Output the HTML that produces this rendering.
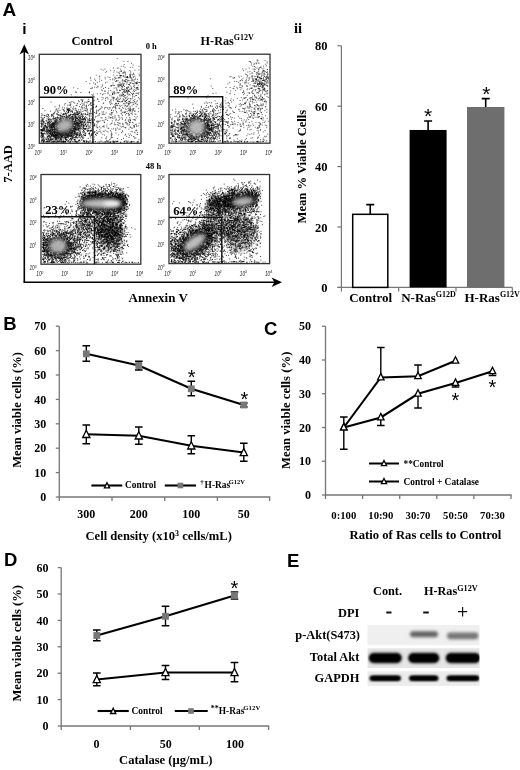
<!DOCTYPE html>
<html><head><meta charset="utf-8"><title>Figure</title>
<style>html,body{margin:0;padding:0;background:#fff}svg{display:block;filter:grayscale(1) blur(0.35px)}.sf{font-family:"Liberation Serif","DejaVu Serif",serif}.ss{font-family:"Liberation Sans","DejaVu Sans",sans-serif}</style>
</head><body>
<svg width="520" height="770" viewBox="0 0 520 770">
<defs><filter id="bl" x="-50%" y="-50%" width="200%" height="200%"><feGaussianBlur stdDeviation="2.2"/></filter>
<filter id="bl2" x="-20%" y="-50%" width="140%" height="200%"><feGaussianBlur stdDeviation="1.1"/></filter>
<filter id="bl3" x="-20%" y="-50%" width="140%" height="200%"><feGaussianBlur stdDeviation="0.8"/></filter>
<filter id="bl4" x="-20%" y="-80%" width="140%" height="260%"><feGaussianBlur stdDeviation="1.6"/></filter>
</defs>
<rect width="520" height="770" fill="#fff"/>
<text x="2.5" y="16.3" font-size="19" text-anchor="start" class="ss" font-weight="bold" >A</text>
<text x="22.3" y="33.7" font-size="15.5" text-anchor="start" class="ss" font-weight="bold" >i</text>
<text x="294" y="32.6" font-size="14.5" text-anchor="start" class="sf" font-weight="bold" >ii</text>
<text x="92.1" y="44.7" font-size="12.5" text-anchor="middle" class="sf" font-weight="bold" >Control</text>
<text x="200.6" y="44.7" font-size="12.2" text-anchor="start" class="sf" font-weight="bold">H-Ras<tspan font-size="8" dy="-4.7">G12V</tspan></text>
<text x="145.7" y="48.5" font-size="8.5" text-anchor="start" class="sf" font-weight="bold" >0 h</text>
<text x="145.8" y="169.2" font-size="8.5" text-anchor="start" class="sf" font-weight="bold" >48 h</text>
<path d="M24.3 282.3V50" stroke="#000" stroke-width="1.6" fill="none"/>
<path d="M24.3 44.2L29 54.6L24.3 51.8L19.6 54.6Z" fill="#000"/>
<path d="M23.5 282.3H276" stroke="#000" stroke-width="1.6" fill="none"/>
<path d="M282 282.3L271.6 287L274.4 282.3L271.6 277.6Z" fill="#000"/>
<text transform="translate(12.3,164) rotate(-90)" font-size="12.5" text-anchor="middle" class="sf" font-weight="bold">7-AAD</text>
<text x="158.2" y="302.4" font-size="13" text-anchor="middle" class="sf" font-weight="bold" >Annexin V</text>
<rect x="39.3" y="54.3" width="101.7" height="89.00000000000001" fill="#fff" stroke="#333" stroke-width="1.3"/>
<clipPath id="cp1"><rect x="39.9" y="54.9" width="100.5" height="87.80000000000001"/></clipPath>
<g clip-path="url(#cp1)">
<ellipse cx="63" cy="128" rx="17" ry="10" fill="#777" opacity="0.6" filter="url(#bl)" transform="rotate(-15 63 128)"/>
<path d="M61.3 131.8h1M59.7 125.4h1M51.8 128.7h1M76.7 126.3h1M75.5 125.2h1M68.0 127.0h1M45.9 139.4h1M70.0 129.0h1M51.7 126.6h1M66.4 125.6h1M67.5 120.2h1M67.5 128.9h1M72.2 134.2h1M54.1 123.5h1M58.8 127.4h1M70.8 126.7h1M55.6 121.3h1M59.9 138.2h1M54.3 131.7h1M64.4 114.1h1M66.6 136.8h1M59.9 121.1h1M68.6 124.8h1M48.2 138.5h1M72.9 131.9h1M80.4 124.7h1M61.3 116.6h1M68.6 120.1h1M54.8 118.9h1M50.7 126.4h1M73.0 106.9h1M46.9 134.0h1M80.9 126.3h1M65.4 120.1h1M52.5 138.4h1M76.0 124.3h1M66.8 129.4h1M82.7 126.1h1M70.2 129.3h1M75.2 127.7h1M68.4 110.2h1M63.3 135.4h1M69.0 123.9h1M68.3 130.8h1M67.1 135.3h1M54.4 126.2h1M75.0 123.5h1M55.1 137.4h1M78.7 118.4h1M46.9 130.9h1M60.6 125.3h1M76.7 114.2h1M74.5 112.8h1M55.5 134.6h1M78.0 129.6h1M67.3 126.9h1M66.1 130.9h1M61.6 129.7h1M69.6 125.0h1M73.1 128.6h1M86.8 122.4h1M57.2 125.7h1M65.0 134.1h1M60.1 131.1h1M78.0 100.9h1M50.7 132.8h1M68.1 127.4h1M59.6 133.5h1M65.0 122.0h1M91.7 121.1h1M56.4 128.2h1M60.3 127.3h1M71.8 114.5h1M64.5 134.5h1M76.3 135.4h1M42.7 130.3h1M60.6 133.0h1M69.2 102.6h1M72.1 112.1h1M67.3 113.2h1M67.8 135.5h1M61.7 129.0h1M72.5 125.3h1M65.6 139.0h1M74.3 121.0h1M91.8 108.5h1M72.9 121.7h1M66.2 131.9h1M67.1 131.1h1M41.9 120.9h1M67.8 117.5h1M47.8 119.4h1M79.3 128.2h1M77.7 114.6h1M60.3 118.3h1M75.5 136.4h1M56.5 142.1h1M73.9 122.1h1M60.5 122.7h1M68.6 128.7h1M77.8 113.9h1M79.5 134.3h1M79.2 120.5h1M56.9 137.4h1M64.6 127.5h1M78.7 119.9h1M43.7 139.8h1M65.2 121.2h1M64.9 133.4h1M67.0 136.9h1M64.8 135.2h1M83.9 134.0h1M57.4 136.1h1M43.0 142.1h1M48.8 131.3h1M60.7 127.5h1M56.8 130.9h1M83.6 121.0h1M71.5 132.8h1M57.8 118.1h1M59.2 137.2h1M42.7 128.3h1M76.4 129.5h1M65.0 133.1h1M62.1 117.4h1M43.6 127.7h1M72.2 119.4h1M50.8 124.3h1M45.2 131.5h1M50.3 134.0h1M51.1 114.4h1M70.7 122.3h1M65.3 122.5h1M73.7 129.9h1M71.4 127.1h1M79.8 127.3h1M63.2 109.5h1M76.4 133.8h1M58.5 124.5h1M81.1 106.7h1M54.0 135.6h1M84.3 119.4h1M71.6 131.9h1M52.4 129.5h1M68.3 132.3h1M62.1 125.6h1M50.5 127.9h1M73.5 124.6h1M51.2 123.6h1M96.3 126.3h1M64.2 104.9h1M71.3 128.5h1M83.3 124.3h1M63.5 131.2h1M43.2 141.8h1M65.1 120.5h1M82.5 136.1h1M45.3 126.9h1M66.8 127.4h1M56.1 121.0h1M89.8 127.4h1M46.1 121.0h1M84.9 128.5h1M85.8 126.7h1M53.6 132.1h1M63.6 131.2h1M54.4 128.6h1M69.1 128.3h1M70.8 126.3h1M61.2 134.2h1M61.6 120.5h1M55.8 129.2h1M62.1 128.6h1M63.4 128.3h1M58.5 117.9h1M70.3 133.6h1M67.5 124.0h1M65.8 118.0h1M41.4 134.2h1M54.1 136.0h1M44.4 110.8h1M55.4 117.9h1M55.5 133.7h1M69.1 126.6h1M81.7 127.1h1M64.2 131.6h1M84.3 128.6h1M72.2 115.1h1M63.0 133.1h1M62.1 136.2h1M72.0 131.8h1M76.7 121.0h1M61.1 134.9h1M74.3 123.6h1M50.1 132.6h1M69.8 134.4h1M72.0 124.4h1M74.1 128.1h1M65.5 126.7h1M61.8 133.1h1M49.4 125.9h1M59.6 115.8h1M53.3 113.2h1M56.5 133.8h1M69.4 124.6h1M57.0 117.0h1M85.2 124.5h1M73.4 116.4h1M56.6 113.8h1M74.2 131.4h1M41.1 133.3h1M66.1 111.3h1M52.5 118.5h1M64.0 128.8h1M71.9 130.1h1M83.0 130.6h1M46.8 127.8h1M48.3 122.5h1M62.1 127.3h1M64.9 113.1h1M48.8 131.2h1M60.0 125.3h1M60.5 121.4h1M71.9 127.2h1M60.4 122.2h1M54.6 106.8h1M51.8 130.8h1M46.2 133.9h1M61.4 115.9h1M59.4 125.5h1M69.7 130.0h1M60.6 120.6h1M61.2 127.0h1M72.1 126.6h1M51.5 119.2h1M57.0 122.7h1M50.0 130.1h1M57.6 129.5h1M68.0 122.0h1M88.9 116.3h1M75.9 124.0h1M70.2 104.9h1M55.0 131.6h1M69.7 135.6h1M74.0 131.5h1M68.5 124.0h1M66.3 117.0h1M74.1 115.0h1M60.5 127.9h1M76.4 123.1h1M54.4 131.8h1M71.4 130.4h1M82.2 121.2h1M65.1 122.8h1M77.5 116.6h1M69.6 120.9h1M56.7 135.0h1M78.3 122.2h1M57.2 135.6h1M63.2 129.5h1M83.1 130.2h1M64.9 133.0h1M55.5 129.0h1M75.8 112.9h1M41.9 119.9h1M75.4 119.3h1M61.6 124.8h1M59.0 119.1h1M59.9 115.9h1M62.9 129.6h1M67.8 123.6h1M53.0 131.4h1M61.1 140.7h1M71.5 123.4h1M55.9 123.3h1M51.4 127.6h1M67.6 129.9h1M74.5 141.0h1M55.0 129.6h1M90.6 102.8h1M57.4 130.1h1M65.7 129.6h1M61.1 130.6h1M65.4 132.7h1M60.5 119.1h1M52.5 135.5h1M57.0 134.2h1M72.3 126.7h1M68.6 124.4h1M46.8 131.8h1M67.0 121.3h1M63.6 133.1h1M54.4 135.0h1M83.0 116.2h1M64.3 125.3h1M81.4 124.0h1M71.7 118.5h1M62.8 127.0h1M69.2 110.4h1M71.2 123.4h1M69.0 128.2h1M45.3 130.7h1M78.8 117.3h1M48.1 120.2h1M49.8 133.9h1M83.4 124.3h1M55.5 123.7h1M70.4 129.3h1M48.6 121.7h1M66.9 127.9h1M47.5 130.1h1M57.9 132.4h1M61.5 126.8h1M61.4 136.3h1M78.1 119.3h1M70.9 118.2h1M65.6 132.5h1M79.5 118.7h1M62.6 128.8h1M45.9 132.4h1M56.1 132.2h1M45.4 115.9h1M64.1 128.9h1M58.8 135.7h1M58.4 123.3h1M64.8 113.3h1M55.2 129.2h1M72.3 122.7h1M65.0 120.9h1M70.4 138.6h1M55.7 129.4h1M67.4 134.2h1M43.9 115.3h1M71.8 130.9h1M65.9 128.2h1M74.5 126.5h1M79.1 111.6h1M50.6 102.0h1M71.4 121.3h1M78.7 140.2h1M62.3 125.1h1M55.3 122.4h1M57.3 134.1h1M63.6 127.4h1M63.2 134.6h1M68.3 124.2h1M70.3 123.5h1M53.2 142.2h1M66.1 118.0h1M76.2 125.8h1M68.9 132.6h1M64.9 125.2h1M47.5 139.9h1M62.7 124.7h1M67.2 126.4h1M69.9 121.8h1M57.5 110.8h1M59.7 133.7h1M77.5 119.5h1M65.4 139.5h1M61.0 133.8h1M82.3 121.4h1M75.4 117.2h1M65.2 125.7h1M67.0 135.2h1M88.8 113.4h1M57.6 132.8h1M52.1 134.5h1M68.9 122.9h1M65.4 113.3h1M68.1 112.5h1M53.7 125.2h1M60.4 135.0h1M63.0 123.7h1M73.0 137.2h1M63.9 129.8h1M77.8 124.7h1M83.6 104.0h1M63.5 130.3h1M75.7 128.7h1M57.4 119.9h1M66.6 134.5h1M48.1 123.0h1M58.1 112.3h1M59.0 124.6h1M66.5 120.0h1M52.0 127.1h1M60.9 122.1h1M64.9 132.7h1M80.6 135.8h1M53.0 126.6h1M54.6 129.3h1M65.8 114.8h1M68.3 125.2h1M42.8 135.7h1M72.3 108.5h1M72.7 125.7h1M69.5 128.7h1M77.4 120.7h1M72.0 120.8h1M69.4 118.2h1M65.9 140.6h1M67.7 124.2h1M48.0 125.0h1M67.4 133.5h1M69.1 129.5h1M65.7 137.5h1M57.2 124.2h1M73.3 124.3h1M58.4 123.6h1M61.5 132.7h1M64.2 116.5h1M68.3 126.9h1M53.4 136.5h1M59.0 125.4h1M75.2 134.3h1M56.1 132.8h1M60.2 137.9h1M57.5 135.5h1M82.4 99.7h1M59.2 132.4h1M60.4 122.2h1M87.9 120.0h1M46.2 139.4h1M46.0 141.9h1M56.7 130.2h1M77.7 123.4h1M43.0 119.0h1M78.3 128.5h1M55.7 136.5h1M70.2 130.2h1M75.1 129.4h1M67.3 105.1h1M66.1 130.2h1M90.0 110.7h1M59.3 128.4h1M72.1 120.5h1M74.3 116.9h1M64.8 122.0h1M63.2 121.2h1M47.3 141.0h1M65.2 121.7h1M67.6 133.9h1M51.5 129.6h1M70.4 129.1h1M54.2 112.1h1M78.0 125.1h1M62.5 124.8h1M65.0 122.8h1M49.5 125.0h1M54.7 124.4h1M51.2 136.0h1M49.5 136.7h1M52.2 133.3h1M79.2 123.7h1M54.7 130.0h1M60.6 113.2h1M56.4 130.4h1M57.8 129.3h1M73.2 130.3h1M74.8 128.3h1M59.7 127.9h1M59.2 125.6h1M56.9 114.5h1M59.1 128.0h1M51.8 130.3h1M68.5 123.9h1M80.6 99.7h1M56.3 113.8h1M68.2 122.8h1M64.0 107.9h1M73.6 126.8h1M61.9 122.4h1M69.2 121.0h1M64.4 122.3h1M67.1 132.0h1M52.9 129.9h1M70.4 125.9h1M82.0 137.8h1M48.0 115.5h1M76.4 135.7h1M75.5 129.9h1M54.2 123.7h1M71.0 116.9h1M96.1 132.9h1M53.4 123.9h1M63.9 120.5h1M77.8 121.8h1M53.6 140.9h1M56.8 130.8h1M62.1 124.6h1M65.1 120.6h1M46.7 125.7h1M62.9 127.5h1M69.7 125.9h1M52.2 124.4h1M69.8 129.3h1M61.2 126.1h1M73.8 123.8h1M72.8 128.8h1M68.5 136.2h1M55.6 126.3h1M51.9 123.8h1M85.0 134.9h1M64.6 131.3h1M78.4 129.0h1M73.8 113.1h1M56.7 132.7h1M79.7 122.7h1M52.3 127.3h1M53.4 122.8h1M78.7 116.9h1M77.4 125.4h1M57.0 132.3h1M83.1 126.0h1M77.7 123.3h1M68.4 123.6h1M71.0 135.4h1M46.4 131.6h1M64.4 121.8h1M61.3 134.1h1M87.4 124.7h1M63.1 114.0h1M85.3 120.8h1M60.0 118.6h1M59.8 118.8h1M64.9 130.3h1M64.0 129.0h1M56.6 140.9h1M51.2 115.4h1M59.0 121.8h1M50.6 127.9h1M63.5 116.9h1M64.8 138.4h1M70.5 123.4h1M64.2 125.6h1M64.2 132.8h1M56.3 109.0h1M60.7 120.3h1M69.0 120.0h1M48.3 122.1h1M41.2 113.7h1M42.3 136.4h1M51.3 115.0h1M47.5 137.0h1M53.2 126.9h1M70.0 136.2h1M87.7 128.0h1M65.1 127.9h1M87.0 131.5h1M60.5 131.6h1M66.4 126.4h1M54.1 118.6h1M53.2 117.1h1M78.3 126.8h1M52.5 141.9h1M68.7 109.3h1M86.0 126.7h1M83.8 110.3h1M70.1 128.4h1M65.7 127.6h1M71.5 111.8h1M45.5 120.7h1M55.2 124.4h1M67.8 127.7h1M61.8 121.7h1M60.2 135.8h1M72.0 125.1h1M63.0 140.0h1M57.7 134.1h1M75.6 120.9h1M69.8 115.5h1M75.1 124.9h1M46.4 137.7h1M55.8 140.0h1M54.8 128.1h1M65.5 123.5h1M64.7 121.9h1M70.7 124.7h1M58.9 105.2h1M76.4 123.1h1M42.8 134.1h1M70.9 133.5h1M62.9 132.7h1M56.2 119.8h1M77.7 130.0h1M82.7 128.1h1M52.5 116.3h1M53.9 124.1h1M55.0 134.3h1M66.1 123.8h1M64.6 125.3h1M67.2 132.0h1M72.4 118.4h1M66.9 135.0h1M43.4 130.3h1M59.9 115.9h1M58.8 134.4h1M79.1 135.4h1M49.8 119.4h1M71.2 132.3h1M62.1 116.4h1M73.8 130.3h1M68.2 121.3h1M68.4 132.0h1M52.2 114.9h1M67.9 129.5h1M65.3 133.7h1M56.1 128.5h1M60.9 132.4h1M80.7 119.4h1M90.2 131.4h1M73.5 128.7h1M82.9 119.3h1M59.2 119.3h1M71.6 135.6h1M70.1 128.3h1M61.1 129.0h1M49.1 140.1h1M55.7 120.0h1M52.4 123.4h1M75.3 132.1h1M49.6 138.9h1M71.8 119.4h1M44.2 126.6h1M56.5 131.9h1M54.1 112.8h1M62.1 114.4h1M70.5 114.6h1M53.0 122.9h1M59.8 138.8h1M74.2 128.6h1M63.0 114.0h1M55.7 124.6h1M53.0 134.4h1M52.8 124.2h1M46.2 115.0h1M73.0 135.1h1M62.7 118.9h1M77.6 125.0h1M77.1 135.0h1M74.9 119.6h1M76.9 129.2h1M44.4 129.4h1M46.4 131.2h1M67.1 116.8h1M70.8 136.9h1M50.3 139.8h1M91.5 135.0h1M61.2 129.8h1M63.6 135.2h1M75.1 124.0h1M49.2 137.5h1M59.1 133.5h1M69.9 138.5h1M75.0 119.5h1M71.2 139.2h1M57.9 132.2h1M79.6 132.4h1M65.8 115.1h1M49.1 133.4h1M55.8 138.8h1M67.9 111.5h1M54.0 131.2h1M57.0 127.6h1M66.5 119.1h1M66.8 120.5h1M58.0 133.0h1M57.1 131.2h1M81.4 121.5h1M63.1 133.1h1M61.4 136.6h1M49.8 136.3h1M55.2 122.7h1M81.3 114.2h1M84.7 125.8h1M77.3 114.4h1M80.2 133.9h1M61.4 126.4h1M91.6 119.6h1M56.7 123.7h1M68.9 127.9h1M69.1 139.5h1M60.4 131.8h1M77.4 114.2h1M79.2 137.3h1M44.9 123.4h1M46.7 116.6h1M63.8 111.2h1M72.2 136.3h1M43.7 130.3h1M42.9 139.8h1M53.9 127.6h1M64.9 131.0h1M59.1 128.3h1M57.0 129.8h1M49.7 131.6h1M85.1 120.8h1M49.2 133.4h1M47.9 117.8h1M56.3 135.2h1M67.2 124.9h1M49.8 122.0h1M79.1 124.1h1M47.1 114.2h1M49.6 130.5h1M65.0 125.1h1M56.6 117.5h1M56.3 136.1h1M42.9 130.9h1M68.4 134.0h1M51.5 135.5h1M65.7 120.0h1M66.3 118.4h1M53.8 129.7h1M48.1 119.4h1M59.9 134.3h1M61.4 138.1h1M46.6 121.1h1M81.7 124.5h1M71.9 117.3h1M72.8 126.1h1M70.5 124.9h1M75.3 117.8h1M48.5 119.1h1M74.6 117.2h1M48.8 123.5h1M54.9 118.9h1M58.2 123.2h1M54.4 121.6h1M62.3 123.3h1M64.9 128.5h1M61.7 109.1h1M55.0 122.8h1M68.1 112.2h1M54.1 127.3h1M61.5 135.8h1M60.2 135.9h1M41.9 118.3h1M78.0 126.0h1M68.9 126.2h1M65.7 116.0h1M72.6 119.6h1M74.5 124.2h1M75.6 122.0h1M59.0 130.3h1M56.8 124.3h1M64.5 127.7h1M80.5 122.0h1M88.8 134.1h1M85.2 129.0h1M64.8 127.6h1M59.6 121.9h1M60.7 122.3h1M83.1 125.3h1M53.4 113.9h1M61.4 124.0h1M47.9 122.2h1M62.3 126.0h1M79.9 122.9h1M64.0 123.6h1M59.6 140.6h1M78.5 136.6h1M59.1 128.5h1M55.2 137.5h1M48.4 136.3h1M78.9 133.9h1M54.8 138.7h1M53.0 123.7h1M50.6 140.5h1M80.5 116.6h1M53.5 127.1h1M94.1 125.8h1M52.5 115.2h1M58.1 138.5h1M83.8 118.3h1M53.9 125.6h1M43.5 140.6h1M53.1 139.0h1M40.4 123.3h1M64.5 120.1h1M72.0 124.3h1M51.0 135.9h1M68.1 109.4h1M85.1 124.3h1M67.3 110.1h1M53.9 126.9h1M71.9 112.0h1M48.1 114.6h1M61.1 130.5h1M42.3 128.5h1M72.6 137.3h1M69.9 122.3h1M47.3 124.0h1M55.7 130.5h1M66.4 139.9h1M63.8 117.8h1M82.9 128.8h1M62.5 121.1h1M71.6 117.6h1M48.3 133.2h1M67.2 130.8h1M73.8 135.4h1M55.7 137.5h1M53.3 135.8h1M65.6 128.2h1M74.1 123.4h1M77.8 129.7h1M63.2 122.2h1M53.1 125.6h1M60.6 127.5h1M98.7 121.3h1M69.8 117.7h1M54.1 127.1h1M62.8 118.4h1M80.1 117.0h1M69.8 105.3h1M63.6 129.1h1M66.6 130.9h1M66.6 127.2h1M66.1 124.4h1M52.2 125.5h1M88.2 133.7h1M65.4 137.1h1M55.4 122.0h1M57.0 130.4h1M96.1 111.2h1M64.2 128.9h1M64.8 134.2h1M80.4 111.2h1M64.2 124.4h1M63.5 114.0h1M69.5 126.6h1M58.2 108.7h1M56.9 122.6h1M44.6 125.0h1M72.3 128.7h1M64.0 131.0h1M56.3 129.7h1M64.8 131.1h1M61.9 126.2h1M59.9 122.5h1M89.8 123.0h1M75.4 110.1h1M73.0 130.9h1M87.7 130.4h1M69.1 115.3h1M53.7 132.1h1M66.4 117.4h1M57.6 125.3h1M64.5 129.4h1M56.8 118.6h1M81.0 134.8h1M64.2 135.2h1M69.7 130.5h1M66.7 119.5h1M72.0 132.7h1M91.3 133.5h1M87.6 125.6h1M57.7 123.6h1M54.0 130.8h1M64.2 132.2h1M89.0 118.7h1M71.9 128.2h1M65.6 124.4h1M59.6 121.1h1M65.0 126.2h1M64.6 119.3h1M63.6 127.2h1M67.4 116.7h1M70.1 133.0h1M69.0 122.1h1M56.8 126.9h1M75.0 136.3h1M59.7 122.6h1M67.8 127.2h1M50.8 124.6h1M63.4 132.5h1M46.9 123.4h1M65.8 115.9h1M65.1 129.3h1M59.3 119.6h1M61.5 124.7h1M64.9 119.4h1M71.6 110.3h1M61.0 127.7h1M72.6 118.9h1M67.9 120.7h1M75.6 137.7h1M59.4 131.8h1M54.7 137.7h1M77.0 123.0h1M50.9 134.1h1M78.7 131.3h1M68.0 110.1h1M58.6 140.3h1M51.6 140.0h1M86.4 126.1h1M75.1 120.5h1M48.7 130.6h1M60.6 127.3h1M70.6 123.4h1M66.2 129.6h1M67.3 141.1h1M68.3 126.1h1M59.1 123.0h1M78.8 123.4h1M49.3 126.5h1M60.4 124.1h1M72.7 114.3h1M69.0 126.4h1M49.6 131.5h1M63.1 131.2h1M58.6 130.9h1M41.3 124.6h1M74.5 132.2h1M61.4 122.5h1M70.5 107.2h1M55.4 135.0h1M68.0 116.8h1M62.6 119.6h1M65.8 133.7h1M66.6 108.5h1M67.6 110.7h1M77.0 126.0h1M87.4 114.3h1M65.5 135.0h1M54.0 123.9h1M58.6 127.8h1M51.7 134.5h1M69.4 125.6h1M81.7 118.5h1M76.7 118.2h1M67.1 109.5h1M64.9 125.0h1M55.9 124.1h1M57.3 122.7h1M55.5 124.9h1M50.6 129.7h1M71.4 122.3h1M60.6 139.1h1M76.4 130.6h1M75.5 120.4h1M64.1 136.0h1M56.4 128.1h1M68.2 128.5h1M62.2 135.5h1M62.7 133.2h1M76.8 128.2h1M68.7 115.5h1M46.5 126.9h1M72.0 136.8h1M49.7 133.7h1M51.5 124.4h1M61.5 133.3h1M68.2 135.3h1M53.8 137.3h1M73.8 124.2h1M67.1 121.0h1M49.5 127.8h1M61.3 141.3h1M66.1 128.7h1M69.7 118.4h1M74.4 126.6h1M47.0 137.0h1M70.4 128.5h1M80.2 118.2h1M70.6 130.9h1M55.5 139.4h1M43.3 122.2h1M66.4 116.8h1M57.8 114.8h1M61.1 118.1h1M63.3 114.1h1M67.5 123.4h1M63.6 126.3h1M61.4 116.4h1M51.2 126.8h1M63.2 110.3h1M52.8 125.0h1M51.7 133.2h1M59.5 121.2h1M53.6 136.7h1M56.8 133.8h1M63.7 110.9h1M50.6 130.9h1M68.8 131.7h1M74.6 132.1h1M58.2 126.7h1M70.9 121.0h1M71.4 111.1h1M70.1 123.4h1M42.8 141.5h1M66.6 126.1h1M49.6 127.3h1M78.4 115.3h1M48.9 130.2h1M56.3 121.4h1M55.8 138.0h1M54.2 120.6h1M73.4 128.5h1M52.8 136.4h1M75.3 121.1h1M49.3 135.5h1M73.5 123.6h1M41.5 130.8h1M69.6 131.4h1M83.6 118.5h1M57.4 128.4h1M74.6 115.5h1M71.5 101.4h1M70.5 119.0h1M69.9 130.6h1M49.2 130.5h1M67.1 130.6h1M50.0 122.7h1M60.3 126.0h1M48.1 139.4h1M60.3 139.9h1M72.8 124.1h1M68.7 115.9h1M57.9 123.8h1M48.5 131.6h1M64.7 138.5h1M51.4 126.7h1M68.8 128.6h1M62.2 123.3h1M68.4 134.1h1M62.5 131.5h1M61.9 123.6h1M56.6 123.2h1M66.5 136.9h1M89.8 141.8h1M46.3 127.1h1M44.0 133.6h1M93.7 137.0h1M60.0 133.5h1M90.3 124.0h1M65.8 124.4h1M60.8 139.4h1M57.6 125.1h1M60.4 136.2h1M53.1 135.2h1M73.9 129.7h1M52.2 129.4h1M43.6 129.2h1M54.9 132.8h1M82.7 142.1h1M52.4 136.1h1M65.0 137.5h1M60.4 133.3h1M52.0 124.3h1M74.8 142.0h1M71.3 134.7h1M64.5 127.2h1M63.4 126.3h1M43.6 141.9h1M47.8 130.8h1M51.4 132.3h1M56.4 124.6h1M78.3 124.3h1M51.4 135.7h1M50.9 127.3h1M66.1 127.9h1M41.4 139.2h1M46.6 128.0h1M54.4 133.3h1M76.9 137.9h1M47.1 138.7h1M58.2 134.0h1M55.4 136.6h1M79.0 140.6h1M56.5 139.5h1M84.7 123.0h1M85.0 119.6h1M69.2 136.0h1M85.2 133.4h1M51.8 124.2h1M56.0 124.9h1M69.0 124.5h1M52.6 127.1h1M57.3 117.6h1M64.7 131.6h1M65.9 135.8h1M54.6 138.9h1M74.2 132.8h1M53.1 126.9h1M71.8 121.7h1M57.3 124.6h1M59.6 131.3h1M74.9 118.3h1M58.9 133.5h1M74.1 121.8h1M72.2 132.9h1M83.0 140.7h1M60.0 127.4h1M54.2 123.0h1M59.5 115.0h1M58.6 134.6h1M76.9 128.0h1M83.6 125.5h1M57.7 115.0h1M47.1 124.3h1M84.8 135.4h1M41.7 135.4h1M68.0 129.1h1M60.4 128.5h1M51.0 116.3h1M58.5 141.7h1M83.8 128.7h1M47.6 129.2h1M74.9 133.9h1M50.3 134.0h1M56.6 135.3h1M53.2 118.8h1M61.0 137.3h1M41.6 130.1h1M74.6 127.9h1M73.7 139.5h1M72.2 142.0h1M44.6 125.5h1M63.3 115.0h1M70.6 135.6h1M52.6 135.4h1M72.8 133.6h1M52.1 132.3h1M51.4 139.5h1M53.3 134.9h1M62.3 131.5h1M88.3 130.3h1M83.3 137.8h1M81.7 129.6h1M75.3 137.2h1M49.9 133.2h1M57.9 130.7h1M81.4 125.1h1M52.6 125.7h1M60.2 135.6h1M88.9 133.5h1M67.6 125.0h1M69.5 142.1h1M82.0 115.0h1M73.5 118.8h1M55.0 135.8h1M66.8 124.4h1M45.4 138.9h1M60.3 133.5h1M71.3 119.0h1M93.9 119.5h1M67.9 137.0h1M53.9 129.3h1M56.1 126.3h1M64.1 132.3h1M49.7 133.1h1M59.8 130.4h1M78.1 116.9h1M64.1 122.3h1M42.3 130.2h1M50.3 138.8h1M44.0 117.3h1M68.4 128.1h1M54.8 139.8h1M45.5 128.0h1M62.4 134.4h1M51.6 139.4h1M96.6 127.7h1M90.5 113.8h1M83.0 128.2h1M62.2 128.2h1M49.6 120.6h1M53.6 141.6h1M78.6 128.2h1M51.4 125.3h1M70.8 132.0h1M52.0 122.7h1M81.5 137.4h1M44.5 139.1h1M41.9 136.2h1M44.3 127.6h1M68.1 134.5h1M76.5 124.2h1M85.8 142.0h1M59.8 134.8h1M47.3 129.8h1M63.3 142.0h1M75.5 137.6h1M54.1 129.2h1M54.4 132.8h1M60.4 126.8h1M87.1 130.2h1M85.7 140.6h1M51.9 134.3h1M81.2 128.3h1M61.4 126.4h1M61.0 128.1h1M61.3 139.2h1M82.7 132.1h1M63.3 138.0h1M55.3 122.4h1M78.1 123.4h1M75.2 123.1h1M89.9 122.5h1M46.6 116.6h1M71.8 136.7h1M56.7 110.4h1M59.1 128.5h1M53.8 128.6h1M54.1 125.2h1M66.5 139.7h1M71.8 121.5h1M62.6 132.1h1M83.5 140.8h1M68.5 140.9h1M53.0 134.2h1M75.0 123.5h1M48.5 116.7h1M62.7 130.6h1M54.7 135.1h1M61.4 128.8h1M52.7 123.3h1M50.1 131.8h1M69.6 124.0h1M76.3 122.6h1M73.5 134.5h1M55.7 129.6h1M67.8 138.0h1M47.9 136.1h1M82.4 131.4h1M58.3 132.5h1M69.2 132.3h1M53.5 125.0h1M57.1 140.9h1M58.3 142.0h1M64.5 130.9h1M80.4 120.5h1M43.8 122.0h1M51.0 136.2h1M69.7 114.4h1M83.8 126.2h1M58.7 120.9h1M49.6 125.1h1M43.5 128.3h1M74.3 133.9h1M43.8 131.9h1M60.5 137.2h1M54.6 134.7h1M94.4 131.8h1M42.3 133.7h1M46.9 128.0h1M63.1 133.7h1M55.4 137.9h1M56.9 120.4h1M74.3 128.0h1M79.8 125.7h1M69.3 133.6h1M77.8 135.0h1M71.0 127.0h1M59.8 132.8h1M66.9 136.8h1M56.6 125.3h1M50.8 134.4h1M53.3 126.5h1M55.6 109.3h1M54.4 129.0h1M72.7 114.8h1M55.0 134.9h1M68.0 140.8h1M77.2 122.4h1M70.4 128.3h1M49.7 124.0h1M53.3 124.0h1M76.5 134.1h1M82.9 134.4h1M49.9 139.6h1M49.3 127.2h1M57.3 131.3h1M79.5 126.0h1M65.8 130.8h1M56.4 134.3h1M65.2 134.9h1M60.8 127.3h1M67.0 122.8h1M47.8 126.5h1M59.3 124.4h1M53.1 117.0h1M62.4 123.8h1M66.6 107.8h1M46.9 133.0h1M61.5 131.8h1M62.4 123.0h1M72.2 130.6h1M60.3 127.3h1M69.0 131.8h1M78.7 134.7h1M49.9 129.2h1M75.1 128.0h1M66.3 135.3h1M57.1 111.9h1M62.2 132.8h1M62.2 124.8h1M79.9 129.9h1M49.8 125.1h1M65.9 122.0h1M81.5 139.7h1M82.4 135.9h1M80.4 135.0h1M82.5 127.0h1M62.1 137.4h1M58.6 140.0h1M61.3 136.7h1M61.4 118.8h1M64.6 141.8h1M69.1 126.1h1M60.3 115.2h1M56.9 138.5h1M73.6 141.9h1M44.7 125.6h1M67.0 126.9h1M96.2 110.2h1M58.9 132.8h1M97.4 132.1h1M76.2 142.3h1M68.5 134.0h1M57.0 127.6h1M52.6 113.8h1M64.4 130.7h1M58.2 128.8h1M47.7 130.8h1M52.7 132.7h1M111.6 134.3h1M74.3 137.7h1M71.8 137.8h1M76.7 142.2h1M51.7 131.0h1M47.9 138.9h1M73.8 127.1h1M80.5 121.8h1M58.5 136.3h1M59.4 134.2h1M79.5 133.7h1M41.8 136.9h1M58.4 131.9h1M50.6 119.6h1M42.3 108.5h1M79.0 121.4h1M48.0 135.4h1M47.3 136.5h1M52.0 133.5h1M61.7 131.0h1M51.0 135.4h1M62.7 135.0h1M76.4 118.6h1M64.5 129.5h1M54.8 123.9h1M47.0 122.5h1M88.2 131.1h1M72.3 122.9h1M59.3 122.7h1M56.0 122.7h1M53.4 124.3h1M45.3 123.3h1M40.8 129.7h1M61.7 135.6h1M78.7 126.4h1M64.9 125.2h1M76.8 115.1h1M63.4 129.1h1M63.6 127.0h1M67.4 136.3h1M72.7 135.8h1M66.8 121.3h1M53.0 132.1h1M53.7 122.3h1M60.5 126.2h1M53.1 123.6h1M47.6 130.2h1M49.3 136.6h1M57.6 132.1h1M66.7 141.5h1M70.0 132.9h1M57.3 124.3h1M54.3 136.7h1M63.8 127.8h1M65.3 139.5h1M66.2 119.6h1M56.5 132.8h1M44.8 133.9h1M56.7 124.1h1M65.9 123.6h1M43.2 138.4h1M69.9 128.5h1M86.4 128.6h1M42.5 140.0h1M56.9 133.9h1M60.6 122.7h1M40.3 129.4h1M83.3 122.7h1M82.5 132.8h1M41.6 133.2h1M69.4 123.6h1M41.6 134.6h1M46.6 118.8h1M56.0 132.4h1M50.8 121.2h1M63.5 116.5h1M68.8 135.1h1M87.7 138.3h1M65.9 133.2h1M60.5 120.0h1M84.2 135.4h1M55.3 121.5h1M84.5 135.4h1M40.4 136.6h1M91.3 130.8h1M66.6 127.6h1M49.6 139.9h1M110.9 132.0h1M58.0 137.6h1M55.0 137.0h1M73.7 122.6h1M42.3 130.4h1M73.7 133.3h1M80.5 119.6h1M68.1 125.9h1M61.7 133.7h1M44.0 129.1h1M40.8 133.2h1M46.0 126.9h1M63.6 125.6h1M78.9 125.7h1M74.0 133.3h1M42.9 129.2h1M46.2 128.0h1M67.4 120.2h1M77.0 134.2h1M56.5 128.9h1M64.3 128.5h1M51.2 128.0h1M79.3 125.9h1M66.3 121.5h1M48.3 119.7h1M56.7 136.6h1M65.0 126.9h1M70.1 128.1h1M66.1 133.3h1M68.9 110.6h1M56.1 126.5h1M84.6 135.6h1M91.2 135.2h1M56.7 137.0h1M47.0 127.3h1M50.9 129.2h1M72.8 127.0h1M65.3 126.9h1M74.5 108.3h1M56.6 132.4h1M42.3 139.3h1M63.6 141.5h1M75.8 136.3h1M57.5 122.1h1M56.4 127.2h1M64.1 127.2h1M110.2 117.9h1M79.3 127.1h1M56.0 138.6h1M60.0 121.0h1M66.8 129.4h1M42.7 124.9h1M67.9 133.5h1M66.9 126.0h1M63.9 130.0h1M57.0 128.7h1M50.7 139.1h1M58.1 134.1h1M52.9 129.6h1M44.4 125.7h1M79.9 133.1h1M80.1 138.0h1M75.1 139.2h1M50.1 137.6h1M54.7 126.7h1M73.6 124.1h1M64.5 134.0h1M66.1 128.1h1M74.1 137.4h1M70.8 140.0h1M43.8 130.7h1M65.6 139.2h1M62.6 135.2h1M100.5 132.9h1M67.6 136.5h1M76.7 132.6h1M46.0 130.2h1M65.5 128.7h1M49.1 128.1h1M58.5 128.0h1M64.9 130.7h1M40.8 122.2h1M66.1 123.9h1M67.0 122.2h1M62.2 130.4h1M76.3 127.8h1M53.9 133.0h1M55.8 126.6h1M54.8 134.9h1M63.8 136.7h1M90.1 130.7h1M66.8 112.7h1M60.2 118.9h1M76.9 118.7h1M82.6 138.4h1M54.1 135.1h1M84.8 128.3h1M59.7 126.4h1M78.9 113.4h1M83.2 123.1h1M75.2 117.7h1M44.7 126.1h1M73.5 117.7h1M69.9 125.8h1M80.3 128.5h1M68.0 129.6h1M89.3 128.1h1M61.3 136.6h1M47.9 132.6h1M49.4 118.7h1M67.0 118.6h1M89.7 125.3h1M54.0 133.0h1M41.4 117.8h1M47.8 140.7h1M75.6 118.1h1M79.7 131.3h1M68.2 131.4h1M66.8 122.8h1M45.1 125.2h1M54.0 136.1h1M49.7 126.2h1M71.5 134.5h1M54.5 122.2h1M43.6 117.9h1M78.7 139.9h1M90.6 135.1h1M65.4 137.2h1M75.6 128.9h1M44.2 137.2h1M79.4 128.2h1M71.0 130.6h1M64.9 126.6h1M59.6 131.0h1M59.9 138.9h1M77.4 137.4h1M73.2 123.2h1M79.8 123.2h1M81.1 136.5h1M43.8 140.5h1M48.8 124.9h1M76.7 125.5h1M90.2 136.7h1M51.2 121.1h1M81.3 122.3h1M60.0 128.7h1M55.8 135.1h1M94.3 125.8h1M73.9 139.9h1M55.3 129.8h1M51.3 125.6h1M61.1 124.0h1M42.9 128.6h1M84.4 129.3h1M68.6 119.0h1M53.5 118.4h1M58.3 136.0h1M64.3 123.4h1M73.1 138.9h1M67.3 127.5h1M59.2 125.8h1M57.9 133.6h1M55.1 139.0h1M102.6 126.5h1M65.6 137.8h1M70.6 129.0h1M52.1 139.2h1M70.3 135.2h1M46.8 136.2h1M73.0 129.5h1M40.8 119.8h1M56.1 135.5h1M60.9 121.4h1M60.2 124.2h1M46.2 129.7h1M51.0 126.2h1M60.7 128.6h1M70.2 121.3h1M58.8 137.3h1M79.4 135.6h1M60.6 118.2h1M71.1 135.7h1M42.6 121.3h1M62.6 122.6h1M86.1 125.9h1M50.7 138.1h1M65.4 123.6h1M42.2 115.0h1M70.3 136.8h1M76.1 134.5h1M49.0 121.3h1M41.7 137.3h1M67.8 115.2h1M74.8 141.3h1M60.5 121.0h1M89.2 120.2h1M58.6 115.2h1M78.0 140.7h1M53.3 119.8h1M59.0 134.1h1M58.3 136.8h1M61.2 134.7h1M65.2 123.4h1M57.9 127.9h1M68.0 124.6h1M83.9 131.3h1M68.8 136.2h1M77.2 134.4h1M90.9 134.9h1M69.3 134.9h1M49.4 125.4h1M49.3 140.6h1M67.6 121.2h1M89.0 133.8h1M79.8 132.8h1M54.6 132.4h1M41.3 121.0h1M45.2 126.6h1M90.7 130.6h1M74.8 129.2h1M66.5 130.7h1M51.0 131.6h1M55.2 122.0h1M54.0 135.6h1M48.6 135.0h1M41.8 130.1h1M64.4 137.3h1M87.8 128.6h1M96.2 124.9h1M55.3 117.6h1M70.7 133.2h1M93.8 132.4h1M55.8 119.2h1M58.6 138.9h1M72.4 141.3h1M74.5 130.6h1M70.1 132.4h1M66.3 122.2h1M66.5 133.4h1M85.7 123.0h1M65.7 133.9h1M41.3 127.1h1M63.3 137.3h1M96.9 133.5h1M49.9 111.1h1M78.1 129.9h1M113.8 141.9h1M52.9 141.1h1M77.8 141.1h1M86.5 141.2h1M129.7 142.3h1M46.5 141.8h1M60.2 141.6h1M131.4 141.9h1M52.1 141.5h1M84.0 141.2h1M113.0 141.2h1M87.2 142.0h1M109.7 142.1h1M100.2 141.2h1M62.6 142.0h1M43.2 141.3h1M43.2 141.2h1M132.8 141.7h1M54.9 141.1h1M116.3 141.3h1M55.9 142.2h1M47.2 141.2h1M94.8 141.7h1M79.7 141.1h1M115.1 141.2h1M85.9 141.4h1M105.4 141.6h1M82.9 141.3h1M75.2 141.3h1M125.6 141.3h1M76.7 141.8h1M116.8 141.4h1M117.5 141.1h1M46.9 141.4h1M92.2 142.1h1M112.2 141.2h1M65.0 141.8h1M74.7 141.8h1M48.9 142.1h1M115.8 141.7h1M64.7 142.0h1M41.4 141.6h1M120.1 142.3h1M76.6 142.3h1M137.5 141.5h1M48.4 141.6h1M40.7 141.7h1M57.2 142.1h1M64.6 141.7h1M60.6 141.7h1M70.2 141.2h1M46.1 141.1h1M76.1 141.4h1M50.8 142.2h1M57.4 141.3h1M70.1 142.0h1M109.4 142.1h1M113.4 141.3h1M134.1 141.9h1M123.9 141.2h1M123.6 141.6h1M107.5 141.7h1M131.3 141.4h1M106.5 141.5h1M53.9 141.3h1M62.0 141.2h1M64.9 141.9h1M92.5 141.3h1M68.3 141.9h1M117.1 141.6h1M59.0 141.6h1M78.4 141.9h1M104.5 142.1h1M127.7 141.2h1M63.2 141.2h1M83.9 141.4h1M48.8 141.4h1M88.1 142.1h1M51.3 142.0h1M46.6 142.1h1M126.6 142.0h1M63.7 142.1h1M127.2 142.1h1M47.7 142.2h1M113.7 142.0h1M85.4 142.2h1M76.0 142.0h1M57.6 141.9h1M126.5 142.3h1M131.1 142.1h1M131.0 142.0h1M61.4 141.9h1M83.9 142.0h1M102.5 142.1h1M124.1 142.1h1M41.6 142.3h1M53.3 142.1h1M54.5 142.0h1M129.5 142.0h1M63.1 142.1h1M136.6 142.2h1M49.9 141.9h1M68.8 142.2h1M51.2 142.1h1M137.2 142.1h1M97.3 142.1h1M109.7 142.2h1M63.4 142.3h1M105.2 142.1h1M136.7 142.1h1M130.8 142.1h1M114.1 142.3h1M52.3 142.1h1M61.2 142.2h1M42.9 142.0h1M83.8 142.1h1M88.3 141.9h1M108.0 142.1h1M69.9 142.2h1M99.2 142.1h1M113.1 142.2h1M46.4 141.9h1M137.9 142.0h1M88.0 142.2h1M44.9 142.0h1M55.8 142.0h1M113.4 142.2h1M89.3 142.1h1M44.5 142.1h1M109.7 142.3h1M112.2 142.1h1M62.8 142.0h1M53.4 142.1h1M98.5 142.0h1M103.8 142.1h1M61.8 142.2h1M60.1 142.2h1M106.7 142.2h1M55.3 142.1h1M120.1 142.2h1M48.4 141.9h1M91.5 142.1h1M86.3 142.1h1M68.1 123.5h1M70.0 111.8h1M76.6 114.4h1M88.8 114.7h1M70.8 123.7h1M71.8 116.3h1M78.0 128.0h1M66.5 109.7h1M74.1 128.3h1M94.1 97.0h1M73.1 118.2h1M66.2 129.9h1M78.7 120.1h1M98.4 101.5h1M89.3 118.1h1M69.3 118.4h1M96.1 112.3h1M74.6 110.0h1M88.8 115.6h1M105.6 113.0h1M86.9 114.4h1M76.2 114.1h1M82.0 117.5h1M89.1 120.7h1M78.6 112.5h1M92.6 122.6h1M71.8 126.2h1M85.6 117.8h1M82.5 114.1h1M84.4 129.5h1M88.5 97.6h1M55.5 137.5h1M69.2 119.1h1M64.2 130.8h1M75.1 114.9h1M97.3 127.7h1M97.4 115.8h1M76.9 124.9h1M82.7 125.7h1M83.5 113.9h1M80.2 109.8h1M92.2 122.4h1M77.0 123.9h1M66.1 135.0h1M82.0 105.7h1M95.3 107.3h1M55.3 120.6h1M85.2 110.5h1M81.8 100.8h1M81.3 124.9h1M74.5 126.8h1M76.1 122.6h1M90.9 130.2h1M69.5 131.1h1M85.7 102.2h1M88.9 132.3h1M75.1 92.1h1M68.2 108.6h1M77.7 111.3h1M68.9 116.3h1M78.8 113.1h1M68.3 122.5h1M78.2 109.8h1M81.4 100.0h1M80.2 112.8h1M90.3 103.5h1M65.7 113.8h1M99.8 108.9h1M66.1 123.0h1M75.5 134.1h1M73.1 102.2h1M84.0 122.5h1M80.1 121.0h1M77.9 120.1h1M76.9 112.1h1M82.1 116.8h1M74.6 113.9h1M69.3 126.3h1M75.3 97.1h1M78.8 130.2h1M83.7 107.4h1M86.7 102.8h1M78.9 135.6h1M72.9 119.5h1M57.7 122.4h1M66.1 124.9h1M65.0 136.9h1M71.9 116.5h1M75.2 127.0h1M91.0 105.3h1M100.6 117.7h1M92.2 111.1h1M66.6 132.1h1M74.9 121.9h1M58.6 128.6h1M76.1 110.4h1M88.2 126.8h1M77.2 112.1h1M91.5 88.5h1M70.9 126.7h1M62.2 107.2h1M84.2 121.6h1M76.8 132.7h1M88.1 122.4h1M63.3 128.0h1M102.3 120.4h1M90.7 109.3h1M77.0 112.8h1M85.5 106.3h1M70.1 103.9h1M71.3 139.4h1M79.5 119.0h1M56.7 132.3h1M91.4 94.7h1M54.3 132.7h1M71.9 120.2h1M59.9 117.6h1M68.9 130.3h1M81.2 123.6h1M70.2 128.9h1M74.1 121.5h1M87.2 112.0h1M67.3 109.6h1M82.1 122.6h1M71.6 121.8h1M55.0 121.1h1M87.6 123.7h1M67.6 109.3h1M67.4 110.4h1M83.9 132.3h1M80.2 115.0h1M86.4 108.7h1M82.1 117.1h1M75.8 105.5h1M88.8 119.0h1M43.8 115.6h1M75.9 133.6h1M81.2 122.3h1M87.3 120.1h1M69.2 118.4h1M84.4 119.4h1M85.1 116.4h1M78.2 128.4h1M87.3 121.8h1M57.7 141.5h1M55.2 135.6h1M72.1 123.2h1M72.0 119.2h1M81.4 119.0h1M59.0 106.9h1M72.8 126.7h1M71.7 126.4h1M70.2 114.3h1M96.8 121.0h1M76.8 118.4h1M81.4 103.0h1M74.5 131.2h1M84.6 108.8h1M72.0 125.5h1M62.0 124.2h1M64.7 103.5h1M87.2 119.0h1M82.0 101.5h1M61.8 121.3h1M74.4 140.2h1M67.0 122.5h1M82.1 119.6h1M87.4 101.2h1M87.3 113.1h1M67.2 126.9h1M71.5 138.0h1M75.3 129.5h1M88.0 105.2h1M69.8 124.9h1M71.7 130.9h1M76.3 111.8h1M74.5 127.4h1M71.3 138.8h1M69.4 122.0h1M76.2 134.9h1M91.9 121.0h1M84.8 114.2h1M97.7 110.9h1M84.9 118.8h1M86.5 114.9h1M69.2 108.6h1M92.4 95.6h1M53.6 127.8h1M102.6 113.0h1M73.3 123.8h1M68.8 105.1h1M76.0 122.2h1M84.2 102.2h1M48.6 122.9h1M81.6 116.3h1M80.1 118.0h1M68.2 111.5h1M84.2 117.5h1M89.3 122.3h1M55.2 111.0h1M70.8 126.8h1M81.1 122.9h1M107.4 92.9h1M73.6 115.2h1M82.8 119.8h1M74.3 133.3h1M91.4 113.2h1M75.8 117.2h1M64.7 133.5h1M66.1 121.3h1M83.7 105.2h1M76.7 127.2h1M93.3 100.9h1M86.0 106.2h1M84.0 118.6h1M71.4 132.5h1M96.1 106.2h1M75.4 108.4h1M96.0 106.3h1M68.8 131.7h1M60.4 123.4h1M63.1 141.5h1M97.0 98.8h1M68.9 118.6h1M74.9 125.5h1M87.9 101.5h1M74.2 103.1h1M92.7 107.1h1M78.0 132.9h1M83.1 127.8h1M96.1 121.7h1M70.3 123.8h1M80.8 114.2h1M89.9 103.0h1M94.1 120.2h1M54.3 124.8h1M66.6 120.5h1M81.1 114.2h1M76.7 114.4h1M79.4 121.8h1M81.9 107.8h1M73.4 113.7h1M69.7 109.7h1M90.5 116.0h1M73.7 114.3h1M70.5 116.7h1M70.1 139.2h1M105.0 87.6h1M69.1 129.7h1M76.9 103.5h1M61.4 134.6h1M64.7 140.9h1M73.5 121.9h1M75.4 114.3h1M75.2 117.0h1M89.9 109.0h1M75.3 114.7h1M68.4 117.4h1M86.4 130.1h1M90.1 112.0h1M99.1 113.4h1M79.3 115.5h1M68.3 127.1h1M67.7 109.7h1M74.0 139.5h1M82.4 119.8h1M77.9 113.6h1M87.5 122.0h1M77.3 123.5h1M86.0 107.9h1M76.3 112.0h1M82.3 111.5h1M85.9 105.2h1M93.3 104.5h1M65.6 117.7h1M80.7 107.9h1M101.7 114.2h1M76.7 105.1h1M74.5 113.4h1M62.0 133.1h1M97.4 99.5h1M91.8 121.0h1M66.9 122.3h1M82.8 119.3h1M67.6 127.2h1M81.2 125.0h1M59.6 125.1h1M71.6 119.3h1M82.3 109.0h1M101.9 94.8h1M90.9 119.0h1M86.6 110.1h1M68.6 121.9h1M85.1 114.3h1M86.4 117.9h1M65.0 117.8h1M90.1 105.0h1M70.7 141.0h1M65.5 117.5h1M82.5 104.0h1M74.1 130.8h1M81.2 140.1h1M91.1 135.1h1M79.5 117.5h1M70.6 120.9h1M72.9 121.2h1M79.9 104.4h1M59.5 110.4h1M92.6 107.3h1M77.6 117.7h1M89.4 113.3h1M85.7 111.1h1M76.5 118.5h1M64.5 137.8h1M57.9 122.1h1M84.9 113.8h1M93.8 123.8h1M102.7 114.5h1M85.0 133.1h1M68.9 123.4h1M86.9 109.8h1M75.2 116.5h1M80.4 92.5h1M95.4 116.4h1M79.8 122.2h1M73.4 131.9h1M104.2 91.2h1M91.6 108.2h1M72.5 117.1h1M70.5 111.0h1M72.1 138.2h1M80.3 121.8h1M83.2 119.0h1M58.6 122.1h1M88.8 120.3h1M64.1 121.9h1M70.4 129.6h1M81.6 115.9h1M73.1 124.7h1M41.3 123.3h1M41.7 124.0h1M42.4 135.6h1M40.5 135.3h1M41.4 123.6h1M42.7 124.3h1M41.5 133.1h1M42.2 134.0h1M42.8 136.9h1M40.4 133.6h1M41.3 135.2h1M40.9 137.5h1M42.9 122.4h1M40.6 132.3h1M41.9 131.3h1M42.3 119.4h1M42.2 140.5h1M42.6 133.8h1M41.0 133.6h1M41.2 115.7h1M40.6 129.6h1M40.7 121.6h1M41.0 126.7h1M41.4 129.6h1M41.5 138.9h1M41.5 133.7h1M40.8 136.1h1M40.9 124.4h1M40.7 132.2h1M42.7 134.8h1M44.0 128.8h1M42.4 136.2h1M40.5 130.4h1M40.6 120.8h1M41.7 123.0h1M43.3 123.3h1M40.6 130.8h1M40.7 130.5h1M40.6 117.2h1M43.1 134.0h1M41.5 125.8h1M41.1 132.7h1M41.2 130.3h1M42.9 137.9h1M42.4 120.4h1M41.2 125.6h1M41.7 130.1h1M42.4 129.8h1M43.1 121.4h1M42.4 121.0h1M43.0 127.5h1M42.8 126.3h1M41.8 140.3h1M40.6 126.6h1M41.1 140.5h1" stroke="#000" stroke-width="1.0" stroke-opacity="0.7" fill="none"/>
<path d="M118.6 85.7h1M125.0 79.4h1M120.9 84.1h1M129.8 67.4h1M130.1 71.8h1M128.1 113.4h1M119.3 85.2h1M125.7 97.8h1M123.7 64.6h1M113.5 88.1h1M130.3 98.8h1M123.2 94.0h1M118.4 101.5h1M127.4 77.9h1M129.6 106.9h1M120.4 71.1h1M118.9 72.1h1M127.5 90.2h1M126.5 88.4h1M138.7 82.5h1M116.7 58.6h1M130.2 77.8h1M125.8 90.9h1M132.2 67.2h1M119.4 86.9h1M126.7 99.8h1M123.5 61.2h1M138.5 66.4h1M119.3 90.7h1M118.5 115.9h1M130.1 92.4h1M124.1 112.6h1M132.9 77.4h1M122.7 89.5h1M129.2 74.5h1M119.6 90.5h1M122.3 80.8h1M136.9 87.5h1M127.0 87.2h1M117.4 100.7h1M121.2 101.7h1M123.9 80.5h1M122.2 79.6h1M133.4 108.5h1M133.5 81.3h1M117.9 77.9h1M126.9 88.9h1M122.1 101.4h1M119.4 77.4h1M132.5 91.8h1M124.5 97.5h1M115.3 105.6h1M129.1 109.6h1M128.5 102.0h1M126.2 88.3h1M132.7 65.0h1M126.1 106.6h1M101.7 90.6h1M136.3 89.9h1M129.8 102.6h1M131.0 63.3h1M119.5 82.4h1M129.3 80.6h1M127.1 106.0h1M101.6 99.8h1M136.4 93.2h1M128.1 86.8h1M131.3 88.9h1M121.5 95.4h1M120.6 85.5h1M124.8 72.2h1M133.4 85.2h1M117.5 85.1h1M115.6 103.2h1M132.6 109.8h1M122.9 94.5h1M119.3 75.8h1M127.2 90.9h1M136.3 82.8h1M137.9 97.6h1M120.1 83.9h1M119.8 106.4h1M123.1 96.6h1M136.2 83.0h1M123.6 90.1h1M121.0 70.9h1M119.3 90.1h1M129.7 107.1h1M111.6 92.0h1M117.7 99.8h1M134.2 87.5h1M123.3 73.4h1M122.1 87.4h1M134.0 101.3h1M125.6 77.3h1M125.0 80.9h1M123.8 81.2h1M120.2 85.4h1M123.4 84.0h1M115.6 87.7h1M133.1 93.7h1M123.1 72.4h1M116.4 72.0h1M122.3 82.3h1M112.1 94.0h1M114.2 77.8h1M121.6 95.9h1M125.6 81.3h1M126.2 84.0h1M127.0 76.6h1M131.2 79.8h1M133.1 73.2h1M112.2 94.3h1M123.8 72.3h1M131.9 79.9h1M134.6 79.5h1M136.0 87.8h1M131.2 87.9h1M124.8 81.7h1M132.0 94.4h1M124.4 112.5h1M137.7 85.2h1M130.1 76.7h1M127.3 77.4h1M116.3 80.7h1M131.2 80.9h1M124.9 73.3h1M130.2 73.1h1M135.4 114.4h1M125.1 105.5h1M131.3 78.1h1M124.9 74.7h1M129.0 94.3h1M136.3 82.7h1M117.4 85.1h1M127.4 61.5h1M124.2 92.4h1M119.6 101.9h1M123.0 75.7h1M122.9 84.9h1M136.9 79.4h1M112.2 85.1h1M132.6 104.2h1M118.0 103.5h1M134.0 91.4h1M121.2 75.6h1M119.5 97.0h1M129.9 98.6h1M127.6 108.6h1M116.4 80.8h1M124.7 81.6h1M129.3 76.2h1M138.3 70.0h1M120.8 66.2h1M115.6 93.0h1M133.6 83.7h1M135.5 93.3h1M122.9 85.6h1M131.3 109.7h1M124.1 90.4h1M132.8 100.4h1M131.8 98.7h1M118.6 83.0h1M110.9 85.5h1M128.8 89.2h1M129.3 70.5h1M121.9 84.0h1M129.5 75.9h1M127.1 77.5h1M116.3 78.3h1M120.9 95.9h1M126.1 79.5h1M114.1 79.9h1M130.0 83.2h1M128.0 91.0h1M127.9 91.1h1M121.2 86.6h1M124.9 98.7h1M117.0 101.3h1M127.2 80.2h1M128.2 87.5h1M125.9 91.0h1M122.9 66.2h1M134.2 85.8h1M110.3 100.6h1M121.9 92.5h1M118.3 85.0h1M113.8 93.9h1M133.0 74.1h1M132.0 97.0h1M135.1 78.2h1M121.9 73.0h1M116.6 89.8h1M128.4 101.3h1M130.4 82.3h1M115.4 104.1h1M129.5 85.7h1M119.1 73.8h1M133.6 74.7h1M133.2 93.4h1M124.6 67.2h1M131.6 102.5h1M120.7 71.4h1M137.6 87.8h1M122.5 100.4h1M125.6 91.4h1M124.4 77.3h1M129.9 76.1h1M112.3 79.8h1M138.9 98.9h1M124.2 91.5h1M119.6 94.7h1M124.0 89.1h1M120.5 84.6h1M136.7 83.6h1M122.1 89.4h1M135.8 83.9h1M117.7 68.0h1M116.2 98.5h1M127.2 91.7h1M137.5 89.4h1M132.3 80.2h1M113.8 93.4h1M127.2 92.8h1M118.6 84.5h1M128.9 101.4h1M126.0 87.6h1M109.2 95.1h1M124.1 101.1h1M127.2 81.8h1M131.8 83.4h1M123.5 104.0h1M136.7 87.4h1M135.1 95.7h1M133.1 86.7h1M128.6 90.9h1M133.0 90.3h1M123.1 85.3h1M132.0 74.8h1M127.9 94.9h1M129.5 82.9h1M127.8 80.6h1M136.7 81.8h1M113.3 72.2h1M130.6 88.6h1M123.8 71.0h1M126.7 76.5h1M122.2 86.2h1M121.2 89.8h1M121.5 80.8h1M126.0 103.0h1M121.5 86.2h1M136.1 95.5h1M113.7 85.5h1M121.5 94.8h1M133.6 80.0h1M121.1 139.5h1M116.3 105.4h1M137.9 111.7h1M127.1 94.2h1M125.8 122.4h1M116.6 105.4h1M105.1 117.5h1M135.3 124.5h1M131.9 122.4h1M112.1 93.5h1M128.9 114.6h1M132.6 108.3h1M112.5 118.6h1M116.0 88.8h1M115.5 99.7h1M110.0 104.4h1M134.3 111.2h1M126.3 102.6h1M121.2 88.3h1M128.3 103.9h1M124.9 95.4h1M118.0 125.3h1M128.4 84.5h1M131.2 93.5h1M125.1 119.7h1M115.1 107.7h1M119.4 118.0h1M131.8 131.7h1M125.5 140.7h1M111.8 137.6h1M119.2 123.2h1M120.6 113.4h1M112.1 117.8h1M121.8 112.3h1M129.7 109.3h1M122.0 115.3h1M136.0 125.8h1M110.7 103.2h1M122.2 124.3h1M132.4 109.3h1M137.1 132.5h1M128.2 90.5h1M102.8 103.5h1M129.7 127.4h1M120.9 127.1h1M128.2 134.0h1M104.9 100.4h1M111.7 97.4h1M113.1 106.6h1M131.5 105.7h1M129.9 120.1h1M115.1 78.6h1M112.1 94.5h1M110.5 117.6h1M122.6 98.9h1M133.8 125.3h1M125.0 101.4h1M112.6 83.0h1M126.1 117.8h1M112.1 112.6h1M103.6 120.9h1M117.4 105.2h1M128.7 110.4h1M132.7 119.6h1M134.5 113.9h1M98.7 131.6h1M103.7 127.1h1M124.7 92.4h1M122.7 124.8h1M111.0 112.8h1M114.0 97.9h1M115.3 130.4h1M129.4 111.8h1M121.1 114.0h1M125.1 114.8h1M103.5 125.3h1M112.8 75.1h1M129.6 95.0h1M120.5 110.8h1M115.6 119.8h1M119.1 108.2h1M111.7 108.2h1M110.8 112.8h1M136.3 126.6h1M126.6 92.7h1M133.1 125.5h1M122.2 107.4h1M133.8 96.7h1M132.7 83.7h1M122.2 131.7h1M115.3 120.7h1M123.1 91.3h1M115.2 128.3h1M134.8 103.6h1M134.2 102.0h1M124.7 111.8h1M108.5 116.7h1M117.8 72.9h1M113.0 100.0h1M113.0 98.2h1M114.6 77.1h1M131.6 113.2h1M124.8 108.3h1M122.7 108.4h1M110.2 90.4h1M122.8 126.7h1M124.5 135.2h1M107.2 108.3h1M115.3 129.7h1M129.9 108.6h1M111.2 110.5h1M110.7 134.3h1M128.4 129.1h1M125.9 77.3h1M130.7 113.4h1M96.2 113.5h1M132.9 136.6h1M110.9 123.4h1M125.6 109.6h1M118.9 119.7h1M128.2 121.5h1M117.6 93.2h1M136.3 130.7h1M115.9 111.6h1M130.7 86.9h1M124.9 101.9h1M124.3 106.0h1M124.0 86.3h1M108.1 90.9h1M131.8 110.7h1M134.5 82.8h1M115.5 133.0h1M113.4 85.3h1M113.9 107.1h1M121.9 130.8h1M136.4 134.3h1M128.3 104.8h1M116.6 90.8h1M135.8 130.0h1M123.0 99.2h1M129.3 119.1h1M123.7 95.3h1M124.6 103.9h1M130.0 120.6h1M126.8 105.9h1M138.5 123.2h1M135.7 124.1h1M129.2 117.7h1M110.4 85.9h1M111.9 120.9h1M131.8 114.7h1M123.0 138.4h1M117.7 86.4h1M105.3 107.4h1M129.6 122.6h1M119.6 123.8h1M121.5 101.6h1M117.9 122.9h1M132.3 95.9h1M111.3 113.8h1M108.5 118.0h1M127.5 103.2h1M121.7 119.0h1M103.2 111.7h1M128.5 125.3h1M134.6 111.0h1M106.4 131.3h1M130.3 102.9h1M133.2 126.9h1M120.5 78.1h1M116.9 101.1h1M113.0 110.8h1M110.3 117.6h1M133.2 104.4h1M127.9 110.2h1M135.8 101.8h1M129.9 100.9h1M124.5 111.8h1M133.7 89.3h1M107.5 132.0h1M126.2 136.4h1M110.9 115.0h1M128.5 137.4h1M121.4 105.6h1M129.7 110.5h1M113.9 123.0h1M101.5 97.4h1M136.7 104.8h1M118.5 117.3h1M134.1 119.6h1M111.6 103.8h1M133.3 110.3h1M115.2 124.6h1M110.4 101.8h1M114.5 117.1h1M116.9 128.0h1M93.1 125.8h1M115.1 108.1h1M128.1 114.9h1M111.1 133.6h1M128.2 104.9h1M124.2 96.1h1M108.8 107.7h1M125.9 113.5h1M113.7 92.1h1M104.0 135.0h1M126.0 100.5h1M134.7 119.8h1M117.6 103.2h1M134.2 116.7h1M115.7 103.4h1M114.5 115.7h1M124.7 120.7h1M126.8 96.9h1M119.8 98.5h1M127.2 93.1h1M115.8 99.7h1M115.4 108.3h1M138.2 108.3h1M106.6 107.7h1M130.0 120.0h1M100.2 131.2h1M88.7 101.3h1M134.0 126.7h1M126.1 90.6h1M100.3 120.8h1M103.8 122.2h1M106.5 125.0h1M118.4 129.2h1M134.5 70.2h1M116.9 97.1h1M128.8 91.6h1M99.0 126.8h1M117.2 124.7h1M113.9 70.7h1M128.9 84.4h1M113.0 68.0h1M101.7 117.9h1M128.5 115.7h1M111.5 123.0h1M123.5 83.5h1M116.4 112.8h1M126.6 82.8h1M104.5 93.7h1M93.1 94.1h1M126.7 111.3h1M97.2 122.9h1M94.2 124.3h1M95.8 75.2h1M101.3 106.6h1M102.3 134.3h1M137.7 89.3h1M127.7 120.2h1M117.7 87.1h1M138.3 139.7h1M88.7 92.8h1M105.0 82.9h1M110.8 135.4h1M89.3 130.7h1M104.4 69.0h1M135.7 88.4h1M99.2 76.8h1M107.5 77.0h1M97.5 86.8h1M118.7 101.5h1M104.2 107.4h1M129.0 122.3h1M106.2 136.8h1M129.9 110.1h1M113.2 92.7h1M95.1 134.4h1M120.2 75.4h1M137.1 134.5h1M89.8 120.5h1M100.6 108.2h1M132.2 94.3h1M114.4 117.9h1M98.2 115.0h1M110.5 141.7h1M97.9 121.3h1M90.2 88.6h1M94.2 79.2h1M116.0 81.1h1M130.1 75.2h1M121.0 132.6h1M94.7 84.3h1M128.5 103.3h1M137.4 93.3h1M109.1 139.8h1M106.2 140.5h1M135.2 83.0h1M116.9 138.6h1M94.2 131.7h1M129.0 124.2h1M119.8 75.5h1M138.8 75.7h1M129.5 122.2h1M104.8 119.3h1M109.8 124.3h1M90.3 138.0h1M108.4 128.2h1M113.0 128.9h1M104.0 108.9h1M89.3 104.7h1M92.2 132.4h1M123.9 99.9h1M138.7 74.2h1M125.3 122.6h1M120.1 69.2h1M137.0 100.9h1M119.5 129.1h1M102.6 70.2h1M136.9 88.3h1M90.2 78.3h1M99.1 79.0h1M135.6 117.9h1M118.9 77.8h1M109.9 139.0h1M88.2 99.4h1M93.5 139.5h1M132.6 122.9h1M90.2 120.2h1M114.1 104.8h1M95.7 106.4h1M130.5 77.9h1M134.4 99.5h1M102.1 85.9h1M112.4 116.6h1M118.2 134.8h1M115.1 106.4h1M88.9 92.6h1M104.6 77.3h1M110.2 70.6h1M136.8 104.3h1M134.6 120.3h1M126.7 124.9h1M104.0 122.7h1M98.9 109.6h1M119.6 126.2h1M96.9 93.8h1M131.7 128.3h1M99.1 76.0h1M126.4 123.9h1M122.3 126.5h1M115.3 110.2h1M136.8 116.6h1M122.8 112.2h1M114.2 124.8h1M118.3 77.7h1M110.6 99.6h1M110.9 110.1h1M107.2 97.3h1M110.6 95.9h1M88.9 122.1h1M108.9 101.7h1M119.4 95.5h1M100.7 69.2h1M134.3 138.4h1M103.2 102.9h1M105.2 72.4h1M135.3 130.7h1M100.8 87.1h1M125.0 127.8h1M112.9 97.1h1M100.4 127.9h1M133.8 132.3h1M94.1 112.5h1M112.3 78.9h1M91.2 122.9h1M91.6 128.7h1M123.3 103.5h1M135.3 137.9h1M120.7 75.5h1M119.2 99.6h1M101.2 137.7h1M126.7 77.1h1M100.1 93.7h1M118.4 92.4h1M111.3 129.0h1M97.6 122.0h1M105.5 138.8h1M138.4 92.6h1M120.1 76.3h1M109.8 114.7h1M121.8 93.7h1M89.8 77.3h1M117.7 80.8h1M104.2 114.4h1M135.7 106.6h1M101.5 111.9h1M102.6 126.7h1M96.3 87.6h1M111.2 136.1h1M96.8 82.4h1M95.0 84.0h1M105.6 97.6h1M128.3 98.3h1M113.2 97.7h1M129.0 135.7h1M110.6 137.1h1M101.3 141.3h1M115.8 119.1h1M108.2 88.4h1M95.2 134.4h1M107.1 120.4h1M112.4 107.5h1M99.0 81.3h1M105.8 119.1h1M116.8 68.2h1M125.7 100.5h1M91.7 87.5h1M99.2 129.7h1M117.2 92.5h1M101.2 89.8h1M102.8 94.0h1M129.9 127.1h1M125.0 134.4h1M122.7 76.5h1M90.4 80.3h1M101.7 107.6h1M131.6 111.9h1M110.8 86.2h1M106.1 71.4h1M132.9 76.8h1M122.6 94.7h1M135.1 90.3h1M93.3 82.9h1M130.7 141.4h1M122.1 119.1h1M103.0 88.4h1M92.6 141.9h1M90.3 113.9h1M106.5 82.0h1M111.1 137.8h1M101.1 80.3h1M121.4 117.3h1M115.1 81.5h1M134.3 76.3h1M97.2 86.1h1M115.2 103.7h1M117.3 122.5h1M135.4 103.1h1M90.2 130.3h1M89.0 91.8h1M95.6 113.2h1M129.4 77.7h1M103.6 131.8h1M124.5 76.1h1M124.4 127.6h1M109.7 79.6h1M122.9 91.9h1M95.1 80.4h1M109.3 77.5h1M108.4 109.4h1M117.3 98.3h1M130.4 74.6h1M105.5 138.0h1M133.8 137.1h1M128.6 108.2h1M129.7 110.9h1M94.2 87.2h1M93.2 133.6h1M105.1 98.6h1M116.5 75.6h1M125.4 127.7h1M130.2 134.1h1M104.8 78.9h1M128.4 120.0h1M107.7 93.7h1M96.1 130.4h1M102.7 131.2h1M94.1 100.2h1M106.4 127.0h1M132.7 102.3h1M119.2 105.4h1M131.2 127.9h1M109.4 102.8h1M89.4 135.8h1M126.9 99.2h1M76.0 92.3h1M138.5 82.5h1M127.5 113.3h1M109.3 114.0h1M99.1 115.1h1M76.4 137.9h1M77.3 88.7h1M117.7 120.4h1M127.3 123.6h1M136.1 83.3h1M70.8 94.9h1M125.3 89.6h1M107.7 128.5h1M81.1 113.2h1M134.0 127.1h1M98.3 110.2h1M89.7 140.5h1M125.6 122.9h1M91.6 126.1h1M104.6 130.3h1M95.8 135.5h1M118.6 108.4h1M110.0 130.7h1M107.6 140.5h1M70.5 136.5h1M120.7 110.8h1M130.3 89.4h1M94.0 125.0h1M128.5 103.5h1M73.2 87.8h1M75.4 115.9h1M92.9 96.4h1M101.8 84.9h1M134.5 132.8h1M109.7 108.0h1M91.9 118.0h1M94.6 141.5h1M137.9 125.8h1M128.6 84.7h1M78.8 101.8h1M79.0 106.6h1M138.1 94.0h1M85.7 81.5h1M89.4 83.6h1M107.5 98.9h1M117.8 115.3h1M112.4 98.9h1M122.2 123.4h1M120.7 109.7h1M102.9 98.0h1M72.8 109.4h1M113.8 91.7h1M131.1 135.4h1M130.6 131.4h1M104.7 91.1h1M89.2 126.5h1M70.4 102.3h1M94.8 117.7h1" stroke="#000" stroke-width="1.0" stroke-opacity="0.62" fill="none"/>
<ellipse cx="64.5" cy="125.5" rx="9" ry="6.5" fill="#c4c4c4" opacity="0.9" filter="url(#bl)" transform="rotate(-20 64.5 125.5)"/>
</g>
<path d="M39.3 97.3H92.9V143.3" fill="none" stroke="#111" stroke-width="1.4"/>
<text transform="translate(38.1,155.3) scale(0.72,1)" font-size="6.6" text-anchor="middle" class="ss" font-style="italic" fill="#222">10<tspan font-size="4.4" dy="-2.6">0</tspan></text>
<text transform="translate(34.8,149.2) scale(0.72,1)" font-size="6.6" text-anchor="end" class="ss" font-style="italic" fill="#222">10<tspan font-size="4.4" dy="-2.6">0</tspan></text>
<text transform="translate(63.5,155.3) scale(0.72,1)" font-size="6.6" text-anchor="middle" class="ss" font-style="italic" fill="#222">10<tspan font-size="4.4" dy="-2.6">1</tspan></text>
<text transform="translate(34.8,127.0) scale(0.72,1)" font-size="6.6" text-anchor="end" class="ss" font-style="italic" fill="#222">10<tspan font-size="4.4" dy="-2.6">1</tspan></text>
<text transform="translate(89.0,155.3) scale(0.72,1)" font-size="6.6" text-anchor="middle" class="ss" font-style="italic" fill="#222">10<tspan font-size="4.4" dy="-2.6">2</tspan></text>
<text transform="translate(34.8,104.7) scale(0.72,1)" font-size="6.6" text-anchor="end" class="ss" font-style="italic" fill="#222">10<tspan font-size="4.4" dy="-2.6">2</tspan></text>
<text transform="translate(114.4,155.3) scale(0.72,1)" font-size="6.6" text-anchor="middle" class="ss" font-style="italic" fill="#222">10<tspan font-size="4.4" dy="-2.6">3</tspan></text>
<text transform="translate(34.8,82.5) scale(0.72,1)" font-size="6.6" text-anchor="end" class="ss" font-style="italic" fill="#222">10<tspan font-size="4.4" dy="-2.6">3</tspan></text>
<text transform="translate(139.8,155.3) scale(0.72,1)" font-size="6.6" text-anchor="middle" class="ss" font-style="italic" fill="#222">10<tspan font-size="4.4" dy="-2.6">4</tspan></text>
<text transform="translate(34.8,60.2) scale(0.72,1)" font-size="6.6" text-anchor="end" class="ss" font-style="italic" fill="#222">10<tspan font-size="4.4" dy="-2.6">4</tspan></text>
<text x="43.5" y="94.39999999999999" font-size="12.5" text-anchor="start" class="sf" font-weight="bold" >90%</text>
<rect x="169" y="54.2" width="101" height="88.99999999999999" fill="#fff" stroke="#333" stroke-width="1.3"/>
<clipPath id="cp2"><rect x="169.6" y="54.800000000000004" width="99.8" height="87.79999999999998"/></clipPath>
<g clip-path="url(#cp2)">
<ellipse cx="196" cy="129" rx="16" ry="10" fill="#888" opacity="0.55" filter="url(#bl)" transform="rotate(0 196 129)"/>
<path d="M213.6 139.1h1M191.1 134.9h1M177.0 120.0h1M209.9 132.6h1M192.3 104.2h1M201.2 127.0h1M195.9 130.4h1M204.9 126.3h1M185.5 125.5h1M171.3 119.2h1M219.2 122.8h1M208.4 129.5h1M204.6 126.3h1M185.4 136.8h1M197.6 141.8h1M192.9 125.4h1M200.1 126.9h1M192.3 121.1h1M199.0 131.2h1M217.5 128.3h1M175.4 132.4h1M222.9 124.8h1M186.6 127.1h1M193.8 115.9h1M202.8 121.2h1M174.3 122.5h1M210.7 130.1h1M190.0 126.3h1M207.4 124.2h1M200.9 136.5h1M185.3 123.6h1M201.3 128.6h1M194.5 124.1h1M212.0 115.1h1M196.6 129.3h1M196.4 117.0h1M194.5 129.7h1M188.0 131.1h1M197.2 131.7h1M194.0 124.7h1M198.2 137.5h1M206.6 127.8h1M190.5 137.3h1M202.4 135.8h1M192.7 121.3h1M198.2 123.3h1M209.5 135.6h1M170.3 134.0h1M211.7 137.1h1M190.4 121.3h1M207.4 136.9h1M196.7 118.9h1M178.0 130.7h1M186.3 122.8h1M201.2 137.2h1M171.7 122.9h1M211.3 128.1h1M192.0 133.8h1M182.6 118.3h1M196.3 141.5h1M208.0 128.5h1M207.9 125.1h1M182.1 114.6h1M199.2 136.0h1M200.4 128.2h1M191.3 137.6h1M195.5 116.5h1M212.2 123.1h1M200.6 128.5h1M208.4 130.6h1M210.5 130.3h1M190.6 124.3h1M203.7 121.6h1M206.9 126.5h1M185.1 121.2h1M205.1 128.7h1M192.7 128.5h1M191.0 139.6h1M198.1 124.7h1M198.2 120.2h1M183.6 127.2h1M219.4 119.2h1M194.3 115.4h1M198.0 130.3h1M204.7 117.4h1M188.9 123.1h1M193.6 128.2h1M190.0 135.1h1M226.2 138.2h1M214.1 119.6h1M208.5 128.7h1M210.8 137.3h1M203.7 114.5h1M197.6 124.3h1M201.3 128.8h1M208.4 115.1h1M187.3 127.9h1M199.8 125.1h1M195.7 129.0h1M208.4 127.6h1M198.9 113.3h1M200.2 109.3h1M200.8 127.7h1M196.0 122.4h1M191.0 135.4h1M200.2 128.3h1M190.2 130.3h1M210.0 128.3h1M191.7 118.7h1M197.2 120.8h1M179.0 135.8h1M188.6 111.5h1M194.7 117.4h1M183.0 134.5h1M200.8 130.3h1M193.7 132.5h1M214.2 132.6h1M194.1 116.8h1M201.3 141.6h1M203.6 118.0h1M198.2 139.4h1M188.5 132.6h1M210.3 142.2h1M177.2 113.9h1M200.4 134.4h1M191.8 128.3h1M191.2 138.5h1M180.9 122.8h1M177.9 120.9h1M195.7 128.7h1M217.1 126.7h1M200.1 131.5h1M199.0 140.8h1M197.6 129.8h1M194.7 128.5h1M195.3 136.8h1M196.2 129.1h1M195.4 134.8h1M190.4 136.4h1M189.2 134.3h1M218.7 130.4h1M195.0 118.6h1M204.7 128.6h1M206.8 123.0h1M200.8 125.8h1M180.6 128.4h1M203.8 133.5h1M182.8 119.9h1M184.5 120.0h1M192.7 130.7h1M218.8 130.1h1M213.2 114.7h1M214.3 135.2h1M201.2 135.4h1M205.5 113.9h1M175.3 142.0h1M195.0 139.6h1M191.9 123.0h1M191.9 131.1h1M198.2 123.3h1M202.4 133.7h1M185.1 119.2h1M172.8 125.9h1M196.1 122.7h1M188.9 127.4h1M196.3 133.3h1M205.9 132.2h1M209.3 120.4h1M203.2 131.6h1M183.6 122.8h1M201.3 129.1h1M181.1 123.9h1M214.1 135.6h1M197.0 139.8h1M185.2 127.1h1M207.4 125.7h1M182.7 133.4h1M215.0 107.2h1M197.8 118.0h1M192.5 116.6h1M226.8 122.8h1M196.5 122.6h1M184.3 124.7h1M199.4 141.7h1M183.4 129.1h1M190.8 115.3h1M240.2 126.5h1M198.9 122.2h1M189.2 119.8h1M208.2 125.1h1M194.3 130.0h1M181.5 130.5h1M194.0 132.2h1M191.4 128.8h1M202.1 136.6h1M187.8 136.7h1M184.3 126.9h1M197.5 129.7h1M193.8 136.3h1M187.6 141.2h1M174.6 129.1h1M202.4 128.6h1M199.1 136.3h1M186.4 133.5h1M208.6 126.5h1M185.9 119.6h1M201.1 121.7h1M225.4 133.3h1M180.5 126.1h1M214.1 134.2h1M183.9 137.2h1M189.5 133.5h1M202.7 124.8h1M194.2 138.2h1M201.9 128.0h1M207.1 132.5h1M199.9 115.4h1M197.6 124.4h1M204.7 123.4h1M201.3 119.7h1M206.6 122.4h1M195.7 133.4h1M192.2 128.6h1M174.6 120.9h1M204.0 136.4h1M190.4 129.3h1M193.6 118.5h1M177.6 117.8h1M211.5 125.2h1M219.1 133.9h1M200.5 133.9h1M205.4 136.2h1M184.4 123.8h1M189.5 129.4h1M193.0 118.2h1M221.2 121.3h1M200.5 128.2h1M186.0 134.5h1M201.4 125.9h1M206.1 122.5h1M206.5 134.2h1M175.1 126.9h1M199.8 134.8h1M197.8 128.4h1M191.9 126.1h1M196.0 119.6h1M203.6 125.8h1M202.2 124.2h1M200.9 129.6h1M206.6 132.4h1M207.1 127.1h1M195.3 126.3h1M181.1 127.4h1M208.9 135.0h1M185.9 131.0h1M204.9 117.1h1M200.1 131.3h1M204.9 130.6h1M175.4 111.6h1M219.5 125.2h1M211.1 139.1h1M197.0 118.9h1M212.2 128.2h1M202.2 132.5h1M207.3 137.0h1M179.2 116.7h1M197.7 128.6h1M205.2 127.4h1M212.3 138.2h1M208.3 121.9h1M195.0 127.9h1M183.0 121.2h1M197.9 118.3h1M202.4 132.5h1M193.2 125.7h1M203.1 132.5h1M200.3 118.3h1M188.3 125.4h1M174.4 121.8h1M187.3 135.2h1M191.1 124.4h1M186.8 124.8h1M177.3 130.7h1M210.2 129.8h1M189.6 139.1h1M201.8 119.9h1M189.2 123.4h1M195.5 138.6h1M187.6 127.3h1M197.3 118.5h1M190.3 133.6h1M209.4 112.8h1M204.4 126.1h1M211.3 133.7h1M219.4 131.1h1M191.3 121.5h1M179.0 133.1h1M202.1 135.3h1M200.2 116.0h1M191.2 126.5h1M197.9 134.9h1M212.8 130.9h1M171.5 120.0h1M170.7 122.1h1M181.8 130.5h1M193.4 137.8h1M208.8 124.7h1M207.2 128.6h1M201.4 139.7h1M182.4 127.9h1M214.2 122.1h1M198.6 129.6h1M191.1 117.6h1M187.9 120.3h1M208.8 130.6h1M204.3 118.6h1M201.9 129.7h1M208.4 122.5h1M205.6 139.9h1M217.4 120.8h1M182.7 116.3h1M207.4 133.5h1M200.1 121.3h1M210.9 141.9h1M195.6 127.5h1M210.1 132.7h1M211.9 125.1h1M200.0 125.7h1M189.3 126.0h1M192.6 132.7h1M192.4 129.1h1M186.4 118.3h1M212.9 120.3h1M217.5 136.3h1M191.1 128.7h1M193.9 123.5h1M210.9 127.4h1M207.4 122.8h1M187.8 139.6h1M192.7 119.4h1M194.0 137.3h1M194.1 122.5h1M203.6 136.7h1M193.6 125.9h1M194.3 131.9h1M171.9 130.0h1M196.6 125.9h1M191.2 117.2h1M178.4 129.9h1M188.4 127.8h1M193.9 124.3h1M182.9 124.3h1M192.5 118.9h1M184.7 135.7h1M207.1 129.6h1M234.4 135.4h1M210.6 121.7h1M186.5 119.1h1M195.5 121.8h1M203.6 119.3h1M197.0 112.2h1M195.6 137.2h1M192.9 131.1h1M209.0 119.4h1M181.0 129.2h1M199.3 126.3h1M184.5 138.6h1M182.3 126.3h1M195.5 134.5h1M190.7 121.7h1M219.9 121.5h1M205.5 127.2h1M190.4 128.1h1M193.0 131.1h1M196.9 120.4h1M217.9 133.8h1M198.8 126.0h1M212.5 124.8h1M186.3 134.2h1M184.6 121.9h1M213.2 115.2h1M195.3 129.5h1M199.1 116.4h1M193.4 125.7h1M218.8 136.8h1M187.1 135.8h1M203.8 127.6h1M193.2 126.2h1M177.8 123.3h1M207.1 140.5h1M218.0 125.4h1M203.3 108.5h1M192.9 118.0h1M205.8 114.7h1M183.7 119.3h1M200.7 135.5h1M198.0 121.6h1M200.2 128.4h1M205.9 131.4h1M222.0 138.2h1M188.5 135.0h1M205.1 120.2h1M187.2 121.8h1M193.5 138.7h1M189.4 129.1h1M204.7 136.5h1M199.8 119.9h1M222.1 135.7h1M212.2 141.9h1M212.7 131.9h1M201.7 133.7h1M178.3 135.3h1M184.5 132.0h1M184.1 134.4h1M198.3 132.7h1M185.4 126.1h1M195.4 126.1h1M190.9 121.3h1M205.1 125.3h1M186.4 131.5h1M186.5 127.1h1M190.0 120.8h1M193.4 121.7h1M181.3 131.4h1M192.6 116.4h1M191.4 130.1h1M201.1 131.6h1M199.1 133.4h1M190.2 121.9h1M203.3 125.1h1M196.2 133.9h1M207.2 138.6h1M188.0 125.4h1M202.7 116.7h1M181.2 133.5h1M188.8 120.9h1M205.6 132.9h1M206.9 125.8h1M192.7 125.7h1M199.6 111.7h1M187.9 134.4h1M186.9 128.0h1M197.6 132.8h1M190.5 119.1h1M225.6 122.6h1M216.3 114.0h1M197.4 126.9h1M207.6 120.1h1M186.6 122.3h1M190.0 130.7h1M186.8 126.5h1M213.5 140.4h1M174.1 120.6h1M191.7 139.2h1M200.4 140.4h1M186.0 125.9h1M208.1 133.2h1M174.1 126.2h1M198.2 133.7h1M197.9 140.5h1M200.9 129.2h1M192.4 118.9h1M206.3 134.8h1M207.1 125.4h1M184.3 125.4h1M192.4 128.4h1M207.7 121.0h1M190.4 134.2h1M202.3 121.5h1M183.9 122.0h1M197.0 130.6h1M195.3 123.5h1M194.0 127.9h1M203.1 129.2h1M186.6 118.9h1M213.6 127.8h1M194.1 128.3h1M209.4 125.9h1M198.2 126.6h1M203.0 120.2h1M198.5 137.0h1M210.1 133.6h1M199.6 141.5h1M204.5 140.0h1M182.0 119.5h1M205.6 126.3h1M191.1 120.7h1M213.6 118.7h1M197.4 117.0h1M224.8 124.4h1M184.3 141.9h1M186.1 113.8h1M200.2 119.6h1M179.1 137.8h1M187.6 119.8h1M198.1 127.0h1M209.4 129.3h1M214.9 137.9h1M217.1 137.7h1M197.0 133.0h1M196.4 115.7h1M182.3 134.6h1M181.1 128.0h1M184.0 130.6h1M193.9 124.7h1M186.2 110.2h1M197.0 117.9h1M192.7 131.6h1M208.5 134.3h1M213.6 116.8h1M204.1 141.4h1M200.8 119.4h1M200.9 124.3h1M188.6 137.3h1M194.1 119.3h1M186.3 134.1h1M198.3 138.1h1M192.9 120.7h1M188.7 120.1h1M226.6 130.1h1M192.4 138.9h1M203.9 127.0h1M203.5 130.8h1M209.4 142.1h1M192.5 128.2h1M194.1 138.6h1M200.7 135.0h1M206.7 123.3h1M197.7 139.9h1M207.0 135.2h1M192.9 125.6h1M186.1 126.3h1M195.4 116.7h1M209.8 122.2h1M199.1 133.5h1M189.7 113.7h1M207.5 131.9h1M193.2 137.8h1M206.7 120.7h1M195.3 114.0h1M193.1 140.1h1M186.4 135.3h1M178.5 126.1h1M201.5 134.7h1M216.3 108.5h1M225.1 133.4h1M197.0 130.7h1M196.5 123.5h1M196.0 127.5h1M204.0 134.1h1M207.7 133.4h1M184.8 140.0h1M200.1 124.2h1M218.1 119.5h1M182.5 124.4h1M201.1 135.1h1M197.5 134.0h1M188.0 123.6h1M197.7 117.5h1M198.4 125.3h1M204.2 120.2h1M190.0 123.9h1M191.9 120.3h1M193.2 117.4h1M202.5 134.0h1M196.0 127.0h1M185.8 120.6h1M193.6 121.1h1M182.5 129.9h1M196.0 125.2h1M186.7 128.1h1M188.1 125.0h1M198.4 134.4h1M205.0 123.5h1M210.3 119.0h1M194.2 139.2h1M223.8 129.6h1M192.0 125.5h1M182.1 127.3h1M191.3 122.3h1M210.1 122.1h1M215.9 135.4h1M203.7 123.7h1M190.3 112.1h1M199.4 126.3h1M200.7 123.0h1M201.9 116.2h1M170.7 132.4h1M208.7 102.7h1M211.1 125.7h1M194.3 115.9h1M184.6 134.4h1M187.6 128.2h1M206.5 117.7h1M190.6 119.1h1M180.1 122.9h1M209.0 128.9h1M204.0 127.4h1M191.3 129.2h1M217.0 131.6h1M203.2 112.2h1M186.9 135.2h1M210.3 125.3h1M193.6 124.8h1M205.4 128.7h1M213.6 138.3h1M192.6 123.5h1M193.4 121.3h1M191.3 127.9h1M206.5 115.5h1M179.9 122.2h1M192.6 132.3h1M187.0 140.9h1M190.0 126.7h1M196.8 138.1h1M199.6 128.7h1M189.9 129.9h1M200.8 125.6h1M195.9 113.4h1M190.0 138.2h1M212.6 127.9h1M191.4 136.8h1M189.0 139.8h1M209.6 119.7h1M193.6 118.5h1M199.4 125.2h1M178.8 119.9h1M199.0 116.0h1M208.6 132.2h1M194.1 140.1h1M185.4 134.2h1M180.5 125.8h1M203.5 124.1h1M194.8 133.9h1M213.8 139.2h1M201.4 126.4h1M217.8 110.7h1M206.2 128.2h1M204.3 131.1h1M193.9 128.5h1M195.7 138.1h1M193.1 124.0h1M203.7 133.8h1M201.2 130.8h1M213.2 137.7h1M198.6 126.8h1M203.8 113.1h1M190.1 122.7h1M198.1 125.3h1M224.6 134.6h1M196.1 125.9h1M210.3 135.4h1M206.8 138.5h1M191.9 123.1h1M187.8 129.4h1M207.7 119.8h1M189.9 117.5h1M219.2 135.1h1M198.6 118.4h1M184.2 123.2h1M196.5 118.0h1M193.5 138.6h1M196.3 129.3h1M171.9 126.3h1M194.4 122.8h1M180.1 127.9h1M184.3 124.0h1M177.7 127.7h1M206.6 121.5h1M199.9 116.0h1M202.8 133.0h1M191.6 135.8h1M186.0 128.9h1M215.5 128.3h1M183.2 138.0h1M202.3 126.2h1M175.1 112.9h1M178.6 140.8h1M199.5 121.5h1M209.4 140.6h1M186.4 132.5h1M177.1 131.6h1M217.0 116.8h1M196.8 123.2h1M195.0 129.2h1M199.3 135.9h1M202.0 137.2h1M207.8 137.6h1M188.3 131.9h1M188.1 122.6h1M226.1 132.6h1M194.9 111.5h1M190.4 136.8h1M190.8 125.2h1M218.2 127.3h1M188.7 129.1h1M190.3 139.2h1M203.4 129.4h1M188.3 128.0h1M221.7 127.3h1M204.8 116.2h1M199.4 136.0h1M214.9 132.8h1M203.6 132.8h1M197.4 122.8h1M203.9 129.0h1M204.6 136.8h1M196.6 126.1h1M199.1 119.1h1M198.6 122.2h1M201.5 131.1h1M190.6 119.4h1M195.0 124.0h1M191.9 136.1h1M209.7 118.7h1M209.4 142.0h1M212.5 132.4h1M189.0 116.6h1M195.6 132.5h1M177.3 119.3h1M226.4 131.0h1M206.9 124.9h1M216.0 124.1h1M189.6 130.1h1M177.2 127.3h1M185.3 137.8h1M196.6 137.7h1M193.3 111.3h1M208.4 137.7h1M193.0 114.3h1M186.2 133.6h1M216.6 127.0h1M185.0 123.2h1M210.8 137.6h1M179.2 117.1h1M174.0 124.1h1M196.7 133.7h1M186.4 116.1h1M187.5 124.0h1M170.3 114.7h1M218.9 138.3h1M217.7 131.0h1M187.5 129.2h1M172.0 136.5h1M198.6 127.3h1M208.4 126.9h1M196.4 134.9h1M197.4 139.2h1M183.4 109.6h1M171.7 135.8h1M211.7 130.0h1M203.0 130.7h1M197.0 125.9h1M187.6 140.5h1M189.8 129.6h1M213.6 138.7h1M187.8 132.2h1M177.7 131.2h1M199.3 130.0h1M196.8 133.2h1M195.4 125.7h1M178.5 127.9h1M220.4 128.0h1M183.6 125.8h1M174.8 134.3h1M178.2 138.0h1M209.0 135.0h1M211.1 129.3h1M204.6 116.4h1M174.3 139.6h1M201.3 141.9h1M205.1 130.6h1M201.2 137.5h1M193.7 128.2h1M199.3 127.2h1M233.5 123.3h1M211.3 126.4h1M196.8 128.1h1M198.7 117.2h1M195.6 125.0h1M211.9 135.5h1M173.7 121.5h1M203.5 140.5h1M206.7 128.7h1M212.4 109.3h1M185.5 121.4h1M177.4 135.0h1M198.7 132.5h1M192.1 135.5h1M207.0 125.0h1M209.5 121.8h1M223.0 118.5h1M189.5 120.5h1M194.9 141.6h1M217.3 133.4h1M184.6 138.0h1M210.0 129.7h1M234.9 124.1h1M172.4 128.1h1M215.0 124.1h1M186.7 119.3h1M206.8 137.3h1M203.9 132.2h1M210.5 128.9h1M206.0 137.2h1M215.6 134.5h1M195.6 136.2h1M220.8 131.2h1M176.9 124.9h1M191.8 130.6h1M181.7 138.8h1M205.2 115.1h1M174.0 130.5h1M198.7 126.3h1M194.4 131.4h1M175.3 130.5h1M231.8 124.3h1M177.5 135.9h1M216.5 139.2h1M183.8 129.3h1M197.6 128.1h1M200.8 139.6h1M203.3 129.9h1M206.4 130.8h1M214.4 138.1h1M228.8 114.1h1M195.9 127.3h1M182.1 130.7h1M203.1 134.7h1M191.9 118.3h1M203.5 135.4h1M229.5 138.3h1M194.5 119.8h1M239.6 124.0h1M197.5 136.6h1M202.6 141.8h1M177.0 123.9h1M197.1 119.1h1M199.2 129.1h1M184.7 130.4h1M193.7 120.4h1M207.4 118.6h1M215.6 127.0h1M199.1 122.3h1M229.5 137.9h1M216.9 124.6h1M216.1 126.1h1M193.4 117.9h1M195.2 133.6h1M193.2 120.1h1M209.4 138.1h1M192.8 137.0h1M210.8 121.2h1M193.6 113.4h1M176.8 133.8h1M179.4 133.5h1M200.3 111.6h1M194.5 131.1h1M182.3 115.7h1M191.1 122.2h1M196.1 112.7h1M181.5 132.9h1M179.0 137.7h1M180.0 128.7h1M216.3 134.7h1M188.7 116.4h1M202.9 130.5h1M215.5 131.3h1M181.9 129.1h1M192.6 129.9h1M236.4 135.2h1M198.9 127.8h1M182.7 121.1h1M178.3 111.8h1M217.5 141.2h1M205.4 107.4h1M194.6 121.0h1M213.8 134.0h1M181.3 140.3h1M192.5 121.2h1M178.7 112.3h1M179.8 138.0h1M192.3 137.3h1M174.7 138.2h1M190.6 131.1h1M177.3 137.7h1M177.9 124.8h1M206.6 131.2h1M181.2 141.1h1M203.0 139.2h1M191.2 141.5h1M186.2 119.9h1M194.0 117.4h1M215.5 136.6h1M208.6 126.8h1M201.2 124.7h1M193.0 129.2h1M202.4 121.3h1M174.9 133.0h1M185.5 134.7h1M185.5 118.2h1M206.7 132.4h1M206.6 126.9h1M188.0 141.4h1M202.9 129.5h1M195.6 135.4h1M180.9 132.5h1M177.8 113.3h1M197.5 130.9h1M205.2 135.0h1M206.1 137.1h1M176.1 141.0h1M239.8 124.9h1M172.6 136.2h1M209.7 139.1h1M220.3 117.5h1M200.5 134.2h1M215.4 122.0h1M194.5 126.7h1M191.3 128.7h1M191.5 114.0h1M193.4 130.6h1M187.5 98.0h1M182.2 124.1h1M209.9 128.3h1M177.5 134.3h1M213.0 128.9h1M204.5 122.8h1M222.0 127.3h1M185.1 113.8h1M230.8 119.2h1M177.5 128.2h1M214.8 130.5h1M193.7 130.2h1M208.6 129.7h1M196.8 129.3h1M175.1 142.1h1M182.2 118.1h1M186.6 130.3h1M208.1 116.7h1M172.4 131.6h1M200.6 120.1h1M174.7 131.6h1M191.6 115.4h1M175.9 139.5h1M221.4 124.3h1M182.4 135.7h1M172.8 135.0h1M214.9 132.4h1M199.6 128.6h1M211.2 122.6h1M221.2 129.8h1M188.5 115.2h1M186.5 132.1h1M215.3 115.4h1M191.9 123.8h1M173.6 130.0h1M181.1 137.9h1M202.9 126.9h1M196.2 121.3h1M176.1 123.3h1M193.1 122.4h1M186.9 122.2h1M198.0 119.7h1M193.7 130.9h1M210.4 123.3h1M174.5 116.5h1M207.0 124.4h1M210.9 129.3h1M189.3 113.2h1M182.5 137.1h1M183.6 136.1h1M241.5 140.1h1M199.5 118.8h1M185.0 124.1h1M197.2 111.8h1M179.3 137.2h1M196.5 136.7h1M208.6 119.7h1M171.0 134.2h1M194.6 130.7h1M180.1 139.2h1M202.5 140.3h1M188.0 136.3h1M193.0 121.5h1M192.6 115.0h1M190.9 131.6h1M205.9 120.5h1M171.3 123.4h1M238.6 131.3h1M181.1 123.9h1M224.2 119.5h1M192.1 129.3h1M181.5 123.5h1M189.2 136.4h1M201.9 131.0h1M191.7 141.0h1M203.7 128.0h1M190.0 138.4h1M183.9 123.5h1M189.3 125.5h1M215.5 133.2h1M192.5 125.2h1M218.1 134.0h1M229.5 138.2h1M190.3 125.0h1M189.1 131.6h1M207.5 134.4h1M220.8 116.3h1M194.5 117.2h1M176.4 124.6h1M182.9 121.2h1M188.5 138.7h1M175.2 109.1h1M183.9 137.9h1M184.5 133.6h1M201.4 139.5h1M189.3 141.6h1M195.2 125.6h1M183.1 130.5h1M178.5 119.2h1M196.2 136.4h1M189.0 137.6h1M221.0 118.6h1M198.4 121.3h1M183.0 131.6h1M208.3 134.9h1M187.8 139.9h1M218.7 134.4h1M189.0 115.4h1M193.0 136.8h1M189.6 128.4h1M219.0 124.4h1M177.9 130.3h1M213.1 135.3h1M195.2 125.5h1M215.0 138.0h1M204.4 124.3h1M172.0 127.3h1M185.3 114.0h1M193.6 140.7h1M172.3 126.8h1M224.9 131.7h1M184.5 131.7h1M207.3 120.9h1M192.3 115.3h1M208.4 132.8h1M206.5 141.0h1M194.8 132.1h1M200.9 134.2h1M175.9 127.5h1M191.4 130.3h1M181.2 128.8h1M198.9 131.7h1M204.0 137.4h1M203.5 138.7h1M204.7 124.4h1M233.6 140.2h1M215.3 136.6h1M194.8 119.7h1M201.4 126.8h1M187.2 110.7h1M220.4 119.5h1M175.2 134.2h1M203.7 122.8h1M193.9 132.3h1M196.7 134.7h1M207.2 126.7h1M187.4 121.1h1M206.8 135.3h1M193.3 132.8h1M199.4 127.9h1M199.4 118.2h1M209.0 126.3h1M184.1 116.4h1M191.9 128.4h1M183.1 115.9h1M196.6 133.8h1M213.4 134.6h1M219.9 140.8h1M192.2 120.5h1M201.4 138.7h1M205.7 125.0h1M218.9 131.9h1M184.6 118.0h1M204.2 114.5h1M171.8 118.1h1M190.2 126.5h1M205.9 141.2h1M190.5 140.2h1M190.3 118.5h1M227.3 123.8h1M193.9 118.7h1M205.5 131.7h1M189.0 126.4h1M184.2 123.5h1M209.2 117.4h1M174.1 133.7h1M232.6 128.1h1M188.6 127.7h1M198.2 128.4h1M212.5 138.9h1M190.0 125.0h1M244.8 112.5h1M200.1 120.3h1M212.1 111.0h1M191.6 126.5h1M175.5 140.1h1M187.2 134.1h1M185.0 131.3h1M186.3 130.7h1M192.3 123.8h1M201.4 128.3h1M177.4 120.5h1M201.5 142.0h1M171.6 126.2h1M201.7 139.4h1M206.1 119.3h1M194.6 138.1h1M198.1 128.0h1M173.8 131.5h1M192.9 130.3h1M219.6 140.7h1M180.4 132.1h1M188.7 130.9h1M221.9 138.3h1M194.7 124.0h1M191.2 133.3h1M185.5 139.9h1M194.3 119.3h1M228.9 103.8h1M189.4 128.9h1M210.9 140.1h1M199.4 131.0h1M211.4 129.8h1M172.5 125.9h1M205.3 135.5h1M175.1 140.8h1M199.3 116.4h1M202.0 139.1h1M203.1 127.2h1M180.3 140.1h1M197.8 129.9h1M187.2 120.7h1M212.9 136.9h1M190.1 120.9h1M187.3 119.0h1M192.9 108.1h1M198.7 123.4h1M206.1 125.5h1M215.6 126.8h1M228.8 126.8h1M197.3 121.5h1M172.2 133.1h1M200.0 121.2h1M203.6 126.3h1M184.6 129.3h1M200.7 136.6h1M215.1 133.4h1M181.6 123.8h1M200.3 119.2h1M191.1 126.5h1M192.3 131.6h1M209.1 139.1h1M175.8 139.4h1M216.1 117.8h1M237.1 124.9h1M195.1 122.8h1M184.2 139.7h1M198.4 126.6h1M213.6 121.5h1M179.5 124.9h1M181.2 136.2h1M190.1 120.5h1M186.2 112.1h1M196.8 130.9h1M204.4 127.9h1M200.8 121.6h1M194.4 131.4h1M173.3 135.3h1M196.4 130.5h1M194.0 123.1h1M179.5 135.3h1M190.4 122.9h1M181.7 138.4h1M195.5 139.5h1M193.7 119.3h1M208.8 132.9h1M182.8 127.2h1M177.4 137.5h1M186.9 134.3h1M198.4 127.7h1M200.3 127.8h1M173.9 126.2h1M173.9 136.8h1M205.1 124.7h1M204.6 132.2h1M210.6 121.6h1M194.4 121.1h1M202.3 137.0h1M180.6 111.7h1M212.8 138.2h1M181.5 142.2h1M190.8 135.5h1M185.2 110.7h1M188.6 131.7h1M198.7 123.5h1M190.1 119.8h1M190.0 130.8h1M201.4 119.6h1M195.2 129.9h1M176.9 136.5h1M226.5 136.1h1M207.2 139.6h1M191.8 138.7h1M180.3 131.6h1M206.0 141.7h1M189.1 127.4h1M201.9 129.3h1M196.3 137.2h1M181.0 137.9h1M200.4 127.6h1M172.8 124.3h1M193.2 138.4h1M197.3 119.9h1M208.5 133.6h1M201.4 121.2h1M175.2 138.1h1M217.8 133.3h1M190.7 126.0h1M192.4 141.0h1M181.8 139.4h1M181.9 135.2h1M217.2 123.7h1M209.3 129.9h1M178.1 131.8h1M204.9 123.6h1M189.5 124.9h1M181.0 128.1h1M207.9 125.6h1M215.0 126.6h1M182.3 139.6h1M217.7 124.2h1M203.9 119.6h1M187.1 126.7h1M205.9 118.8h1M185.4 123.8h1M195.7 119.0h1M197.6 116.6h1M208.0 118.3h1M215.0 122.5h1M175.6 134.2h1M228.2 135.3h1M205.1 119.4h1M211.0 131.2h1M179.9 139.8h1M208.0 124.4h1M196.1 131.0h1M203.8 121.3h1M190.1 130.8h1M194.5 130.2h1M198.2 128.3h1M185.6 139.2h1M183.2 127.2h1M179.2 119.8h1M201.5 129.6h1M191.7 134.0h1M191.1 136.0h1M224.3 133.1h1M205.8 115.2h1M216.3 131.9h1M208.3 119.8h1M179.8 124.2h1M203.3 120.0h1M182.1 138.4h1M183.2 131.0h1M179.0 114.9h1M192.6 128.9h1M170.0 138.6h1M207.7 137.8h1M185.4 119.8h1M192.5 131.5h1M191.1 124.8h1M177.3 123.5h1M192.6 125.7h1M221.8 127.6h1M201.6 125.9h1M190.9 121.4h1M185.9 116.7h1M176.3 133.8h1M191.9 125.0h1M206.1 125.1h1M201.2 126.7h1M210.2 138.4h1M195.1 139.7h1M191.9 116.3h1M197.5 132.1h1M187.9 128.2h1M189.5 118.9h1M222.6 123.1h1M176.1 116.0h1M179.9 129.6h1M218.6 135.3h1M181.9 119.0h1M175.3 129.3h1M208.4 125.7h1M196.6 110.9h1M212.1 129.1h1M205.1 138.7h1M177.2 130.6h1M196.9 123.3h1M205.5 128.8h1M191.4 139.1h1M181.4 131.3h1M212.0 110.8h1M202.9 127.6h1M212.1 131.6h1M192.7 118.7h1M242.8 123.5h1M188.6 123.6h1M188.9 131.9h1M171.7 139.3h1M189.6 135.3h1M189.0 126.6h1M182.8 132.7h1M200.7 121.3h1M188.6 139.4h1M208.4 129.1h1M170.2 126.8h1M181.8 140.9h1M208.4 141.3h1M205.7 141.7h1M222.0 142.1h1M240.2 141.1h1M255.8 141.9h1M203.7 142.0h1M246.7 142.0h1M244.6 142.1h1M244.0 142.1h1M227.7 141.9h1M262.9 141.5h1M247.2 141.6h1M241.1 141.6h1M221.9 141.5h1M243.9 141.4h1M176.1 141.5h1M233.1 141.9h1M234.4 141.5h1M236.3 141.3h1M231.1 141.8h1M237.7 141.5h1M188.3 141.5h1M218.5 141.3h1M195.1 142.1h1M190.5 141.0h1M256.3 141.8h1M206.4 142.2h1M183.2 141.9h1M192.3 141.1h1M224.1 141.8h1M240.9 141.5h1M230.4 141.9h1M245.9 142.0h1M214.8 141.5h1M206.2 141.6h1M212.7 141.3h1M257.2 141.3h1M192.2 141.3h1M211.6 142.0h1M178.5 141.6h1M257.0 141.6h1M262.0 141.3h1M200.4 141.5h1M171.1 142.2h1M224.6 141.5h1M257.1 141.9h1M198.8 141.2h1M196.4 141.5h1M191.3 142.0h1M227.6 141.7h1M230.1 142.2h1M173.4 141.3h1M210.8 141.3h1M212.9 141.4h1M206.6 141.8h1M247.1 142.0h1M226.2 141.9h1M174.7 141.9h1M189.3 141.8h1M223.3 142.2h1M209.0 142.2h1M258.1 142.1h1M194.8 142.1h1M239.0 142.2h1M235.2 141.8h1M256.7 141.9h1M253.1 142.1h1M265.6 141.9h1M260.4 141.9h1M260.3 142.1h1M190.6 142.2h1M214.3 142.0h1M199.5 141.8h1M213.5 142.2h1M237.5 142.1h1M179.8 142.0h1M195.6 142.0h1M226.7 142.1h1M206.2 141.8h1M186.0 142.0h1M257.6 141.9h1M253.7 142.1h1M237.2 142.2h1M241.3 142.2h1M192.5 141.9h1M224.9 142.0h1M197.5 142.1h1M204.5 142.0h1M190.5 141.9h1M197.7 141.8h1M237.6 141.9h1M224.4 142.1h1M244.4 142.2h1M191.6 141.8h1M201.2 141.9h1M190.8 141.8h1M259.3 141.9h1M228.3 142.2h1M176.3 141.9h1M251.6 141.8h1M200.0 122.0h1M217.4 125.0h1M201.9 128.8h1M213.5 129.3h1M204.1 120.6h1M195.1 114.0h1M214.5 124.3h1M220.8 116.3h1M200.5 115.2h1M194.7 120.4h1M212.5 119.0h1M186.6 131.2h1M201.6 113.3h1M211.0 124.4h1M193.2 114.8h1M207.0 123.8h1M213.1 133.6h1M206.0 111.4h1M213.5 110.9h1M215.9 117.3h1M216.3 105.8h1M217.6 119.7h1M203.3 130.3h1M232.1 111.1h1M200.9 122.8h1M222.4 115.3h1M220.2 107.2h1M214.6 100.8h1M206.0 118.6h1M209.5 132.3h1M204.7 126.0h1M230.2 116.9h1M201.8 116.4h1M191.4 133.5h1M222.2 124.2h1M220.5 135.8h1M206.3 97.8h1M203.9 131.0h1M208.7 128.7h1M230.2 100.6h1M229.7 107.9h1M195.3 128.5h1M215.1 110.7h1M220.3 104.9h1M211.0 128.3h1M204.5 116.8h1M211.6 125.3h1M231.4 121.7h1M226.8 110.0h1M192.8 128.4h1M200.7 114.3h1M203.7 122.2h1M213.4 127.0h1M205.1 133.9h1M212.6 125.6h1M215.5 103.7h1M221.2 106.0h1M217.5 126.5h1M211.0 102.8h1M215.4 128.2h1M207.4 120.0h1M216.7 132.6h1M199.7 115.4h1M196.1 121.7h1M208.2 124.0h1M200.7 106.9h1M196.8 133.7h1M210.1 105.5h1M207.5 95.9h1M233.9 112.5h1M195.2 132.8h1M206.7 116.6h1M204.5 120.2h1M204.1 113.4h1M205.9 127.4h1M208.3 106.7h1M211.0 135.0h1M223.0 129.3h1M191.5 118.9h1M179.7 116.1h1M200.8 113.7h1M195.5 120.2h1M210.8 127.6h1M206.8 103.2h1M221.9 109.6h1M199.2 125.0h1M199.1 111.1h1M221.5 107.2h1M205.5 127.4h1M227.2 115.0h1M202.2 128.2h1M221.3 117.2h1M213.2 112.8h1M201.1 107.1h1M197.1 114.8h1M215.5 131.8h1M181.6 121.4h1M199.6 124.2h1M216.9 107.7h1M206.7 133.8h1M214.9 122.2h1M213.8 109.7h1M208.3 113.6h1M202.6 124.9h1M207.7 107.6h1M204.2 128.9h1M213.5 124.4h1M202.5 115.3h1M219.2 120.6h1M185.3 141.9h1M204.5 129.3h1M223.0 109.5h1M200.7 127.2h1M212.3 124.0h1M196.5 129.4h1M220.7 120.8h1M220.3 126.2h1M206.3 134.1h1M206.7 111.0h1M207.3 123.7h1M218.0 128.9h1M208.6 114.9h1M228.7 105.8h1M205.0 131.7h1M201.6 116.0h1M203.8 135.0h1M199.2 126.4h1M203.7 120.9h1M201.7 125.5h1M219.4 125.2h1M200.5 112.7h1M194.7 127.9h1M209.8 120.8h1M192.7 122.3h1M204.7 129.3h1M207.7 127.1h1M205.7 102.1h1M212.2 131.3h1M204.6 123.8h1M202.5 111.0h1M229.6 107.4h1M213.3 113.1h1M227.6 121.7h1M224.6 121.3h1M221.8 127.3h1M213.5 119.0h1M213.0 108.7h1M187.9 139.9h1M207.5 113.7h1M202.3 113.9h1M201.7 126.0h1M213.8 126.0h1M210.9 125.5h1M212.6 110.9h1M189.7 123.6h1M204.3 117.2h1M227.5 103.0h1M210.3 111.5h1M210.3 106.4h1M219.0 116.5h1M200.0 112.7h1M222.7 106.7h1M212.6 93.4h1M205.2 140.7h1M226.4 110.8h1M221.3 119.6h1M206.1 123.0h1M192.1 115.6h1M213.4 125.2h1M205.3 109.6h1M217.6 116.3h1M215.1 113.8h1M211.0 129.8h1M217.1 103.3h1M202.5 133.6h1M212.8 118.6h1M203.9 133.3h1M211.8 120.8h1M210.5 113.9h1M213.5 119.0h1M217.7 119.3h1M193.6 121.3h1M211.5 130.7h1M207.6 132.5h1M223.3 121.3h1M230.9 108.1h1M217.4 128.0h1M217.3 125.8h1M213.9 131.9h1M204.2 103.2h1M218.7 112.9h1M199.2 122.4h1M211.3 130.6h1M212.0 117.8h1M205.0 113.1h1M200.8 119.8h1M201.8 112.1h1M209.5 130.1h1M213.4 117.7h1M211.4 116.4h1M201.4 133.3h1M233.0 112.2h1M226.3 135.8h1M199.6 130.7h1M204.6 119.7h1M192.7 128.3h1M206.1 105.4h1M204.8 117.4h1M202.1 130.4h1M226.8 114.7h1M222.3 120.6h1M210.9 125.0h1M220.1 109.8h1M201.7 110.1h1M187.5 123.5h1M219.3 118.2h1M217.2 129.1h1M197.9 140.3h1M213.2 125.8h1M219.0 106.4h1M202.4 127.9h1M206.0 115.8h1M204.7 115.1h1M208.7 116.4h1M221.1 102.9h1M215.0 117.6h1M220.2 104.1h1M212.0 136.2h1M201.1 120.6h1M201.1 114.5h1M227.4 125.5h1M204.4 115.0h1M198.8 132.5h1M206.3 127.2h1M183.9 129.5h1M216.9 120.1h1M182.6 137.6h1M210.2 119.3h1M203.9 118.5h1M212.6 123.3h1M178.4 136.8h1M217.1 113.5h1M216.9 106.3h1M231.7 117.5h1M229.8 124.9h1M197.0 125.6h1M218.1 125.8h1M204.2 109.5h1M220.2 112.3h1M212.0 115.3h1M202.1 109.9h1M212.9 111.7h1M193.6 132.7h1M212.8 127.8h1M211.8 106.3h1M207.3 121.0h1M205.4 111.4h1M214.0 127.4h1M172.5 141.7h1M171.9 110.1h1M170.7 125.8h1M172.1 130.0h1M171.4 133.9h1M170.7 141.0h1M173.2 136.6h1M170.3 132.1h1M172.2 135.8h1M170.2 137.7h1M171.9 134.7h1M170.5 129.9h1M170.5 127.7h1M170.7 127.6h1M171.1 130.9h1M170.3 129.0h1M170.9 134.0h1M171.5 127.3h1M170.0 117.1h1M170.8 127.0h1M170.8 125.8h1M170.2 130.6h1M170.9 122.9h1M172.2 132.9h1M172.3 124.8h1M172.9 126.3h1M171.2 125.9h1M171.2 122.9h1M171.8 140.3h1M172.1 136.0h1M170.8 138.0h1" stroke="#000" stroke-width="1.0" stroke-opacity="0.7" fill="none"/>
<path d="M254.6 69.5h1M258.9 77.9h1M250.9 65.0h1M260.7 67.2h1M262.7 80.5h1M257.8 62.9h1M256.8 84.0h1M246.7 86.2h1M261.1 75.2h1M262.6 85.9h1M260.8 73.2h1M267.3 74.0h1M263.9 88.7h1M259.4 81.7h1M265.2 106.6h1M266.3 72.7h1M252.3 75.6h1M258.7 68.1h1M266.0 79.0h1M246.5 86.2h1M259.2 88.7h1M242.2 68.9h1M261.7 97.4h1M251.1 63.1h1M257.4 92.6h1M256.1 63.7h1M254.2 71.5h1M264.4 90.2h1M267.6 82.0h1M262.0 97.3h1M266.6 94.0h1M263.4 87.7h1M265.1 79.2h1M255.4 76.5h1M261.1 76.6h1M258.3 73.8h1M267.9 77.9h1M260.1 78.1h1M257.1 84.1h1M259.2 82.8h1M259.3 77.5h1M261.2 82.8h1M267.2 93.2h1M258.4 106.2h1M258.4 95.9h1M260.0 67.1h1M257.5 77.0h1M255.9 78.9h1M266.3 83.6h1M267.9 78.6h1M259.1 90.8h1M262.3 72.4h1M266.0 65.8h1M265.9 101.7h1M259.7 78.2h1M267.8 97.3h1M251.7 72.7h1M266.5 81.1h1M261.3 78.6h1M262.1 83.2h1M257.2 77.6h1M262.9 70.4h1M264.6 60.5h1M266.1 79.0h1M251.6 92.0h1M251.7 98.4h1M255.2 90.8h1M260.5 94.4h1M259.3 89.2h1M258.5 63.3h1M264.1 84.3h1M264.2 94.9h1M255.2 67.3h1M263.1 73.9h1M260.2 80.0h1M254.5 89.8h1M260.1 96.0h1M263.0 89.5h1M258.7 74.2h1M256.8 72.2h1M264.6 81.3h1M252.4 66.3h1M254.2 63.8h1M254.0 66.5h1M266.7 69.7h1M256.3 79.0h1M261.3 83.8h1M267.1 85.8h1M258.3 91.2h1M264.0 73.7h1M264.8 91.2h1M261.9 83.1h1M262.0 86.0h1M262.8 80.1h1M266.6 63.1h1M263.0 77.3h1M255.8 85.9h1M258.0 69.5h1M258.8 84.5h1M262.9 78.6h1M262.6 90.8h1M260.0 90.4h1M254.7 79.9h1M267.2 86.3h1M262.6 75.4h1M246.8 76.1h1M254.3 76.4h1M267.8 79.9h1M252.3 81.0h1M267.0 69.5h1M251.9 76.6h1M266.8 74.7h1M264.4 84.1h1M261.1 84.0h1M263.6 70.5h1M255.3 79.1h1M267.5 74.0h1M250.1 88.3h1M252.7 81.1h1M264.9 71.6h1M263.7 89.8h1M258.9 86.5h1M262.0 71.7h1M256.2 74.6h1M262.9 66.1h1M257.2 76.5h1M245.9 79.8h1M263.3 68.2h1M257.7 76.0h1M267.1 80.8h1M251.0 88.2h1M255.7 62.9h1M266.8 76.9h1M261.0 84.6h1M259.2 83.7h1M258.3 80.2h1M266.1 76.5h1M261.7 74.0h1M260.4 84.8h1M254.6 78.4h1M249.6 73.8h1M261.6 84.7h1M253.0 79.1h1M253.8 82.8h1M263.1 84.0h1M259.4 67.4h1M256.6 68.1h1M255.7 79.5h1M255.0 81.8h1M244.9 97.7h1M249.0 89.0h1M260.2 86.5h1M258.3 88.5h1M255.9 72.8h1M264.0 76.0h1M266.3 72.4h1M263.1 71.3h1M260.2 99.1h1M252.6 69.1h1M248.5 78.0h1M256.1 97.8h1M253.4 83.7h1M266.1 78.0h1M263.5 84.8h1M258.3 88.9h1M254.4 86.7h1M258.3 79.8h1M243.8 82.3h1M250.0 62.2h1M267.0 71.9h1M263.8 80.4h1M247.3 72.0h1M258.9 84.2h1M261.6 68.8h1M256.9 80.9h1M251.1 76.1h1M256.8 61.2h1M257.4 88.4h1M252.9 93.6h1M258.1 81.3h1M256.5 80.8h1M263.6 80.3h1M254.6 86.7h1M265.3 80.0h1M259.1 81.9h1M257.5 73.6h1M266.9 91.0h1M266.5 77.1h1M262.3 85.5h1M256.6 60.0h1M262.7 86.4h1M264.4 84.8h1M262.3 89.2h1M261.9 93.2h1M261.4 87.1h1M256.7 82.7h1M264.3 81.2h1M258.2 88.6h1M254.7 83.5h1M265.4 81.7h1M264.4 84.8h1M259.2 83.7h1M257.0 76.0h1M248.7 79.1h1M247.9 80.3h1M262.6 70.4h1M261.6 82.6h1M258.3 71.9h1M260.2 83.6h1M245.7 83.0h1M264.4 74.4h1M263.5 98.6h1M261.9 92.1h1M243.1 90.3h1M259.5 73.8h1M262.6 80.6h1M262.7 103.8h1M260.3 85.6h1M257.4 109.3h1M267.9 76.9h1M246.2 81.9h1M266.7 61.9h1M257.2 85.0h1M242.4 78.3h1M248.7 68.1h1M264.2 90.1h1M264.9 64.3h1M249.6 84.8h1M257.9 71.0h1M246.5 77.9h1M252.9 90.0h1M246.2 74.5h1M261.5 90.1h1M260.4 96.2h1M260.8 79.0h1M264.4 83.1h1M249.4 71.6h1M259.2 83.0h1M251.5 73.6h1M255.2 83.0h1M257.7 85.4h1M264.0 71.9h1M258.7 68.9h1M261.8 87.2h1M253.4 64.2h1M265.0 77.4h1M260.8 84.1h1M263.9 88.3h1M257.5 60.4h1M257.2 77.3h1M257.8 83.5h1M259.1 91.6h1M256.1 79.9h1M258.2 98.9h1M253.6 71.1h1M258.0 86.8h1M261.1 78.4h1M249.6 61.5h1M259.3 77.9h1M264.3 88.7h1M254.0 69.0h1M258.1 93.2h1M251.3 88.3h1M266.8 78.2h1M258.4 74.5h1M266.4 85.5h1M267.3 77.5h1M254.4 99.2h1M252.1 93.4h1M262.0 80.5h1M267.7 83.1h1M261.9 97.8h1M246.2 85.8h1M253.3 80.7h1M259.7 82.4h1M242.1 86.2h1M262.9 118.0h1M257.6 100.0h1M260.6 112.3h1M267.8 121.3h1M248.7 61.5h1M256.5 98.3h1M255.9 102.1h1M260.1 129.7h1M259.6 123.1h1M257.3 113.7h1M243.8 110.0h1M255.5 106.8h1M252.9 112.9h1M249.9 104.9h1M247.1 88.8h1M250.2 101.4h1M245.5 69.1h1M251.6 116.9h1M245.1 82.2h1M258.0 117.2h1M248.9 107.9h1M227.7 105.9h1M264.4 110.7h1M256.6 117.2h1M236.5 87.5h1M243.7 111.9h1M249.4 77.9h1M262.9 105.0h1M263.8 140.0h1M240.3 87.7h1M264.6 130.5h1M258.5 113.8h1M261.2 118.5h1M243.6 119.9h1M263.8 101.5h1M246.8 100.2h1M249.8 116.4h1M261.9 108.4h1M252.3 79.8h1M251.2 92.1h1M250.1 113.5h1M247.2 99.5h1M244.8 103.9h1M252.4 124.0h1M237.6 122.5h1M260.7 99.7h1M248.9 111.1h1M259.7 105.5h1M253.6 108.3h1M245.3 112.3h1M260.1 108.8h1M244.8 108.0h1M254.0 113.0h1M251.3 121.2h1M264.7 121.1h1M257.1 127.4h1M254.6 105.4h1M242.2 108.3h1M265.8 92.9h1M261.9 87.9h1M257.7 136.9h1M255.4 89.5h1M257.5 105.7h1M262.1 99.8h1M239.5 100.5h1M260.2 124.3h1M257.4 108.4h1M261.1 104.9h1M250.9 111.6h1M264.7 100.1h1M259.4 97.9h1M248.4 110.8h1M243.1 94.6h1M244.3 98.6h1M260.4 109.2h1M243.0 70.7h1M258.9 98.2h1M264.3 101.8h1M243.3 98.0h1M241.3 85.8h1M261.3 99.7h1M261.1 99.3h1M252.9 99.4h1M250.1 97.7h1M237.5 134.6h1M266.2 125.6h1M254.0 105.6h1M250.7 110.0h1M259.1 108.0h1M247.6 92.9h1M243.8 98.1h1M254.6 117.2h1M253.9 111.8h1M258.2 125.9h1M243.2 125.2h1M258.8 116.5h1M241.4 104.5h1M252.6 118.0h1M261.0 118.8h1M243.3 127.7h1M255.5 122.6h1M254.8 97.1h1M261.7 100.9h1M252.9 125.4h1M258.9 135.2h1M265.7 91.3h1M241.1 126.1h1M260.3 104.0h1M252.3 99.4h1M242.5 122.1h1M254.1 113.6h1M251.5 107.5h1M238.0 116.4h1M248.7 102.1h1M257.7 127.9h1M235.6 106.0h1M259.8 123.8h1M246.7 113.0h1M258.5 122.5h1M249.3 105.2h1M250.3 125.7h1M264.6 101.2h1M253.6 111.5h1M246.8 106.3h1M262.6 120.1h1M248.8 98.1h1M253.8 85.5h1M257.6 110.0h1M242.9 104.5h1M248.9 104.0h1M247.0 129.1h1M246.2 119.9h1M256.7 130.3h1M254.3 108.2h1M255.5 79.2h1M252.0 90.9h1M253.6 132.8h1M248.1 114.9h1M264.1 122.6h1M251.2 81.4h1M258.5 116.9h1M251.9 101.6h1M250.2 98.9h1M240.8 97.6h1M247.7 127.2h1M239.2 87.2h1M257.2 84.5h1M236.8 98.6h1M244.0 93.3h1M253.4 115.1h1M249.0 104.0h1M261.2 105.9h1M261.4 99.2h1M259.2 127.6h1M251.9 103.0h1M253.4 115.2h1M244.0 108.8h1M249.6 129.9h1M239.3 118.1h1M252.0 96.8h1M256.1 104.6h1M255.2 111.8h1M265.6 102.1h1M257.4 92.8h1M266.8 90.6h1M247.7 108.2h1M256.9 113.4h1M244.4 103.0h1M259.2 126.2h1M261.7 114.5h1M252.5 100.0h1M250.2 106.8h1M259.6 100.6h1M262.2 105.1h1M253.6 102.5h1M259.8 110.0h1M261.6 117.1h1M247.5 133.9h1M266.3 109.3h1M252.3 112.1h1M266.5 96.6h1M252.9 81.1h1M246.4 135.7h1M250.1 117.3h1M245.7 97.4h1M225.5 87.5h1M233.4 78.5h1M227.4 125.6h1M262.4 86.9h1M263.2 99.0h1M263.5 88.9h1M238.5 109.4h1M235.1 90.4h1M257.7 128.0h1M240.8 105.3h1M251.4 114.1h1M266.3 112.3h1M245.1 74.1h1M239.6 106.3h1M225.5 103.2h1M230.2 91.0h1M264.8 137.0h1M230.1 113.7h1M246.9 75.8h1M238.4 109.9h1M244.1 112.5h1M228.0 115.5h1M252.5 85.5h1M250.5 138.3h1M265.1 115.8h1M248.4 125.2h1M245.4 122.2h1M241.8 111.4h1M258.0 113.5h1M252.1 99.3h1M240.8 118.5h1M245.1 103.3h1M242.0 92.6h1M253.2 134.3h1M233.8 118.1h1M248.9 117.2h1M254.8 100.4h1M225.5 97.8h1M248.5 116.7h1M266.7 118.7h1M254.4 96.9h1M260.7 81.2h1M264.8 106.8h1M245.4 121.1h1M230.4 76.5h1M251.8 88.1h1M248.8 92.8h1M241.4 88.0h1M236.3 81.6h1M241.2 79.7h1M229.3 133.7h1M249.8 141.9h1M244.8 102.9h1M225.4 112.9h1M235.7 134.6h1M235.1 134.7h1M240.0 129.3h1M257.1 138.3h1M250.9 97.6h1M236.8 88.7h1M229.6 93.2h1M239.3 130.4h1M225.3 107.6h1M247.8 83.2h1M256.2 86.7h1M258.4 84.0h1M264.5 94.2h1M229.2 82.7h1M234.2 81.4h1M239.1 140.9h1M241.9 100.0h1M258.9 77.2h1M228.9 133.8h1M239.7 84.4h1M233.3 124.8h1M257.0 104.8h1M234.2 94.4h1M240.3 89.8h1M260.7 78.5h1M242.4 124.2h1M226.5 140.4h1M252.7 118.3h1M233.7 86.4h1M262.9 141.2h1M225.7 130.0h1M234.0 77.5h1M251.9 78.8h1M262.8 131.9h1M237.9 82.3h1M248.1 125.2h1M226.7 122.0h1M230.6 98.8h1M232.4 77.8h1M249.1 93.3h1M266.0 136.2h1M257.7 108.3h1M254.1 95.6h1M246.1 110.9h1M244.0 103.6h1M258.1 133.0h1M238.7 77.3h1M235.0 107.5h1M259.4 124.1h1M266.2 127.3h1M238.4 75.9h1M246.7 95.4h1M264.1 136.3h1M249.2 126.9h1M257.7 108.9h1M244.9 139.7h1M260.9 112.6h1M259.6 111.1h1M239.5 81.0h1M251.2 133.7h1M232.9 135.8h1M249.9 106.4h1M240.1 80.5h1M237.0 138.9h1M262.8 139.5h1M247.4 107.4h1M227.8 102.3h1M227.9 118.6h1M227.1 141.0h1M234.1 121.3h1M253.5 86.6h1M245.8 102.0h1M233.0 100.1h1M227.9 122.2h1M243.0 108.5h1M231.5 124.5h1M256.1 79.4h1M242.0 80.7h1M256.5 73.1h1M264.2 76.6h1M262.6 85.6h1M248.8 122.5h1M267.2 134.1h1M231.9 122.8h1M244.4 83.9h1M245.8 138.6h1M225.9 121.6h1M249.4 134.6h1M246.4 89.7h1M263.3 79.7h1M256.0 92.9h1M227.4 83.9h1M263.3 83.2h1M266.3 82.5h1M266.8 75.7h1M254.7 109.9h1M251.8 137.7h1M250.6 129.4h1M257.4 105.5h1M234.8 134.4h1M264.8 125.2h1M257.5 83.9h1M262.4 122.7h1M229.4 76.9h1M229.6 87.5h1M254.7 127.2h1M250.2 100.1h1M266.0 85.3h1M219.8 105.0h1M221.9 125.0h1M259.2 125.6h1M226.0 114.5h1M225.5 112.3h1M239.5 85.4h1M259.9 130.2h1M255.5 81.2h1M220.2 126.0h1M257.5 117.0h1M265.6 104.0h1M219.7 107.3h1M224.6 100.9h1M255.8 97.0h1M251.3 115.3h1M206.4 109.7h1M261.4 119.0h1M260.3 118.5h1M232.6 88.4h1M254.2 95.0h1M248.2 119.6h1M206.1 116.8h1M226.4 92.2h1M247.0 118.0h1M218.9 123.3h1M209.9 78.8h1M262.7 138.1h1M253.2 113.7h1M239.4 111.4h1M266.3 140.7h1M233.3 88.7h1M240.0 103.8h1M257.6 137.7h1M245.3 80.6h1M239.7 83.7h1M239.9 130.7h1M248.8 106.8h1M215.3 138.3h1M261.6 108.2h1M208.4 121.0h1M231.1 102.0h1M229.6 93.7h1M214.1 119.2h1M238.7 104.3h1M253.8 109.2h1M215.5 93.2h1M241.3 120.3h1M246.2 125.7h1M228.2 127.1h1M242.9 92.3h1M213.1 117.6h1M260.1 139.7h1M258.1 131.0h1M243.3 91.7h1M224.3 133.6h1M222.8 107.9h1M240.7 76.2h1M212.2 88.6h1M256.7 128.4h1M210.7 86.0h1M257.0 114.9h1M261.7 125.1h1M211.3 127.3h1M251.5 77.8h1" stroke="#000" stroke-width="1.0" stroke-opacity="0.62" fill="none"/>
<ellipse cx="196.5" cy="127.5" rx="8.5" ry="8" fill="#c8c8c8" opacity="0.9" filter="url(#bl)" transform="rotate(0 196.5 127.5)"/>
</g>
<path d="M169 96.8H222.7V143.2" fill="none" stroke="#111" stroke-width="1.4"/>
<text transform="translate(167.8,155.2) scale(0.72,1)" font-size="6.6" text-anchor="middle" class="ss" font-style="italic" fill="#222">10<tspan font-size="4.4" dy="-2.6">0</tspan></text>
<text transform="translate(164.5,149.1) scale(0.72,1)" font-size="6.6" text-anchor="end" class="ss" font-style="italic" fill="#222">10<tspan font-size="4.4" dy="-2.6">0</tspan></text>
<text transform="translate(193.1,155.2) scale(0.72,1)" font-size="6.6" text-anchor="middle" class="ss" font-style="italic" fill="#222">10<tspan font-size="4.4" dy="-2.6">1</tspan></text>
<text transform="translate(164.5,126.8) scale(0.72,1)" font-size="6.6" text-anchor="end" class="ss" font-style="italic" fill="#222">10<tspan font-size="4.4" dy="-2.6">1</tspan></text>
<text transform="translate(218.3,155.2) scale(0.72,1)" font-size="6.6" text-anchor="middle" class="ss" font-style="italic" fill="#222">10<tspan font-size="4.4" dy="-2.6">2</tspan></text>
<text transform="translate(164.5,104.6) scale(0.72,1)" font-size="6.6" text-anchor="end" class="ss" font-style="italic" fill="#222">10<tspan font-size="4.4" dy="-2.6">2</tspan></text>
<text transform="translate(243.6,155.2) scale(0.72,1)" font-size="6.6" text-anchor="middle" class="ss" font-style="italic" fill="#222">10<tspan font-size="4.4" dy="-2.6">3</tspan></text>
<text transform="translate(164.5,82.4) scale(0.72,1)" font-size="6.6" text-anchor="end" class="ss" font-style="italic" fill="#222">10<tspan font-size="4.4" dy="-2.6">3</tspan></text>
<text transform="translate(268.8,155.2) scale(0.72,1)" font-size="6.6" text-anchor="middle" class="ss" font-style="italic" fill="#222">10<tspan font-size="4.4" dy="-2.6">4</tspan></text>
<text transform="translate(164.5,60.1) scale(0.72,1)" font-size="6.6" text-anchor="end" class="ss" font-style="italic" fill="#222">10<tspan font-size="4.4" dy="-2.6">4</tspan></text>
<text x="173.2" y="93.89999999999999" font-size="12.5" text-anchor="start" class="sf" font-weight="bold" >89%</text>
<rect x="41" y="174.5" width="99.80000000000001" height="89.69999999999999" fill="#fff" stroke="#333" stroke-width="1.3"/>
<clipPath id="cp3"><rect x="41.6" y="175.1" width="98.60000000000001" height="88.49999999999999"/></clipPath>
<g clip-path="url(#cp3)">
<ellipse cx="103" cy="202.5" rx="24" ry="8.5" fill="#555" opacity="0.6" filter="url(#bl)" transform="rotate(0 103 202.5)"/>
<ellipse cx="58" cy="246.5" rx="15" ry="11" fill="#777" opacity="0.55" filter="url(#bl)" transform="rotate(0 58 246.5)"/>
<ellipse cx="110" cy="233" rx="13" ry="18" fill="#777" opacity="0.5" filter="url(#bl)" transform="rotate(0 110 233)"/>
<ellipse cx="84" cy="228" rx="12" ry="9" fill="#888" opacity="0.35" filter="url(#bl)" transform="rotate(-40 84 228)"/>
<path d="M66.2 243.5h1M45.5 248.3h1M45.2 242.2h1M76.9 252.7h1M53.3 245.4h1M51.2 245.9h1M42.8 251.6h1M58.1 241.0h1M53.3 242.1h1M51.9 241.9h1M71.7 251.6h1M62.4 249.0h1M46.1 226.1h1M73.9 251.9h1M60.3 248.3h1M60.1 246.2h1M55.3 227.6h1M64.0 246.4h1M68.3 248.5h1M55.0 251.0h1M60.0 242.3h1M54.1 242.5h1M54.9 242.3h1M56.8 255.3h1M53.0 244.7h1M50.2 234.8h1M49.1 241.8h1M59.6 243.2h1M45.4 242.9h1M73.9 238.7h1M58.7 254.3h1M49.5 241.3h1M88.4 256.2h1M52.5 247.3h1M59.1 247.2h1M62.9 243.5h1M59.6 234.7h1M54.6 258.4h1M60.5 240.6h1M59.5 254.7h1M51.0 242.4h1M57.1 241.2h1M59.1 246.7h1M45.8 240.8h1M45.0 248.4h1M60.7 251.4h1M48.8 241.6h1M69.3 249.7h1M64.6 247.9h1M61.9 253.8h1M71.3 262.7h1M55.2 252.9h1M67.1 249.5h1M60.8 235.6h1M69.4 238.7h1M51.2 238.9h1M63.9 238.0h1M62.8 250.7h1M59.1 243.2h1M64.2 256.8h1M53.2 237.3h1M51.7 238.7h1M55.5 244.7h1M49.5 242.5h1M47.4 247.9h1M66.9 231.1h1M60.3 258.5h1M55.0 253.6h1M61.3 238.4h1M68.4 241.0h1M61.7 242.7h1M55.7 247.3h1M71.8 232.1h1M46.3 246.8h1M68.2 244.4h1M56.0 250.3h1M74.5 238.5h1M66.0 235.2h1M69.8 253.7h1M66.3 239.0h1M44.5 251.4h1M60.7 251.7h1M43.9 221.6h1M69.7 254.2h1M55.1 245.9h1M62.7 252.2h1M56.0 241.8h1M47.8 254.4h1M59.0 217.9h1M61.6 241.3h1M44.6 241.8h1M44.6 242.3h1M52.3 250.2h1M47.4 231.0h1M51.7 234.7h1M65.8 244.3h1M57.7 245.7h1M61.1 254.1h1M69.5 245.0h1M44.4 242.9h1M64.8 238.4h1M71.2 238.1h1M46.2 252.8h1M56.9 248.6h1M54.8 246.2h1M51.9 261.6h1M64.9 245.0h1M62.9 252.9h1M52.5 247.4h1M60.1 241.3h1M49.9 244.3h1M54.8 242.6h1M64.8 246.6h1M75.9 253.1h1M54.3 240.4h1M63.2 242.9h1M54.9 244.1h1M64.4 247.6h1M79.2 239.9h1M57.0 248.5h1M53.4 241.8h1M76.3 234.0h1M61.6 231.6h1M61.5 230.2h1M45.8 255.3h1M74.1 247.0h1M60.5 236.9h1M54.3 235.1h1M57.0 245.3h1M59.3 252.5h1M51.2 227.9h1M45.8 235.7h1M54.1 242.4h1M57.5 257.2h1M58.3 237.1h1M54.8 238.8h1M55.5 250.7h1M46.1 251.8h1M76.7 258.5h1M75.0 246.7h1M43.9 262.4h1M57.5 247.9h1M54.3 238.3h1M64.5 234.5h1M43.6 250.5h1M54.1 239.1h1M63.2 257.6h1M55.0 244.9h1M63.9 253.7h1M68.8 251.6h1M51.0 250.4h1M58.1 232.1h1M70.9 250.7h1M72.3 245.5h1M65.6 245.4h1M59.7 253.4h1M58.6 251.0h1M57.6 256.0h1M64.8 232.5h1M75.4 249.6h1M52.7 240.9h1M78.8 246.7h1M63.3 250.9h1M51.8 260.3h1M80.0 239.6h1M69.9 232.7h1M54.5 246.5h1M58.5 250.7h1M62.2 249.0h1M56.6 248.5h1M52.2 262.0h1M58.6 256.1h1M59.1 244.8h1M56.1 235.5h1M79.7 249.4h1M59.4 242.2h1M71.4 243.3h1M53.2 241.6h1M74.1 248.5h1M56.5 240.8h1M71.4 248.4h1M54.6 253.3h1M67.2 237.9h1M70.0 254.9h1M55.5 235.2h1M69.4 243.2h1M55.9 243.7h1M55.2 252.8h1M46.6 250.3h1M70.1 254.6h1M65.5 248.2h1M56.0 245.0h1M48.9 259.6h1M56.8 237.8h1M66.7 258.3h1M60.9 243.4h1M46.5 251.3h1M55.5 240.6h1M64.3 235.5h1M65.7 226.3h1M51.6 234.4h1M55.5 252.5h1M44.6 257.1h1M51.0 242.1h1M68.4 240.1h1M73.1 244.4h1M57.1 238.2h1M70.0 245.5h1M53.1 238.3h1M51.5 245.2h1M50.7 252.5h1M57.7 241.0h1M62.9 257.6h1M69.3 247.1h1M66.6 233.6h1M50.4 254.2h1M57.2 246.5h1M64.6 249.0h1M62.8 242.0h1M55.0 256.6h1M53.0 234.4h1M54.5 253.2h1M76.6 247.2h1M51.8 250.9h1M61.3 255.6h1M63.5 252.1h1M63.4 249.4h1M48.8 244.7h1M74.6 256.8h1M68.1 249.2h1M57.0 248.8h1M54.8 254.8h1M55.0 239.9h1M50.4 239.1h1M62.3 260.5h1M65.0 243.3h1M64.0 239.4h1M55.6 246.3h1M58.4 252.3h1M63.7 261.2h1M66.8 243.7h1M60.9 239.2h1M52.0 243.3h1M68.6 240.5h1M42.3 237.9h1M46.0 244.5h1M55.2 236.6h1M50.2 242.7h1M62.3 250.9h1M71.8 244.0h1M64.7 246.6h1M47.1 240.9h1M80.6 244.7h1M75.1 252.7h1M75.3 244.5h1M67.8 243.6h1M47.0 236.6h1M62.8 233.1h1M62.1 239.0h1M62.0 235.0h1M67.0 244.2h1M42.8 234.5h1M59.0 232.9h1M61.7 249.9h1M51.7 257.2h1M73.1 248.5h1M63.0 249.8h1M55.7 256.6h1M52.9 225.8h1M58.6 249.6h1M66.8 237.2h1M72.5 239.4h1M64.8 251.9h1M60.2 255.1h1M53.4 262.5h1M63.4 242.6h1M84.9 246.0h1M74.1 241.4h1M48.4 255.1h1M59.0 238.3h1M53.5 246.6h1M68.4 258.6h1M52.1 258.3h1M43.1 251.8h1M57.0 249.5h1M54.0 240.3h1M61.3 255.1h1M54.3 237.4h1M44.8 250.2h1M64.1 251.2h1M52.2 242.5h1M76.3 242.9h1M59.7 254.0h1M75.4 249.0h1M61.9 261.6h1M54.3 231.6h1M50.8 243.5h1M71.7 248.6h1M70.7 246.8h1M58.9 241.4h1M45.9 250.1h1M62.1 250.6h1M53.0 242.6h1M62.3 250.9h1M78.7 239.0h1M68.5 253.1h1M55.8 247.1h1M57.9 258.3h1M84.3 248.6h1M55.8 253.7h1M63.5 244.5h1M66.1 253.0h1M54.4 252.9h1M55.3 247.3h1M43.7 257.9h1M54.6 247.2h1M58.0 252.1h1M52.6 252.0h1M50.0 234.1h1M63.7 247.3h1M67.4 230.4h1M59.6 240.8h1M56.5 242.9h1M54.6 240.6h1M68.8 232.2h1M78.9 239.9h1M49.3 236.6h1M48.1 256.1h1M65.4 253.3h1M62.0 247.9h1M52.5 238.2h1M54.7 256.2h1M51.3 246.3h1M75.7 245.4h1M64.9 241.5h1M77.5 236.1h1M64.1 244.1h1M60.4 248.9h1M71.8 253.1h1M69.1 249.0h1M47.6 256.8h1M74.1 249.9h1M66.5 244.1h1M43.8 254.0h1M51.1 261.5h1M65.4 245.9h1M52.2 246.9h1M48.2 243.0h1M74.7 243.6h1M77.1 245.2h1M62.7 238.6h1M55.4 242.4h1M44.3 261.6h1M64.4 245.3h1M47.3 246.3h1M47.7 238.2h1M52.9 222.6h1M44.1 244.9h1M59.0 239.9h1M76.5 250.3h1M52.0 232.7h1M60.2 240.6h1M68.8 237.6h1M70.6 242.3h1M60.4 243.8h1M64.7 255.3h1M52.9 238.7h1M77.7 253.7h1M77.8 253.8h1M59.8 259.2h1M51.6 242.6h1M54.3 251.6h1M49.7 244.6h1M49.8 244.1h1M69.8 255.0h1M51.2 249.7h1M53.5 228.1h1M46.3 256.1h1M57.1 248.2h1M71.1 246.3h1M51.9 241.1h1M48.8 250.5h1M53.6 250.2h1M43.0 242.5h1M79.4 249.0h1M57.3 255.6h1M61.2 258.5h1M46.5 252.2h1M47.5 251.5h1M83.4 258.4h1M49.6 249.4h1M63.0 240.2h1M60.8 237.4h1M68.2 253.4h1M56.7 251.6h1M82.6 244.7h1M53.7 239.7h1M67.5 254.2h1M64.4 259.3h1M51.9 242.6h1M62.6 224.0h1M56.1 246.5h1M48.5 247.9h1M69.1 240.9h1M64.1 244.8h1M56.7 247.0h1M73.7 250.3h1M65.3 247.2h1M58.1 246.8h1M53.1 233.5h1M73.5 260.9h1M74.3 231.1h1M63.9 236.4h1M56.4 241.8h1M51.9 239.8h1M53.3 252.3h1M74.7 253.6h1M58.1 244.8h1M55.7 245.9h1M51.9 244.6h1M66.9 244.2h1M49.9 245.0h1M59.1 245.4h1M55.6 251.7h1M57.8 237.8h1M64.0 240.2h1M66.1 252.7h1M63.2 248.5h1M44.4 244.4h1M59.5 251.2h1M46.7 244.8h1M42.5 247.5h1M59.0 247.0h1M75.2 252.0h1M56.2 241.3h1M53.6 252.4h1M67.6 241.9h1M57.0 242.5h1M65.2 247.6h1M50.8 238.8h1M71.6 234.6h1M79.1 241.6h1M67.0 250.6h1M66.8 255.3h1M53.4 245.9h1M68.3 250.6h1M50.4 239.9h1M43.3 248.1h1M52.7 233.4h1M52.4 248.7h1M60.1 244.2h1M59.9 251.3h1M45.9 239.4h1M68.2 252.0h1M43.7 240.1h1M73.1 252.1h1M56.7 254.3h1M72.3 257.5h1M43.8 235.5h1M52.9 245.6h1M54.5 248.0h1M73.5 255.0h1M68.4 246.0h1M75.2 249.7h1M60.7 245.9h1M57.9 253.3h1M81.6 244.5h1M46.2 254.3h1M60.7 238.3h1M68.2 246.1h1M48.4 225.5h1M47.9 249.1h1M47.5 253.9h1M81.0 248.6h1M60.5 245.4h1M67.1 246.3h1M68.9 257.6h1M67.0 238.2h1M65.1 243.9h1M61.4 253.9h1M51.3 247.7h1M73.4 239.3h1M56.2 251.9h1M55.8 254.3h1M47.7 233.9h1M62.1 244.9h1M61.4 253.8h1M69.1 243.2h1M54.2 230.3h1M48.1 248.0h1M60.4 234.0h1M66.3 245.7h1M69.6 243.2h1M68.2 237.1h1M65.5 249.3h1M65.1 259.6h1M66.3 250.2h1M54.4 238.2h1M47.7 244.9h1M64.2 240.8h1M61.3 251.8h1M57.9 261.5h1M55.0 240.1h1M65.2 244.5h1M61.4 245.0h1M67.2 245.9h1M60.5 245.4h1M49.0 228.1h1M63.8 236.0h1M62.3 251.2h1M77.7 240.0h1M59.7 253.7h1M51.2 241.3h1M62.8 262.7h1M69.4 253.7h1M48.2 251.3h1M70.0 235.8h1M58.3 244.5h1M64.9 232.0h1M65.5 246.0h1M55.4 229.0h1M64.9 249.5h1M66.0 232.3h1M60.3 256.9h1M42.1 251.3h1M50.6 250.4h1M59.2 232.9h1M47.3 256.3h1M57.0 256.0h1M61.7 253.2h1M54.1 247.8h1M54.3 253.3h1M52.2 254.9h1M74.5 236.2h1M56.4 250.4h1M76.6 255.3h1M59.1 232.1h1M66.9 241.3h1M60.2 249.3h1M43.5 254.6h1M67.7 250.7h1M64.4 248.9h1M43.6 241.9h1M66.6 243.4h1M58.4 249.0h1M59.1 248.1h1M63.2 246.0h1M46.7 243.9h1M68.1 240.6h1M63.0 248.5h1M49.0 223.4h1M58.0 239.8h1M51.6 253.5h1M50.2 248.8h1M59.4 247.6h1M78.8 230.2h1M68.2 244.9h1M55.3 240.7h1M58.6 246.4h1M48.6 259.2h1M50.5 244.9h1M45.0 247.2h1M61.9 254.7h1M68.3 242.0h1M74.8 245.2h1M74.3 259.8h1M54.0 237.4h1M63.8 257.5h1M62.3 254.8h1M64.3 253.1h1M71.9 243.7h1M43.5 245.1h1M50.0 236.5h1M56.4 251.7h1M66.4 238.9h1M54.1 256.9h1M69.8 248.9h1M63.7 224.2h1M63.9 249.1h1M43.7 247.5h1M62.9 245.1h1M66.3 253.1h1M58.7 244.0h1M45.9 255.1h1M52.2 248.6h1M74.0 252.2h1M45.0 245.3h1M50.8 232.8h1M49.8 250.7h1M61.6 244.4h1M59.9 236.7h1M50.2 244.7h1M66.4 243.5h1M56.4 248.7h1M73.3 235.9h1M63.6 247.5h1M57.4 248.0h1M55.7 236.1h1M66.9 245.1h1M54.6 252.1h1M48.6 240.3h1M66.7 253.0h1M79.0 242.4h1M43.1 234.1h1M45.7 246.9h1M55.7 240.6h1M47.7 240.4h1M54.3 255.5h1M64.6 257.0h1M66.6 252.1h1M70.3 249.6h1M74.0 255.1h1M76.9 247.7h1M55.2 250.2h1M54.2 240.4h1M62.6 237.1h1M56.5 257.3h1M59.4 252.6h1M64.7 249.1h1M59.2 250.9h1M48.1 250.7h1M47.0 240.0h1M52.0 235.3h1M63.3 251.3h1M81.0 247.4h1M65.8 240.0h1M65.4 236.9h1M78.5 238.3h1M53.8 252.0h1M48.2 247.6h1M68.2 247.3h1M67.8 242.0h1M64.2 228.6h1M73.7 240.7h1M49.1 246.1h1M75.7 240.4h1M57.8 243.1h1M48.4 235.6h1M64.2 251.7h1M50.3 247.8h1M62.7 249.0h1M56.3 246.4h1M60.9 237.5h1M56.6 252.4h1M52.3 256.5h1M55.6 237.2h1M55.0 235.2h1M64.4 233.3h1M58.2 244.1h1M54.9 249.4h1M61.0 241.5h1M66.5 242.4h1M67.3 256.7h1M61.9 253.4h1M44.2 250.5h1M42.6 244.6h1M65.3 224.6h1M50.0 239.8h1M48.3 246.2h1M64.6 236.8h1M51.6 231.2h1M50.7 229.3h1M42.5 249.8h1M67.1 239.5h1M61.7 239.8h1M69.1 260.0h1M51.4 242.2h1M74.2 258.6h1M57.9 251.1h1M55.1 244.8h1M61.1 233.5h1M47.2 263.1h1M65.6 249.9h1M58.6 233.1h1M53.2 233.5h1M78.3 248.9h1M65.6 247.6h1M54.0 255.5h1M67.2 251.1h1M64.1 251.9h1M55.1 249.5h1M58.9 244.0h1M64.7 263.1h1M53.5 255.6h1M47.5 244.5h1M68.6 245.4h1M61.6 236.3h1M46.1 259.3h1M59.6 245.3h1M43.7 237.7h1M47.3 245.6h1M56.8 241.1h1M51.1 246.9h1M70.1 234.8h1M43.3 255.0h1M43.2 242.7h1M59.2 260.6h1M57.2 254.6h1M59.5 239.5h1M60.0 229.5h1M66.5 257.9h1M55.9 252.6h1M47.1 257.8h1M51.3 239.6h1M50.1 231.8h1M65.0 262.0h1M43.2 244.4h1M62.7 241.5h1M68.4 246.8h1M46.9 243.6h1M70.6 254.9h1M57.1 249.5h1M52.6 247.1h1M51.8 247.3h1M52.6 247.6h1M65.2 245.9h1M44.6 250.0h1M55.5 242.0h1M63.8 239.3h1M67.7 250.5h1M50.9 240.4h1M56.8 238.7h1M67.8 227.9h1M59.5 243.2h1M46.7 251.1h1M53.0 249.7h1M53.5 243.7h1M63.4 253.7h1M68.3 245.8h1M73.3 243.3h1M43.9 231.0h1M43.1 239.1h1M58.3 245.7h1M60.5 245.1h1M55.4 243.5h1M58.4 237.0h1M71.2 258.4h1M48.0 253.2h1M50.3 254.1h1M59.2 253.6h1M64.3 250.2h1M55.2 258.8h1M61.7 249.9h1M72.8 243.9h1M76.0 254.7h1M58.8 234.4h1M70.6 243.5h1M59.0 247.0h1M67.9 251.1h1M61.6 247.4h1M66.2 250.6h1M74.8 240.2h1M71.5 249.1h1M61.1 251.5h1M54.6 251.8h1M55.9 251.8h1M50.2 255.4h1M42.3 240.7h1M57.5 248.0h1M49.8 242.8h1M60.7 254.4h1M71.4 242.2h1M57.4 243.5h1M42.3 242.4h1M69.7 235.2h1M87.6 253.9h1M75.9 247.5h1M74.5 241.4h1M71.1 252.1h1M66.1 252.0h1M64.1 251.2h1M70.4 249.4h1M64.6 249.5h1M59.5 239.0h1M45.3 234.1h1M65.2 243.4h1M66.0 242.3h1M62.0 244.4h1M61.0 262.8h1M74.6 256.3h1M61.0 260.4h1M66.6 253.2h1M46.0 241.1h1M59.8 244.3h1M52.7 229.9h1M50.4 245.2h1M61.3 237.4h1M56.7 260.6h1M59.7 230.2h1M56.2 246.1h1M71.2 247.6h1M72.3 248.7h1M70.2 256.9h1M73.9 247.6h1M45.5 247.6h1M63.0 240.4h1M66.6 244.7h1M66.3 247.6h1M48.5 254.5h1M78.8 253.5h1M61.0 232.1h1M61.4 245.8h1M49.9 230.6h1M62.7 253.9h1M57.8 257.5h1M57.8 238.2h1M57.5 249.6h1M50.5 239.7h1M60.8 253.1h1M55.7 250.0h1M52.9 243.3h1M60.1 253.9h1M74.5 245.0h1M62.7 261.9h1M66.7 243.1h1M62.3 234.5h1M50.8 235.2h1M68.7 242.4h1M59.0 246.6h1M56.0 236.6h1M78.0 230.0h1M57.8 251.7h1M56.0 245.2h1M61.3 248.0h1M54.7 254.8h1M63.3 258.2h1M59.1 230.0h1M62.8 232.8h1M52.4 256.1h1M61.6 240.3h1M57.0 247.0h1M53.8 243.5h1M51.6 247.8h1M74.4 257.8h1M56.9 234.7h1M42.9 247.2h1M60.5 240.9h1M49.9 244.3h1M60.8 251.5h1M63.9 226.8h1M52.1 248.2h1M62.0 252.5h1M42.9 258.7h1M46.0 244.4h1M53.4 242.2h1M50.2 252.7h1M66.2 248.9h1M45.2 241.0h1M57.6 249.3h1M52.5 243.9h1M85.0 246.6h1M55.1 226.2h1M50.5 259.3h1M66.8 236.4h1M66.2 247.4h1M50.1 252.5h1M52.0 243.6h1M58.4 247.8h1M53.7 248.5h1M58.2 247.6h1M62.2 240.9h1M44.2 245.5h1M70.8 248.7h1M60.5 240.1h1M46.5 236.0h1M48.8 243.0h1M42.5 245.1h1M42.2 251.3h1M57.9 231.8h1M52.6 247.9h1M62.1 252.3h1M54.6 244.9h1M55.8 250.5h1M51.1 244.7h1M59.7 243.2h1M47.2 257.0h1M63.3 238.7h1M78.2 239.9h1M49.3 243.1h1M63.6 258.2h1M72.1 250.5h1M58.9 251.4h1M50.2 240.4h1M63.6 247.7h1M60.6 237.8h1M60.7 234.4h1M67.6 246.1h1M51.6 242.3h1M51.1 257.1h1M58.4 248.1h1M48.5 235.5h1M60.6 242.5h1M63.3 254.6h1M57.0 250.4h1M60.0 248.0h1M52.9 248.0h1M62.6 246.7h1M53.6 234.3h1M47.4 258.7h1M68.5 248.5h1M61.2 244.9h1M65.1 253.8h1M55.7 248.6h1M67.9 233.3h1M48.7 241.4h1M46.4 242.5h1M49.6 242.9h1M63.1 236.6h1M59.2 257.2h1M60.1 236.2h1M52.1 255.5h1M55.5 241.0h1M66.1 240.3h1M46.9 251.0h1M58.4 240.8h1M62.9 255.0h1M69.2 246.9h1M62.8 250.1h1M43.2 259.5h1M51.5 241.5h1M49.9 238.3h1M69.3 246.1h1M52.4 231.3h1M59.9 245.7h1M47.8 245.3h1M45.9 250.1h1M59.2 228.9h1M46.9 240.8h1M66.2 250.9h1M64.6 259.6h1M55.3 242.0h1M63.9 239.3h1M49.4 253.8h1M71.3 231.6h1M63.0 246.0h1M67.4 243.3h1M57.0 257.5h1M52.2 249.5h1M64.6 245.2h1M67.1 250.3h1M66.6 232.3h1M47.8 248.5h1M70.0 257.7h1M58.4 240.0h1M47.2 230.3h1M53.2 250.8h1M57.5 234.1h1M57.2 246.5h1M50.7 257.9h1M62.6 255.0h1M59.2 238.2h1M69.1 255.0h1M52.3 235.3h1M66.5 241.5h1M46.5 245.4h1M63.8 240.0h1M58.6 254.1h1M65.8 233.5h1M65.4 260.5h1M67.5 245.4h1M61.9 233.3h1M52.3 241.9h1M79.1 246.1h1M48.4 259.8h1M70.6 232.7h1M56.2 232.4h1M68.7 227.7h1M76.9 237.5h1M63.6 249.0h1M66.9 238.1h1M67.0 243.8h1M63.5 248.0h1M72.2 235.7h1M44.2 251.4h1M82.0 250.5h1M56.5 251.5h1M46.1 246.8h1M65.5 259.9h1M53.2 253.6h1M71.7 237.6h1M55.5 231.0h1M49.4 249.6h1M65.5 257.7h1M52.0 227.4h1M48.0 250.9h1M58.0 251.8h1M55.2 251.4h1M48.4 238.2h1M56.6 231.9h1M70.6 244.1h1M48.4 239.1h1M48.5 247.1h1M54.5 253.1h1M46.6 245.5h1M43.1 242.3h1M71.8 245.1h1M67.1 245.6h1M47.2 238.9h1M46.9 248.9h1M75.0 253.0h1M48.4 247.0h1M51.0 255.6h1M44.6 252.3h1M45.9 242.3h1M59.9 247.2h1M57.6 245.6h1M49.6 245.2h1M57.5 238.5h1M63.9 247.5h1M50.6 256.7h1M52.4 230.6h1M70.9 243.0h1M72.9 249.6h1M49.3 255.2h1M62.8 253.6h1M58.6 258.8h1M67.5 243.3h1M43.1 245.7h1M58.9 238.0h1M56.3 258.3h1M53.4 255.3h1M48.8 238.1h1M67.6 244.7h1M60.4 254.5h1M74.5 236.0h1M64.0 247.9h1M53.8 242.7h1M64.5 229.6h1M62.5 239.9h1M61.9 241.3h1M64.5 245.8h1M47.0 253.0h1M68.0 233.4h1M51.8 260.2h1M80.0 252.4h1M72.9 245.1h1M60.9 258.7h1M48.0 233.3h1M54.3 252.5h1M54.1 243.4h1M58.3 246.3h1M77.2 236.1h1M61.1 234.0h1M56.6 252.1h1M62.0 250.8h1M46.4 234.8h1M70.9 244.9h1M67.8 222.4h1M94.3 249.4h1M61.9 259.5h1M57.4 232.8h1M54.8 244.1h1M61.3 246.4h1M65.2 236.9h1M49.3 243.3h1M63.1 232.4h1M58.6 257.1h1M57.9 250.4h1M62.4 252.3h1M83.3 261.1h1M45.0 239.4h1M54.7 257.8h1M70.3 242.7h1M78.4 254.2h1M65.7 253.2h1M83.6 258.0h1M77.9 237.5h1M49.7 248.0h1M56.8 247.4h1M93.4 246.2h1M54.3 246.9h1M52.2 235.1h1M73.2 248.3h1M62.3 248.4h1M45.9 233.4h1M53.0 252.9h1M55.4 254.8h1M45.8 245.4h1M59.3 247.1h1M59.6 261.2h1M51.1 249.3h1M47.8 253.0h1M60.3 241.3h1M42.6 237.1h1M53.0 249.4h1M50.0 247.0h1M59.1 250.0h1M85.1 251.5h1M66.5 243.4h1M49.3 255.2h1M48.5 242.0h1M55.7 253.0h1M44.6 236.7h1M73.0 248.2h1M68.4 237.5h1M61.4 257.1h1M49.5 240.8h1M54.0 240.7h1M58.9 241.0h1M57.5 236.1h1M52.3 244.9h1M50.5 247.3h1M45.1 254.8h1M43.4 239.4h1M85.6 245.7h1M51.5 239.9h1M78.2 252.8h1M60.8 262.6h1M73.0 252.0h1M49.6 255.3h1M71.1 256.2h1M51.8 244.4h1M50.8 254.3h1M51.2 246.7h1M71.8 247.0h1M60.5 246.9h1M57.1 227.6h1M43.5 251.4h1M47.8 242.4h1M46.1 239.2h1M56.2 240.3h1M51.1 257.0h1M71.7 251.4h1M73.7 257.3h1M50.4 255.3h1M59.3 255.1h1M49.5 244.6h1M56.7 247.6h1M81.6 247.5h1M60.6 257.8h1M78.8 239.2h1M61.4 235.8h1M64.1 261.0h1M49.4 245.4h1M74.2 252.1h1M68.6 243.8h1M52.4 244.6h1M79.6 234.2h1M49.5 262.4h1M56.0 237.9h1M60.4 246.0h1M55.2 252.6h1M68.4 234.2h1M59.9 261.8h1M44.8 244.9h1M51.0 252.2h1M59.7 260.5h1M49.7 251.8h1M60.8 249.0h1M56.7 242.9h1M53.4 259.1h1M63.4 259.9h1M46.5 249.1h1M47.7 235.8h1M69.9 245.4h1M60.4 234.9h1M53.3 246.9h1M51.4 257.4h1M63.6 249.2h1M60.3 243.9h1M46.7 245.4h1M42.2 246.4h1M55.3 258.4h1M49.4 249.2h1M56.6 242.3h1M56.0 231.6h1M73.0 242.6h1M56.5 231.2h1M65.1 236.1h1M76.5 238.3h1M46.4 254.1h1M75.4 229.6h1M63.3 233.9h1M50.6 254.5h1M51.3 262.0h1M46.6 249.6h1M73.6 261.8h1M60.3 253.4h1M52.1 247.4h1M48.7 251.6h1M69.1 238.6h1M85.7 250.1h1M58.8 247.6h1M78.6 228.4h1M82.7 236.8h1M78.5 246.7h1M65.4 242.9h1M50.4 249.9h1M52.4 237.9h1M52.9 254.0h1M45.8 251.3h1M72.7 240.3h1M57.7 240.0h1M63.8 255.0h1M73.4 260.4h1M75.6 241.2h1M58.6 252.9h1M59.6 235.7h1M57.7 223.6h1M83.1 246.3h1M89.4 238.2h1M64.4 255.4h1M63.9 254.2h1M62.5 223.5h1M79.8 233.6h1M62.5 256.7h1M42.8 233.1h1M60.7 243.8h1M55.5 246.1h1M55.2 250.9h1M49.2 247.7h1M48.7 239.8h1M61.9 240.2h1M64.5 247.7h1M72.4 253.5h1M66.3 249.0h1M57.5 258.1h1M66.6 235.4h1M58.2 257.4h1M59.1 236.0h1M68.0 253.6h1M73.4 249.6h1M58.5 256.0h1M62.6 250.1h1M67.7 255.4h1M55.3 240.6h1M69.8 256.8h1M62.3 242.1h1M58.4 239.0h1M93.1 241.7h1M44.5 242.9h1M53.6 248.1h1M57.4 243.5h1M58.5 247.3h1M46.5 245.0h1M48.6 235.8h1M56.4 230.4h1M64.4 247.6h1M59.2 258.8h1M70.6 243.8h1M61.8 259.2h1M54.6 251.5h1M62.8 238.2h1M60.9 244.3h1M53.1 252.0h1M66.2 239.5h1M53.2 246.1h1M43.2 251.4h1M53.9 241.3h1M70.3 247.2h1M54.2 250.7h1M89.2 253.1h1M77.5 246.3h1M63.6 252.6h1M55.3 250.3h1M50.3 254.5h1M55.0 251.4h1M58.9 232.7h1M62.9 239.6h1M59.7 244.0h1M52.9 233.6h1M64.7 240.9h1M43.0 244.7h1M68.1 261.1h1M87.8 248.8h1M65.7 249.8h1M56.5 237.9h1M51.7 258.5h1M76.6 242.3h1M57.2 252.2h1M54.3 231.0h1M61.3 238.8h1M52.7 242.1h1M78.4 229.6h1M47.2 255.3h1M79.3 241.1h1M65.0 246.0h1M81.9 240.2h1M65.8 243.1h1M55.4 243.6h1M54.8 248.4h1M48.0 250.6h1M43.1 230.4h1M68.7 244.7h1M49.1 256.6h1M62.9 234.5h1M49.6 241.6h1M63.3 253.1h1M59.2 227.1h1M49.3 247.7h1M46.6 246.0h1M44.3 237.3h1M74.2 229.6h1M71.6 237.2h1M53.1 229.0h1M66.2 238.5h1M92.6 239.2h1M60.4 254.2h1M42.8 240.2h1M61.1 257.5h1M55.1 243.7h1M61.3 258.6h1M58.7 240.4h1M56.2 241.2h1M53.8 247.3h1M67.3 254.5h1M70.1 243.5h1M66.9 243.2h1M56.7 242.5h1M59.3 245.3h1M56.7 242.5h1M69.5 246.3h1M62.5 243.5h1M75.6 247.0h1M63.0 233.2h1M47.2 251.0h1M55.1 233.1h1M72.4 252.0h1M52.3 259.4h1M47.1 236.8h1M69.8 248.1h1M53.6 257.7h1M54.9 254.1h1M60.0 258.9h1M64.7 243.5h1M78.5 244.6h1M81.8 236.0h1M57.6 226.9h1M64.3 260.6h1M51.2 252.4h1M53.6 261.5h1M61.7 251.3h1M72.6 233.6h1M66.8 249.2h1M75.5 248.2h1M65.6 247.5h1M42.7 243.2h1M54.3 235.4h1M56.2 243.5h1M83.1 245.7h1M58.7 248.9h1M66.9 232.8h1M44.9 239.6h1M73.7 250.8h1M45.3 255.0h1M52.4 251.1h1M43.1 247.1h1M87.7 228.8h1M49.9 250.6h1M53.8 252.2h1M73.6 237.3h1M47.6 260.4h1M84.9 222.8h1M64.7 257.3h1M47.2 239.8h1M47.1 252.9h1M66.6 256.9h1M70.9 248.5h1M80.0 244.6h1M50.3 248.0h1M60.6 249.7h1M53.6 257.5h1M87.9 244.4h1M42.1 258.0h1M59.2 254.7h1M55.4 257.6h1M51.2 260.3h1M69.7 250.1h1M60.7 238.2h1M54.6 246.5h1M76.8 241.6h1M58.9 243.7h1M46.2 252.1h1M70.9 234.6h1M59.2 252.9h1M42.1 244.2h1M61.4 247.2h1M76.8 239.7h1M53.5 253.0h1M56.0 245.7h1M55.3 251.8h1M67.7 238.1h1M44.0 237.4h1M63.3 230.5h1M92.2 242.8h1M57.0 252.7h1M54.3 245.6h1M86.6 229.5h1M60.7 241.1h1M52.1 247.4h1M59.9 253.3h1M48.5 255.0h1M50.4 255.3h1M76.4 253.9h1M59.9 236.0h1M42.7 251.9h1M52.3 246.7h1M50.7 248.1h1M80.2 239.8h1M64.5 252.5h1M47.4 237.8h1M44.3 253.4h1M59.4 257.6h1M62.3 249.1h1M57.3 250.2h1M57.7 254.3h1M44.7 258.1h1M80.4 247.2h1M65.2 237.0h1M58.5 234.6h1M71.3 248.5h1M72.5 258.6h1M46.5 255.6h1M55.6 253.1h1M47.9 254.0h1M65.7 261.6h1M54.9 248.6h1M64.2 246.5h1M86.8 227.3h1M67.0 248.2h1M63.1 233.9h1M65.6 253.1h1M80.6 255.7h1M48.2 241.2h1M55.7 259.7h1M80.9 248.7h1M65.7 246.5h1M46.6 233.0h1M45.1 261.9h1M64.4 244.3h1M43.2 248.1h1M81.2 254.2h1M60.0 253.4h1M74.1 260.4h1M53.2 239.9h1M42.9 248.6h1M52.8 248.1h1M47.1 261.3h1M44.7 240.7h1M53.6 254.5h1M55.4 248.0h1M66.7 258.7h1M52.9 259.6h1M58.1 239.5h1M64.6 257.2h1M60.5 247.8h1M53.5 254.3h1M60.0 259.6h1M56.9 239.5h1M96.4 251.1h1M46.5 242.4h1M58.5 235.6h1M69.6 248.9h1M51.2 250.0h1M62.2 259.1h1M86.1 242.2h1M62.6 240.7h1M58.9 258.8h1M66.5 245.3h1M83.1 256.3h1M74.9 248.8h1M76.5 246.7h1M69.7 248.5h1M57.0 233.7h1M71.3 253.4h1M48.1 248.7h1M65.8 254.0h1M73.7 249.4h1M60.1 250.7h1M51.2 262.2h1M47.3 243.1h1M53.7 233.3h1M72.2 237.1h1M79.1 256.9h1M86.5 242.5h1M52.7 243.9h1M68.7 239.8h1M52.4 226.5h1M57.8 250.0h1M86.1 240.3h1M71.2 253.4h1M70.0 237.8h1M71.2 249.7h1M46.9 244.3h1M79.5 232.5h1M62.0 262.2h1M67.8 247.7h1M48.8 230.9h1M64.8 242.4h1M51.5 251.1h1M55.4 258.6h1M42.6 233.2h1M70.1 244.8h1M64.6 231.9h1M58.8 235.3h1M44.8 261.1h1M79.3 254.6h1M45.0 243.3h1M49.8 258.3h1M64.7 253.5h1M50.6 243.2h1M73.1 242.3h1M53.0 253.3h1M54.5 257.4h1M65.5 254.2h1M91.4 242.9h1M88.2 235.9h1M45.5 224.4h1M47.2 240.5h1M67.6 260.1h1M91.5 243.0h1M73.0 246.3h1M51.9 229.6h1M70.1 239.2h1M66.8 241.7h1M64.3 239.0h1M62.7 235.0h1M45.5 249.4h1M69.2 236.2h1M43.6 232.6h1M83.3 250.8h1M62.0 243.9h1M85.7 253.6h1M55.7 259.7h1M65.9 245.3h1M51.7 248.1h1M77.7 234.5h1M72.9 262.0h1M65.7 233.7h1M69.3 249.7h1M42.1 232.7h1M54.8 254.2h1M70.1 239.2h1M51.6 255.2h1M47.6 257.8h1M66.0 256.7h1M48.2 255.6h1M54.0 250.1h1M66.5 242.7h1M56.5 225.1h1M46.8 254.0h1M67.1 253.2h1M63.0 241.9h1M50.2 247.3h1M48.5 259.3h1M61.6 242.5h1M63.9 234.7h1M59.4 244.9h1M48.7 247.4h1M60.5 233.9h1M68.9 242.3h1M44.9 258.1h1M48.7 260.1h1M70.3 251.3h1M44.9 258.1h1M62.6 237.5h1M65.3 246.4h1M55.4 238.5h1M60.2 256.3h1M44.8 255.8h1M61.0 238.7h1M59.4 235.3h1M84.5 251.8h1M73.0 239.0h1M76.7 246.4h1M74.0 251.9h1M61.9 258.2h1M48.5 244.0h1M73.1 252.4h1M49.3 237.5h1M78.7 216.7h1M70.4 246.5h1M61.4 223.6h1M43.6 255.4h1M50.1 247.4h1M55.9 261.9h1M61.8 246.5h1M47.9 257.7h1M47.1 252.0h1M63.1 255.2h1M68.4 250.7h1M85.5 255.6h1M46.3 239.2h1M47.1 260.9h1M63.2 242.3h1M42.8 247.0h1M67.9 247.3h1M67.4 249.6h1M76.5 243.3h1M108.9 202.6h1M96.4 200.6h1M118.7 198.9h1M117.5 205.4h1M122.9 204.6h1M90.2 200.6h1M123.8 208.7h1M118.4 208.1h1M108.4 209.2h1M87.0 204.2h1M91.8 197.3h1M116.3 203.3h1M98.2 214.5h1M84.1 206.0h1M102.4 204.0h1M109.9 196.9h1M94.3 202.0h1M83.0 207.6h1M110.3 208.6h1M86.4 205.4h1M116.7 208.7h1M102.9 194.7h1M96.8 199.8h1M86.0 200.0h1M88.8 203.8h1M109.8 208.6h1M92.2 191.4h1M106.7 199.0h1M100.3 202.3h1M114.5 195.7h1M100.0 200.7h1M104.7 199.4h1M81.8 202.2h1M92.8 209.0h1M125.2 201.6h1M94.9 215.0h1M106.9 201.1h1M117.2 201.4h1M99.0 202.8h1M94.4 212.6h1M108.6 203.5h1M119.9 210.2h1M103.8 212.5h1M99.4 206.3h1M78.0 206.2h1M111.4 206.2h1M116.7 197.3h1M92.1 212.9h1M100.3 194.0h1M115.0 201.7h1M110.1 213.8h1M105.1 193.5h1M120.0 189.8h1M116.6 211.9h1M96.8 194.3h1M107.4 204.1h1M91.5 209.0h1M118.6 207.4h1M105.7 199.6h1M124.0 202.6h1M110.7 209.5h1M102.5 202.9h1M112.7 207.7h1M107.6 200.1h1M95.0 202.2h1M103.3 203.0h1M90.1 214.0h1M102.8 205.9h1M99.2 202.1h1M119.9 197.1h1M120.5 203.2h1M92.2 205.5h1M100.1 195.0h1M106.6 202.1h1M121.5 208.5h1M123.3 195.1h1M100.3 204.5h1M89.7 206.4h1M100.5 209.0h1M96.9 199.8h1M91.5 216.6h1M120.9 215.2h1M82.5 195.7h1M90.1 199.6h1M104.0 195.7h1M121.1 199.7h1M93.1 202.4h1M84.7 204.9h1M101.9 215.7h1M113.6 207.9h1M89.8 206.2h1M84.4 205.3h1M91.2 206.1h1M121.4 210.7h1M96.9 196.7h1M107.2 198.7h1M118.7 201.7h1M88.6 189.1h1M103.7 193.5h1M95.5 191.6h1M110.2 203.9h1M95.6 209.2h1M95.1 205.0h1M87.1 210.7h1M97.8 194.5h1M100.3 210.4h1M120.0 198.2h1M96.6 206.3h1M90.4 208.4h1M94.1 200.9h1M103.6 203.9h1M95.6 192.7h1M85.3 212.1h1M109.6 203.5h1M87.4 207.7h1M112.0 195.3h1M101.9 200.5h1M87.2 204.0h1M101.3 198.7h1M96.6 210.7h1M117.7 205.5h1M110.3 191.7h1M88.4 195.5h1M120.8 212.8h1M119.3 199.7h1M93.1 211.1h1M87.2 205.0h1M104.2 200.5h1M94.3 205.4h1M110.1 192.6h1M89.3 201.9h1M87.7 195.7h1M97.2 196.0h1M94.1 207.9h1M86.2 198.4h1M110.5 197.2h1M118.1 212.0h1M82.8 206.8h1M112.2 201.5h1M102.0 211.4h1M84.2 199.2h1M91.3 193.4h1M117.1 197.4h1M100.8 195.2h1M90.2 197.8h1M117.1 194.3h1M82.3 199.9h1M83.9 202.7h1M112.0 205.7h1M117.9 211.1h1M109.2 200.2h1M92.2 196.7h1M94.0 202.0h1M112.8 186.5h1M93.1 188.8h1M112.1 205.6h1M101.8 198.9h1M87.5 206.5h1M112.9 199.9h1M124.2 203.8h1M99.4 201.1h1M99.6 198.1h1M118.6 205.7h1M120.0 199.3h1M91.6 197.6h1M120.0 203.2h1M112.4 193.1h1M80.4 207.1h1M122.6 205.6h1M94.8 197.3h1M92.3 202.8h1M82.9 206.1h1M92.4 205.8h1M96.7 198.0h1M123.9 204.4h1M111.3 197.8h1M93.4 196.3h1M117.0 200.1h1M110.6 209.7h1M116.2 192.8h1M95.6 209.3h1M95.2 201.3h1M89.8 200.2h1M94.9 206.9h1M87.9 213.7h1M101.7 203.1h1M104.1 196.4h1M89.4 210.5h1M103.7 200.2h1M110.4 205.1h1M111.4 205.8h1M99.9 203.1h1M121.5 205.4h1M88.3 205.1h1M81.6 199.4h1M117.4 212.8h1M114.9 203.4h1M93.3 194.8h1M84.7 205.6h1M102.9 208.2h1M116.7 206.7h1M99.4 208.0h1M92.3 196.1h1M100.8 200.9h1M119.5 199.1h1M119.3 205.6h1M116.2 208.3h1M121.1 197.0h1M116.4 206.0h1M106.0 202.8h1M103.3 196.2h1M89.7 202.8h1M106.5 202.9h1M100.2 208.4h1M85.0 201.4h1M95.1 194.5h1M122.5 203.3h1M113.2 198.8h1M95.6 194.9h1M106.1 194.9h1M112.6 198.6h1M77.1 203.5h1M101.4 195.1h1M123.0 204.3h1M93.7 190.2h1M89.6 206.4h1M106.9 197.5h1M113.9 204.1h1M96.7 202.4h1M85.7 201.0h1M98.9 201.3h1M87.6 197.6h1M108.8 205.0h1M91.5 194.6h1M109.4 194.2h1M111.1 205.6h1M101.3 198.4h1M116.6 193.3h1M89.7 209.9h1M94.5 203.1h1M113.0 193.5h1M103.4 212.5h1M92.1 202.9h1M105.0 195.3h1M101.1 204.4h1M84.0 193.7h1M116.0 193.4h1M96.9 199.1h1M101.4 209.7h1M105.3 199.3h1M116.6 201.7h1M121.8 208.3h1M113.7 196.9h1M92.1 200.7h1M98.8 202.9h1M117.9 212.8h1M109.5 204.4h1M98.1 204.7h1M112.7 202.2h1M101.6 191.7h1M100.4 203.6h1M98.8 198.7h1M95.3 204.4h1M111.4 206.8h1M91.7 195.5h1M92.3 205.6h1M85.1 193.0h1M92.0 213.5h1M91.4 189.2h1M95.2 196.9h1M124.1 204.9h1M109.7 207.5h1M118.9 205.6h1M108.2 208.6h1M88.8 195.4h1M85.4 188.3h1M95.1 197.0h1M123.5 199.4h1M98.3 205.2h1M122.6 198.1h1M120.0 204.1h1M105.5 202.0h1M115.6 197.0h1M102.6 208.0h1M125.3 198.1h1M110.1 209.7h1M125.9 209.5h1M89.8 202.4h1M98.9 197.6h1M121.8 198.7h1M115.7 211.2h1M84.8 196.7h1M113.6 205.0h1M99.8 207.0h1M129.0 205.4h1M97.9 191.6h1M101.6 191.3h1M101.7 195.6h1M97.0 201.9h1M121.9 198.3h1M123.2 204.4h1M122.9 188.6h1M110.6 189.0h1M119.9 204.7h1M102.2 209.9h1M101.2 201.6h1M99.3 198.5h1M111.8 203.5h1M117.1 200.8h1M116.7 205.1h1M104.8 195.8h1M97.3 192.1h1M98.9 208.9h1M87.8 210.8h1M101.0 202.3h1M124.8 194.9h1M99.0 204.2h1M127.0 199.2h1M111.2 200.1h1M100.7 199.8h1M101.9 195.2h1M98.8 206.2h1M82.7 202.3h1M121.7 194.5h1M91.8 199.7h1M100.9 200.5h1M90.1 198.5h1M127.3 207.3h1M118.2 201.8h1M98.7 196.2h1M85.0 198.9h1M118.7 207.9h1M99.9 205.8h1M121.7 196.9h1M86.3 196.3h1M102.2 204.3h1M105.2 209.3h1M89.9 198.0h1M114.4 201.8h1M107.5 198.4h1M111.1 206.5h1M103.2 200.8h1M90.7 206.3h1M123.3 205.6h1M123.7 203.1h1M95.0 198.9h1M118.8 201.5h1M116.3 210.1h1M118.9 207.2h1M118.1 206.6h1M113.4 204.2h1M116.8 203.9h1M100.9 200.9h1M101.1 205.2h1M85.2 209.3h1M114.2 200.8h1M118.7 207.2h1M124.6 197.2h1M89.8 201.6h1M83.9 194.6h1M87.2 197.0h1M91.8 199.4h1M119.5 207.6h1M92.2 193.6h1M110.6 197.3h1M97.2 196.8h1M97.0 208.7h1M83.4 200.5h1M110.3 203.8h1M110.9 204.1h1M86.6 199.8h1M90.8 205.0h1M103.2 204.1h1M102.3 200.6h1M82.1 201.7h1M99.5 209.7h1M105.1 204.7h1M116.9 210.0h1M95.9 207.4h1M106.6 206.2h1M101.1 188.7h1M114.1 196.1h1M109.1 186.3h1M95.1 202.1h1M108.9 216.7h1M87.3 192.9h1M120.3 208.4h1M86.7 202.0h1M113.8 201.6h1M118.1 202.5h1M118.3 198.6h1M109.0 202.0h1M82.5 188.7h1M107.3 199.7h1M95.1 212.3h1M116.3 199.4h1M105.8 206.1h1M81.1 196.3h1M95.6 192.7h1M112.1 207.8h1M107.7 201.2h1M87.9 211.9h1M86.5 200.9h1M109.3 204.1h1M108.2 194.5h1M103.3 188.7h1M108.6 195.1h1M85.0 200.0h1M104.7 204.5h1M106.4 186.6h1M119.7 194.4h1M99.9 205.5h1M109.3 200.9h1M88.8 188.9h1M95.4 200.5h1M111.6 195.3h1M115.9 203.8h1M115.5 199.5h1M118.8 203.5h1M88.0 210.7h1M108.9 198.9h1M98.6 185.9h1M85.3 212.3h1M111.2 198.8h1M98.6 202.2h1M107.3 208.1h1M119.2 209.7h1M112.7 204.0h1M103.3 210.4h1M100.0 198.4h1M86.7 204.3h1M103.3 211.6h1M117.1 197.6h1M84.3 195.9h1M125.5 207.7h1M117.1 207.6h1M99.3 203.5h1M98.9 201.5h1M115.1 202.8h1M95.1 208.6h1M98.5 205.3h1M84.6 202.4h1M92.5 194.3h1M107.5 204.3h1M126.2 194.1h1M96.0 198.3h1M105.7 200.3h1M84.5 206.9h1M102.9 207.4h1M100.7 199.8h1M93.4 198.3h1M112.2 199.8h1M94.4 194.7h1M119.7 194.0h1M107.3 209.8h1M96.5 205.7h1M124.3 201.0h1M107.9 206.7h1M94.3 198.5h1M102.3 194.5h1M119.8 195.2h1M96.2 206.0h1M118.8 202.9h1M114.8 208.8h1M98.2 199.1h1M115.8 197.9h1M106.7 187.9h1M110.2 194.2h1M123.5 208.4h1M106.9 200.2h1M108.9 198.4h1M87.7 214.3h1M101.4 204.5h1M107.5 208.0h1M101.3 197.8h1M88.4 202.8h1M101.7 209.3h1M87.8 201.1h1M89.9 207.8h1M101.0 195.9h1M91.0 199.4h1M95.1 211.3h1M84.2 198.0h1M124.4 207.2h1M90.0 208.9h1M119.5 217.7h1M87.8 206.4h1M92.4 201.5h1M118.4 188.3h1M110.6 205.7h1M90.6 198.6h1M112.5 192.1h1M123.6 207.2h1M99.6 197.5h1M91.0 210.2h1M85.7 199.7h1M101.0 199.3h1M104.1 204.8h1M109.8 198.4h1M118.8 210.1h1M120.3 210.7h1M92.7 204.0h1M119.1 207.9h1M114.8 206.3h1M107.3 195.6h1M120.2 220.8h1M83.7 195.3h1M119.4 204.2h1M112.7 204.5h1M116.1 199.6h1M105.6 200.9h1M102.6 199.8h1M117.4 207.4h1M88.9 208.9h1M96.1 203.0h1M97.7 216.9h1M123.9 210.1h1M116.7 189.6h1M97.1 196.6h1M106.7 204.3h1M122.0 203.3h1M113.7 207.1h1M119.1 201.9h1M103.6 205.6h1M88.1 204.6h1M92.7 192.2h1M110.6 195.9h1M90.9 204.3h1M85.1 209.5h1M82.3 199.3h1M97.0 204.9h1M117.5 192.6h1M96.7 211.1h1M83.3 203.3h1M92.1 203.6h1M101.4 202.0h1M110.6 201.0h1M93.9 204.7h1M91.3 202.0h1M94.9 192.5h1M117.5 199.8h1M109.0 199.5h1M113.6 201.6h1M114.1 209.8h1M102.3 207.1h1M121.4 204.7h1M107.5 203.4h1M84.7 201.0h1M102.9 203.2h1M124.2 203.3h1M97.2 203.1h1M113.6 201.4h1M90.4 207.7h1M125.8 204.8h1M104.8 207.2h1M109.7 192.3h1M110.7 204.8h1M80.4 192.7h1M109.5 198.3h1M82.8 202.9h1M94.7 194.1h1M122.1 194.6h1M123.7 210.1h1M107.4 201.1h1M106.2 196.7h1M121.2 199.8h1M101.1 194.1h1M100.2 203.7h1M95.7 207.4h1M107.7 205.0h1M105.9 198.9h1M98.6 218.5h1M92.5 201.0h1M106.4 207.9h1M82.6 207.6h1M108.0 200.1h1M95.7 208.7h1M123.7 197.9h1M117.8 202.0h1M87.3 197.4h1M105.6 209.1h1M100.8 197.0h1M114.1 209.1h1M103.2 207.8h1M84.2 206.4h1M107.1 197.4h1M87.0 215.5h1M89.2 208.8h1M104.8 193.5h1M103.9 204.0h1M125.7 206.4h1M113.5 199.6h1M119.8 197.7h1M90.4 200.0h1M81.5 193.2h1M113.8 201.6h1M81.0 193.9h1M96.8 196.2h1M99.7 193.6h1M111.7 209.0h1M114.8 193.5h1M107.2 221.8h1M122.6 210.8h1M111.6 202.8h1M99.3 211.0h1M105.5 202.0h1M121.4 195.9h1M89.2 204.9h1M85.9 198.7h1M120.2 200.5h1M117.4 198.2h1M95.3 190.7h1M100.9 188.7h1M118.6 194.4h1M84.0 190.6h1M97.9 197.5h1M115.5 208.7h1M108.9 203.7h1M93.4 205.6h1M123.6 200.9h1M112.4 203.5h1M89.3 196.2h1M100.7 198.1h1M81.0 203.9h1M83.1 199.7h1M104.9 204.1h1M78.7 209.1h1M86.1 203.9h1M97.8 207.9h1M126.2 210.7h1M111.7 204.3h1M106.0 201.9h1M115.4 194.1h1M126.0 204.7h1M116.1 205.3h1M115.2 196.8h1M117.9 199.8h1M94.3 192.9h1M106.9 201.1h1M106.2 203.8h1M80.5 206.0h1M86.4 213.9h1M112.6 204.2h1M124.6 196.2h1M109.9 197.6h1M107.6 202.1h1M92.9 208.2h1M98.8 211.6h1M106.4 190.5h1M88.9 202.7h1M112.9 200.5h1M100.5 206.8h1M107.5 211.3h1M122.9 197.8h1M81.6 205.4h1M109.3 212.2h1M98.2 193.4h1M109.1 204.3h1M120.6 209.2h1M85.0 206.5h1M84.0 188.3h1M105.0 200.3h1M86.5 212.9h1M92.8 211.9h1M103.5 209.4h1M89.0 209.9h1M100.9 191.9h1M112.6 210.6h1M93.6 204.8h1M96.9 201.9h1M103.1 214.4h1M104.4 192.5h1M106.9 199.8h1M125.7 199.2h1M85.9 207.1h1M89.3 204.7h1M108.2 198.1h1M119.3 196.2h1M118.2 210.2h1M116.4 202.4h1M88.5 200.8h1M107.4 214.9h1M116.3 202.2h1M79.5 217.5h1M115.9 208.9h1M79.4 202.7h1M76.6 201.9h1M81.9 205.4h1M114.2 200.3h1M101.5 187.3h1M110.0 206.3h1M100.4 192.7h1M93.9 204.4h1M114.3 202.2h1M103.0 186.2h1M92.5 204.3h1M89.1 212.0h1M110.5 192.2h1M93.5 200.6h1M93.8 197.7h1M82.8 198.9h1M124.8 197.4h1M120.0 197.9h1M96.7 197.2h1M93.4 206.7h1M98.8 199.0h1M108.3 199.8h1M107.6 199.6h1M120.6 202.1h1M119.0 208.1h1M125.1 203.0h1M101.4 211.0h1M94.7 202.8h1M112.3 200.5h1M111.3 208.9h1M90.7 207.1h1M121.5 203.7h1M112.0 194.5h1M113.1 196.3h1M98.5 207.2h1M117.8 197.6h1M92.7 201.7h1M95.1 207.1h1M83.4 200.5h1M86.7 205.6h1M89.8 200.9h1M88.2 204.2h1M111.7 196.9h1M101.1 201.5h1M119.8 209.9h1M115.8 205.0h1M115.9 189.6h1M97.4 208.0h1M104.8 192.0h1M108.4 212.3h1M115.2 199.7h1M100.3 197.2h1M92.5 204.2h1M81.7 207.5h1M85.2 204.6h1M83.3 210.0h1M106.1 200.1h1M99.5 199.2h1M92.9 202.5h1M109.4 198.9h1M83.1 198.7h1M83.0 209.3h1M84.7 201.6h1M79.6 186.9h1M83.7 204.5h1M96.8 203.0h1M122.6 197.1h1M104.0 203.4h1M96.0 199.3h1M105.0 198.5h1M85.2 197.6h1M87.8 209.4h1M115.5 207.8h1M125.8 204.3h1M121.5 194.9h1M104.7 206.3h1M102.1 209.1h1M81.9 203.8h1M101.5 208.1h1M91.5 196.0h1M123.6 198.6h1M117.3 203.9h1M88.5 203.5h1M88.4 207.9h1M117.6 187.7h1M123.1 198.3h1M81.8 198.9h1M129.2 204.3h1M92.1 193.3h1M102.8 190.6h1M90.1 186.0h1M113.8 197.6h1M84.2 200.1h1M93.5 200.0h1M92.3 196.2h1M121.3 213.5h1M102.2 196.5h1M95.5 204.3h1M110.1 207.8h1M91.8 207.4h1M103.0 200.9h1M93.9 200.1h1M115.1 199.8h1M108.2 206.6h1M95.6 212.0h1M113.9 209.8h1M95.4 207.5h1M92.7 192.4h1M110.7 204.6h1M111.8 198.4h1M114.3 196.2h1M93.1 186.8h1M90.0 208.5h1M94.4 200.5h1M84.5 203.6h1M97.1 194.3h1M83.0 192.1h1M124.9 209.0h1M87.0 198.0h1M110.8 198.6h1M98.9 205.1h1M109.8 199.7h1M96.0 205.5h1M87.3 213.8h1M116.7 198.6h1M96.9 200.1h1M88.7 200.4h1M121.8 204.6h1M98.6 192.9h1M105.0 200.8h1M98.8 199.7h1M84.5 199.0h1M98.8 199.0h1M102.9 200.2h1M90.7 201.5h1M112.9 204.8h1M121.3 196.8h1M89.9 192.2h1M96.7 203.3h1M103.5 211.7h1M102.4 209.4h1M86.0 186.2h1M93.2 209.1h1M94.5 206.6h1M88.6 195.6h1M94.0 197.9h1M115.6 197.5h1M90.6 209.0h1M114.4 205.3h1M84.5 188.9h1M104.6 198.7h1M95.7 202.2h1M89.5 202.8h1M109.3 206.8h1M122.5 219.4h1M88.6 198.9h1M127.3 201.6h1M103.7 198.5h1M118.8 212.4h1M112.5 192.5h1M97.8 189.4h1M108.1 198.0h1M98.1 194.2h1M105.3 202.8h1M105.6 185.1h1M90.0 201.4h1M119.1 207.5h1M105.4 200.3h1M88.3 200.9h1M111.2 199.4h1M105.0 191.8h1M95.9 205.4h1M108.9 207.5h1M99.6 209.2h1M117.0 199.5h1M95.6 194.6h1M89.3 202.6h1M93.9 202.2h1M112.9 202.5h1M108.5 212.8h1M115.3 207.1h1M109.2 203.5h1M126.0 203.5h1M95.3 196.1h1M83.9 202.9h1M110.1 198.4h1M119.4 199.0h1M108.1 202.8h1M96.4 198.8h1M107.9 216.8h1M110.3 205.2h1M91.6 206.9h1M116.3 187.6h1M108.5 207.1h1M115.5 216.1h1M83.6 199.2h1M106.9 209.3h1M94.9 195.9h1M105.0 208.6h1M94.8 196.8h1M89.3 208.8h1M93.9 204.6h1M84.5 199.5h1M84.9 203.4h1M115.2 194.6h1M126.2 198.3h1M88.7 201.3h1M123.0 193.3h1M88.7 192.1h1M119.4 204.4h1M115.5 206.1h1M114.5 209.5h1M117.8 201.5h1M94.7 202.9h1M79.9 193.6h1M101.2 206.6h1M86.5 200.4h1M96.3 204.4h1M120.1 199.2h1M87.2 199.8h1M108.0 202.6h1M117.3 205.1h1M83.7 194.4h1M114.0 205.4h1M98.1 202.3h1M100.2 202.1h1M99.3 202.7h1M99.3 208.3h1M107.7 202.5h1M116.7 210.5h1M119.6 205.6h1M108.4 203.7h1M103.0 198.2h1M116.1 205.4h1M97.7 206.9h1M95.1 193.4h1M80.2 204.3h1M111.7 192.9h1M122.6 198.6h1M81.5 190.0h1M119.1 203.3h1M103.9 206.1h1M93.1 188.9h1M112.3 195.5h1M118.2 204.7h1M96.1 212.3h1M91.3 208.5h1M110.3 204.1h1M84.2 202.0h1M112.2 199.3h1M116.0 198.5h1M114.8 214.0h1M83.9 197.2h1M87.9 206.4h1M80.4 199.1h1M116.0 197.4h1M92.8 204.0h1M98.2 197.3h1M90.3 192.0h1M101.0 200.7h1M103.8 201.0h1M113.6 203.0h1M111.2 201.2h1M86.7 201.6h1M121.0 197.0h1M85.1 202.0h1M85.6 202.5h1M101.7 200.4h1M119.3 196.6h1M85.9 200.4h1M91.3 195.5h1M94.7 209.3h1M119.7 200.3h1M101.0 200.9h1M103.2 196.4h1M115.8 197.1h1M126.4 204.0h1M83.0 203.1h1M87.5 199.6h1M107.7 198.9h1M90.4 192.2h1M125.2 197.9h1M91.9 195.4h1M97.4 203.8h1M99.2 207.5h1M97.3 196.1h1M86.7 198.1h1M83.1 203.0h1M100.9 187.4h1M104.6 198.1h1M116.2 201.7h1M99.3 194.9h1M122.7 199.9h1M81.9 194.7h1M96.2 211.7h1M115.9 206.3h1M94.8 212.0h1M80.5 211.1h1M78.9 208.6h1M121.7 192.0h1M107.6 202.8h1M103.5 202.1h1M105.6 198.4h1M105.8 208.1h1M121.0 201.8h1M89.3 203.4h1M119.9 194.1h1M88.0 195.7h1M113.2 202.0h1M93.2 206.0h1M113.5 201.3h1M101.6 201.2h1M103.2 198.7h1M110.3 199.5h1M94.8 210.4h1M116.5 209.9h1M82.6 209.5h1M119.1 189.4h1M121.8 216.0h1M87.3 200.1h1M84.9 210.4h1M112.3 206.7h1M118.8 195.8h1M124.6 203.3h1M117.5 197.2h1M115.2 196.9h1M111.7 195.0h1M104.9 204.3h1M86.8 184.4h1M117.9 197.0h1M89.2 198.2h1M106.4 197.7h1M118.1 198.8h1M90.9 195.7h1M89.9 211.1h1M107.6 202.5h1M104.9 207.0h1M94.2 204.6h1M119.1 205.3h1M86.1 202.3h1M102.4 207.3h1M87.8 217.1h1M79.3 201.5h1M115.4 206.0h1M105.1 188.7h1M105.1 203.2h1M107.4 198.7h1M111.2 201.6h1M88.3 202.3h1M85.6 199.2h1M108.6 202.0h1M94.7 206.0h1M115.0 196.8h1M92.6 200.0h1M89.1 196.3h1M115.7 205.9h1M89.3 200.4h1M83.3 201.4h1M100.2 194.4h1M100.9 199.1h1M108.1 206.5h1M86.9 198.2h1M87.9 205.7h1M108.3 207.1h1M120.7 199.1h1M107.7 203.6h1M84.4 187.4h1M91.4 191.8h1M93.8 198.9h1M84.3 211.7h1M98.8 203.1h1M122.0 199.6h1M109.3 185.4h1M91.1 203.0h1M125.2 196.8h1M100.6 216.3h1M115.1 200.9h1M99.0 203.7h1M115.0 202.7h1M107.3 195.6h1M99.6 201.9h1M114.4 196.1h1M89.7 205.3h1M110.1 197.8h1M107.1 194.7h1M124.7 202.6h1M95.1 201.2h1M101.1 203.9h1M86.8 206.0h1M93.6 202.7h1M112.3 202.0h1M107.5 200.0h1M82.7 197.4h1M105.9 194.8h1M96.7 200.1h1M100.2 201.8h1M103.6 199.6h1M105.7 206.5h1M102.8 208.9h1M97.4 199.7h1M92.1 201.9h1M120.2 205.8h1M83.9 201.5h1M90.1 188.7h1M88.0 201.0h1M105.1 205.3h1M96.8 198.5h1M123.6 202.4h1M123.3 207.1h1M91.3 207.1h1M118.2 201.6h1M95.3 201.5h1M102.9 206.7h1M84.1 213.5h1M101.1 189.9h1M109.9 208.2h1M87.3 207.5h1M85.4 196.4h1M94.9 197.3h1M93.3 206.3h1M93.0 207.0h1M119.9 190.8h1M102.5 201.4h1M117.3 200.8h1M115.9 209.2h1M82.1 194.9h1M94.6 211.2h1M122.5 202.1h1M103.2 206.9h1M108.3 193.1h1M103.1 190.1h1M90.9 216.9h1M85.8 222.4h1M117.1 207.8h1M123.7 212.4h1M87.4 208.4h1M103.9 208.8h1M122.6 199.5h1M86.5 205.5h1M96.0 209.3h1M119.2 203.5h1M108.7 201.2h1M87.4 202.7h1M88.4 193.6h1M89.0 193.6h1M105.8 207.9h1M122.5 200.7h1M96.7 198.4h1M105.3 210.8h1M99.6 186.8h1M118.3 211.2h1M90.3 203.7h1M115.9 213.1h1M108.9 193.7h1M89.2 191.1h1M100.8 196.8h1M85.0 201.9h1M101.8 196.6h1M112.4 204.1h1M107.5 207.3h1M117.5 204.7h1M101.3 208.1h1M83.7 193.2h1M92.7 203.5h1M87.1 202.8h1M82.0 203.3h1M84.4 194.6h1M92.4 208.0h1M98.7 199.5h1M104.2 193.0h1M116.5 194.1h1M87.1 196.7h1M106.6 204.0h1M89.0 198.3h1M101.0 197.9h1M93.4 206.1h1M107.6 200.3h1M112.2 188.9h1M101.7 213.5h1M97.3 190.9h1M112.0 209.0h1M105.4 209.8h1M120.4 197.9h1M100.6 213.7h1M82.4 203.4h1M126.3 215.0h1M111.2 203.6h1M90.5 195.9h1M122.0 203.8h1M119.5 206.2h1M109.1 198.9h1M94.5 204.0h1M110.3 202.8h1M101.0 200.7h1M115.8 199.3h1M106.5 207.6h1M98.2 194.8h1M83.6 203.5h1M121.8 205.0h1M112.3 202.6h1M88.9 204.4h1M118.0 216.4h1M111.0 208.2h1M109.3 213.1h1M86.7 195.5h1M118.5 203.7h1M105.6 206.5h1M95.6 194.6h1M87.2 199.2h1M81.7 207.9h1M102.6 205.4h1M118.9 206.6h1M113.7 209.1h1M92.9 200.1h1M128.3 196.7h1M107.1 204.2h1M118.0 197.5h1M96.7 206.7h1M114.5 206.2h1M84.4 197.8h1M103.4 194.3h1M85.7 196.8h1M123.9 210.2h1M98.2 201.9h1M100.3 193.8h1M93.6 210.4h1M106.5 207.4h1M118.9 204.5h1M110.3 204.0h1M121.9 202.7h1M96.8 203.7h1M103.1 201.2h1M108.9 199.5h1M85.7 185.4h1M119.3 202.9h1M97.3 195.8h1M106.8 196.2h1M91.1 195.2h1M102.2 208.3h1M109.5 193.8h1M107.7 193.6h1M119.2 209.9h1M100.5 211.9h1M88.7 200.6h1M111.1 192.5h1M104.7 198.0h1M100.0 200.3h1M123.8 198.7h1M81.1 210.8h1M103.4 194.5h1M119.2 190.6h1M102.7 190.7h1M93.7 201.0h1M105.6 207.8h1M115.2 203.8h1M111.8 205.8h1M92.8 206.4h1M90.8 214.9h1M84.6 205.9h1M101.0 196.6h1M120.5 202.3h1M86.1 200.5h1M113.4 197.6h1M124.7 200.9h1M86.1 203.0h1M118.2 207.1h1M100.2 196.5h1M89.6 202.7h1M94.5 207.4h1M95.4 201.5h1M79.1 206.5h1M96.5 201.2h1M86.8 206.1h1M90.2 216.6h1M99.4 193.5h1M101.4 192.2h1M105.8 198.0h1M82.9 195.9h1M119.4 195.1h1M107.5 206.3h1M86.9 199.2h1M90.6 189.4h1M89.7 201.4h1M97.6 190.2h1M119.4 195.1h1M111.5 202.3h1M86.2 199.3h1M113.2 206.0h1M92.0 203.9h1M108.7 199.3h1M100.9 202.2h1M87.9 201.0h1M108.9 200.1h1M115.7 192.4h1M89.6 205.4h1M122.2 200.9h1M111.3 204.5h1M98.0 196.8h1M92.8 196.5h1M99.5 204.5h1M116.7 202.7h1M93.1 198.3h1M98.8 190.6h1M84.3 201.8h1M84.1 205.2h1M101.1 202.1h1M102.4 187.2h1M120.6 203.5h1M104.5 201.6h1M105.9 199.1h1M98.9 209.3h1M120.4 199.1h1M107.8 200.1h1M102.4 207.8h1M97.2 204.3h1M91.0 200.8h1M116.0 200.5h1M110.0 206.5h1M95.7 206.4h1M110.4 201.1h1M103.1 192.0h1M102.9 205.5h1M89.2 206.5h1M109.0 204.8h1M89.3 192.3h1M108.9 201.0h1M116.8 195.3h1M102.4 200.9h1M125.9 204.3h1M98.0 204.4h1M120.1 194.7h1M109.0 206.9h1M94.4 199.8h1M89.9 209.4h1M93.0 206.8h1M87.8 201.7h1M97.8 197.7h1M77.4 200.2h1M97.1 213.2h1M118.3 195.7h1M93.7 207.7h1M87.6 199.2h1M98.5 195.1h1M90.6 195.3h1M113.3 202.5h1M85.7 203.4h1M109.9 200.6h1M117.4 205.3h1M87.2 189.7h1M110.0 215.8h1M93.2 206.3h1M95.9 197.4h1M84.2 210.9h1M123.6 205.8h1M121.3 202.1h1M115.9 191.9h1M111.8 213.7h1M104.4 206.0h1M83.2 201.2h1M119.5 204.0h1M107.2 199.0h1M92.8 206.2h1M115.4 198.5h1M104.7 204.8h1M103.2 200.9h1M96.2 197.7h1M118.9 198.2h1M91.2 197.2h1M86.0 203.3h1M103.1 198.8h1M90.3 196.5h1M107.3 197.6h1M94.1 207.7h1M85.8 201.0h1M118.5 192.1h1M120.4 208.5h1M109.7 202.0h1M109.3 206.6h1M87.5 202.7h1M86.3 202.8h1M103.1 198.7h1M122.3 196.5h1M85.9 201.6h1M85.5 198.5h1M117.7 196.1h1M115.1 202.1h1M110.4 204.3h1M86.7 193.7h1M90.7 199.7h1M88.4 211.1h1M111.6 201.7h1M114.2 192.2h1M108.1 199.3h1M101.3 197.5h1M94.2 192.2h1M111.8 204.0h1M101.6 201.5h1M94.6 202.6h1M94.0 205.7h1M88.3 198.4h1M85.5 205.0h1M86.6 206.3h1M104.5 191.2h1M98.1 202.4h1M99.1 204.7h1M113.2 202.6h1M103.5 186.8h1M115.1 207.8h1M117.5 203.1h1M113.2 186.5h1M116.8 205.6h1M124.2 195.2h1M86.8 207.5h1M121.9 194.2h1M102.3 204.1h1M103.7 197.8h1M105.5 201.4h1M103.4 202.4h1M90.9 203.0h1M96.0 209.8h1M95.3 194.0h1M108.6 190.0h1M87.6 203.6h1M108.4 203.7h1M117.9 205.6h1M94.2 195.0h1M103.3 199.3h1M86.3 195.5h1M114.1 195.1h1M87.3 210.9h1M85.8 198.4h1M121.2 196.4h1M83.7 199.6h1M82.1 202.4h1M95.5 188.5h1M84.5 207.9h1M125.0 195.4h1M88.7 193.0h1M81.1 205.7h1M91.3 207.1h1M80.6 208.2h1M88.1 200.4h1M98.8 208.0h1M122.6 209.7h1M121.5 200.0h1M118.5 206.8h1M94.9 193.8h1M87.1 209.5h1M114.0 196.4h1M97.0 195.3h1M106.6 209.6h1M90.6 210.5h1M101.6 207.8h1M91.1 198.0h1M109.2 203.4h1M109.8 200.9h1M90.2 205.0h1M109.4 200.8h1M95.6 206.8h1M119.8 211.2h1M95.5 200.1h1M127.9 196.0h1M110.7 199.2h1M104.4 199.1h1M86.7 203.2h1M83.6 200.3h1M120.6 202.0h1M101.4 206.2h1M96.9 202.1h1M101.1 199.9h1M114.6 204.1h1M96.2 201.6h1M107.8 189.5h1M98.4 200.3h1M105.0 199.4h1M87.1 202.2h1M95.4 200.3h1M118.7 197.1h1M91.9 209.5h1M81.6 196.9h1M107.2 200.9h1M97.0 195.7h1M99.0 201.7h1M101.7 207.0h1M111.1 184.9h1M81.0 208.9h1M118.4 211.5h1M112.3 202.6h1M111.0 192.1h1M84.8 200.3h1M104.8 207.7h1M116.7 208.9h1M110.5 200.3h1M108.7 201.6h1M100.5 200.4h1M113.7 204.9h1M112.4 193.0h1M113.4 183.5h1M118.7 203.0h1M108.1 206.7h1M120.4 208.2h1M121.1 194.8h1M91.3 196.2h1M120.6 206.4h1M103.1 196.8h1M108.9 202.8h1M95.6 196.6h1M96.5 202.5h1M114.0 216.6h1M117.3 197.8h1M119.3 209.2h1M103.6 198.6h1M108.0 195.6h1M96.5 206.5h1M96.7 208.8h1M106.1 207.7h1M112.7 202.0h1M83.2 192.2h1M112.7 204.0h1M98.1 198.3h1M106.7 212.4h1M80.9 199.0h1M110.0 200.7h1M119.9 204.3h1M107.4 209.3h1M124.4 201.4h1M107.6 199.4h1M88.9 196.6h1M101.4 194.7h1M118.9 199.6h1M102.6 204.9h1M104.5 200.1h1M101.9 198.6h1M107.7 194.6h1M88.5 204.2h1M105.0 208.1h1M107.7 195.3h1M83.9 204.7h1M95.0 191.7h1M82.8 200.4h1M83.6 200.6h1M108.0 200.2h1M113.8 211.4h1M111.7 203.2h1M102.7 206.4h1M110.4 204.9h1M89.7 207.1h1M93.1 203.2h1M114.2 183.9h1M99.6 205.6h1M107.1 200.8h1M103.0 199.6h1M108.9 201.6h1M120.4 208.2h1M94.3 208.3h1M108.5 200.9h1M111.4 202.7h1M101.4 198.2h1M120.1 204.9h1M85.7 214.2h1M83.4 200.5h1M86.2 199.3h1M118.8 205.3h1M116.5 197.4h1M110.9 200.8h1M124.7 209.3h1M90.5 203.0h1M86.9 208.2h1M92.9 192.2h1M114.5 196.5h1M108.9 211.1h1M93.2 197.6h1M109.8 203.5h1M100.5 199.9h1M98.9 208.6h1M89.6 191.1h1M121.9 207.0h1M89.6 192.9h1M91.0 197.7h1M119.7 206.7h1M101.9 197.3h1M87.7 192.5h1M84.0 204.6h1M96.0 199.6h1M117.5 203.1h1M116.6 198.4h1M103.5 203.9h1M89.8 208.4h1M109.8 206.4h1M122.5 194.1h1M114.0 203.1h1M87.7 200.8h1M85.3 194.6h1M110.0 204.2h1M107.3 209.2h1M108.5 210.3h1M119.5 201.8h1M102.2 196.5h1M114.6 207.3h1M123.1 203.6h1M106.7 208.4h1M123.1 200.1h1M108.0 206.1h1M102.6 205.1h1M105.8 202.7h1M105.4 210.2h1M109.9 203.1h1M90.5 204.9h1M93.5 195.9h1M114.9 200.4h1M87.3 202.9h1M81.5 203.3h1M121.2 200.8h1M107.7 199.5h1M84.0 212.0h1M89.3 209.7h1M100.2 201.4h1M84.8 206.7h1M101.3 193.5h1M111.1 197.4h1M107.8 214.9h1M95.1 195.7h1M112.8 203.3h1M91.8 201.1h1M93.4 198.8h1M88.9 202.6h1M112.5 194.1h1M91.1 201.3h1M114.2 206.7h1M121.3 202.9h1M111.2 210.6h1M124.9 200.1h1M87.7 199.6h1M91.8 201.6h1M107.3 212.2h1M122.6 189.2h1M90.8 207.2h1M83.6 201.6h1M119.0 205.7h1M89.7 195.0h1M91.9 198.7h1M121.4 207.2h1M95.6 214.5h1M115.4 212.8h1M90.6 206.2h1M124.7 195.8h1M96.7 196.4h1M90.5 199.0h1M124.3 202.8h1M94.8 196.5h1M80.6 206.0h1M120.3 199.6h1M102.8 201.6h1M100.4 215.7h1M85.7 206.0h1M109.4 193.8h1M107.9 192.5h1M99.2 210.2h1M113.2 209.3h1M99.3 204.8h1M112.7 204.3h1M96.0 212.8h1M96.6 206.0h1M101.7 213.1h1M99.9 206.6h1M114.4 202.1h1M97.5 195.5h1M113.0 203.2h1M92.1 200.7h1M87.0 205.2h1M120.7 198.5h1M120.8 195.7h1M100.0 201.6h1M104.0 202.2h1M93.3 204.2h1M122.7 205.9h1M111.9 198.4h1M121.8 204.6h1M113.9 208.1h1M110.4 205.0h1M121.6 201.7h1M85.9 203.6h1M110.1 195.8h1M110.1 201.9h1M102.7 200.7h1M90.6 195.0h1M120.1 207.0h1M112.9 194.1h1M122.3 195.7h1M99.4 199.6h1M114.0 202.1h1M104.2 198.7h1M105.3 192.9h1M109.6 202.1h1M90.8 201.8h1M109.3 198.2h1M111.4 216.6h1M112.4 200.1h1M81.4 190.7h1M119.1 200.6h1M101.8 201.7h1M121.2 204.4h1M111.0 191.6h1M120.3 201.1h1M109.9 208.0h1M83.4 205.0h1M97.2 199.9h1M98.0 206.3h1M106.2 196.0h1M114.9 189.3h1M119.8 199.5h1M89.2 195.8h1M93.7 201.9h1M82.0 210.5h1M91.2 197.2h1M122.9 202.1h1M94.8 196.8h1M103.3 188.8h1M118.5 196.7h1M99.4 203.6h1M102.6 202.5h1M102.3 202.7h1M93.5 195.0h1M117.7 207.6h1M124.5 201.6h1M96.8 215.0h1M104.5 214.0h1M118.4 209.7h1M100.6 189.6h1M120.1 203.8h1M86.6 199.1h1M105.1 197.9h1M99.0 203.7h1M103.8 203.4h1M121.7 202.5h1M123.8 201.1h1M96.3 199.5h1M87.5 205.8h1M102.3 194.3h1M101.3 197.4h1M90.7 196.5h1M85.0 200.0h1M113.0 205.5h1M110.4 190.0h1M97.7 211.9h1M121.0 199.6h1M105.8 208.5h1M120.1 218.1h1M108.1 199.7h1M102.3 196.5h1M121.2 188.8h1M94.8 205.1h1M86.5 196.3h1M89.6 206.5h1M91.8 196.5h1M108.3 200.4h1M104.3 201.5h1M104.8 202.3h1M100.7 204.7h1M105.7 211.8h1M99.3 209.4h1M83.4 204.9h1M89.2 204.5h1M114.7 193.0h1M104.8 199.1h1M94.2 201.9h1M120.2 202.9h1M119.3 199.9h1M121.6 197.6h1M99.6 202.8h1M107.6 196.8h1M117.4 193.4h1M115.4 213.3h1M106.5 213.4h1M114.0 208.8h1M89.5 192.2h1M111.0 205.2h1M103.1 203.4h1M118.7 197.2h1M112.9 211.7h1M84.3 197.8h1M105.4 198.2h1M109.1 206.2h1M114.2 206.4h1M103.1 204.6h1M93.7 205.8h1M85.2 189.8h1M88.1 192.7h1M115.2 196.7h1M98.1 193.3h1M97.6 204.4h1M90.0 207.9h1M107.0 199.6h1M116.9 203.8h1M84.4 209.8h1M117.0 193.6h1M120.1 209.2h1M88.6 198.1h1M121.8 192.1h1M120.2 214.9h1M108.5 194.2h1M110.7 205.5h1M109.6 208.8h1M100.3 200.2h1M88.1 201.7h1M88.3 199.5h1M116.1 204.3h1M109.6 194.8h1M84.4 197.4h1M123.5 195.9h1M108.7 196.9h1M110.1 201.4h1M113.9 200.9h1M114.7 197.9h1M122.5 191.9h1M104.1 206.0h1M117.1 198.5h1M118.3 205.8h1M114.3 198.5h1M120.3 192.7h1M125.1 195.1h1M91.5 209.6h1M126.8 200.1h1M91.4 202.6h1M88.2 200.6h1M89.9 200.3h1M115.7 201.2h1M101.5 220.2h1M80.6 203.8h1M102.7 198.2h1M84.6 200.8h1M98.5 203.5h1M97.7 211.2h1M109.2 209.6h1M82.0 192.7h1M118.8 199.1h1M107.9 204.4h1M111.8 196.1h1M92.4 197.5h1M90.5 205.5h1M90.0 204.6h1M105.7 200.4h1M103.4 198.5h1M116.7 200.0h1M95.8 215.6h1M107.0 194.9h1M122.2 201.5h1M122.8 210.6h1M109.4 199.2h1M124.3 193.8h1M89.0 206.8h1M98.3 209.8h1M115.6 199.1h1M95.0 207.8h1M87.6 193.0h1M100.5 197.5h1M109.0 204.1h1M112.0 201.7h1M94.8 195.4h1M98.7 197.6h1M93.6 199.6h1M122.9 198.5h1M82.8 201.0h1M116.6 205.9h1M98.4 190.9h1M118.1 222.5h1M94.6 199.6h1M86.6 200.8h1M93.7 203.7h1M84.0 193.6h1M110.3 212.4h1M118.7 197.9h1M117.2 202.0h1M93.5 207.4h1M118.0 208.9h1M88.5 207.4h1M97.3 213.0h1M83.6 202.7h1M81.6 206.0h1M112.7 204.5h1M105.8 199.5h1M89.2 199.6h1M92.8 192.5h1M102.6 203.3h1M101.9 203.3h1M112.6 206.6h1M92.4 199.5h1M111.0 205.4h1M104.9 202.5h1M95.0 191.9h1M116.0 190.3h1M93.3 198.7h1M126.5 200.1h1M106.8 210.3h1M109.7 202.9h1M122.3 203.2h1M112.2 207.0h1M113.6 203.7h1M104.2 206.5h1M120.3 212.0h1M96.6 199.4h1M90.6 199.1h1M94.9 190.7h1M86.4 198.7h1M109.4 202.8h1M87.2 196.0h1M96.5 197.4h1M117.0 207.8h1M82.6 198.3h1M107.7 197.7h1M101.2 207.5h1M109.3 208.5h1M113.7 207.0h1M112.9 199.8h1M110.4 202.9h1M90.0 218.4h1M123.9 207.7h1M117.1 189.7h1M84.7 207.9h1M98.7 207.8h1M100.3 197.0h1M94.7 200.5h1M109.5 196.7h1M94.7 200.6h1M96.0 208.9h1M99.4 205.9h1M108.8 201.1h1M122.2 203.7h1M88.7 200.6h1M88.5 204.3h1M81.6 197.7h1M108.3 200.8h1M122.2 201.7h1M113.1 203.9h1M102.5 194.4h1M114.1 213.6h1M98.6 197.8h1M99.1 208.3h1M109.4 197.3h1M102.2 193.4h1M82.3 213.0h1M113.8 201.1h1M83.9 201.4h1M107.5 197.6h1M93.6 195.8h1M91.2 200.5h1M87.7 206.9h1M108.9 202.2h1M96.1 200.7h1M96.9 203.6h1M80.6 198.1h1M104.2 213.5h1M112.6 204.8h1M99.7 198.8h1M86.8 208.2h1M117.5 210.6h1M97.6 197.0h1M89.3 204.6h1M103.4 206.3h1M110.7 201.9h1M99.9 197.7h1M85.2 203.1h1M101.8 200.6h1M85.6 207.5h1M100.1 200.4h1M111.1 193.5h1M114.8 207.6h1M118.6 201.8h1M121.6 193.3h1M88.4 200.2h1M99.5 208.0h1M83.9 193.3h1M120.0 195.1h1M116.6 199.6h1M110.9 207.1h1M92.4 198.0h1M86.7 189.5h1M97.5 209.8h1M93.3 219.5h1M99.3 195.4h1M80.0 200.5h1M90.8 208.2h1M94.6 211.2h1M97.3 204.3h1M91.9 202.2h1M113.8 202.1h1M80.3 212.1h1M112.6 215.3h1M101.7 194.8h1M118.2 198.6h1M87.2 206.6h1M122.0 204.2h1M91.1 210.1h1M82.6 213.4h1M87.7 197.7h1M112.8 201.6h1M121.9 204.9h1M100.5 198.8h1M114.1 206.6h1M85.8 216.6h1M100.6 200.2h1M108.1 200.5h1M113.5 199.1h1M99.0 208.8h1M116.5 196.0h1M88.3 203.4h1M102.1 208.8h1M91.9 201.5h1M105.3 203.6h1M86.4 192.4h1M104.7 193.1h1M104.1 212.4h1M92.4 201.9h1M91.1 215.0h1M88.5 198.2h1M102.5 196.5h1M120.9 204.3h1M108.8 193.9h1M117.7 204.6h1M98.7 201.8h1M121.0 209.2h1M119.7 188.3h1M114.5 185.9h1M112.4 200.7h1M123.4 199.1h1M83.4 203.5h1M89.6 194.1h1M109.2 201.2h1M118.2 198.3h1M122.9 201.5h1M78.3 193.7h1M87.9 205.3h1M108.5 200.2h1M103.0 204.2h1M123.3 196.4h1M117.6 194.8h1M127.2 206.6h1M98.7 209.0h1M117.1 194.2h1M108.1 210.8h1M107.9 204.8h1M85.2 203.4h1M109.2 208.6h1M119.1 197.5h1M109.6 206.6h1M88.8 195.8h1M90.0 206.1h1M108.6 184.5h1M106.3 210.9h1M118.9 207.3h1M106.3 200.9h1M116.9 201.0h1M90.7 209.9h1M90.2 193.4h1M122.5 195.1h1M109.5 213.0h1M97.2 215.0h1M110.8 206.3h1M95.2 202.2h1M119.7 200.1h1M103.2 198.9h1M90.7 202.2h1M121.4 207.9h1M87.4 214.3h1M96.2 202.4h1M121.5 206.5h1M100.6 201.8h1M110.5 201.5h1M94.4 201.6h1M87.1 201.0h1M85.2 203.5h1M98.1 202.9h1M95.8 191.3h1M106.3 198.2h1M91.2 192.5h1M100.5 200.0h1M117.3 208.5h1M88.9 193.1h1M83.6 199.3h1M95.1 196.9h1M103.3 206.2h1M111.4 202.6h1M112.7 199.5h1M94.5 212.0h1M92.6 190.9h1M97.0 198.5h1M111.7 198.0h1M86.1 206.0h1M118.2 199.3h1M83.4 210.3h1M87.4 204.4h1M88.3 199.6h1M113.6 195.5h1M97.1 200.1h1M114.9 204.2h1M89.0 208.1h1M92.8 204.3h1M83.8 199.6h1M110.9 204.5h1M110.0 207.2h1M119.0 209.0h1M102.0 199.3h1M91.2 205.9h1M85.4 198.7h1M82.6 204.1h1M108.4 196.7h1M80.4 213.1h1M99.8 195.5h1M84.0 205.1h1M102.1 195.4h1M82.5 201.4h1M118.1 197.1h1M96.3 207.9h1M105.4 201.6h1M119.4 196.4h1M116.1 193.4h1M83.4 207.2h1M121.8 210.0h1M101.8 209.0h1M106.9 207.0h1M105.4 198.2h1M75.4 197.3h1M107.0 210.8h1M84.2 203.9h1M92.7 198.3h1M109.6 203.5h1M108.2 205.6h1M88.0 196.1h1M99.0 218.3h1M120.0 200.2h1M114.5 199.6h1M124.5 199.8h1M127.5 187.5h1M120.6 212.1h1M90.7 206.1h1M92.4 212.2h1M113.3 203.1h1M89.3 197.6h1M120.0 195.6h1M94.2 200.1h1M114.4 199.7h1M101.8 203.1h1M100.8 204.9h1M104.8 203.2h1M91.9 203.2h1M113.6 210.3h1M99.2 204.5h1M110.9 208.9h1M88.2 200.0h1M116.8 216.0h1M89.7 190.2h1M112.4 209.7h1M113.4 194.4h1M83.6 207.1h1M92.2 199.0h1M93.7 205.3h1M119.5 202.4h1M113.7 206.7h1M87.9 200.2h1M99.9 201.8h1M100.9 203.2h1M116.9 202.6h1M124.7 203.9h1M105.6 195.4h1M101.4 198.9h1M100.9 201.8h1M110.2 192.0h1M122.9 202.8h1M120.2 205.2h1M94.2 195.5h1M98.8 206.4h1M91.6 202.1h1M101.1 196.3h1M105.0 198.4h1M117.4 207.4h1M111.0 208.8h1M115.6 196.7h1M90.3 206.0h1M108.7 209.7h1M117.4 195.4h1M94.9 187.5h1M112.1 205.7h1M104.0 202.5h1M112.3 204.4h1M114.8 203.2h1M88.9 199.2h1M100.7 203.2h1M116.4 196.1h1M118.9 207.2h1M111.5 202.1h1M107.1 202.8h1M89.4 206.2h1M99.0 193.8h1M96.8 206.6h1M98.4 198.1h1M110.8 199.8h1M107.4 195.3h1M109.0 210.8h1M90.4 215.6h1M109.8 198.1h1M105.6 206.0h1M109.4 203.1h1M108.4 206.3h1M111.2 195.9h1M87.5 194.5h1M122.9 205.5h1M84.6 208.3h1M98.4 210.1h1M118.7 198.9h1M113.0 196.6h1M89.0 198.7h1M84.4 197.7h1M104.1 189.0h1M126.1 197.6h1M87.9 192.6h1M101.8 203.8h1M96.4 204.3h1M110.3 193.9h1M109.6 198.5h1M82.7 200.4h1M116.6 206.9h1M91.0 206.8h1M107.0 205.6h1M85.6 212.5h1M116.8 208.2h1M97.2 200.3h1M77.7 196.6h1M115.9 200.0h1M92.1 202.6h1M107.4 195.4h1M116.3 217.2h1M120.6 196.6h1M119.7 202.3h1M108.7 197.7h1M115.0 196.2h1M105.0 190.3h1M101.5 207.5h1M97.8 201.8h1M108.8 205.3h1M93.9 206.5h1M92.7 200.2h1M96.0 205.0h1M102.9 206.0h1M94.1 196.2h1M109.3 191.5h1M115.5 195.4h1M97.1 201.2h1M88.3 205.6h1M122.8 198.4h1M121.5 209.6h1M91.2 198.1h1M87.7 201.8h1M85.4 207.8h1M83.5 201.2h1M113.7 207.4h1M118.9 203.3h1M88.4 192.3h1M91.2 198.7h1M89.7 207.4h1M120.7 208.3h1M105.5 198.7h1M99.7 213.3h1M110.9 202.0h1M105.1 206.3h1M111.9 203.1h1M91.0 202.0h1M97.4 205.5h1M110.3 190.5h1M94.3 200.5h1M109.8 208.8h1M84.3 197.5h1M106.4 199.1h1M92.8 198.0h1M113.9 204.2h1M84.3 202.6h1M105.8 206.0h1M90.6 207.1h1M120.0 200.0h1M106.1 200.4h1M123.2 193.3h1M106.5 204.4h1M92.8 207.1h1M108.7 208.2h1M104.0 200.2h1M121.2 207.7h1M94.5 203.9h1M90.8 198.5h1M92.1 199.1h1M106.0 212.3h1M91.5 196.8h1M104.7 200.2h1M113.0 200.4h1M80.7 201.4h1M112.4 196.7h1M103.1 200.9h1M112.8 203.3h1M95.8 203.0h1M109.6 198.0h1M109.3 198.3h1M103.4 214.1h1M95.7 196.8h1M99.4 203.0h1M99.7 207.7h1M109.1 200.8h1M118.7 197.9h1M117.5 203.2h1M103.0 199.6h1M108.4 214.0h1M89.4 203.7h1M86.1 200.1h1M94.8 208.0h1M85.4 195.6h1M95.6 201.6h1M85.9 200.4h1M106.5 190.8h1M119.4 194.4h1M120.3 200.6h1M94.4 193.4h1M111.8 205.6h1M100.3 192.9h1M117.5 199.4h1M113.2 214.8h1M117.7 197.2h1M117.7 209.5h1M92.2 206.0h1M113.3 194.0h1M93.8 192.7h1M94.5 192.3h1M113.1 216.8h1M97.9 203.3h1M94.4 201.0h1M123.3 214.5h1M101.5 202.3h1M105.4 203.8h1M111.4 208.0h1M86.2 200.0h1M122.4 202.3h1M125.7 203.8h1M115.6 193.1h1M94.2 191.4h1M95.6 207.5h1M117.8 210.0h1M100.3 205.9h1M97.0 209.7h1M87.9 212.4h1M105.9 205.1h1M101.8 205.3h1M103.9 199.5h1M87.2 210.5h1M101.5 207.8h1M118.1 188.2h1M119.7 207.7h1M119.3 197.8h1M114.7 211.6h1M105.6 193.9h1M112.0 211.1h1M104.5 205.8h1M106.2 205.2h1M124.7 196.6h1M111.1 183.0h1M106.9 203.5h1M116.9 204.8h1M94.9 194.9h1M109.6 203.4h1M123.7 208.5h1M96.4 206.0h1M111.3 204.3h1M111.2 206.2h1M92.8 203.4h1M88.1 197.2h1M89.0 197.2h1M111.0 193.7h1M88.8 198.0h1M121.9 201.8h1M98.2 198.1h1M99.7 200.7h1M91.4 215.4h1M81.7 197.3h1M94.0 200.8h1M88.9 194.7h1M83.0 202.1h1M104.9 210.4h1M95.8 198.1h1M88.7 213.1h1M88.6 206.7h1M97.3 193.2h1M105.3 204.6h1M105.6 198.8h1M107.5 193.9h1M119.9 205.3h1M119.6 189.4h1M109.2 207.5h1M96.8 199.1h1M81.4 196.5h1M94.6 196.7h1M108.7 184.7h1M116.4 201.2h1M112.5 218.1h1M87.3 209.7h1M82.8 187.8h1M90.6 208.2h1M93.1 202.4h1M109.6 197.0h1M110.2 214.5h1M99.1 205.4h1M92.4 184.1h1M85.8 198.7h1M115.8 204.0h1M118.4 195.4h1M97.9 196.0h1M126.3 199.7h1M119.9 208.6h1M97.5 207.4h1M117.6 206.2h1M83.6 201.4h1M118.6 199.7h1M101.0 200.1h1M101.2 204.4h1M117.8 212.5h1M89.1 203.2h1M83.3 198.9h1M111.0 204.9h1M117.9 201.1h1M119.6 204.6h1M105.5 205.9h1M93.9 195.9h1M100.8 203.2h1M82.5 215.0h1M103.9 205.9h1M110.9 202.9h1M102.2 202.6h1M122.1 202.7h1M93.6 201.5h1M86.1 212.1h1M102.3 210.1h1M101.5 203.2h1M110.7 205.0h1M111.4 206.9h1M86.0 212.4h1M109.2 197.7h1M108.2 201.2h1M94.6 201.7h1M113.9 201.1h1M102.4 197.8h1M99.4 197.8h1M108.2 193.9h1M117.3 202.4h1M91.3 201.8h1M108.0 197.2h1M87.4 208.9h1M95.0 218.9h1M98.3 207.4h1M92.0 213.5h1M82.6 196.1h1M109.4 202.2h1M103.3 211.4h1M106.8 205.0h1M111.0 199.7h1M108.0 201.6h1M84.9 198.2h1M96.3 208.7h1M102.7 207.3h1M104.4 214.3h1M115.7 191.3h1M111.8 196.8h1M118.0 197.2h1M88.0 206.4h1M103.5 204.6h1M115.0 196.0h1M108.4 186.4h1M80.6 196.9h1M93.1 205.0h1M118.7 227.4h1M98.5 194.9h1M93.2 199.1h1M105.9 204.2h1M117.7 198.5h1M120.7 193.6h1M96.4 204.1h1M112.9 215.8h1M94.7 205.0h1M100.8 187.7h1M98.8 200.6h1M84.4 195.2h1M89.4 200.1h1M108.9 206.6h1M103.8 201.3h1M99.1 195.4h1M105.6 206.7h1M115.9 197.2h1M92.6 194.8h1M124.9 203.7h1M105.6 204.9h1M100.7 203.6h1M106.9 199.6h1M93.9 192.9h1M108.6 196.1h1M96.9 194.7h1M89.1 199.8h1M112.8 188.9h1M100.1 220.4h1M82.0 202.9h1M91.4 226.5h1M90.9 200.3h1M111.8 204.2h1M109.7 204.6h1M92.5 199.4h1M104.7 208.6h1M93.7 203.9h1M95.9 201.9h1M121.3 190.5h1M109.9 207.6h1M117.4 215.7h1M85.1 202.8h1M81.6 206.8h1M117.7 200.6h1M123.3 213.2h1M102.4 209.1h1M116.1 219.1h1M119.8 211.9h1M117.3 202.6h1M110.9 214.1h1M87.4 201.4h1M115.8 200.4h1M93.2 202.0h1M89.8 202.8h1M89.0 198.6h1M114.1 198.2h1M116.2 199.2h1M105.6 190.7h1M102.6 199.8h1M89.1 202.1h1M100.4 207.7h1M92.2 204.2h1M101.6 199.1h1M102.0 204.7h1M117.8 195.7h1M109.9 194.4h1M90.4 203.1h1M99.9 199.8h1M86.8 198.4h1M114.8 191.6h1M95.3 207.1h1M93.2 210.0h1M87.7 191.3h1M103.6 205.1h1M117.1 207.3h1M98.5 194.2h1M98.3 209.4h1M127.5 195.5h1M106.3 198.4h1M82.9 197.5h1M112.1 203.5h1M117.2 197.2h1M88.8 199.9h1M91.1 203.0h1M110.3 214.4h1M100.9 205.3h1M103.7 203.7h1M105.6 207.9h1M118.0 205.0h1M105.0 203.1h1M112.8 204.0h1M119.6 209.5h1M108.1 212.6h1M95.3 193.4h1M100.1 217.4h1M109.3 201.7h1M97.9 188.9h1M112.8 209.0h1M93.7 199.2h1M114.2 205.1h1M107.5 212.8h1M125.1 197.4h1M105.9 198.8h1M107.3 218.6h1M111.1 201.0h1M110.4 209.8h1M116.1 205.6h1M104.5 200.0h1M91.2 195.9h1M99.1 209.5h1M104.1 214.3h1M102.7 193.4h1M123.7 208.1h1M113.7 205.2h1M92.2 188.6h1M111.9 203.7h1M122.7 200.7h1M91.7 198.8h1M100.1 204.6h1M103.4 199.0h1M95.8 213.7h1M88.7 213.3h1M106.7 197.3h1M99.7 206.2h1M94.7 199.3h1M104.9 206.3h1M113.4 196.8h1M101.3 208.2h1M92.2 192.7h1M90.1 195.2h1M84.5 191.7h1M86.8 219.4h1M96.6 195.4h1M112.5 204.0h1M99.0 194.6h1M97.4 203.4h1M99.8 206.0h1M98.1 212.9h1M110.0 203.0h1M107.6 213.1h1M115.9 207.2h1M87.6 196.4h1M111.3 192.8h1M104.1 206.0h1M110.6 211.7h1M105.9 198.9h1M116.3 185.0h1M117.4 209.1h1M86.3 199.7h1M97.5 199.4h1M122.9 199.5h1M104.9 194.9h1M92.1 199.9h1M115.8 209.2h1M89.9 207.9h1M119.0 204.5h1M117.9 194.4h1M104.9 203.2h1M94.3 192.2h1M110.1 219.5h1M94.7 195.7h1M80.1 205.4h1M106.6 203.9h1M126.6 195.0h1M115.0 194.7h1M93.3 204.6h1M116.3 208.7h1M102.1 192.9h1M119.1 193.6h1M114.4 187.4h1M107.3 207.3h1M119.3 194.6h1M114.4 211.6h1M91.4 206.6h1M88.7 205.1h1M102.2 203.3h1M119.1 206.2h1M94.4 199.7h1M95.6 197.6h1M100.4 201.3h1M106.1 193.8h1M90.7 209.0h1M106.7 200.8h1M118.8 199.3h1M96.9 213.1h1M90.5 219.0h1M105.7 184.3h1M100.3 200.2h1M106.9 190.4h1M112.1 196.0h1M102.0 197.0h1M86.2 203.1h1M92.9 204.5h1M86.6 209.8h1M123.7 202.3h1M112.3 206.2h1M103.1 210.6h1M107.2 188.3h1M104.5 196.5h1M81.9 204.0h1M108.6 212.6h1M123.3 206.8h1M102.7 196.6h1M110.3 198.0h1M104.1 201.3h1M100.2 203.4h1M123.5 213.2h1M126.7 203.0h1M112.3 199.6h1M97.2 206.2h1M96.8 200.9h1M100.6 199.8h1M97.2 200.9h1M117.9 220.8h1M114.9 215.9h1M121.3 194.9h1M93.3 212.1h1M99.5 214.4h1M95.5 213.6h1M87.5 208.9h1M112.6 211.3h1M97.0 216.4h1M86.4 204.7h1M109.9 219.8h1M112.7 194.8h1M106.0 202.6h1M122.8 209.1h1M106.5 200.1h1M99.7 194.3h1M112.0 190.4h1M104.6 189.5h1M102.7 215.3h1M97.6 199.1h1M119.3 207.5h1M106.2 191.0h1M105.5 194.2h1M90.9 200.8h1M118.1 202.1h1M122.7 201.9h1M97.7 184.9h1M103.5 207.0h1M88.1 198.1h1M93.0 195.3h1M114.0 234.2h1M111.9 223.6h1M117.5 243.1h1M115.8 249.3h1M122.1 215.3h1M121.0 217.2h1M96.3 219.9h1M124.3 245.5h1M103.4 210.5h1M106.5 233.3h1M112.9 246.1h1M121.0 206.4h1M117.5 237.8h1M124.3 230.5h1M114.3 228.0h1M101.1 230.5h1M96.5 225.3h1M108.6 245.2h1M115.6 246.6h1M107.8 241.1h1M114.5 249.6h1M111.0 236.2h1M101.1 238.0h1M100.1 228.7h1M106.8 231.1h1M105.2 240.9h1M97.6 249.9h1M101.2 241.2h1M99.2 234.1h1M100.6 245.8h1M99.1 247.7h1M92.6 242.4h1M99.6 248.1h1M104.1 231.9h1M106.7 241.5h1M119.1 237.6h1M101.5 222.6h1M105.6 237.0h1M115.4 231.2h1M120.4 231.1h1M104.5 234.9h1M100.9 227.4h1M111.7 226.3h1M110.3 242.6h1M96.4 236.7h1M109.2 216.5h1M94.0 232.5h1M117.1 257.3h1M108.3 211.5h1M101.3 222.2h1M116.9 230.3h1M122.1 233.3h1M112.2 242.6h1M107.9 231.0h1M103.9 219.1h1M123.4 222.7h1M116.1 242.2h1M105.1 227.6h1M105.8 221.3h1M98.5 242.6h1M124.7 216.1h1M102.4 226.4h1M92.2 235.7h1M105.6 229.1h1M120.5 239.5h1M111.6 220.1h1M110.2 251.6h1M108.2 231.1h1M111.7 233.5h1M113.5 238.2h1M104.7 242.8h1M106.7 229.4h1M105.4 233.9h1M115.8 235.9h1M112.9 225.2h1M118.8 260.1h1M99.0 221.7h1M100.2 227.3h1M101.4 250.6h1M120.1 230.2h1M108.2 228.9h1M108.8 234.9h1M105.8 229.3h1M102.7 239.9h1M122.2 232.2h1M106.9 201.3h1M117.6 233.9h1M118.1 241.7h1M100.9 236.7h1M112.3 232.8h1M106.2 224.1h1M99.2 202.6h1M108.6 238.0h1M115.8 235.8h1M97.0 232.4h1M112.8 250.0h1M114.9 218.4h1M114.2 234.0h1M116.9 230.8h1M106.5 217.1h1M95.6 218.6h1M105.8 251.2h1M110.3 248.6h1M96.7 247.5h1M103.7 247.8h1M113.8 232.1h1M113.3 222.5h1M103.9 225.0h1M102.9 225.1h1M120.1 227.8h1M113.4 224.3h1M117.5 231.8h1M105.9 241.5h1M116.6 231.2h1M114.1 219.4h1M111.0 237.1h1M115.9 222.2h1M112.4 225.5h1M110.5 208.2h1M114.8 217.7h1M114.5 201.2h1M110.7 227.6h1M112.9 219.7h1M106.3 239.2h1M117.4 245.0h1M103.9 248.1h1M111.1 238.0h1M113.2 218.4h1M103.6 227.2h1M107.3 239.7h1M123.6 240.1h1M110.0 220.8h1M120.3 247.4h1M115.2 217.9h1M105.4 226.1h1M120.6 224.6h1M98.1 236.2h1M115.3 233.8h1M105.0 207.7h1M97.0 241.2h1M104.6 229.4h1M116.5 231.9h1M93.2 239.7h1M97.4 241.5h1M123.4 214.6h1M121.9 261.5h1M119.8 226.3h1M99.4 226.0h1M102.5 243.4h1M119.6 236.0h1M105.2 225.9h1M116.2 224.4h1M109.7 240.0h1M118.4 248.6h1M103.8 218.6h1M117.8 246.4h1M100.9 231.5h1M108.1 242.8h1M105.5 234.3h1M104.3 229.9h1M114.8 223.0h1M105.9 228.5h1M99.5 245.6h1M115.7 245.8h1M116.8 235.9h1M98.3 233.3h1M124.5 236.5h1M100.5 241.5h1M105.1 229.5h1M101.1 218.1h1M112.6 223.6h1M102.8 234.9h1M123.3 244.9h1M112.2 257.8h1M107.7 220.3h1M111.4 230.0h1M115.3 233.9h1M119.9 232.7h1M102.1 236.7h1M103.5 235.9h1M109.9 235.4h1M107.7 238.1h1M118.3 229.5h1M116.8 213.9h1M111.7 238.0h1M102.7 237.4h1M98.0 223.8h1M117.3 234.2h1M113.9 235.1h1M120.0 237.2h1M124.7 226.5h1M98.7 249.4h1M112.7 220.8h1M120.0 225.9h1M107.3 233.0h1M113.9 235.7h1M115.1 233.3h1M120.4 254.4h1M103.7 234.3h1M109.4 226.8h1M107.9 235.4h1M100.0 212.9h1M96.0 233.6h1M117.4 257.8h1M121.0 262.6h1M110.5 214.5h1M107.8 233.5h1M117.3 228.8h1M112.8 225.2h1M117.5 223.1h1M110.7 210.0h1M117.1 247.5h1M120.6 225.5h1M101.7 232.2h1M105.2 236.5h1M97.7 260.1h1M101.5 236.8h1M119.6 234.9h1M106.0 226.7h1M112.2 242.0h1M117.7 244.1h1M112.6 246.3h1M119.1 240.5h1M120.1 217.7h1M118.5 244.1h1M112.1 238.8h1M110.4 242.7h1M113.0 231.7h1M109.3 256.0h1M109.0 230.5h1M120.6 220.1h1M96.5 215.3h1M94.4 231.7h1M117.4 233.7h1M108.3 242.0h1M110.4 216.5h1M118.4 240.4h1M94.5 213.2h1M101.1 246.1h1M103.6 226.2h1M122.7 261.0h1M104.4 235.9h1M110.7 247.4h1M113.9 241.2h1M115.0 242.6h1M97.2 229.6h1M109.8 228.2h1M104.9 220.2h1M108.3 242.4h1M97.9 232.0h1M107.0 244.2h1M106.9 246.0h1M109.3 236.2h1M107.4 237.7h1M120.5 231.1h1M118.6 229.2h1M117.1 219.6h1M110.9 241.6h1M115.9 225.5h1M97.4 234.0h1M104.2 235.0h1M102.8 217.7h1M121.1 239.3h1M112.2 226.6h1M95.2 228.5h1M108.3 247.5h1M110.8 228.0h1M110.2 227.1h1M115.7 232.3h1M103.5 218.0h1M111.9 223.6h1M118.2 217.1h1M105.5 233.9h1M110.3 227.2h1M111.8 220.8h1M111.4 249.6h1M115.1 215.8h1M104.8 221.5h1M127.3 244.4h1M112.2 237.0h1M115.7 235.5h1M112.4 230.2h1M100.4 232.2h1M120.7 238.5h1M105.4 215.6h1M103.4 247.8h1M101.3 214.8h1M107.1 243.5h1M109.1 234.4h1M103.8 204.1h1M99.1 237.1h1M107.1 232.8h1M125.6 232.6h1M111.8 233.8h1M119.0 235.6h1M120.8 228.8h1M115.2 249.9h1M103.7 223.9h1M110.3 232.2h1M108.3 231.9h1M107.5 236.1h1M100.9 228.9h1M105.9 242.7h1M102.5 253.5h1M120.6 220.8h1M109.3 234.7h1M119.9 227.2h1M109.6 216.3h1M114.5 226.2h1M114.2 218.7h1M116.6 224.6h1M113.6 215.9h1M107.4 237.7h1M115.9 206.0h1M115.1 233.8h1M112.6 226.3h1M108.3 214.5h1M120.8 229.8h1M110.9 219.7h1M118.5 253.9h1M114.2 234.4h1M103.2 220.1h1M115.8 230.0h1M106.5 238.7h1M104.3 236.5h1M106.3 219.1h1M98.8 247.3h1M109.3 219.5h1M101.6 222.5h1M120.2 253.0h1M108.5 243.4h1M102.9 259.1h1M106.9 221.5h1M104.6 230.5h1M110.7 232.1h1M114.2 227.8h1M121.3 224.8h1M111.2 244.5h1M116.9 241.9h1M107.0 261.3h1M119.0 237.7h1M97.1 217.2h1M110.1 242.4h1M102.8 232.0h1M119.3 221.0h1M123.2 223.3h1M96.6 229.0h1M112.3 223.8h1M103.5 241.8h1M103.4 230.1h1M118.6 219.7h1M104.8 230.1h1M113.9 232.5h1M118.4 243.8h1M102.7 253.6h1M108.1 236.6h1M111.1 230.8h1M101.6 246.4h1M122.3 213.6h1M96.1 234.2h1M117.2 243.9h1M118.0 233.7h1M116.8 213.0h1M111.0 218.2h1M118.1 240.2h1M101.3 251.5h1M123.8 245.1h1M120.2 228.8h1M109.6 212.8h1M97.5 238.5h1M123.9 229.1h1M100.1 229.4h1M119.7 213.3h1M102.4 229.5h1M112.5 232.3h1M103.0 253.0h1M109.3 215.6h1M103.3 224.1h1M109.8 230.6h1M108.8 227.5h1M108.5 228.5h1M99.9 229.4h1M125.8 226.6h1M116.6 218.1h1M97.6 213.6h1M108.9 238.5h1M121.1 225.7h1M101.7 220.9h1M106.1 229.0h1M114.4 231.7h1M115.9 241.3h1M96.1 227.7h1M115.1 237.0h1M116.8 219.0h1M113.3 226.4h1M99.0 236.1h1M106.9 237.2h1M102.8 241.3h1M114.4 232.3h1M111.3 233.0h1M106.9 218.9h1M114.9 217.5h1M115.9 228.5h1M115.6 225.3h1M111.7 212.2h1M100.2 233.2h1M112.8 244.3h1M118.9 256.7h1M127.0 245.5h1M106.8 242.4h1M120.0 227.6h1M111.5 225.9h1M118.9 234.5h1M111.2 232.7h1M121.5 234.0h1M113.0 235.2h1M117.5 239.2h1M104.3 238.9h1M99.9 231.1h1M111.7 227.1h1M108.5 224.1h1M108.6 245.9h1M103.0 249.7h1M111.3 227.9h1M110.7 231.2h1M106.1 237.8h1M102.0 226.7h1M114.7 234.0h1M103.4 236.3h1M113.0 226.2h1M112.5 240.3h1M101.8 224.1h1M113.6 246.7h1M101.4 223.8h1M114.1 214.5h1M107.1 217.4h1M117.5 244.8h1M108.1 220.7h1M115.2 224.4h1M107.9 233.7h1M109.2 230.4h1M110.6 239.4h1M116.6 217.8h1M119.4 244.0h1M107.5 240.6h1M103.2 220.7h1M110.2 224.8h1M118.0 215.8h1M114.7 232.4h1M117.0 250.1h1M106.9 219.5h1M102.7 248.6h1M117.6 234.3h1M114.9 247.8h1M112.7 210.6h1M99.8 250.8h1M98.8 228.4h1M108.7 240.5h1M100.6 209.0h1M99.0 219.9h1M111.7 241.6h1M120.8 227.4h1M100.8 242.2h1M104.7 221.5h1M104.0 237.6h1M103.8 257.9h1M116.7 244.2h1M110.5 237.6h1M116.4 227.3h1M121.6 247.7h1M120.9 221.5h1M109.2 230.7h1M116.2 223.3h1M107.4 214.8h1M102.7 218.6h1M98.7 227.3h1M112.4 216.1h1M122.5 253.8h1M121.8 233.6h1M117.7 260.5h1M103.1 201.8h1M108.9 232.5h1M105.5 250.9h1M106.9 230.6h1M124.2 231.4h1M111.0 227.2h1M104.4 221.1h1M112.3 230.4h1M110.0 226.2h1M106.4 231.4h1M116.6 246.5h1M114.2 251.4h1M100.9 250.3h1M112.3 208.5h1M115.3 225.2h1M119.9 221.8h1M117.2 255.1h1M118.6 252.0h1M110.3 238.6h1M110.1 231.0h1M98.5 220.0h1M108.4 249.4h1M116.7 237.8h1M104.2 236.0h1M117.5 236.0h1M121.7 213.6h1M107.1 237.2h1M101.5 229.5h1M107.2 220.3h1M109.6 252.7h1M95.1 231.2h1M116.8 245.1h1M111.5 219.2h1M119.3 231.0h1M121.3 235.1h1M104.5 219.2h1M96.7 220.2h1M112.4 227.2h1M100.8 237.3h1M107.2 221.2h1M113.0 239.2h1M113.4 222.7h1M103.0 230.0h1M111.2 240.9h1M120.7 254.5h1M124.6 202.6h1M119.2 238.1h1M99.5 246.1h1M113.8 215.7h1M109.0 229.8h1M105.9 239.6h1M113.6 219.0h1M107.5 246.4h1M118.5 231.4h1M106.1 254.8h1M103.2 229.3h1M103.6 224.1h1M112.2 259.7h1M108.5 235.3h1M111.9 219.0h1M97.9 237.1h1M102.3 235.7h1M99.7 225.3h1M115.9 243.3h1M106.0 216.9h1M116.5 256.9h1M106.4 214.3h1M115.1 238.0h1M98.2 242.5h1M102.4 221.4h1M102.3 232.3h1M101.3 235.7h1M117.5 234.5h1M101.3 255.1h1M103.2 200.3h1M117.4 240.1h1M120.7 238.3h1M114.5 218.5h1M108.0 250.2h1M116.7 221.0h1M115.0 237.3h1M114.1 235.1h1M117.6 256.2h1M118.0 254.7h1M121.1 223.7h1M107.0 216.0h1M115.3 238.6h1M101.0 225.0h1M118.3 234.2h1M105.9 234.3h1M123.4 223.3h1M101.0 254.1h1M110.3 229.3h1M99.6 235.0h1M104.5 234.0h1M109.4 221.1h1M119.4 219.0h1M107.0 241.2h1M121.8 235.7h1M108.9 249.1h1M119.6 219.2h1M107.8 242.4h1M114.1 240.2h1M106.5 235.7h1M115.9 247.4h1M110.3 237.9h1M118.6 228.2h1M108.8 239.0h1M104.0 232.0h1M106.0 245.5h1M110.5 228.4h1M107.1 244.6h1M108.6 242.7h1M107.7 215.6h1M115.8 235.7h1M114.7 235.6h1M122.3 228.9h1M100.9 254.7h1M106.3 214.4h1M106.6 236.9h1M104.5 247.0h1M112.2 232.1h1M125.1 236.1h1M108.2 232.0h1M102.0 229.2h1M115.8 240.3h1M107.8 230.7h1M110.8 212.3h1M124.0 240.8h1M121.6 219.3h1M100.6 232.9h1M94.9 225.1h1M124.2 243.3h1M109.8 223.2h1M109.2 222.3h1M97.4 250.2h1M103.4 232.4h1M115.3 243.9h1M107.4 244.7h1M101.8 257.5h1M107.5 226.0h1M123.3 217.7h1M104.7 213.2h1M120.7 228.7h1M117.6 217.8h1M99.4 237.3h1M98.0 233.9h1M121.7 243.6h1M112.8 241.6h1M105.7 229.6h1M106.4 238.3h1M102.2 224.2h1M101.2 242.5h1M120.5 226.5h1M120.6 234.7h1M113.5 230.0h1M120.9 224.6h1M118.5 244.6h1M108.2 235.0h1M109.9 247.5h1M96.9 255.2h1M114.8 249.5h1M97.9 229.2h1M110.6 241.8h1M103.6 223.8h1M119.2 239.6h1M108.0 250.9h1M113.7 231.8h1M101.2 213.8h1M123.2 234.1h1M111.7 236.7h1M121.6 258.0h1M112.0 221.1h1M117.0 235.4h1M111.5 223.6h1M102.4 227.7h1M119.5 248.7h1M104.8 217.2h1M104.2 224.7h1M126.5 227.8h1M116.9 220.2h1M99.1 238.8h1M100.9 235.8h1M97.3 246.8h1M115.3 218.9h1M102.4 211.8h1M103.7 247.8h1M113.6 234.0h1M100.0 209.5h1M109.6 205.9h1M103.4 225.1h1M119.4 234.5h1M111.3 237.7h1M114.8 227.8h1M104.2 213.8h1M103.2 224.5h1M104.3 248.3h1M101.7 231.0h1M108.4 210.4h1M109.1 221.9h1M108.1 242.4h1M114.2 243.9h1M98.2 239.5h1M105.6 233.0h1M110.3 219.4h1M105.6 229.0h1M103.8 236.7h1M119.3 230.1h1M102.9 244.2h1M111.8 224.6h1M115.6 217.5h1M118.2 216.7h1M114.0 235.1h1M101.7 234.5h1M104.1 239.2h1M109.6 222.5h1M117.7 227.5h1M109.5 241.7h1M110.3 248.3h1M109.0 231.8h1M112.5 213.2h1M116.7 246.4h1M117.6 240.8h1M102.5 240.9h1M117.4 213.0h1M109.6 235.9h1M116.4 243.7h1M103.9 252.9h1M97.6 239.0h1M110.8 233.0h1M125.1 226.2h1M120.0 232.0h1M102.7 236.8h1M110.7 218.3h1M115.0 225.2h1M117.1 203.5h1M97.3 228.5h1M119.6 214.3h1M100.1 238.9h1M125.2 215.1h1M110.9 222.2h1M112.9 223.9h1M107.6 249.2h1M109.3 239.5h1M122.0 229.5h1M101.9 241.7h1M113.4 213.4h1M110.0 211.6h1M109.5 221.7h1M103.5 237.6h1M121.8 219.6h1M117.8 233.0h1M112.6 241.1h1M101.2 252.0h1M120.2 237.4h1M109.4 234.7h1M109.0 226.2h1M99.1 222.3h1M100.7 238.5h1M103.5 255.4h1M98.3 238.6h1M119.6 227.4h1M105.1 238.4h1M102.5 257.6h1M106.4 218.2h1M117.2 229.0h1M105.9 233.3h1M113.7 249.0h1M117.6 229.3h1M120.9 247.6h1M117.6 233.7h1M126.0 241.8h1M105.5 234.1h1M105.4 228.1h1M114.0 243.2h1M105.3 221.2h1M96.1 245.7h1M98.2 247.8h1M107.6 233.2h1M110.7 228.7h1M98.4 232.8h1M110.8 237.4h1M114.1 248.7h1M106.9 234.4h1M116.0 217.8h1M98.0 222.0h1M110.6 222.4h1M98.4 230.5h1M109.0 220.6h1M112.6 238.5h1M110.8 261.1h1M117.3 229.0h1M110.1 225.8h1M112.1 229.8h1M116.2 232.4h1M110.3 227.1h1M113.0 251.6h1M117.8 222.0h1M120.8 242.9h1M104.2 247.9h1M103.3 230.2h1M111.0 239.6h1M107.3 243.6h1M101.0 232.4h1M115.5 254.1h1M101.3 235.5h1M100.4 231.8h1M103.6 242.3h1M114.4 221.1h1M101.3 234.4h1M104.2 226.1h1M104.9 233.1h1M109.2 246.1h1M107.5 220.2h1M96.7 244.3h1M100.9 225.7h1M112.7 234.6h1M101.0 245.3h1M101.6 240.4h1M115.3 254.8h1M116.6 240.2h1M113.1 231.0h1M115.5 232.7h1M105.8 232.1h1M104.1 227.0h1M117.5 233.9h1M96.7 222.0h1M103.5 239.6h1M120.6 232.9h1M103.4 248.8h1M111.5 233.0h1M111.4 231.5h1M97.8 224.7h1M120.7 232.5h1M113.3 236.0h1M119.6 240.9h1M106.8 213.2h1M100.8 243.8h1M102.9 221.6h1M104.2 242.4h1M120.6 219.8h1M96.5 229.8h1M117.3 232.3h1M100.5 221.1h1M104.2 248.8h1M112.3 239.4h1M101.8 228.0h1M108.3 213.5h1M117.5 233.8h1M106.8 229.4h1M119.9 228.3h1M106.7 236.7h1M109.0 221.2h1M104.7 213.5h1M101.0 223.6h1M117.4 212.6h1M103.3 243.3h1M107.2 233.4h1M118.5 262.0h1M105.7 226.9h1M101.8 229.7h1M107.6 214.2h1M113.2 253.5h1M97.7 247.4h1M113.8 244.2h1M116.0 227.9h1M115.6 211.3h1M107.1 233.3h1M113.2 239.5h1M110.7 238.1h1M122.8 236.1h1M118.0 221.6h1M112.4 239.2h1M119.5 225.7h1M118.4 215.1h1M114.9 243.6h1M106.5 246.2h1M108.1 223.6h1M103.9 236.5h1M124.7 221.3h1M121.5 236.4h1M112.4 236.1h1M117.7 238.9h1M98.1 230.6h1M121.0 229.1h1M103.6 226.7h1M111.4 236.0h1M116.8 224.3h1M96.0 235.8h1M117.7 231.1h1M102.1 258.7h1M94.0 210.1h1M112.5 220.6h1M107.0 235.8h1M107.2 240.3h1M116.7 233.0h1M96.9 226.6h1M116.0 255.3h1M113.7 210.2h1M112.2 237.9h1M112.4 217.6h1M111.2 240.2h1M97.7 249.1h1M95.7 238.7h1M107.0 254.6h1M122.2 258.9h1M110.5 256.3h1M107.6 247.5h1M121.4 249.2h1M112.2 233.8h1M105.6 214.4h1M96.4 217.8h1M98.2 232.1h1M113.3 250.9h1M113.5 231.3h1M106.1 246.2h1M103.6 228.2h1M100.9 228.6h1M115.8 227.4h1M115.2 247.8h1M109.1 243.1h1M115.9 223.9h1M111.1 244.6h1M110.8 239.7h1M100.4 229.4h1M116.2 224.4h1M117.0 250.6h1M107.0 228.9h1M96.6 245.0h1M116.7 240.4h1M97.9 233.1h1M115.9 216.1h1M98.6 236.6h1M102.6 221.9h1M118.4 250.8h1M119.9 228.4h1M120.3 239.2h1M119.8 244.1h1M109.8 247.5h1M101.6 235.3h1M100.6 230.7h1M110.2 220.9h1M122.3 228.0h1M97.3 223.5h1M101.3 236.5h1M116.8 245.4h1M118.1 237.0h1M106.9 230.0h1M111.9 230.2h1M120.8 228.8h1M117.2 225.0h1M108.0 236.3h1M110.6 236.7h1M110.2 226.6h1M115.5 232.9h1M108.2 218.3h1M107.8 246.4h1M109.7 240.5h1M105.7 234.9h1M103.4 240.2h1M100.3 221.8h1M102.4 227.6h1M96.8 213.3h1M112.8 245.6h1M106.8 211.5h1M94.7 250.2h1M117.0 256.6h1M102.4 228.3h1M101.7 232.2h1M108.1 232.7h1M114.1 246.0h1M115.5 241.3h1M109.4 227.9h1M105.5 241.9h1M119.7 224.5h1M105.2 257.5h1M95.1 206.2h1M106.5 222.3h1M105.0 239.6h1M114.4 234.9h1M119.4 226.7h1M112.4 234.8h1M121.7 252.6h1M117.6 255.1h1M116.4 226.7h1M117.3 226.1h1M106.0 233.5h1M99.6 243.7h1M118.5 248.7h1M111.0 227.8h1M109.8 215.6h1M117.1 227.1h1M111.7 246.3h1M101.5 224.2h1M110.7 214.0h1M113.5 240.1h1M113.6 213.0h1M107.5 229.7h1M121.7 222.7h1M101.5 245.6h1M122.4 242.9h1M108.3 229.9h1M103.1 209.8h1M109.6 224.4h1M95.9 239.1h1M121.8 219.2h1M119.8 225.9h1M116.6 227.2h1M110.3 251.5h1M122.5 248.9h1M95.5 232.5h1M111.8 236.5h1M106.7 225.5h1M119.3 260.4h1M94.5 251.2h1M103.6 231.7h1M112.3 229.2h1M122.7 223.1h1M108.5 220.9h1M109.7 234.8h1M111.9 231.4h1M98.3 212.8h1M116.8 212.1h1M126.4 204.1h1M95.0 221.4h1M111.1 235.8h1M119.9 220.7h1M116.0 239.1h1M116.0 233.2h1M107.0 250.8h1M124.0 236.9h1M118.3 246.4h1M116.8 230.8h1M108.7 229.7h1M102.0 243.9h1M104.8 214.1h1M119.5 239.2h1M122.2 230.0h1M97.3 228.6h1M110.0 228.6h1M114.4 220.7h1M101.9 234.9h1M109.2 232.6h1M108.0 227.2h1M114.1 242.2h1M97.2 223.8h1M106.3 240.6h1M112.5 239.7h1M108.3 226.4h1M118.9 221.3h1M100.8 259.5h1M102.2 223.6h1M105.6 232.2h1M111.2 239.8h1M100.0 251.2h1M113.0 243.9h1M119.4 243.2h1M119.9 235.1h1M99.3 253.1h1M97.5 258.7h1M97.9 230.2h1M117.4 238.2h1M111.9 238.9h1M113.5 250.3h1M121.8 251.4h1M116.3 241.4h1M114.8 233.8h1M102.0 229.2h1M114.2 238.5h1M112.5 233.0h1M106.8 219.6h1M115.2 251.4h1M114.2 243.0h1M100.4 249.5h1M112.4 227.4h1M116.1 224.8h1M103.4 239.9h1M110.7 233.7h1M97.1 230.3h1M114.9 244.3h1M119.8 220.7h1M111.7 241.9h1M116.6 254.2h1M100.4 236.9h1M101.5 230.7h1M101.5 228.4h1M118.6 228.4h1M123.9 220.6h1M112.6 216.5h1M103.7 220.5h1M116.4 229.8h1M99.7 233.6h1M107.9 229.3h1M115.8 227.5h1M110.6 233.0h1M110.3 236.8h1M116.1 219.9h1M110.3 255.5h1M102.8 226.2h1M118.6 243.7h1M115.6 224.1h1M114.5 227.2h1M112.7 222.5h1M113.5 250.4h1M112.0 228.0h1M107.2 252.5h1M99.1 229.5h1M110.2 229.6h1M106.2 255.1h1M114.6 250.1h1M104.0 239.4h1M108.4 240.2h1M114.0 228.6h1M99.7 229.6h1M104.4 234.8h1M118.4 258.1h1M102.4 248.8h1M107.7 218.2h1M103.0 224.7h1M108.4 217.1h1M121.5 218.0h1M100.7 246.1h1M115.6 230.5h1M110.6 224.6h1M106.0 214.2h1M94.6 238.1h1M101.3 204.9h1M107.0 191.3h1M101.6 236.7h1M104.1 217.4h1M126.8 234.5h1M115.1 223.7h1M108.1 248.5h1M112.3 229.4h1M109.3 236.8h1M113.2 226.5h1M102.4 218.1h1M112.9 229.1h1M114.2 213.2h1M86.0 207.2h1M103.6 220.2h1M96.5 232.0h1M107.5 213.3h1M116.5 225.8h1M105.5 222.3h1M105.8 233.5h1M89.2 234.8h1M115.0 228.8h1M131.1 227.7h1M112.8 233.1h1M115.6 206.6h1M94.7 211.8h1M120.2 230.7h1M86.1 238.5h1M120.8 236.0h1M95.1 227.4h1M115.5 240.3h1M101.2 245.5h1M117.1 222.4h1M102.8 221.6h1M109.2 208.1h1M113.0 235.8h1M114.6 229.9h1M134.6 229.2h1M106.0 239.2h1M109.5 227.1h1M126.3 252.8h1M100.2 242.7h1M104.2 246.7h1M102.5 258.7h1M102.1 218.7h1M107.5 231.4h1M108.2 244.7h1M118.6 216.3h1M114.0 220.7h1M98.9 213.2h1M107.0 234.6h1M107.5 227.3h1M101.2 197.1h1M116.4 252.3h1M98.2 212.1h1M116.6 234.0h1M117.4 239.3h1M97.2 221.2h1M106.7 240.3h1M103.3 199.3h1M120.5 217.0h1M103.9 216.6h1M99.4 235.3h1M109.8 226.5h1M112.5 214.7h1M98.8 243.3h1M106.1 216.0h1M97.1 217.8h1M88.2 235.9h1M104.8 242.9h1M112.3 222.6h1M98.9 222.7h1M82.3 237.6h1M105.6 217.5h1M125.5 216.5h1M122.2 236.6h1M105.6 225.3h1M123.5 191.8h1M116.6 215.6h1M118.2 228.7h1M96.1 221.8h1M95.9 193.2h1M94.0 218.7h1M89.8 211.9h1M114.7 247.8h1M118.9 250.2h1M104.9 235.9h1M95.2 223.2h1M80.4 212.7h1M107.6 236.4h1M96.7 243.7h1M115.5 231.6h1M104.5 227.6h1M109.6 243.9h1M99.7 221.0h1M96.0 231.9h1M110.0 214.8h1M121.4 241.4h1M115.2 234.2h1M121.9 247.5h1M112.7 216.7h1M102.0 214.8h1M112.1 229.3h1M106.6 216.6h1M105.9 239.3h1M98.2 224.8h1M112.7 216.8h1M104.6 230.5h1M113.0 241.7h1M104.9 236.7h1M113.6 228.2h1M90.7 203.7h1M101.9 215.0h1M114.3 217.9h1M110.0 222.3h1M86.3 221.3h1M100.5 235.6h1M104.8 229.0h1M98.8 225.2h1M109.7 217.0h1M126.8 234.4h1M121.7 246.2h1M97.8 218.8h1M112.8 237.7h1M107.0 223.7h1M108.2 207.2h1M113.2 212.5h1M120.6 211.6h1M98.9 247.0h1M105.0 237.6h1M109.9 238.9h1M119.3 227.4h1M109.3 229.6h1M104.2 209.2h1M102.3 223.5h1M109.2 223.0h1M115.5 232.5h1M108.2 238.2h1M126.8 209.4h1M109.1 233.8h1M103.9 234.3h1M119.3 236.4h1M115.5 232.8h1M121.2 240.6h1M105.6 230.7h1M106.8 216.1h1M106.3 237.4h1M106.3 239.7h1M112.4 233.4h1M99.8 217.4h1M117.8 235.9h1M101.4 209.4h1M98.2 232.6h1M99.1 249.5h1M94.2 230.4h1M104.4 212.0h1M112.9 235.8h1M106.3 212.8h1M113.9 236.1h1M103.8 193.9h1M108.6 216.9h1M108.6 244.2h1M106.5 236.5h1M123.7 196.9h1M117.6 208.0h1M101.8 222.8h1M103.2 232.8h1M102.5 221.4h1M114.8 217.1h1M86.0 225.4h1M102.1 206.7h1M127.7 232.6h1M106.0 225.7h1M83.4 237.8h1M98.9 235.6h1M86.4 240.5h1M109.4 209.4h1M108.8 233.5h1M104.5 253.1h1M101.6 245.6h1M117.9 212.4h1M91.7 226.9h1M120.0 217.0h1M103.4 201.6h1M116.2 227.9h1M108.9 210.5h1M100.9 224.7h1M113.5 204.5h1M114.8 229.1h1M99.6 232.2h1M111.2 202.5h1M109.9 218.3h1M110.5 235.8h1M108.8 219.4h1M111.5 222.1h1M110.4 236.3h1M115.2 222.5h1M109.3 232.6h1M106.9 222.5h1M122.1 248.1h1M102.2 214.2h1M105.4 197.7h1M123.5 234.4h1M126.1 236.4h1M88.3 211.1h1M116.7 224.4h1M113.1 230.6h1M99.9 205.1h1M113.2 224.9h1M117.5 230.6h1M92.7 216.9h1M103.8 228.2h1M95.0 194.7h1M113.7 206.9h1M111.8 239.1h1M116.3 236.2h1M117.9 205.6h1M102.5 232.3h1M121.5 219.4h1M95.0 220.8h1M122.4 231.0h1M93.7 216.5h1M113.1 238.3h1M114.2 246.2h1M109.8 232.1h1M110.9 238.9h1M108.0 237.5h1M114.7 218.3h1M112.8 225.9h1M109.2 224.1h1M110.1 228.6h1M96.1 213.0h1M108.5 214.6h1M93.4 252.6h1M106.4 207.5h1M115.9 228.2h1M112.0 225.9h1M105.1 230.6h1M94.9 229.9h1M116.6 236.2h1M114.3 226.5h1M118.8 235.9h1M89.8 217.5h1M95.3 218.4h1M124.8 216.1h1M115.9 211.0h1M93.3 211.2h1M105.9 216.5h1M86.8 215.1h1M108.1 219.4h1M96.4 204.0h1M101.2 235.2h1M117.9 254.9h1M106.8 216.4h1M98.1 235.0h1M102.8 219.6h1M95.6 224.0h1M113.5 213.2h1M111.6 220.5h1M112.6 212.3h1M101.6 213.3h1M107.6 217.6h1M96.0 222.6h1M116.1 234.8h1M108.1 221.5h1M119.5 211.7h1M129.9 237.1h1M111.4 230.1h1M123.9 205.9h1M100.1 226.3h1M105.6 234.7h1M111.1 213.5h1M97.0 246.3h1M100.2 209.0h1M100.3 218.7h1M113.1 223.0h1M93.9 246.2h1M121.9 225.6h1M92.6 230.7h1M111.7 222.9h1M117.0 247.5h1M106.2 223.1h1M110.0 227.8h1M106.4 245.7h1M117.7 241.5h1M96.1 232.6h1M104.8 202.6h1M121.4 205.4h1M97.1 195.6h1M97.3 229.9h1M121.4 238.0h1M110.9 237.2h1M104.7 224.3h1M106.7 213.4h1M120.2 205.1h1M109.8 226.7h1M93.5 207.8h1M111.6 214.1h1M109.3 219.2h1M108.0 218.5h1M106.0 236.4h1M93.6 212.0h1M111.8 230.5h1M114.6 228.2h1M86.6 238.8h1M101.3 223.6h1M96.0 234.6h1M109.4 209.7h1M113.0 238.7h1M113.9 199.2h1M114.7 232.9h1M129.5 234.6h1M124.5 228.1h1M91.6 199.9h1M118.9 232.8h1M109.8 243.4h1M107.3 227.1h1M111.0 225.9h1M103.5 224.8h1M112.3 242.1h1M108.3 230.4h1M113.2 213.2h1M99.1 226.5h1M105.0 212.1h1M102.9 202.7h1M118.2 231.6h1M119.1 194.7h1M107.7 228.5h1M101.4 236.6h1M107.8 230.7h1M107.7 221.3h1M103.8 225.6h1M120.2 223.5h1M101.2 216.5h1M115.8 244.0h1M113.7 230.8h1M114.8 211.2h1M104.1 231.7h1M111.4 250.8h1M103.6 236.7h1M122.6 212.9h1M106.8 233.9h1M111.8 229.7h1M122.0 241.5h1M99.3 215.7h1M100.0 222.2h1M114.9 227.7h1M116.6 233.1h1M102.7 199.1h1M103.4 209.0h1M96.0 220.4h1M125.6 218.3h1M115.1 233.7h1M108.5 213.4h1M125.2 225.0h1M126.3 228.9h1M107.2 225.2h1M103.8 216.1h1M113.6 214.6h1M114.5 210.7h1M91.9 221.3h1M118.2 215.2h1M125.8 241.1h1M107.0 241.2h1M105.6 224.4h1M112.1 224.3h1M119.3 210.2h1M98.6 204.1h1M105.3 221.9h1M98.0 233.0h1M95.2 212.0h1M122.0 216.8h1M110.1 187.9h1M108.4 225.8h1M106.6 233.7h1M105.9 225.4h1M101.4 222.7h1M107.8 237.6h1M101.9 211.0h1M104.6 217.1h1M105.6 241.7h1M104.0 249.0h1M119.0 225.3h1M107.1 226.5h1M100.4 232.4h1M112.6 221.0h1M103.7 231.8h1M96.1 217.5h1M99.2 202.4h1M99.0 232.5h1M119.5 212.9h1M84.5 235.6h1M82.7 218.8h1M87.1 240.5h1M58.0 229.1h1M88.3 228.7h1M70.5 225.0h1M98.6 217.8h1M76.5 239.1h1M91.7 238.0h1M88.5 210.4h1M78.5 231.9h1M85.1 234.5h1M95.9 243.1h1M65.4 222.4h1M76.8 226.0h1M76.1 225.0h1M80.2 237.2h1M82.9 223.7h1M75.4 242.7h1M98.5 212.9h1M94.3 235.8h1M91.4 233.7h1M76.2 222.8h1M90.3 202.1h1M102.2 230.5h1M88.0 224.9h1M88.8 208.8h1M87.4 229.7h1M75.9 210.8h1M85.2 220.1h1M114.1 231.8h1M73.6 240.7h1M65.2 208.7h1M109.3 241.0h1M93.8 244.2h1M104.6 217.7h1M100.5 239.4h1M66.9 239.2h1M79.9 238.2h1M89.3 228.2h1M106.5 239.8h1M101.8 214.4h1M93.1 239.3h1M97.5 231.4h1M68.1 258.1h1M78.6 195.2h1M89.7 228.6h1M77.2 250.5h1M82.8 214.4h1M77.1 232.7h1M83.3 221.3h1M98.5 234.3h1M87.1 224.3h1M113.3 219.3h1M82.4 229.1h1M79.3 229.7h1M76.2 221.9h1M90.2 217.0h1M73.8 228.6h1M75.0 233.5h1M77.8 220.3h1M97.2 220.0h1M95.3 220.0h1M81.4 208.1h1M90.0 236.8h1M83.3 233.5h1M58.8 223.5h1M85.5 255.0h1M86.0 213.9h1M89.2 221.7h1M86.7 219.2h1M93.0 235.3h1M95.2 220.8h1M93.2 221.9h1M82.4 215.1h1M94.4 239.7h1M90.7 228.7h1M110.2 222.4h1M112.1 219.6h1M95.7 202.7h1M92.0 222.3h1M72.4 242.2h1M90.1 225.2h1M91.2 222.4h1M100.8 208.5h1M75.4 211.3h1M88.5 232.2h1M95.8 227.7h1M89.6 226.7h1M93.0 243.7h1M74.9 232.7h1M80.1 245.4h1M82.9 228.1h1M84.2 250.6h1M88.2 240.4h1M86.8 225.6h1M79.9 221.3h1M96.5 227.5h1M99.2 192.6h1M78.0 220.2h1M72.5 218.8h1M82.1 240.8h1M78.9 228.2h1M96.9 220.7h1M88.9 222.2h1M84.4 221.1h1M99.0 213.5h1M77.9 228.2h1M84.8 218.6h1M105.3 216.0h1M94.0 221.8h1M72.9 230.8h1M93.3 222.6h1M71.7 218.9h1M82.0 237.5h1M77.4 259.2h1M55.5 240.5h1M98.9 211.8h1M69.9 213.3h1M84.7 232.6h1M79.8 233.8h1M76.5 226.6h1M91.6 241.7h1M108.3 226.4h1M67.1 225.7h1M74.7 232.1h1M105.3 231.5h1M78.1 245.8h1M78.4 226.2h1M83.5 204.5h1M110.1 235.4h1M92.4 208.8h1M93.4 227.7h1M87.6 247.6h1M93.3 235.9h1M81.5 222.9h1M86.7 235.0h1M100.5 232.2h1M58.3 225.1h1M92.8 217.6h1M103.4 220.4h1M86.1 229.7h1M76.2 221.3h1M85.3 220.0h1M84.0 225.0h1M72.1 235.9h1M82.9 215.3h1M89.2 215.2h1M91.3 187.6h1M109.9 229.9h1M82.3 215.9h1M99.2 243.1h1M87.5 231.6h1M84.3 222.4h1M99.8 234.9h1M94.8 200.2h1M81.1 226.1h1M93.5 212.2h1M75.7 227.5h1M91.2 230.3h1M83.3 213.0h1M93.9 260.6h1M79.8 218.1h1M92.0 206.7h1M91.2 238.3h1M104.3 235.5h1M93.2 230.8h1M78.0 231.3h1M105.1 216.6h1M79.2 217.8h1M110.2 234.6h1M101.6 235.8h1M85.9 215.0h1M89.8 215.1h1M98.5 234.5h1M89.1 225.8h1M69.8 231.6h1M76.2 213.3h1M100.2 225.6h1M83.6 218.1h1M69.2 227.6h1M85.3 221.5h1M71.1 238.7h1M68.1 222.7h1M82.9 227.6h1M80.1 208.4h1M90.5 231.0h1M86.3 214.7h1M77.1 231.9h1M89.0 230.9h1M65.1 236.0h1M87.7 228.5h1M80.6 203.4h1M79.3 223.2h1M75.4 221.6h1M88.6 232.9h1M89.2 225.8h1M95.3 247.5h1M74.8 242.4h1M94.7 229.9h1M84.5 234.4h1M75.1 232.2h1M97.9 215.9h1M106.2 218.8h1M79.4 234.5h1M78.4 234.7h1M89.6 205.7h1M80.4 201.7h1M81.1 238.8h1M94.4 243.7h1M67.8 222.0h1M77.1 210.0h1M75.1 226.1h1M71.7 234.6h1M81.7 224.2h1M83.5 214.8h1M71.8 211.7h1M75.7 240.2h1M80.1 239.5h1M104.9 215.7h1M78.8 225.6h1M89.9 203.7h1M86.6 245.9h1M97.3 224.0h1M78.6 222.9h1M76.2 224.6h1M80.9 232.7h1M84.9 255.7h1M66.2 232.3h1M85.9 224.8h1M80.5 224.0h1M87.2 213.4h1M87.8 217.3h1M104.6 225.0h1M111.4 236.4h1M82.1 222.9h1M77.6 214.4h1M85.9 220.7h1M84.4 193.7h1M86.5 217.6h1M103.8 243.6h1M71.3 238.7h1M76.7 236.8h1M69.2 242.8h1M86.8 214.8h1M101.4 225.3h1M94.9 240.4h1M87.6 227.5h1M88.3 221.9h1M72.4 245.0h1M78.3 215.2h1M109.6 197.9h1M99.3 236.5h1M106.6 208.4h1M93.2 223.6h1M79.7 234.3h1M83.7 242.5h1M97.4 204.2h1M84.1 218.7h1M99.0 208.3h1M87.3 231.4h1M95.8 211.5h1M76.2 216.3h1M96.6 244.1h1M87.0 205.9h1M83.3 209.1h1M104.7 210.1h1M91.7 237.7h1M81.1 227.3h1M98.5 230.1h1M102.1 230.1h1M57.2 231.1h1M68.9 233.6h1M79.6 215.5h1M79.2 203.9h1M78.6 221.7h1M83.6 233.0h1M105.4 242.7h1M87.9 215.6h1M86.8 226.7h1M79.6 216.0h1M88.5 244.2h1M66.6 228.7h1M96.4 212.4h1M79.0 241.3h1M89.4 206.9h1M70.4 225.7h1M88.0 199.3h1M74.2 238.1h1M79.8 235.3h1M82.8 212.8h1M93.8 211.2h1M106.9 219.8h1M101.3 205.1h1M99.1 216.0h1M85.4 204.0h1M110.4 219.0h1M77.1 239.3h1M88.5 208.4h1M87.9 202.8h1M77.1 230.4h1M66.3 212.5h1M90.6 229.9h1M88.9 227.2h1M84.7 220.5h1M94.2 233.8h1M102.9 219.8h1M106.2 237.4h1M76.3 226.4h1M92.7 217.8h1M89.6 217.0h1M101.7 226.1h1M89.3 214.2h1M99.5 222.2h1M88.6 216.9h1M94.4 207.9h1M98.3 225.6h1M100.7 231.3h1M99.9 218.1h1M111.7 207.3h1M87.1 209.1h1M89.9 232.1h1M76.1 225.0h1M88.5 216.7h1M84.1 237.3h1M77.5 216.3h1M103.4 217.9h1M83.0 234.1h1M96.2 216.5h1M55.9 213.0h1M87.8 223.1h1M88.4 225.4h1M77.1 227.3h1M89.9 204.3h1M73.1 223.3h1M106.4 234.2h1M84.6 235.1h1M65.7 223.9h1M96.3 205.2h1M94.8 201.6h1M83.4 225.1h1M86.9 212.2h1M69.8 226.1h1M90.2 194.9h1M70.6 234.4h1M73.5 233.6h1M88.8 224.7h1M83.1 210.2h1M91.4 219.7h1M80.3 217.5h1M75.1 225.7h1M110.5 216.4h1M71.9 218.5h1M84.5 232.4h1M101.6 234.7h1M96.3 236.7h1M82.6 227.9h1M93.3 208.6h1M109.0 200.9h1M98.7 204.3h1M80.7 221.6h1M94.6 230.4h1M104.9 221.1h1M81.7 214.9h1M96.9 255.2h1M80.5 243.7h1M78.1 228.4h1M89.0 209.0h1M76.2 227.7h1M70.3 235.9h1M95.9 222.3h1M98.6 219.5h1M80.4 227.2h1M75.5 224.0h1M92.5 242.0h1M92.1 222.6h1M67.7 242.1h1M77.1 232.0h1M89.9 258.9h1M81.7 225.7h1M59.1 221.3h1M97.3 226.1h1M89.7 224.5h1M70.0 239.5h1M77.3 240.6h1M82.1 220.2h1M77.1 203.6h1M96.3 241.0h1M80.3 232.5h1M80.5 213.8h1M102.5 229.8h1M80.4 215.2h1M80.8 234.6h1M107.2 220.1h1M101.6 230.0h1M110.1 236.5h1M95.4 229.0h1M97.3 221.0h1M74.4 247.5h1M110.3 214.0h1M89.0 245.9h1M78.4 247.5h1M79.4 252.2h1M100.3 222.7h1M91.3 211.3h1M86.5 248.6h1M87.7 234.8h1M92.5 248.7h1M97.2 243.7h1M90.5 210.4h1M76.3 227.9h1M64.1 232.0h1M85.9 237.2h1M89.9 223.5h1M94.5 217.0h1M87.5 225.0h1M78.6 244.3h1M109.8 227.9h1M97.5 247.3h1M95.7 232.7h1M86.4 228.9h1M97.6 230.9h1M86.5 232.7h1M100.7 229.1h1M83.0 208.1h1M98.4 204.3h1M89.2 212.5h1M80.2 224.0h1M63.8 237.0h1M96.4 243.0h1M81.6 222.9h1M97.7 226.7h1M90.7 230.7h1M66.0 232.2h1M99.0 199.3h1M60.5 224.9h1M92.4 247.3h1M116.6 223.4h1M126.2 216.4h1M82.4 202.0h1M97.3 210.4h1M80.3 213.3h1M75.8 211.0h1M115.3 223.7h1M76.0 213.0h1M84.9 220.1h1M89.0 235.4h1M95.3 220.0h1M105.2 221.7h1M93.8 224.2h1M72.2 206.2h1M76.1 242.3h1M96.3 227.6h1M75.9 215.5h1M94.9 211.8h1M80.8 219.1h1M81.1 219.9h1M80.1 235.4h1M83.7 230.2h1M87.1 223.8h1M77.6 221.1h1M97.6 230.1h1M94.8 241.0h1M96.9 233.8h1M74.1 236.8h1M71.3 215.2h1M76.9 243.9h1M87.7 185.9h1M94.1 240.5h1M88.3 216.2h1M63.0 246.7h1M111.5 224.6h1M74.2 241.0h1M82.3 211.9h1M66.5 231.3h1M87.8 208.6h1M83.4 225.3h1M110.1 235.8h1M97.1 231.3h1M94.3 184.7h1M105.7 213.7h1M111.9 221.9h1M92.8 216.4h1M82.7 227.9h1M88.9 234.7h1M100.4 231.5h1M89.4 223.2h1M102.1 221.6h1M81.6 247.8h1M77.9 219.6h1M75.8 222.1h1M78.6 218.7h1M72.0 230.6h1M95.3 219.0h1M90.6 228.6h1M87.7 219.6h1M98.5 225.7h1M60.6 238.6h1M96.8 238.1h1M75.3 204.3h1M91.2 225.9h1M88.1 225.7h1M101.5 225.6h1M62.2 229.9h1M77.5 209.9h1M100.8 203.6h1M95.2 233.6h1M73.1 223.3h1M84.4 213.2h1M97.0 222.9h1M93.2 219.8h1M73.0 222.3h1M56.7 225.8h1M87.3 236.7h1M84.5 204.2h1M86.3 220.4h1M84.5 218.3h1M95.2 241.0h1M73.9 222.8h1M102.3 220.8h1M103.3 241.7h1M91.3 216.3h1M92.7 215.9h1M89.9 237.2h1M77.4 240.4h1M77.7 223.8h1M79.6 215.9h1M86.2 212.5h1M82.4 225.9h1M99.6 239.9h1M72.6 234.6h1M113.7 243.4h1M94.4 234.0h1M87.5 213.8h1M99.0 232.4h1M90.6 219.2h1M78.8 215.0h1M69.2 227.4h1M97.8 206.4h1M92.9 210.8h1M93.2 207.1h1M75.5 239.0h1M89.4 213.9h1M80.8 220.0h1M83.9 241.4h1M104.2 217.5h1M94.1 218.9h1M80.2 218.8h1M94.2 223.3h1M98.5 222.1h1M66.0 221.5h1M85.2 228.1h1M71.6 238.1h1M73.2 239.9h1M70.2 234.0h1M84.8 221.2h1M86.4 222.4h1M64.7 232.7h1M84.0 226.1h1M79.8 245.2h1M85.1 208.9h1M81.8 217.2h1M70.3 224.2h1M101.2 211.5h1M93.5 212.6h1M81.3 236.6h1M115.1 234.1h1M82.3 230.9h1M69.5 232.2h1M103.5 222.1h1M70.9 218.2h1M100.8 245.8h1M74.1 238.5h1M71.3 230.2h1M82.6 215.3h1M83.2 224.6h1M83.0 229.4h1M69.7 243.7h1M102.9 209.7h1M75.1 244.6h1M77.4 227.4h1M92.0 238.0h1M76.4 225.0h1M86.1 216.7h1M90.8 233.6h1M91.1 229.8h1M98.7 237.6h1M89.7 226.8h1M87.5 235.8h1M59.3 231.0h1M99.5 210.6h1M102.8 234.0h1M84.7 239.6h1M72.5 231.2h1M97.7 214.4h1M73.0 229.6h1M99.9 227.6h1M79.0 196.7h1M66.3 233.6h1M88.5 208.9h1M44.3 207.6h1M76.2 248.3h1M100.1 212.6h1M83.2 224.6h1M98.2 224.6h1M87.8 213.2h1M109.3 234.8h1M100.0 226.9h1M81.8 224.9h1M107.5 207.8h1M80.0 221.8h1M104.7 232.0h1M63.3 215.6h1M83.1 233.2h1M77.2 229.7h1M104.6 224.6h1M77.1 238.1h1M87.0 230.6h1M90.9 229.5h1M79.5 237.5h1M65.7 235.3h1M72.2 230.4h1M98.3 233.0h1M90.1 241.7h1M81.1 228.1h1M70.4 233.2h1M112.2 209.4h1M97.9 225.9h1M65.5 234.7h1M80.1 212.2h1M94.8 215.4h1M73.3 227.0h1M100.8 219.1h1M84.2 201.4h1M98.4 214.8h1M100.3 234.0h1M72.1 233.0h1M97.4 224.0h1M82.8 207.8h1M90.3 223.2h1M83.8 208.0h1M82.2 228.3h1M104.0 212.6h1M64.5 228.1h1M64.7 204.4h1M91.8 238.9h1M77.6 205.3h1M88.3 240.6h1M69.3 232.8h1M68.0 227.9h1M54.8 208.3h1M98.6 221.0h1M84.8 231.8h1M81.7 225.1h1M93.4 229.9h1M91.4 220.7h1M102.2 212.0h1M82.8 249.6h1M73.4 221.8h1M88.2 225.8h1M75.3 215.3h1M87.2 232.0h1M105.9 216.1h1M109.0 228.0h1M101.8 224.8h1M99.2 223.8h1M64.4 221.7h1M82.6 236.8h1M97.4 212.7h1M92.1 241.5h1M98.6 218.8h1M71.5 211.1h1M101.2 218.7h1M85.5 227.2h1M86.8 232.5h1M84.2 224.3h1M83.9 208.0h1M82.3 220.4h1M112.2 234.6h1M99.6 231.9h1M97.5 216.7h1M97.9 239.8h1M95.0 228.9h1M68.3 242.3h1M92.9 210.0h1M83.9 232.6h1M84.3 211.9h1M91.7 230.6h1M78.3 244.1h1M74.6 249.6h1M102.4 231.5h1M64.2 244.9h1M83.9 229.6h1M86.0 244.2h1M83.7 226.6h1M71.1 231.5h1M64.4 239.3h1M78.6 232.7h1M65.8 238.9h1M89.2 218.0h1M77.9 219.0h1M82.0 231.3h1M86.6 237.0h1M70.6 233.3h1M99.0 230.6h1M70.9 244.5h1M81.1 229.4h1M85.3 224.2h1M89.0 220.1h1M98.4 223.6h1M71.4 245.7h1M71.3 209.8h1M64.5 230.7h1M96.2 222.7h1M75.4 214.3h1M87.7 224.9h1M93.3 228.1h1M85.0 220.2h1M66.1 201.7h1M97.8 224.5h1M81.7 216.6h1M84.3 220.7h1M93.5 233.8h1M91.1 221.1h1M87.7 225.5h1M81.8 223.6h1M88.1 216.9h1M89.1 228.9h1M85.3 228.6h1M102.9 218.0h1M84.0 220.9h1M78.5 233.5h1M96.4 234.6h1M84.9 244.1h1M85.3 228.7h1M100.6 225.0h1M85.3 216.1h1M84.3 224.4h1M91.2 209.1h1M99.5 216.6h1M80.9 232.1h1M82.5 213.0h1M96.9 214.4h1M93.2 213.6h1M85.3 236.9h1M92.7 220.7h1M78.3 247.0h1M83.3 206.3h1M69.4 236.6h1M92.0 223.1h1M73.9 239.8h1M94.1 226.7h1M79.3 221.7h1M84.3 240.0h1M88.8 224.7h1M94.8 228.7h1M97.1 230.7h1M80.5 246.6h1M90.2 214.2h1M87.4 214.6h1M86.4 219.3h1M64.0 255.6h1M79.1 243.3h1M96.5 242.1h1M48.8 244.4h1M73.9 242.5h1M69.9 223.1h1M72.9 227.1h1M94.9 227.7h1M86.9 192.1h1M55.8 230.7h1M85.4 220.6h1M98.8 221.5h1M75.9 225.8h1M97.4 202.9h1M68.6 227.1h1M92.0 225.1h1M83.0 207.6h1M81.6 216.1h1M76.1 211.9h1M74.6 230.6h1M70.2 206.9h1M84.6 216.9h1M91.5 230.7h1M108.8 223.1h1M104.2 225.3h1M67.9 232.8h1M85.1 226.4h1M102.8 220.2h1M96.3 222.8h1M79.6 249.9h1M88.8 222.6h1M60.8 223.4h1M98.6 227.6h1M60.1 223.4h1M83.5 217.7h1M102.3 219.6h1M68.4 203.1h1M100.7 209.7h1M86.1 263.1h1M75.3 262.5h1M57.0 262.4h1M131.4 262.3h1M105.4 262.5h1M77.6 262.7h1M68.3 263.2h1M82.7 262.9h1M96.4 262.1h1M137.8 262.9h1M42.8 262.5h1M47.4 263.1h1M132.0 262.4h1M137.8 262.4h1M125.2 262.1h1M53.0 262.4h1M67.8 263.1h1M126.5 262.6h1M106.1 262.4h1M51.7 262.8h1M66.8 262.6h1M112.7 262.3h1M44.3 263.2h1M117.8 262.5h1M80.4 262.0h1M52.3 262.2h1M53.1 262.3h1M117.0 262.5h1M109.5 262.4h1M107.2 263.0h1M71.1 262.1h1M95.7 262.1h1M80.8 262.3h1M102.0 262.8h1M97.4 262.0h1M122.5 262.9h1M129.0 262.4h1M50.8 262.7h1M87.2 263.1h1M52.3 263.1h1M131.7 262.2h1M111.5 262.4h1M66.5 263.1h1M98.3 262.4h1M107.3 262.3h1M128.6 262.2h1M44.7 262.0h1M86.1 262.9h1M61.3 262.3h1M112.8 263.1h1M60.5 262.2h1M69.2 262.6h1M83.2 262.3h1M54.6 262.9h1M53.5 262.5h1M74.7 263.1h1M118.2 262.5h1M62.1 262.6h1M79.3 263.0h1M105.7 262.1h1M72.7 262.0h1M95.4 262.8h1M111.9 262.1h1M60.8 262.2h1M95.8 263.1h1M124.3 262.9h1M112.4 262.4h1M47.4 262.1h1M79.6 262.9h1M84.2 262.2h1M76.9 263.1h1M132.5 263.1h1M53.4 262.3h1M118.9 262.7h1M63.7 262.8h1M133.8 262.9h1M51.1 262.8h1M125.8 262.5h1M62.9 262.8h1M87.1 262.9h1M135.4 262.8h1M118.1 234.7h1M99.2 249.7h1M115.5 235.6h1M42.8 225.9h1M96.1 214.4h1M103.7 259.7h1M119.0 211.3h1M112.8 242.4h1M100.0 231.6h1M84.1 214.1h1M108.5 242.2h1M65.6 251.8h1M46.1 239.6h1M108.1 212.5h1M100.4 216.5h1M95.0 255.4h1M67.9 243.0h1M100.1 254.8h1M124.6 211.8h1M95.9 207.4h1M72.9 247.7h1M122.9 245.7h1M126.3 206.6h1M53.2 206.5h1M89.5 260.1h1M49.0 210.9h1M79.9 258.9h1M111.7 236.7h1M66.3 214.6h1M79.2 242.9h1M55.5 260.6h1M123.2 248.6h1M116.6 255.0h1M52.6 223.8h1M85.9 229.9h1M95.9 220.3h1M42.9 243.9h1M63.0 212.2h1M64.0 234.2h1M92.1 237.8h1M97.5 233.0h1M89.6 210.9h1M118.4 208.5h1M98.0 224.8h1M43.1 245.4h1M107.5 242.3h1M86.0 238.6h1M54.6 217.1h1M63.3 208.4h1M100.9 214.9h1M94.6 212.1h1M57.1 244.9h1M70.6 206.9h1M113.4 258.9h1M125.0 205.4h1M107.3 212.4h1M82.4 218.3h1M85.4 228.8h1M114.2 215.1h1M93.5 211.6h1M119.5 226.1h1M75.4 223.7h1M118.9 246.3h1M118.8 250.4h1M50.3 248.8h1M56.8 227.7h1M56.9 239.6h1M57.0 221.3h1M125.3 234.9h1M87.0 259.5h1M73.0 233.9h1M120.4 251.0h1M114.2 236.7h1M51.8 222.7h1M77.8 207.4h1M56.8 239.4h1M114.1 230.3h1M90.3 244.7h1M96.6 252.1h1M46.3 254.1h1M85.6 233.6h1M113.3 222.7h1M86.1 235.7h1M57.5 233.5h1M93.5 241.0h1M44.0 217.6h1M84.6 240.8h1M70.4 220.4h1M45.3 230.3h1M116.9 205.2h1M119.4 207.2h1M90.9 232.2h1M60.2 215.6h1M57.0 242.7h1M98.1 253.5h1M68.6 216.1h1M85.7 261.0h1M115.0 258.6h1M97.5 259.8h1M89.1 256.8h1M77.6 208.0h1M53.1 250.5h1M80.3 231.4h1M100.9 229.1h1M111.1 247.5h1M80.3 232.6h1M88.6 237.3h1M77.3 208.3h1M94.4 262.9h1M116.1 230.6h1M66.8 241.4h1M60.2 217.1h1M98.1 233.1h1M124.7 211.2h1M97.7 254.7h1M89.2 232.1h1M82.2 215.5h1M92.5 257.4h1M50.1 239.0h1M52.2 235.7h1M42.2 236.1h1M58.2 243.8h1M115.9 260.2h1M58.3 217.6h1M82.0 240.4h1M47.6 231.5h1M112.6 262.4h1M86.0 216.4h1M64.7 262.4h1M93.8 214.2h1M127.9 246.5h1M50.3 228.0h1M46.7 227.0h1M126.5 241.0h1M88.0 256.9h1M51.5 233.5h1M81.3 221.5h1M120.3 231.9h1M124.9 227.6h1M53.9 252.3h1M56.9 252.2h1M80.1 225.7h1M95.8 259.5h1M116.2 251.2h1M88.5 228.5h1M47.7 217.6h1M52.4 232.5h1M112.0 207.2h1M47.5 226.6h1M110.4 218.6h1M110.9 260.5h1M86.3 236.5h1M66.7 221.7h1M116.8 258.7h1M126.1 209.1h1M50.3 256.3h1M126.9 245.0h1M67.7 245.5h1M43.0 221.9h1M89.0 257.0h1M46.6 238.5h1M96.2 226.4h1M109.3 235.6h1M69.4 261.1h1M87.1 218.3h1M97.9 220.3h1M89.8 207.4h1M45.6 222.5h1M127.8 208.6h1M119.8 225.0h1M44.6 238.4h1M118.6 222.4h1M76.0 215.9h1M48.5 217.4h1M85.2 256.3h1M123.7 233.2h1M57.4 208.7h1M108.0 260.0h1M70.3 206.3h1M89.4 260.2h1M113.5 251.6h1M80.0 246.0h1M103.2 222.5h1M50.4 262.5h1M90.2 209.1h1M55.1 215.4h1M104.7 229.3h1M111.6 236.9h1M113.1 210.2h1M69.8 230.0h1M71.7 222.5h1M52.0 236.0h1M83.6 242.8h1M43.4 208.0h1M43.1 215.3h1M60.3 254.1h1M111.4 227.2h1M50.9 255.5h1M77.1 260.3h1M85.2 221.4h1M78.8 207.2h1M57.8 243.5h1M81.3 215.3h1M123.0 217.3h1M77.1 253.5h1M71.5 232.7h1M73.0 259.0h1M92.3 234.6h1M125.4 213.9h1M67.4 233.7h1M52.8 261.0h1M114.5 212.0h1M117.9 208.4h1M67.8 244.1h1M81.3 262.2h1M43.1 251.2h1M44.2 259.0h1M43.0 260.9h1M43.9 245.2h1M43.8 251.5h1M43.2 237.7h1M43.2 248.5h1M42.8 235.7h1M43.8 261.3h1M42.1 247.6h1M43.4 243.6h1M43.9 238.5h1M44.4 237.7h1M44.0 249.9h1M43.4 239.6h1M43.8 235.5h1M42.8 244.4h1M43.2 246.0h1M42.4 259.6h1M43.5 249.2h1M42.1 238.5h1M43.0 256.7h1M43.9 249.4h1M43.1 259.8h1M42.3 259.3h1M44.1 255.2h1M43.1 248.0h1M42.1 250.9h1M44.5 250.4h1M43.6 237.1h1M43.9 240.6h1M44.0 229.8h1M44.2 251.6h1M44.1 261.5h1M44.2 253.9h1M42.3 254.4h1M43.5 250.2h1M43.7 248.9h1M43.1 234.8h1M42.7 239.6h1M43.0 240.0h1" stroke="#000" stroke-width="1.0" stroke-opacity="0.7" fill="none"/>
<ellipse cx="58" cy="246" rx="9" ry="7.5" fill="#c0c0c0" opacity="0.9" filter="url(#bl)" transform="rotate(0 58 246)"/>
<ellipse cx="101" cy="203.5" rx="20" ry="4.8" fill="#c8c8c8" opacity="0.95" filter="url(#bl)" transform="rotate(0 101 203.5)"/>
<ellipse cx="112" cy="203.7" rx="9" ry="2.4" fill="#fff" opacity="1" filter="url(#bl)" transform="rotate(0 112 203.7)"/>
</g>
<path d="M41 216.7H94.5V264.2" fill="none" stroke="#111" stroke-width="1.4"/>
<text transform="translate(39.8,276.2) scale(0.72,1)" font-size="6.6" text-anchor="middle" class="ss" font-style="italic" fill="#222">10<tspan font-size="4.4" dy="-2.6">0</tspan></text>
<text transform="translate(36.5,270.1) scale(0.72,1)" font-size="6.6" text-anchor="end" class="ss" font-style="italic" fill="#222">10<tspan font-size="4.4" dy="-2.6">0</tspan></text>
<text transform="translate(64.8,276.2) scale(0.72,1)" font-size="6.6" text-anchor="middle" class="ss" font-style="italic" fill="#222">10<tspan font-size="4.4" dy="-2.6">1</tspan></text>
<text transform="translate(36.5,247.7) scale(0.72,1)" font-size="6.6" text-anchor="end" class="ss" font-style="italic" fill="#222">10<tspan font-size="4.4" dy="-2.6">1</tspan></text>
<text transform="translate(89.7,276.2) scale(0.72,1)" font-size="6.6" text-anchor="middle" class="ss" font-style="italic" fill="#222">10<tspan font-size="4.4" dy="-2.6">2</tspan></text>
<text transform="translate(36.5,225.2) scale(0.72,1)" font-size="6.6" text-anchor="end" class="ss" font-style="italic" fill="#222">10<tspan font-size="4.4" dy="-2.6">2</tspan></text>
<text transform="translate(114.7,276.2) scale(0.72,1)" font-size="6.6" text-anchor="middle" class="ss" font-style="italic" fill="#222">10<tspan font-size="4.4" dy="-2.6">3</tspan></text>
<text transform="translate(36.5,202.8) scale(0.72,1)" font-size="6.6" text-anchor="end" class="ss" font-style="italic" fill="#222">10<tspan font-size="4.4" dy="-2.6">3</tspan></text>
<text transform="translate(139.6,276.2) scale(0.72,1)" font-size="6.6" text-anchor="middle" class="ss" font-style="italic" fill="#222">10<tspan font-size="4.4" dy="-2.6">4</tspan></text>
<text transform="translate(36.5,180.4) scale(0.72,1)" font-size="6.6" text-anchor="end" class="ss" font-style="italic" fill="#222">10<tspan font-size="4.4" dy="-2.6">4</tspan></text>
<text x="45.2" y="213.79999999999998" font-size="12.5" text-anchor="start" class="sf" font-weight="bold" >23%</text>
<rect x="169" y="174.5" width="100.60000000000002" height="89.10000000000002" fill="#fff" stroke="#333" stroke-width="1.3"/>
<clipPath id="cp4"><rect x="169.6" y="175.1" width="99.40000000000002" height="87.90000000000002"/></clipPath>
<g clip-path="url(#cp4)">
<ellipse cx="195" cy="242" rx="23" ry="12" fill="#777" opacity="0.6" filter="url(#bl)" transform="rotate(-35 195 242)"/>
<ellipse cx="233" cy="201.5" rx="27" ry="9" fill="#666" opacity="0.6" filter="url(#bl)" transform="rotate(-8 233 201.5)"/>
<ellipse cx="240" cy="233" rx="15" ry="19" fill="#888" opacity="0.5" filter="url(#bl)" transform="rotate(0 240 233)"/>
<ellipse cx="216" cy="222" rx="12" ry="10" fill="#888" opacity="0.4" filter="url(#bl)" transform="rotate(-40 216 222)"/>
<path d="M182.0 255.9h1M215.0 223.3h1M188.1 254.1h1M203.6 238.9h1M207.4 233.8h1M214.0 232.8h1M195.8 245.0h1M219.4 238.7h1M207.4 255.6h1M186.0 233.2h1M173.9 241.4h1M197.9 235.2h1M191.5 235.3h1M194.4 234.2h1M197.2 248.7h1M198.4 245.7h1M203.7 234.3h1M179.8 232.9h1M189.6 243.6h1M195.8 226.4h1M172.8 254.7h1M195.6 247.2h1M195.4 242.0h1M181.9 237.0h1M194.1 237.5h1M204.5 234.1h1M198.2 249.0h1M189.1 229.5h1M174.4 258.2h1M192.3 237.6h1M178.6 255.6h1M205.8 230.3h1M201.4 236.0h1M192.5 253.3h1M187.9 241.9h1M224.3 225.4h1M197.1 244.5h1M203.5 241.9h1M206.7 241.0h1M207.3 230.6h1M173.9 239.8h1M208.5 215.1h1M198.3 236.7h1M210.0 221.5h1M189.9 260.3h1M195.5 250.6h1M205.0 229.4h1M206.1 221.2h1M208.5 220.9h1M209.5 248.9h1M181.4 241.5h1M176.1 252.9h1M198.6 254.7h1M223.6 232.2h1M204.1 235.8h1M204.5 227.4h1M178.7 253.2h1M186.0 248.5h1M205.8 251.3h1M185.3 261.8h1M191.6 229.4h1M188.1 235.6h1M173.9 246.4h1M178.7 257.6h1M234.6 223.2h1M186.1 238.8h1M186.5 245.4h1M181.4 232.1h1M217.6 221.5h1M199.7 247.8h1M188.2 238.0h1M183.4 228.1h1M207.5 221.2h1M184.4 238.5h1M182.2 245.1h1M195.9 230.5h1M185.6 249.7h1M207.3 239.5h1M193.9 245.6h1M179.5 262.4h1M178.1 230.2h1M198.3 242.1h1M203.7 242.2h1M202.6 242.0h1M195.9 251.5h1M225.5 232.8h1M195.8 244.1h1M184.9 245.5h1M201.3 249.4h1M196.5 250.0h1M175.1 248.8h1M176.0 247.4h1M195.3 240.1h1M181.1 247.8h1M196.2 246.7h1M195.8 250.5h1M201.7 245.7h1M211.7 227.2h1M212.1 227.9h1M187.5 248.0h1M226.4 226.1h1M218.3 225.8h1M196.2 232.4h1M199.3 247.8h1M189.2 248.8h1M175.1 247.8h1M200.5 252.7h1M205.1 241.0h1M184.1 233.8h1M191.2 251.9h1M206.0 223.8h1M170.9 260.1h1M193.2 237.4h1M228.5 223.6h1M201.4 234.8h1M203.8 242.7h1M192.2 238.4h1M190.1 238.5h1M194.6 235.6h1M216.4 240.8h1M210.6 230.8h1M186.1 253.0h1M205.9 236.4h1M184.2 244.6h1M212.6 228.1h1M209.9 236.4h1M191.2 249.1h1M194.4 250.8h1M193.5 240.0h1M187.5 240.6h1M175.2 248.5h1M204.7 238.4h1M192.1 239.5h1M200.4 226.8h1M182.8 236.2h1M203.7 248.5h1M173.5 246.2h1M207.8 227.2h1M207.6 230.8h1M191.5 239.2h1M191.2 236.5h1M197.0 233.9h1M196.7 246.1h1M188.4 232.6h1M199.0 243.1h1M193.0 247.3h1M209.8 228.0h1M196.2 238.8h1M193.0 230.7h1M197.1 246.2h1M214.7 240.6h1M176.6 231.8h1M197.0 236.1h1M203.7 224.4h1M190.1 233.5h1M201.1 251.1h1M211.9 234.3h1M207.6 235.8h1M199.6 251.7h1M209.8 233.1h1M210.4 234.2h1M203.5 220.4h1M182.0 246.2h1M196.0 236.6h1M196.6 234.8h1M212.3 250.6h1M186.0 244.4h1M186.0 254.7h1M182.6 259.3h1M189.2 238.5h1M216.6 223.0h1M214.3 245.3h1M177.1 249.6h1M211.4 234.2h1M203.3 240.5h1M189.3 226.7h1M216.1 233.3h1M210.0 238.6h1M193.6 236.1h1M199.2 236.7h1M199.1 226.2h1M216.5 238.0h1M174.9 238.8h1M194.4 237.0h1M189.8 238.4h1M178.8 258.4h1M177.4 256.8h1M192.3 234.5h1M195.1 243.6h1M203.6 238.1h1M199.5 221.3h1M176.1 236.0h1M185.3 248.2h1M199.8 234.4h1M180.5 258.3h1M198.8 248.8h1M214.4 232.7h1M202.9 245.2h1M214.8 224.7h1M192.2 254.6h1M198.8 230.1h1M205.0 227.8h1M209.2 232.2h1M182.2 250.4h1M192.6 242.0h1M199.7 242.1h1M205.4 238.5h1M195.0 253.7h1M207.0 236.6h1M199.6 238.9h1M182.4 238.8h1M208.0 243.7h1M198.6 233.0h1M199.3 241.2h1M185.6 250.7h1M216.3 220.8h1M181.6 247.5h1M194.3 238.2h1M199.2 234.2h1M199.9 240.6h1M172.8 246.2h1M175.7 243.3h1M204.0 229.7h1M217.4 236.8h1M185.4 238.2h1M193.8 253.0h1M213.7 223.2h1M209.8 241.0h1M202.0 242.2h1M204.3 239.2h1M182.0 261.7h1M210.6 226.3h1M182.4 251.7h1M198.4 244.3h1M196.6 241.1h1M188.1 256.7h1M197.9 249.3h1M193.3 229.9h1M205.1 240.0h1M193.8 243.0h1M189.2 245.2h1M198.8 234.6h1M194.1 250.7h1M181.4 247.9h1M223.2 230.6h1M187.1 241.4h1M181.5 258.5h1M211.7 249.3h1M198.9 245.6h1M200.7 231.3h1M222.2 232.8h1M208.6 225.8h1M192.6 239.6h1M200.9 243.0h1M190.2 231.8h1M209.0 235.7h1M196.6 247.6h1M186.1 246.5h1M211.3 240.0h1M198.7 234.8h1M201.7 237.6h1M196.4 252.5h1M176.6 254.4h1M205.9 210.3h1M217.5 233.8h1M187.6 227.1h1M201.3 234.1h1M198.2 245.9h1M193.0 237.0h1M233.9 230.5h1M196.2 250.6h1M214.2 231.5h1M210.6 240.2h1M203.2 245.7h1M197.0 252.8h1M179.1 250.1h1M217.6 242.0h1M214.6 259.5h1M211.0 234.3h1M206.7 237.5h1M194.2 244.2h1M211.4 230.8h1M211.2 235.5h1M197.3 242.5h1M216.5 232.9h1M191.0 237.7h1M195.2 236.9h1M222.5 222.8h1M188.2 240.5h1M195.4 233.9h1M201.1 220.7h1M182.9 240.1h1M192.7 255.6h1M205.5 217.6h1M214.4 240.3h1M199.5 244.8h1M191.0 238.3h1M191.1 241.1h1M211.0 244.6h1M182.2 251.3h1M214.4 244.3h1M198.3 226.8h1M199.8 234.8h1M192.6 240.3h1M202.5 240.7h1M180.2 247.7h1M205.5 224.1h1M204.0 235.5h1M191.8 249.1h1M195.6 230.6h1M190.4 244.2h1M196.1 251.4h1M194.9 240.9h1M200.5 253.5h1M201.7 231.9h1M203.9 246.7h1M189.0 246.7h1M182.5 251.0h1M191.6 235.9h1M216.8 225.2h1M205.2 250.3h1M189.6 231.2h1M202.0 232.4h1M192.3 248.2h1M211.8 241.3h1M220.0 231.6h1M191.5 257.2h1M211.1 229.3h1M206.1 219.9h1M202.6 227.8h1M173.2 253.4h1M186.0 244.3h1M203.4 226.4h1M181.3 239.0h1M187.5 236.0h1M195.7 245.6h1M188.9 254.7h1M197.5 239.7h1M179.9 232.5h1M205.8 242.8h1M179.5 245.3h1M209.4 229.2h1M205.3 225.5h1M174.3 254.5h1M184.0 246.5h1M179.6 242.2h1M191.9 249.4h1M197.1 248.3h1M179.9 248.5h1M175.1 251.4h1M219.2 225.4h1M197.2 233.2h1M192.2 229.2h1M215.2 204.8h1M204.0 231.1h1M196.2 238.1h1M208.1 229.2h1M198.7 234.3h1M217.5 223.5h1M200.1 243.0h1M211.1 224.7h1M183.7 236.3h1M195.8 244.2h1M218.8 213.5h1M191.7 234.1h1M195.4 239.2h1M205.4 234.5h1M195.3 246.1h1M201.1 232.6h1M206.8 227.4h1M179.6 244.0h1M188.9 251.5h1M202.4 230.0h1M204.0 241.1h1M205.3 232.1h1M190.0 248.3h1M206.3 231.8h1M219.5 223.2h1M208.8 224.2h1M195.0 252.2h1M184.9 245.6h1M201.2 225.9h1M199.0 238.5h1M201.4 220.1h1M187.8 238.6h1M173.1 253.7h1M205.6 246.7h1M191.4 245.6h1M218.7 214.5h1M174.1 250.1h1M197.3 236.2h1M178.4 245.6h1M183.2 246.8h1M213.4 232.5h1M222.0 225.4h1M224.4 242.7h1M198.3 234.1h1M207.6 233.5h1M205.1 256.6h1M201.8 228.0h1M206.6 247.3h1M173.0 248.1h1M195.4 232.3h1M209.5 243.3h1M200.4 242.3h1M193.0 241.9h1M232.5 205.7h1M197.6 235.2h1M197.5 248.1h1M202.8 249.6h1M190.0 246.4h1M211.1 221.8h1M180.9 244.7h1M202.5 249.1h1M196.1 248.6h1M190.0 245.7h1M200.0 231.4h1M204.1 232.2h1M192.5 247.1h1M194.9 231.3h1M173.6 246.8h1M198.2 245.2h1M201.2 235.3h1M177.5 221.7h1M184.2 254.5h1M202.2 229.3h1M183.3 260.2h1M198.4 234.0h1M175.5 251.5h1M182.5 247.5h1M184.6 239.0h1M208.9 230.6h1M179.8 245.2h1M214.6 227.8h1M205.4 235.9h1M207.4 228.3h1M193.0 234.8h1M203.0 239.0h1M200.1 233.0h1M185.1 239.9h1M202.7 224.7h1M178.4 258.0h1M209.0 240.2h1M187.8 246.5h1M208.0 214.6h1M205.2 236.7h1M190.5 229.1h1M202.0 242.5h1M224.0 228.6h1M187.0 245.6h1M171.8 255.5h1M195.3 243.3h1M209.1 245.1h1M198.1 242.1h1M182.3 254.7h1M189.1 237.2h1M187.1 235.3h1M201.4 239.2h1M197.1 254.2h1M180.2 251.1h1M179.0 257.7h1M174.1 260.4h1M182.6 259.7h1M200.6 250.8h1M185.9 257.1h1M208.6 229.2h1M184.0 241.2h1M202.8 234.8h1M189.5 230.4h1M196.5 229.5h1M192.4 238.3h1M188.0 239.2h1M185.8 245.3h1M201.8 249.8h1M203.5 238.0h1M180.2 250.4h1M181.3 247.0h1M212.8 228.5h1M206.9 233.2h1M175.6 234.1h1M190.7 259.0h1M225.9 224.6h1M191.3 242.4h1M196.6 232.5h1M228.1 235.3h1M183.3 257.6h1M192.6 254.3h1M203.1 241.3h1M194.7 230.7h1M187.0 229.9h1M180.9 240.2h1M203.7 242.2h1M206.5 226.7h1M182.6 237.8h1M184.9 250.0h1M197.6 234.2h1M217.5 239.0h1M188.6 229.6h1M194.2 259.1h1M190.7 232.1h1M220.2 219.7h1M186.6 240.7h1M194.2 236.9h1M199.7 236.3h1M206.0 243.3h1M210.5 220.3h1M207.4 228.4h1M212.0 225.6h1M237.3 218.1h1M214.8 237.8h1M190.6 245.3h1M190.0 246.5h1M215.8 221.2h1M184.5 246.5h1M214.4 242.1h1M215.9 229.9h1M209.4 235.8h1M198.7 239.9h1M172.9 257.2h1M216.5 238.3h1M174.1 227.1h1M208.4 243.7h1M207.0 243.3h1M203.9 239.5h1M186.2 244.6h1M202.2 241.0h1M199.6 256.5h1M194.4 228.8h1M219.3 247.4h1M186.1 249.5h1M200.0 238.1h1M204.9 248.2h1M199.1 250.3h1M202.8 244.4h1M206.2 225.3h1M202.3 214.6h1M204.9 246.2h1M206.3 234.4h1M211.8 253.4h1M190.1 232.5h1M206.4 238.6h1M196.7 251.3h1M195.3 238.5h1M192.2 238.8h1M195.9 232.5h1M182.0 248.4h1M214.2 207.3h1M181.0 249.0h1M187.6 251.6h1M196.0 244.4h1M197.4 239.3h1M194.7 260.1h1M191.9 233.1h1M216.3 239.3h1M199.7 232.8h1M190.0 248.2h1M221.4 244.4h1M193.3 242.8h1M201.3 246.8h1M191.3 251.0h1M188.2 256.6h1M217.1 212.4h1M183.8 253.5h1M200.3 231.4h1M180.6 251.2h1M182.9 242.0h1M191.8 230.8h1M193.0 227.2h1M193.3 245.2h1M184.6 229.6h1M183.2 239.7h1M183.0 238.4h1M197.3 235.5h1M189.1 252.5h1M204.8 233.7h1M178.2 233.7h1M190.7 238.8h1M170.4 257.6h1M186.8 234.5h1M179.7 239.7h1M218.8 215.5h1M222.6 233.9h1M221.3 232.2h1M180.0 248.2h1M183.9 244.5h1M211.4 238.8h1M206.4 236.6h1M227.5 222.6h1M201.1 240.3h1M201.4 236.7h1M197.2 229.7h1M192.7 234.7h1M201.1 233.3h1M199.5 245.8h1M206.3 249.2h1M195.3 245.6h1M199.9 232.0h1M199.2 237.8h1M202.1 226.8h1M186.7 250.1h1M190.5 230.6h1M202.9 237.1h1M196.1 237.6h1M191.3 250.4h1M192.3 250.5h1M189.8 248.4h1M183.9 257.4h1M187.6 248.8h1M199.7 239.5h1M182.9 235.2h1M177.2 240.5h1M172.5 262.4h1M191.4 248.2h1M195.3 236.1h1M188.3 250.8h1M200.1 241.8h1M206.2 230.1h1M197.7 238.3h1M200.2 239.1h1M214.2 241.8h1M183.1 245.9h1M186.4 247.3h1M182.1 254.0h1M200.1 245.4h1M214.2 231.1h1M180.4 257.2h1M185.0 252.2h1M180.0 241.4h1M200.1 233.0h1M190.1 244.8h1M199.0 232.3h1M197.4 237.2h1M220.2 239.9h1M187.5 238.9h1M220.0 231.0h1M184.3 245.6h1M208.9 250.6h1M206.1 244.9h1M204.3 232.9h1M195.6 237.3h1M188.1 237.9h1M198.6 248.6h1M220.9 230.0h1M185.5 247.4h1M190.8 240.2h1M192.3 225.5h1M189.8 240.5h1M220.6 232.3h1M191.5 237.1h1M178.6 251.7h1M209.7 243.4h1M179.9 251.2h1M204.3 239.9h1M179.5 257.2h1M195.7 241.7h1M196.5 249.9h1M211.4 237.8h1M183.9 253.3h1M194.1 248.4h1M207.2 230.0h1M180.1 253.2h1M195.0 231.0h1M193.7 238.3h1M204.4 227.7h1M184.0 240.0h1M202.4 242.9h1M201.2 245.6h1M184.8 238.6h1M185.8 248.7h1M223.5 226.8h1M201.3 239.7h1M203.4 232.4h1M215.1 229.5h1M204.6 225.1h1M191.9 239.9h1M195.1 226.3h1M194.9 248.9h1M208.0 231.5h1M207.7 240.3h1M209.6 233.6h1M186.6 252.9h1M184.7 243.7h1M183.3 245.9h1M188.8 240.0h1M196.4 242.3h1M203.2 232.9h1M210.7 239.2h1M182.2 249.1h1M182.9 242.2h1M182.6 262.0h1M199.7 234.1h1M184.9 227.0h1M196.7 242.8h1M205.9 232.0h1M176.4 246.4h1M187.6 242.5h1M179.9 244.4h1M177.9 247.3h1M200.9 236.3h1M193.8 246.0h1M217.9 234.7h1M191.8 248.5h1M208.9 236.6h1M225.7 216.9h1M193.2 246.9h1M185.3 241.7h1M189.7 250.4h1M193.4 241.0h1M198.5 229.4h1M218.8 222.5h1M177.9 248.6h1M194.6 243.5h1M181.8 230.9h1M175.5 262.4h1M225.2 240.2h1M199.3 231.0h1M211.3 224.8h1M222.3 213.1h1M190.3 248.9h1M192.7 247.2h1M197.8 237.1h1M176.3 231.8h1M200.7 239.8h1M184.1 247.5h1M210.5 221.5h1M181.3 236.7h1M192.2 228.7h1M183.1 240.5h1M199.8 246.0h1M182.0 234.5h1M207.2 230.4h1M185.8 239.1h1M203.3 242.5h1M180.3 258.0h1M186.1 247.0h1M183.7 239.9h1M203.7 236.6h1M178.6 246.5h1M186.8 249.4h1M186.0 254.4h1M196.2 240.6h1M200.5 240.7h1M196.5 248.2h1M204.9 229.5h1M196.7 252.2h1M210.9 241.3h1M182.3 256.4h1M190.8 233.0h1M199.7 228.5h1M214.9 218.6h1M178.5 241.4h1M191.2 231.1h1M230.2 220.9h1M191.5 227.0h1M210.7 240.1h1M205.9 229.4h1M178.2 240.8h1M182.5 220.1h1M209.2 233.4h1M215.6 238.9h1M195.8 252.4h1M203.5 251.6h1M204.3 224.0h1M204.9 238.8h1M192.3 231.4h1M216.2 233.3h1M214.8 229.0h1M181.6 241.7h1M203.1 240.7h1M192.0 244.1h1M192.1 250.2h1M208.5 235.5h1M189.4 247.6h1M198.6 234.2h1M209.1 228.6h1M192.2 237.5h1M224.1 239.8h1M202.0 237.6h1M171.1 243.6h1M185.7 246.3h1M187.1 236.1h1M197.4 241.9h1M204.8 227.4h1M177.0 252.7h1M193.0 241.2h1M191.7 247.6h1M197.7 236.1h1M191.0 252.2h1M208.1 245.2h1M206.1 238.4h1M195.0 231.7h1M198.0 241.5h1M206.5 235.5h1M206.4 238.4h1M199.1 237.4h1M195.8 248.5h1M206.5 221.7h1M215.6 238.3h1M195.8 230.8h1M220.9 233.5h1M199.8 245.9h1M191.3 244.3h1M196.3 247.3h1M203.0 237.8h1M206.7 229.0h1M185.3 232.9h1M200.2 243.0h1M186.9 254.0h1M198.4 245.3h1M194.8 231.0h1M189.2 245.4h1M207.9 226.3h1M209.1 217.3h1M190.4 238.1h1M199.5 238.8h1M204.1 240.9h1M194.1 233.5h1M205.1 236.4h1M199.5 240.2h1M174.2 260.9h1M193.5 233.2h1M175.6 247.4h1M219.8 244.2h1M201.1 231.6h1M170.4 246.5h1M201.5 231.6h1M197.3 245.2h1M203.1 228.5h1M211.0 236.9h1M183.5 248.1h1M185.5 256.1h1M180.7 247.1h1M197.7 251.3h1M201.1 236.0h1M203.6 239.8h1M194.1 248.4h1M185.1 242.1h1M195.4 244.0h1M185.3 239.8h1M181.2 254.6h1M196.9 251.4h1M195.4 246.8h1M212.9 233.5h1M201.9 233.0h1M207.0 252.2h1M191.5 228.6h1M197.7 226.6h1M229.2 234.3h1M214.1 209.9h1M184.0 219.4h1M226.5 228.4h1M189.1 259.3h1M179.9 258.6h1M216.8 240.3h1M197.2 242.2h1M202.0 241.2h1M198.5 246.4h1M212.2 237.0h1M195.0 255.3h1M183.5 243.4h1M196.9 227.8h1M205.5 248.9h1M195.7 229.7h1M199.4 238.6h1M186.6 243.7h1M212.8 237.5h1M197.8 242.8h1M197.0 246.0h1M195.0 256.4h1M209.8 236.7h1M185.8 254.8h1M191.8 226.2h1M186.3 246.4h1M177.7 249.3h1M219.7 240.8h1M203.6 228.9h1M183.1 249.8h1M191.8 233.4h1M197.5 242.2h1M190.8 241.2h1M211.8 228.6h1M192.8 229.8h1M196.1 227.0h1M190.8 228.1h1M197.8 236.9h1M190.3 234.1h1M200.8 229.8h1M183.4 259.3h1M209.3 247.3h1M183.0 242.1h1M206.0 249.3h1M214.2 233.6h1M202.6 232.0h1M191.4 245.7h1M189.4 243.3h1M190.1 240.7h1M179.9 247.2h1M182.1 258.2h1M185.1 238.7h1M200.3 233.9h1M214.4 213.7h1M216.4 231.2h1M199.7 235.1h1M171.6 253.7h1M191.6 233.4h1M204.5 224.6h1M181.7 247.0h1M196.1 233.2h1M201.6 252.3h1M205.1 237.4h1M189.2 256.8h1M200.9 248.1h1M187.2 237.8h1M206.5 224.6h1M199.5 246.5h1M195.0 227.0h1M208.0 249.6h1M204.1 226.6h1M219.4 227.8h1M187.9 262.5h1M191.3 253.6h1M211.2 236.8h1M200.8 246.4h1M182.7 250.8h1M175.1 262.6h1M188.8 261.2h1M177.6 245.5h1M195.3 253.2h1M204.6 239.1h1M208.1 219.9h1M208.0 234.3h1M170.4 250.7h1M202.7 225.3h1M196.9 236.8h1M179.6 243.8h1M175.8 251.2h1M225.2 209.2h1M187.7 246.3h1M198.7 238.6h1M174.6 246.5h1M182.9 243.3h1M191.9 247.4h1M199.1 246.1h1M193.4 254.7h1M191.0 244.8h1M199.8 247.2h1M191.5 250.3h1M202.3 238.6h1M218.6 230.0h1M212.6 230.3h1M200.2 228.7h1M205.6 225.6h1M210.5 236.6h1M182.7 250.8h1M193.6 239.3h1M190.6 254.1h1M183.6 250.3h1M190.0 232.2h1M202.0 236.0h1M188.0 242.8h1M183.8 243.7h1M182.6 258.7h1M204.5 231.0h1M170.1 241.2h1M180.5 246.5h1M181.7 232.6h1M187.0 245.0h1M201.0 236.8h1M200.9 234.9h1M183.3 253.4h1M198.5 239.2h1M205.3 242.1h1M187.9 231.6h1M185.6 258.4h1M216.3 204.6h1M214.7 232.4h1M197.6 240.2h1M209.5 236.8h1M207.6 229.1h1M196.7 238.6h1M181.7 248.3h1M189.7 250.8h1M204.4 253.2h1M196.3 235.4h1M212.2 230.0h1M187.9 243.1h1M206.5 227.9h1M197.1 247.6h1M228.3 235.1h1M202.7 247.5h1M195.3 235.0h1M191.6 244.3h1M201.1 235.0h1M194.7 245.2h1M207.8 251.9h1M208.4 236.8h1M216.3 223.9h1M222.1 233.2h1M225.8 231.5h1M199.1 254.7h1M205.9 239.6h1M192.8 246.9h1M205.9 233.2h1M190.7 251.1h1M213.6 237.6h1M189.1 256.7h1M200.8 241.0h1M215.6 236.2h1M211.0 234.2h1M183.6 247.5h1M202.1 224.8h1M187.2 240.8h1M183.9 248.4h1M190.4 234.9h1M196.2 232.0h1M212.7 232.8h1M184.9 251.3h1M178.1 254.9h1M176.3 258.5h1M204.2 220.8h1M193.8 248.8h1M199.3 233.2h1M210.9 235.5h1M186.0 260.8h1M175.5 249.6h1M188.8 230.0h1M196.4 244.4h1M203.5 223.1h1M200.7 241.3h1M179.3 237.6h1M186.9 247.9h1M194.0 246.9h1M185.0 244.3h1M186.0 241.4h1M187.2 241.5h1M172.4 250.4h1M202.0 246.7h1M183.8 245.9h1M186.0 248.9h1M194.1 255.7h1M206.3 241.5h1M194.7 241.8h1M217.7 227.8h1M220.6 228.7h1M197.5 235.9h1M176.7 222.9h1M210.7 230.8h1M188.2 247.7h1M184.9 256.8h1M211.9 227.0h1M218.2 228.7h1M202.7 233.4h1M195.3 236.4h1M198.7 227.9h1M199.2 249.3h1M188.2 221.0h1M185.3 249.4h1M208.7 231.1h1M212.1 240.8h1M179.0 251.0h1M205.7 230.5h1M209.4 244.4h1M190.8 247.2h1M193.5 256.1h1M204.1 212.4h1M190.3 227.2h1M174.4 255.4h1M233.1 207.5h1M192.9 248.1h1M200.0 241.4h1M212.3 231.3h1M178.5 249.4h1M187.6 238.2h1M187.4 243.3h1M195.9 230.2h1M200.6 234.0h1M184.6 243.0h1M208.2 231.2h1M184.6 241.1h1M193.8 233.4h1M193.1 249.5h1M203.1 221.6h1M204.8 247.5h1M204.0 228.2h1M196.3 237.2h1M191.2 254.3h1M205.4 236.5h1M212.2 239.5h1M199.9 240.3h1M192.7 226.1h1M192.2 242.8h1M198.2 240.6h1M197.3 248.9h1M203.2 232.4h1M180.4 261.8h1M217.0 233.0h1M206.7 232.1h1M195.7 244.9h1M184.3 229.0h1M174.9 244.6h1M211.2 241.7h1M189.4 243.2h1M175.5 244.4h1M174.7 250.7h1M195.6 231.3h1M176.3 256.2h1M199.0 238.0h1M206.1 233.8h1M207.5 228.7h1M186.3 239.9h1M198.7 241.3h1M190.3 249.3h1M204.9 236.1h1M183.1 253.9h1M174.8 245.3h1M196.8 244.3h1M196.7 240.2h1M207.0 242.5h1M190.3 249.2h1M198.8 239.2h1M210.2 219.2h1M207.8 245.1h1M226.3 223.9h1M193.5 238.1h1M176.7 256.4h1M211.8 230.5h1M189.6 245.8h1M198.5 241.1h1M219.5 231.8h1M214.2 226.5h1M201.3 224.9h1M188.8 246.7h1M185.0 245.3h1M190.5 241.8h1M198.6 222.7h1M220.8 215.2h1M206.1 244.7h1M190.0 260.1h1M189.4 252.5h1M200.1 240.8h1M231.3 201.0h1M220.9 241.7h1M192.9 238.5h1M195.3 223.0h1M200.2 233.9h1M191.4 234.4h1M174.7 238.9h1M178.3 251.1h1M193.3 261.0h1M176.5 256.9h1M181.0 246.1h1M199.0 237.5h1M215.7 235.1h1M193.6 232.8h1M190.9 256.0h1M206.8 256.7h1M209.2 217.1h1M191.6 236.0h1M202.3 243.6h1M189.3 250.7h1M183.9 251.2h1M199.7 232.8h1M208.3 246.8h1M187.9 235.9h1M196.5 234.7h1M199.4 250.6h1M189.6 235.8h1M208.0 229.4h1M198.4 228.2h1M195.7 229.9h1M189.3 240.7h1M183.9 249.4h1M181.4 249.7h1M202.8 257.3h1M193.6 243.8h1M182.1 230.4h1M192.9 224.6h1M200.3 238.1h1M191.3 235.7h1M218.5 220.1h1M198.7 244.0h1M189.4 240.0h1M211.6 222.1h1M189.5 245.0h1M175.1 251.1h1M181.2 243.2h1M204.6 234.2h1M219.9 233.6h1M182.2 255.9h1M211.5 253.3h1M194.6 230.6h1M209.2 245.0h1M199.0 243.8h1M192.2 239.5h1M202.2 262.1h1M189.5 246.2h1M190.5 236.7h1M198.7 239.6h1M211.9 238.8h1M192.6 235.5h1M206.5 239.4h1M177.6 245.7h1M194.5 226.1h1M197.3 246.1h1M200.5 248.1h1M209.6 238.5h1M183.3 257.3h1M182.4 251.2h1M186.8 250.4h1M192.1 249.9h1M193.7 238.0h1M186.4 253.1h1M220.3 229.9h1M199.2 249.9h1M204.0 227.1h1M187.4 235.3h1M202.9 230.8h1M203.5 224.4h1M196.4 238.4h1M205.5 228.8h1M194.5 245.4h1M188.4 251.2h1M209.9 234.2h1M209.1 230.3h1M171.4 244.2h1M204.4 244.8h1M192.0 230.7h1M187.6 242.3h1M181.2 243.2h1M221.8 229.2h1M207.7 232.6h1M191.6 240.1h1M222.9 223.2h1M202.0 223.2h1M183.9 233.0h1M189.4 227.6h1M192.3 250.2h1M193.7 233.1h1M205.9 242.3h1M193.8 246.9h1M213.9 233.5h1M203.6 248.0h1M185.1 245.5h1M196.9 243.4h1M198.6 242.1h1M178.9 250.8h1M201.5 234.1h1M182.8 258.9h1M200.2 249.5h1M212.5 239.8h1M188.7 234.4h1M201.5 230.3h1M179.1 249.5h1M210.3 235.7h1M196.0 254.4h1M177.4 254.2h1M198.5 241.9h1M227.0 220.6h1M195.0 235.8h1M198.3 238.2h1M203.1 223.6h1M224.0 250.4h1M192.5 262.1h1M171.2 261.7h1M188.8 250.0h1M185.1 256.1h1M209.8 239.2h1M186.9 254.8h1M203.3 234.0h1M186.7 246.9h1M209.5 243.4h1M177.7 253.0h1M184.2 243.6h1M171.3 254.0h1M205.5 230.7h1M215.5 226.0h1M197.4 239.3h1M177.8 250.2h1M230.1 220.6h1M198.9 243.9h1M217.7 229.4h1M209.0 243.1h1M173.4 237.8h1M187.7 251.6h1M191.1 225.2h1M189.8 253.5h1M196.7 244.7h1M193.6 242.5h1M173.0 248.4h1M186.3 250.3h1M200.4 248.2h1M180.2 252.3h1M172.1 253.1h1M177.2 254.0h1M190.3 257.1h1M192.5 254.7h1M188.3 252.3h1M197.1 235.0h1M202.2 242.5h1M210.5 228.8h1M204.1 239.1h1M183.8 250.3h1M219.8 226.9h1M199.3 231.7h1M177.4 250.7h1M207.6 243.2h1M203.1 226.6h1M193.4 235.7h1M211.4 240.3h1M183.0 252.5h1M201.5 241.5h1M208.5 221.6h1M194.2 254.6h1M203.5 223.8h1M183.7 231.5h1M206.8 236.9h1M198.7 245.2h1M179.4 224.3h1M180.2 247.1h1M194.7 249.9h1M182.6 235.3h1M185.0 237.5h1M200.2 242.1h1M226.0 221.5h1M202.7 243.2h1M189.8 251.8h1M195.8 243.2h1M189.3 225.1h1M188.3 248.7h1M212.4 217.2h1M189.1 250.6h1M180.7 240.9h1M185.6 253.2h1M183.9 239.5h1M193.9 232.5h1M183.0 252.9h1M198.7 228.8h1M205.9 247.9h1M200.1 249.6h1M181.6 250.7h1M182.1 238.8h1M201.8 241.8h1M175.9 232.0h1M199.5 248.8h1M201.6 235.0h1M184.7 246.6h1M203.6 249.7h1M196.8 230.5h1M200.0 222.5h1M198.3 238.5h1M193.5 257.3h1M199.9 233.2h1M209.6 238.8h1M185.5 237.4h1M199.0 221.6h1M200.0 255.4h1M205.7 247.6h1M185.0 260.9h1M173.2 248.8h1M208.1 238.5h1M191.2 259.5h1M191.2 254.1h1M206.0 226.1h1M174.2 257.1h1M179.4 251.0h1M191.8 242.7h1M202.4 236.8h1M207.3 225.5h1M186.3 236.9h1M183.0 237.0h1M190.1 256.0h1M210.6 232.0h1M184.9 249.5h1M210.8 238.6h1M215.3 231.4h1M198.9 229.3h1M190.8 241.0h1M202.2 247.6h1M192.4 245.6h1M192.8 240.6h1M205.8 239.0h1M194.7 237.5h1M187.7 237.1h1M183.6 245.0h1M192.0 230.8h1M199.1 258.3h1M215.6 219.5h1M196.7 258.5h1M194.1 233.1h1M174.5 245.1h1M199.6 248.5h1M219.5 213.5h1M201.1 233.0h1M205.4 216.0h1M198.1 243.5h1M178.7 258.9h1M178.3 242.3h1M216.2 213.9h1M197.8 243.0h1M181.1 246.5h1M244.9 210.4h1M212.8 233.8h1M198.3 237.1h1M197.0 235.3h1M210.6 215.0h1M193.4 247.6h1M199.3 240.9h1M185.3 244.7h1M193.4 253.7h1M194.0 225.8h1M200.3 241.9h1M218.6 214.4h1M189.7 256.4h1M185.1 245.1h1M185.8 242.1h1M206.7 243.2h1M191.1 242.3h1M189.9 228.5h1M183.6 243.3h1M208.7 233.2h1M211.6 240.5h1M195.4 232.7h1M214.0 228.2h1M179.3 238.5h1M193.3 232.7h1M185.4 248.9h1M186.3 233.9h1M173.7 248.7h1M186.0 256.2h1M189.3 251.4h1M181.0 236.1h1M196.9 254.2h1M190.0 245.8h1M194.8 236.9h1M199.4 244.3h1M202.7 228.5h1M208.0 227.3h1M173.6 256.8h1M186.6 246.6h1M205.6 242.8h1M196.0 245.7h1M208.4 244.2h1M216.5 233.4h1M171.2 240.0h1M184.0 242.8h1M190.3 234.3h1M205.8 233.1h1M207.2 249.1h1M219.6 216.7h1M182.2 253.5h1M196.2 261.7h1M181.8 262.2h1M182.5 251.2h1M186.3 235.4h1M199.9 239.3h1M189.5 239.6h1M188.2 239.5h1M189.8 253.3h1M194.5 249.9h1M174.7 260.6h1M188.4 241.9h1M204.5 224.0h1M211.2 227.2h1M196.4 243.9h1M186.9 252.7h1M194.3 242.2h1M195.0 240.3h1M182.8 255.1h1M198.1 234.9h1M197.0 231.3h1M194.0 236.2h1M181.4 241.9h1M208.4 235.6h1M218.4 213.9h1M188.9 241.4h1M207.1 234.7h1M185.0 254.5h1M174.2 242.0h1M189.9 243.3h1M207.1 233.9h1M177.1 245.2h1M172.0 239.7h1M206.0 222.3h1M194.8 241.9h1M194.6 247.7h1M204.0 237.0h1M204.8 248.8h1M171.1 249.1h1M182.6 250.2h1M191.7 259.3h1M192.1 258.7h1M187.6 238.7h1M174.9 247.9h1M195.6 243.3h1M204.9 239.8h1M204.6 230.5h1M204.0 239.7h1M179.6 256.9h1M219.2 241.2h1M208.0 231.1h1M179.7 259.0h1M204.2 231.8h1M184.4 244.9h1M199.7 240.2h1M197.0 236.8h1M220.0 238.5h1M188.2 243.9h1M213.4 219.5h1M223.7 226.8h1M195.7 247.2h1M170.6 218.2h1M209.3 225.3h1M200.9 259.8h1M229.6 222.2h1M223.8 220.4h1M177.1 236.5h1M202.5 232.9h1M180.7 247.5h1M188.3 259.5h1M198.1 225.2h1M203.4 236.0h1M203.8 255.1h1M180.4 241.0h1M191.9 247.1h1M200.4 248.0h1M182.9 254.6h1M192.4 242.0h1M205.0 220.7h1M209.0 227.1h1M177.9 233.6h1M196.4 237.9h1M197.5 231.3h1M213.6 230.2h1M227.9 220.4h1M183.8 239.5h1M205.9 229.0h1M193.2 233.7h1M222.8 221.6h1M183.8 240.5h1M194.3 241.0h1M196.1 242.1h1M207.8 221.4h1M192.0 249.4h1M211.1 230.3h1M209.1 233.8h1M183.8 234.3h1M195.2 233.7h1M221.1 215.9h1M193.4 232.1h1M192.7 242.3h1M187.1 256.2h1M191.0 246.9h1M178.7 255.2h1M192.5 249.0h1M193.9 232.6h1M219.5 236.0h1M211.8 235.1h1M191.3 235.4h1M187.4 241.7h1M177.7 230.1h1M210.1 231.8h1M215.8 232.3h1M192.5 238.5h1M203.4 239.8h1M182.7 255.6h1M208.7 240.7h1M177.6 248.8h1M191.0 232.6h1M185.6 244.6h1M204.9 226.2h1M182.3 253.7h1M197.6 232.5h1M211.5 242.9h1M195.3 245.9h1M221.4 221.2h1M186.8 242.7h1M219.7 227.5h1M191.2 235.8h1M196.8 257.5h1M189.7 242.6h1M179.4 248.9h1M200.7 240.4h1M186.5 258.1h1M216.3 227.5h1M196.3 237.4h1M193.7 260.0h1M207.3 242.5h1M197.3 249.6h1M208.5 229.9h1M214.2 238.6h1M193.3 240.3h1M194.2 240.1h1M217.8 226.1h1M196.7 239.9h1M191.5 242.1h1M226.8 229.1h1M214.2 249.2h1M200.9 238.0h1M203.4 222.6h1M191.0 237.7h1M189.1 252.0h1M194.1 248.4h1M191.5 242.9h1M204.1 247.7h1M174.4 236.9h1M223.3 232.1h1M171.1 233.6h1M187.2 258.8h1M170.2 238.2h1M199.1 246.5h1M200.5 244.2h1M186.7 247.2h1M196.4 253.7h1M190.3 243.5h1M203.1 253.5h1M181.3 250.9h1M207.3 242.5h1M170.6 231.2h1M201.0 247.3h1M175.6 261.4h1M173.2 251.0h1M182.9 243.3h1M195.2 250.8h1M171.6 249.9h1M206.8 237.3h1M194.0 258.9h1M180.3 232.0h1M201.4 240.7h1M200.4 236.3h1M242.7 242.9h1M182.8 249.1h1M204.0 259.4h1M208.6 237.9h1M185.2 232.0h1M184.8 259.3h1M206.0 239.8h1M185.7 254.3h1M207.1 243.3h1M222.7 251.1h1M176.7 229.9h1M177.0 255.3h1M190.0 248.3h1M193.4 253.2h1M180.7 250.3h1M185.7 249.8h1M198.2 247.5h1M186.6 240.6h1M233.4 248.4h1M190.5 231.2h1M192.0 250.9h1M191.2 241.9h1M208.5 239.1h1M209.9 245.7h1M215.4 240.8h1M184.6 240.3h1M184.2 257.1h1M214.6 237.8h1M187.2 247.2h1M184.3 233.1h1M182.0 238.4h1M181.5 252.8h1M188.2 240.6h1M201.7 246.2h1M193.8 248.7h1M207.2 259.6h1M186.3 237.6h1M206.6 254.6h1M216.9 231.2h1M203.4 258.7h1M179.1 244.8h1M177.2 246.0h1M174.1 234.1h1M193.3 248.2h1M213.6 239.2h1M184.4 243.0h1M190.9 240.1h1M176.3 234.6h1M206.8 244.6h1M172.4 240.0h1M173.5 255.1h1M182.1 244.3h1M188.3 241.5h1M195.7 261.2h1M184.4 247.5h1M193.5 256.2h1M180.9 227.2h1M181.9 247.4h1M195.6 260.7h1M184.2 248.1h1M188.2 233.1h1M178.9 258.4h1M206.8 234.3h1M177.9 230.3h1M172.4 248.6h1M186.0 243.7h1M170.4 242.0h1M199.5 254.6h1M175.6 237.6h1M195.3 241.9h1M204.8 233.2h1M194.1 249.4h1M192.1 242.5h1M202.1 239.9h1M197.4 240.8h1M217.8 244.7h1M197.5 255.0h1M180.7 234.6h1M183.9 235.8h1M201.6 244.4h1M176.6 258.0h1M187.9 231.0h1M216.9 245.7h1M180.7 245.3h1M173.9 253.2h1M179.7 260.6h1M196.0 239.4h1M171.6 246.9h1M188.9 253.7h1M176.5 248.4h1M182.0 242.9h1M228.0 255.3h1M177.0 241.1h1M176.1 254.2h1M216.7 251.4h1M211.3 255.9h1M187.1 240.7h1M200.2 245.4h1M201.4 246.2h1M183.8 249.8h1M176.5 249.0h1M206.5 246.4h1M176.8 254.1h1M199.5 248.7h1M193.7 245.7h1M170.6 242.8h1M202.2 250.8h1M205.6 241.0h1M175.6 244.1h1M208.3 235.8h1M191.0 237.8h1M187.9 240.8h1M197.2 257.8h1M187.8 241.0h1M171.7 240.4h1M176.9 223.1h1M184.8 259.0h1M194.8 247.8h1M224.4 253.9h1M196.6 241.5h1M191.3 233.2h1M195.2 258.8h1M204.2 241.0h1M193.0 244.3h1M186.0 239.4h1M181.5 257.8h1M197.5 236.1h1M187.4 248.7h1M180.8 246.7h1M203.8 226.0h1M171.5 236.9h1M201.1 251.2h1M178.3 230.6h1M200.7 253.9h1M174.6 243.6h1M183.6 247.2h1M195.8 240.8h1M176.8 231.5h1M214.1 246.2h1M185.6 244.1h1M173.8 259.6h1M182.0 251.0h1M211.5 229.0h1M187.8 233.0h1M170.3 246.9h1M214.2 251.1h1M182.4 237.9h1M221.8 255.9h1M187.0 256.2h1M207.4 254.7h1M175.2 246.2h1M185.1 252.8h1M211.0 234.3h1M186.7 234.1h1M181.4 257.4h1M184.6 227.6h1M193.4 247.2h1M203.6 245.4h1M195.3 241.0h1M183.5 246.1h1M179.5 253.2h1M188.5 243.1h1M179.9 238.4h1M179.2 246.0h1M178.0 246.7h1M179.7 249.8h1M176.9 241.0h1M192.1 247.0h1M175.8 241.0h1M195.3 253.8h1M206.4 244.1h1M194.5 236.5h1M210.4 257.6h1M215.6 253.4h1M201.6 257.2h1M207.8 236.1h1M194.5 258.7h1M186.9 245.4h1M186.3 226.8h1M209.4 254.4h1M172.9 242.8h1M189.4 244.9h1M188.1 258.8h1M199.4 231.9h1M176.8 250.9h1M174.4 235.0h1M177.6 239.7h1M212.1 251.5h1M184.3 249.9h1M179.3 232.4h1M220.0 251.1h1M198.1 253.7h1M175.8 239.7h1M189.5 230.5h1M187.5 242.1h1M190.6 244.1h1M199.7 248.6h1M182.7 247.9h1M190.2 239.9h1M182.4 242.9h1M207.2 248.4h1M175.7 234.2h1M196.6 254.0h1M231.6 240.0h1M170.6 236.7h1M208.9 240.2h1M221.4 252.1h1M192.1 261.6h1M188.7 258.1h1M220.2 240.1h1M203.9 242.4h1M191.3 220.3h1M172.0 255.7h1M213.6 246.7h1M185.2 239.9h1M207.3 233.3h1M216.5 258.9h1M188.3 250.6h1M214.9 243.7h1M198.4 251.2h1M185.4 237.8h1M202.5 254.4h1M200.7 236.3h1M218.2 241.4h1M179.7 250.1h1M178.1 243.4h1M183.5 254.5h1M189.8 242.9h1M211.2 248.8h1M192.2 251.7h1M197.2 245.4h1M197.0 233.6h1M186.1 259.5h1M185.1 255.8h1M191.9 250.3h1M201.6 237.8h1M191.0 225.7h1M202.9 247.0h1M208.1 254.3h1M197.3 259.5h1M183.5 229.5h1M195.3 242.4h1M203.0 253.6h1M181.7 255.5h1M193.9 255.5h1M176.7 243.6h1M176.8 240.2h1M182.3 257.0h1M174.4 250.4h1M190.8 250.9h1M185.9 249.2h1M187.9 238.0h1M188.8 251.4h1M200.0 249.1h1M181.8 237.2h1M194.4 236.8h1M193.5 245.4h1M203.5 243.1h1M210.3 251.6h1M182.7 253.3h1M189.0 245.5h1M192.3 244.2h1M189.5 250.8h1M201.5 253.4h1M208.3 253.5h1M215.2 239.8h1M218.2 245.0h1M205.6 258.1h1M189.2 237.5h1M208.2 244.6h1M186.3 238.9h1M197.6 253.4h1M178.7 238.9h1M195.1 236.1h1M196.4 237.8h1M215.7 244.8h1M216.9 254.7h1M208.1 245.0h1M222.5 247.5h1M201.3 238.6h1M188.4 260.3h1M194.5 243.8h1M196.2 239.2h1M199.7 252.9h1M210.7 244.8h1M171.3 250.9h1M211.3 242.0h1M202.2 233.4h1M204.2 257.9h1M192.2 225.5h1M187.8 227.8h1M196.1 226.4h1M183.7 240.4h1M179.9 238.2h1M171.9 237.9h1M211.5 234.7h1M179.2 232.7h1M176.6 232.4h1M206.4 236.5h1M199.8 254.7h1M177.0 248.8h1M203.2 259.3h1M196.5 262.6h1M221.0 241.5h1M182.1 250.1h1M172.8 231.7h1M186.9 228.5h1M212.0 248.1h1M199.5 243.3h1M173.8 241.8h1M228.8 250.2h1M186.5 251.4h1M186.5 234.1h1M177.4 250.6h1M187.4 234.6h1M222.1 246.9h1M192.8 257.7h1M199.1 250.7h1M212.7 240.3h1M194.8 257.1h1M197.7 252.6h1M185.1 229.3h1M170.2 243.3h1M205.4 229.9h1M200.6 260.8h1M181.0 245.3h1M211.9 246.8h1M197.1 230.4h1M214.8 253.1h1M196.8 233.6h1M196.0 233.6h1M183.4 229.9h1M202.4 252.9h1M231.7 232.3h1M204.7 259.0h1M195.2 250.3h1M193.9 260.6h1M171.1 256.5h1M194.7 241.7h1M212.0 246.9h1M176.8 257.0h1M170.3 254.7h1M189.1 261.2h1M187.1 255.6h1M212.6 246.0h1M190.7 244.3h1M205.4 247.3h1M170.4 234.9h1M185.8 240.2h1M206.1 246.9h1M175.8 244.3h1M199.4 243.0h1M180.1 245.4h1M196.0 235.3h1M231.5 253.0h1M219.0 259.3h1M177.5 260.7h1M189.9 241.8h1M173.5 227.8h1M216.6 241.3h1M195.4 242.9h1M221.8 248.8h1M190.1 235.8h1M186.6 248.1h1M184.9 241.9h1M184.7 239.9h1M217.9 262.5h1M204.3 259.1h1M201.7 251.5h1M206.8 240.8h1M210.0 235.8h1M170.3 241.5h1M190.2 250.3h1M192.0 243.0h1M217.4 246.7h1M193.2 237.2h1M187.3 239.9h1M201.4 259.7h1M218.0 235.5h1M190.7 251.3h1M193.9 252.4h1M177.9 245.1h1M186.3 257.4h1M185.1 254.7h1M190.2 240.1h1M192.3 248.7h1M193.9 256.9h1M176.0 257.4h1M178.6 246.1h1M190.8 248.1h1M223.3 233.5h1M206.0 238.1h1M180.8 228.8h1M184.0 250.3h1M202.2 254.4h1M187.8 260.8h1M192.9 244.4h1M182.7 229.7h1M192.8 240.6h1M187.4 250.0h1M173.1 230.6h1M216.4 242.2h1M197.9 240.6h1M202.2 252.2h1M185.9 245.2h1M214.1 240.4h1M189.7 253.1h1M198.6 245.4h1M173.9 240.4h1M195.0 248.8h1M188.8 243.9h1M180.2 253.5h1M183.3 248.9h1M211.8 246.0h1M191.2 245.4h1M178.9 240.0h1M195.9 240.4h1M170.6 244.1h1M206.5 248.1h1M202.5 238.2h1M181.8 250.7h1M198.8 250.9h1M183.1 248.0h1M195.7 242.2h1M178.1 251.7h1M198.7 247.3h1M182.6 247.0h1M189.1 239.9h1M192.6 261.5h1M183.9 249.3h1M194.4 246.3h1M182.7 259.5h1M203.0 238.9h1M185.5 225.7h1M172.6 251.0h1M190.5 232.1h1M178.8 239.7h1M190.0 256.0h1M187.1 223.1h1M201.7 252.4h1M187.3 255.6h1M202.4 250.8h1M205.5 251.9h1M206.1 235.7h1M184.6 246.6h1M185.2 260.3h1M176.5 237.2h1M211.8 250.3h1M212.0 247.4h1M173.1 249.7h1M181.4 250.9h1M209.6 247.1h1M211.4 249.3h1M196.1 254.3h1M170.5 254.5h1M191.6 246.7h1M206.5 249.0h1M175.0 241.3h1M202.4 245.2h1M195.8 259.7h1M190.4 221.9h1M198.0 249.5h1M186.8 236.8h1M188.0 256.7h1M186.8 246.2h1M197.3 236.4h1M211.8 259.6h1M182.1 249.6h1M176.3 257.3h1M207.7 243.3h1M175.5 256.7h1M177.7 244.8h1M190.6 240.0h1M187.6 250.4h1M195.3 257.4h1M209.8 237.5h1M202.6 254.6h1M207.2 247.5h1M199.9 250.7h1M200.7 242.2h1M210.3 249.8h1M187.9 243.4h1M188.5 241.2h1M183.0 241.3h1M192.8 250.0h1M208.4 254.0h1M182.5 239.3h1M187.0 235.6h1M183.6 250.3h1M182.3 259.6h1M199.6 255.1h1M185.8 244.2h1M173.7 253.8h1M171.2 240.4h1M185.3 250.2h1M196.4 250.4h1M207.8 244.4h1M202.4 241.5h1M177.4 253.3h1M190.2 246.9h1M181.6 253.9h1M180.1 239.8h1M202.2 261.6h1M204.7 259.0h1M183.2 238.7h1M188.0 249.1h1M204.8 249.0h1M188.3 221.2h1M172.2 244.9h1M180.3 239.7h1M200.5 236.9h1M204.4 252.1h1M200.4 228.8h1M189.7 248.3h1M208.1 237.5h1M194.9 231.3h1M175.0 243.2h1M211.5 232.9h1M213.4 241.9h1M170.4 251.7h1M183.7 242.7h1M212.5 232.6h1M177.4 241.2h1M237.7 245.9h1M194.9 248.3h1M182.8 256.4h1M208.1 245.9h1M186.4 252.1h1M175.3 255.6h1M185.5 244.3h1M176.0 229.3h1M180.0 254.2h1M177.8 248.4h1M192.1 251.5h1M189.7 240.5h1M215.0 254.9h1M202.9 244.9h1M182.5 251.3h1M220.3 258.8h1M177.0 229.2h1M170.7 261.5h1M172.8 250.4h1M175.8 239.9h1M205.2 230.2h1M173.3 237.5h1M192.7 246.4h1M172.6 240.3h1M185.0 240.8h1M180.5 253.4h1M212.8 246.1h1M218.6 246.6h1M190.0 232.8h1M188.5 250.8h1M210.1 259.2h1M179.0 251.9h1M187.8 240.7h1M215.2 241.2h1M209.2 241.2h1M187.1 245.9h1M193.6 253.7h1M201.3 238.8h1M183.1 260.1h1M218.6 233.7h1M199.4 246.0h1M182.3 241.7h1M183.0 232.6h1M173.9 246.3h1M194.6 240.0h1M179.0 261.6h1M190.8 240.5h1M197.6 236.1h1M210.1 254.1h1M220.1 234.7h1M185.1 248.8h1M198.6 242.0h1M187.0 245.9h1M175.5 217.9h1M213.6 257.1h1M201.2 250.0h1M174.9 258.2h1M187.0 236.5h1M183.0 249.0h1M192.5 261.3h1M201.3 246.3h1M173.3 238.8h1M210.3 245.8h1M172.4 256.2h1M177.5 252.9h1M210.4 260.2h1M175.1 249.5h1M186.6 248.6h1M182.3 243.2h1M190.5 242.5h1M193.1 239.6h1M215.3 250.3h1M221.0 239.4h1M182.7 236.7h1M172.3 252.6h1M194.2 258.8h1M178.3 252.1h1M199.2 243.7h1M193.1 233.5h1M197.1 259.0h1M187.9 258.5h1M205.0 256.3h1M199.8 244.9h1M210.3 247.1h1M188.2 240.1h1M187.2 255.0h1M199.4 243.5h1M190.6 242.5h1M205.7 247.5h1M202.7 237.3h1M202.0 257.4h1M202.5 236.8h1M214.5 232.8h1M178.4 246.6h1M229.3 258.9h1M173.5 249.6h1M218.4 235.0h1M174.2 240.7h1M182.2 246.8h1M184.5 258.8h1M196.4 250.5h1M204.4 255.5h1M216.7 234.3h1M190.8 227.9h1M200.2 256.9h1M195.5 246.3h1M181.2 258.5h1M195.5 226.0h1M173.6 254.7h1M212.5 226.2h1M189.1 248.2h1M217.8 249.8h1M208.0 240.9h1M170.2 241.3h1M184.8 244.6h1M236.2 240.4h1M198.4 230.2h1M214.6 238.2h1M180.2 252.9h1M170.8 233.6h1M203.5 248.3h1M191.1 254.0h1M180.3 229.5h1M199.2 253.6h1M181.3 235.9h1M171.6 230.8h1M192.1 257.3h1M171.5 260.9h1M192.1 244.3h1M189.7 226.8h1M197.5 255.1h1M199.1 256.8h1M195.1 243.6h1M179.2 234.7h1M203.1 259.8h1M173.7 247.8h1M205.9 256.5h1M178.3 242.8h1M203.9 240.3h1M188.4 248.0h1M175.4 254.1h1M243.8 253.4h1M208.6 251.8h1M212.2 261.8h1M186.4 246.0h1M183.4 233.9h1M186.7 253.5h1M222.1 256.4h1M177.2 241.9h1M180.8 248.5h1M217.2 228.4h1M209.8 254.3h1M204.7 250.9h1M174.3 239.0h1M218.4 246.9h1M183.7 243.9h1M197.9 254.8h1M201.1 250.7h1M201.7 249.6h1M213.2 253.7h1M177.4 251.3h1M184.1 241.1h1M196.1 258.0h1M191.6 244.0h1M194.3 262.4h1M195.0 259.9h1M214.7 257.0h1M186.2 239.4h1M176.1 234.6h1M202.5 225.8h1M179.7 237.3h1M185.6 245.7h1M193.1 238.7h1M192.3 250.3h1M176.2 257.0h1M185.8 258.5h1M185.5 253.3h1M187.2 225.6h1M212.6 254.6h1M189.2 256.5h1M184.2 254.5h1M204.3 234.1h1M208.6 238.2h1M175.1 238.8h1M203.3 242.7h1M174.6 233.8h1M208.1 255.5h1M211.3 237.0h1M205.2 245.8h1M197.3 242.0h1M212.0 251.0h1M174.8 248.5h1M183.1 237.6h1M190.9 258.5h1M223.1 227.4h1M216.6 243.1h1M179.5 250.5h1M192.1 233.0h1M211.0 202.2h1M233.6 190.7h1M225.6 209.8h1M218.5 199.9h1M253.9 192.6h1M257.8 199.7h1M213.2 201.3h1M251.3 203.6h1M238.0 201.2h1M215.3 192.0h1M247.0 205.3h1M235.6 195.4h1M250.4 196.9h1M245.0 199.3h1M228.2 194.8h1M216.9 201.0h1M246.8 201.4h1M247.7 199.5h1M210.8 203.8h1M233.8 194.8h1M212.8 209.2h1M253.9 190.3h1M248.1 195.4h1M224.3 198.4h1M211.8 202.7h1M244.7 192.4h1M238.1 199.5h1M208.9 199.5h1M247.5 206.1h1M218.4 199.4h1M216.3 197.8h1M228.0 196.5h1M246.6 196.9h1M210.4 212.4h1M216.7 203.4h1M254.0 200.4h1M235.9 197.4h1M225.8 206.4h1M229.4 199.7h1M218.6 210.7h1M236.2 190.7h1M225.7 196.1h1M253.2 200.1h1M223.8 203.6h1M228.5 206.0h1M241.7 199.4h1M236.0 198.4h1M218.8 208.7h1M253.5 203.3h1M243.4 209.8h1M238.6 204.9h1M214.2 201.7h1M223.2 197.3h1M249.7 201.3h1M218.1 203.6h1M242.2 205.9h1M211.0 198.7h1M220.0 197.1h1M241.2 200.8h1M233.8 206.8h1M230.3 195.7h1M215.9 199.7h1M231.3 189.4h1M218.1 202.9h1M216.1 200.5h1M252.1 193.6h1M233.1 194.8h1M212.5 203.5h1M235.5 203.4h1M220.4 213.8h1M210.0 200.6h1M247.5 196.5h1M236.9 197.9h1M212.8 210.6h1M233.7 203.5h1M216.8 208.8h1M246.1 193.4h1M252.9 195.7h1M254.3 203.2h1M245.9 203.6h1M230.1 206.6h1M214.5 204.2h1M230.3 199.8h1M251.6 196.9h1M235.9 195.6h1M235.7 202.0h1M219.7 191.6h1M233.4 198.3h1M243.1 205.0h1M249.6 200.6h1M250.0 197.5h1M223.2 204.5h1M248.0 204.2h1M219.8 207.9h1M220.1 208.9h1M237.9 200.5h1M226.7 206.6h1M223.8 202.4h1M213.0 208.5h1M214.5 211.4h1M233.0 206.2h1M223.4 196.2h1M233.4 203.6h1M219.2 210.5h1M225.1 202.4h1M215.0 190.3h1M225.5 210.6h1M206.9 207.8h1M211.0 209.2h1M208.8 194.6h1M217.9 211.0h1M233.4 199.3h1M211.8 205.1h1M246.5 202.8h1M216.8 203.9h1M219.7 198.1h1M253.3 203.2h1M210.3 207.9h1M242.4 195.5h1M240.2 208.5h1M221.8 199.2h1M211.9 200.6h1M225.9 201.5h1M239.9 194.8h1M244.1 199.3h1M217.4 206.4h1M232.1 189.4h1M242.6 206.0h1M211.9 208.7h1M234.6 196.7h1M244.4 204.3h1M259.1 191.7h1M227.4 208.7h1M213.4 204.3h1M236.8 195.9h1M246.4 194.8h1M224.5 201.4h1M255.4 199.6h1M246.1 194.5h1M220.3 211.8h1M241.4 189.9h1M216.4 212.7h1M246.7 205.4h1M222.8 201.2h1M220.3 206.8h1M252.1 193.1h1M246.1 207.1h1M244.3 204.8h1M250.3 200.7h1M221.2 200.9h1M239.3 202.4h1M205.2 204.0h1M217.7 206.8h1M249.2 196.4h1M242.6 200.2h1M238.8 205.7h1M215.6 202.7h1M257.3 196.5h1M232.4 196.4h1M251.0 205.1h1M219.8 199.1h1M219.9 205.8h1M256.5 204.9h1M234.4 198.9h1M206.4 210.7h1M241.7 206.1h1M214.3 214.7h1M227.3 205.7h1M242.8 199.9h1M247.0 189.9h1M219.0 208.5h1M219.7 207.0h1M251.8 192.3h1M213.7 209.0h1M229.5 200.2h1M207.4 210.5h1M249.8 195.9h1M252.5 200.1h1M249.5 203.9h1M231.3 202.6h1M227.6 208.3h1M234.3 197.3h1M250.8 197.6h1M249.7 189.9h1M243.0 193.8h1M216.8 200.2h1M219.2 202.3h1M238.4 194.0h1M223.6 198.7h1M224.3 196.9h1M243.8 200.6h1M226.7 200.0h1M251.2 198.1h1M218.1 201.4h1M246.9 202.7h1M242.7 200.2h1M242.8 200.8h1M227.6 205.3h1M214.6 196.5h1M236.0 197.5h1M224.6 205.1h1M223.9 197.1h1M213.6 193.2h1M225.3 200.0h1M246.5 194.4h1M246.6 195.6h1M232.0 194.7h1M205.5 217.2h1M220.2 200.4h1M256.4 205.4h1M241.0 206.1h1M246.6 199.2h1M249.5 197.2h1M216.4 208.4h1M215.9 208.4h1M222.1 210.0h1M233.2 200.8h1M241.3 200.8h1M246.9 194.1h1M243.2 193.4h1M249.8 207.0h1M240.1 190.8h1M246.6 201.5h1M249.8 204.6h1M243.0 187.4h1M221.6 211.1h1M210.4 207.2h1M234.9 201.1h1M230.5 200.2h1M223.8 203.6h1M214.4 202.9h1M217.9 204.8h1M248.6 208.9h1M229.3 197.0h1M220.7 200.4h1M217.4 208.7h1M252.9 204.1h1M247.8 202.7h1M230.2 201.6h1M206.8 203.9h1M230.4 190.4h1M211.6 197.0h1M249.7 207.4h1M238.4 195.2h1M247.6 203.8h1M252.3 201.8h1M227.8 205.0h1M252.7 199.7h1M227.9 196.0h1M245.7 198.2h1M250.1 196.7h1M217.9 215.2h1M239.2 208.6h1M226.2 205.9h1M221.3 206.7h1M232.3 195.3h1M250.3 209.0h1M255.3 197.2h1M205.6 210.6h1M231.4 203.7h1M244.0 195.7h1M218.1 207.0h1M246.2 192.1h1M226.8 198.2h1M217.8 209.2h1M217.9 197.7h1M232.5 204.2h1M239.2 196.8h1M207.6 200.1h1M221.0 204.0h1M211.1 208.1h1M214.2 205.5h1M246.7 194.3h1M222.4 202.6h1M216.3 202.1h1M246.6 201.8h1M210.8 198.2h1M245.2 188.7h1M242.7 199.9h1M234.0 205.9h1M249.6 193.9h1M253.6 199.7h1M256.5 203.1h1M234.4 200.2h1M250.7 192.3h1M208.7 212.4h1M225.2 202.7h1M246.5 198.1h1M229.7 204.5h1M247.4 199.5h1M235.0 204.8h1M223.3 202.1h1M225.8 206.5h1M213.2 188.9h1M216.1 210.2h1M248.0 192.8h1M252.4 189.1h1M251.7 199.9h1M231.3 197.7h1M209.0 200.8h1M214.8 207.0h1M247.5 198.6h1M249.9 203.7h1M243.1 210.7h1M231.9 195.6h1M215.0 201.9h1M211.4 199.6h1M226.1 197.3h1M234.1 206.0h1M244.1 204.4h1M240.4 200.4h1M227.0 205.9h1M240.9 196.0h1M242.8 200.2h1M229.8 207.0h1M246.9 199.6h1M206.5 202.4h1M234.2 190.4h1M245.0 213.0h1M253.3 190.6h1M230.8 212.5h1M240.2 209.7h1M210.2 200.0h1M210.4 193.9h1M214.4 196.1h1M250.4 200.1h1M257.8 189.4h1M226.5 204.6h1M224.0 202.6h1M206.3 211.7h1M238.0 188.9h1M251.9 199.1h1M224.9 201.8h1M238.9 204.4h1M223.6 206.1h1M252.6 198.5h1M229.6 190.8h1M220.6 200.5h1M217.2 203.1h1M238.8 205.1h1M208.6 208.7h1M216.0 216.1h1M224.0 208.0h1M226.3 202.6h1M232.5 191.9h1M231.7 202.9h1M212.5 204.7h1M244.7 208.0h1M224.7 204.8h1M216.0 198.6h1M208.2 213.4h1M223.0 200.0h1M248.8 197.3h1M247.6 196.0h1M252.3 202.3h1M228.8 199.0h1M216.6 196.7h1M209.4 204.6h1M253.6 200.5h1M227.4 193.8h1M249.2 203.6h1M228.2 200.3h1M214.6 201.8h1M231.6 205.9h1M242.1 196.5h1M246.2 203.0h1M259.6 181.8h1M251.0 199.5h1M219.8 198.8h1M209.0 200.0h1M242.3 192.7h1M235.9 197.0h1M219.5 200.7h1M257.1 195.7h1M230.4 203.6h1M216.7 199.2h1M250.2 202.7h1M240.3 197.4h1M208.6 196.3h1M247.0 198.1h1M225.6 207.3h1M215.4 210.8h1M240.0 199.5h1M215.1 197.5h1M255.3 206.0h1M220.2 190.2h1M218.8 204.1h1M248.0 206.3h1M210.9 213.3h1M252.3 194.2h1M231.5 204.3h1M234.7 206.6h1M250.5 204.2h1M212.9 208.9h1M234.3 193.4h1M221.5 209.4h1M214.4 195.3h1M210.1 203.0h1M235.7 196.3h1M219.7 205.2h1M212.0 193.9h1M233.6 204.2h1M211.6 197.8h1M233.4 203.2h1M253.8 200.2h1M217.3 200.6h1M234.8 202.3h1M215.6 201.0h1M251.6 195.8h1M238.1 193.7h1M246.2 199.9h1M253.6 196.2h1M229.3 200.7h1M225.3 210.1h1M219.0 201.3h1M239.1 199.1h1M241.4 202.4h1M247.5 203.6h1M210.8 202.6h1M215.2 207.2h1M213.1 201.7h1M240.1 202.9h1M233.6 202.0h1M252.2 196.1h1M240.7 187.7h1M212.8 187.7h1M233.2 208.2h1M251.0 204.2h1M216.6 205.0h1M231.1 202.3h1M213.7 200.5h1M218.7 204.8h1M251.7 194.5h1M238.5 199.5h1M261.9 190.5h1M216.9 201.4h1M217.8 198.6h1M235.6 198.9h1M235.1 199.7h1M237.5 195.3h1M239.3 200.4h1M228.6 206.5h1M255.9 196.6h1M227.7 205.9h1M223.4 201.9h1M247.6 199.3h1M216.3 203.7h1M230.9 195.5h1M235.8 196.2h1M227.4 198.3h1M237.6 203.5h1M214.7 203.3h1M233.5 192.7h1M213.3 200.8h1M223.6 200.3h1M253.7 200.2h1M237.5 198.7h1M251.5 195.8h1M207.5 203.7h1M226.7 196.8h1M214.3 203.5h1M235.3 209.2h1M236.1 203.1h1M218.3 207.2h1M242.3 197.4h1M227.5 196.7h1M223.6 199.2h1M204.1 194.6h1M215.5 204.1h1M246.7 207.2h1M237.7 205.8h1M252.6 200.6h1M220.6 207.1h1M221.1 197.3h1M222.8 204.7h1M242.4 206.1h1M248.7 202.7h1M231.5 201.2h1M217.3 204.3h1M236.6 197.9h1M235.8 197.1h1M223.2 195.1h1M260.5 201.6h1M223.5 198.0h1M218.3 206.8h1M245.2 198.2h1M245.3 204.8h1M214.9 206.2h1M224.1 199.1h1M221.3 201.5h1M227.7 203.1h1M233.7 194.9h1M236.9 205.9h1M255.4 196.6h1M210.0 208.5h1M224.0 210.7h1M217.6 209.7h1M218.1 206.0h1M237.1 206.0h1M227.9 188.8h1M243.7 207.1h1M242.1 200.0h1M243.9 213.7h1M214.7 197.2h1M215.7 193.2h1M244.3 199.7h1M227.9 206.3h1M219.8 210.2h1M236.2 208.6h1M239.4 199.4h1M223.9 188.4h1M219.4 201.5h1M221.4 206.3h1M255.3 193.0h1M228.6 189.5h1M233.0 200.0h1M255.2 194.7h1M255.2 197.5h1M227.3 203.1h1M246.6 194.7h1M209.3 214.9h1M221.2 200.0h1M214.1 201.3h1M240.6 197.3h1M220.9 205.7h1M246.6 196.5h1M236.8 194.1h1M215.8 200.2h1M236.3 203.1h1M254.2 198.1h1M212.9 198.9h1M218.9 217.3h1M242.6 192.7h1M240.5 210.8h1M248.2 198.8h1M228.5 192.9h1M209.0 201.8h1M258.2 211.6h1M224.6 209.2h1M241.9 203.3h1M225.0 200.3h1M222.0 201.6h1M218.6 209.2h1M205.9 193.5h1M247.5 203.1h1M212.7 203.6h1M229.9 203.9h1M237.9 199.1h1M223.0 207.8h1M228.4 202.6h1M257.7 192.6h1M248.1 203.6h1M213.8 193.6h1M251.7 202.7h1M224.3 196.5h1M223.0 206.3h1M259.9 196.8h1M224.1 195.0h1M232.1 189.5h1M239.3 193.4h1M243.3 198.3h1M224.5 199.8h1M229.2 206.4h1M205.7 195.1h1M230.2 199.6h1M221.9 196.9h1M214.2 205.7h1M211.9 201.2h1M257.6 191.6h1M232.9 202.2h1M218.2 203.5h1M227.0 203.1h1M207.0 192.3h1M229.6 200.7h1M242.8 190.9h1M241.9 197.8h1M241.3 197.9h1M243.1 204.7h1M252.6 201.7h1M213.3 210.8h1M209.7 209.5h1M241.6 194.5h1M212.0 207.0h1M243.0 200.3h1M255.6 206.5h1M224.7 202.0h1M231.1 200.1h1M223.3 201.2h1M241.4 192.4h1M231.5 203.9h1M235.0 206.7h1M224.2 207.2h1M237.2 205.2h1M223.5 193.4h1M246.1 202.3h1M213.1 200.9h1M251.6 195.4h1M243.1 195.2h1M210.3 208.6h1M205.7 215.1h1M236.0 212.1h1M253.0 199.3h1M232.6 200.6h1M237.1 195.8h1M245.5 202.9h1M222.0 207.9h1M253.3 202.4h1M245.6 199.9h1M204.6 203.8h1M216.9 195.4h1M211.3 216.1h1M229.8 202.2h1M211.2 210.6h1M241.8 201.7h1M236.6 195.2h1M223.6 200.7h1M258.6 195.0h1M239.1 201.7h1M213.0 208.4h1M251.6 198.3h1M233.3 194.0h1M225.1 205.3h1M231.3 198.3h1M215.3 202.2h1M232.6 195.1h1M245.1 204.5h1M213.1 206.0h1M227.7 211.5h1M240.4 204.0h1M217.2 208.6h1M215.7 200.0h1M242.9 197.8h1M220.2 199.3h1M250.1 215.1h1M211.6 203.4h1M250.5 195.0h1M249.3 194.5h1M222.2 211.0h1M244.1 195.5h1M206.4 208.3h1M251.3 196.8h1M248.5 196.5h1M227.8 204.7h1M224.3 203.1h1M217.8 202.0h1M240.2 196.7h1M230.1 206.0h1M253.7 198.9h1M232.0 205.4h1M237.1 194.6h1M217.1 209.3h1M227.6 207.0h1M251.3 191.2h1M254.9 206.6h1M252.5 196.5h1M238.4 201.0h1M224.7 202.2h1M245.3 205.5h1M208.9 203.4h1M224.8 206.0h1M213.7 199.5h1M240.8 201.6h1M215.4 194.8h1M222.4 193.1h1M225.6 204.1h1M214.1 193.3h1M225.5 212.3h1M228.0 204.4h1M249.7 199.7h1M233.3 200.9h1M240.4 215.0h1M250.1 188.5h1M239.6 203.6h1M221.1 212.2h1M213.4 201.6h1M238.0 201.6h1M255.4 200.8h1M212.4 208.0h1M259.6 186.2h1M249.0 200.6h1M243.8 201.0h1M213.9 202.5h1M233.4 205.6h1M240.1 188.0h1M211.8 208.4h1M229.3 204.3h1M223.5 206.5h1M217.4 210.9h1M213.3 196.3h1M226.8 194.7h1M257.5 207.0h1M248.8 191.4h1M235.3 204.2h1M221.8 204.5h1M225.9 198.4h1M227.9 210.9h1M239.7 198.2h1M241.0 198.1h1M237.0 189.7h1M218.8 198.3h1M230.1 207.7h1M246.7 203.1h1M245.0 198.3h1M207.4 200.8h1M246.1 196.0h1M229.1 195.7h1M215.4 200.1h1M216.8 211.8h1M248.7 194.3h1M238.5 198.7h1M256.4 199.0h1M226.9 207.3h1M220.6 198.2h1M247.2 204.8h1M207.6 204.8h1M247.4 199.6h1M235.8 202.6h1M217.2 200.4h1M247.1 190.6h1M213.7 210.6h1M217.7 193.0h1M233.5 199.6h1M215.1 196.4h1M225.2 199.2h1M250.3 206.6h1M224.3 196.7h1M244.5 194.2h1M234.2 199.9h1M231.9 206.5h1M224.4 198.5h1M244.7 208.1h1M228.5 192.4h1M232.7 200.5h1M247.4 196.4h1M227.6 200.8h1M207.0 206.1h1M252.0 204.1h1M254.7 195.1h1M251.8 204.4h1M211.8 208.8h1M213.6 196.7h1M252.3 189.7h1M240.6 198.0h1M235.3 190.9h1M245.0 192.8h1M245.0 210.8h1M208.1 211.4h1M248.8 215.2h1M240.3 206.8h1M229.2 187.6h1M257.1 195.0h1M228.9 193.5h1M226.0 197.4h1M209.6 207.1h1M211.7 195.8h1M219.3 202.3h1M237.4 198.5h1M240.8 198.9h1M231.0 199.9h1M235.6 198.5h1M242.4 206.0h1M225.1 206.6h1M214.2 200.3h1M232.7 205.1h1M236.7 200.4h1M238.6 200.2h1M223.7 196.8h1M248.8 203.1h1M214.1 201.5h1M220.6 198.7h1M215.9 208.5h1M237.0 203.2h1M232.1 196.9h1M234.0 193.2h1M247.2 191.2h1M246.0 186.2h1M237.0 192.9h1M208.9 201.4h1M244.5 200.3h1M224.9 211.3h1M215.9 210.6h1M249.0 198.5h1M238.9 204.5h1M215.4 207.0h1M249.0 212.1h1M237.2 197.2h1M233.1 200.5h1M217.5 196.9h1M223.8 209.9h1M248.1 212.4h1M255.3 195.7h1M221.9 201.2h1M238.4 197.3h1M227.9 200.1h1M254.1 202.1h1M257.6 196.0h1M249.3 196.7h1M252.5 205.8h1M214.6 200.7h1M232.7 193.6h1M219.5 206.0h1M233.4 202.8h1M229.1 197.9h1M219.6 199.5h1M237.0 198.5h1M213.1 203.1h1M239.9 206.9h1M232.2 198.0h1M236.9 198.7h1M240.1 206.1h1M208.1 207.8h1M212.2 191.7h1M209.1 199.9h1M240.0 203.0h1M237.8 199.5h1M241.8 199.8h1M245.4 188.3h1M247.3 188.2h1M223.0 193.0h1M238.0 204.0h1M248.1 207.2h1M221.7 199.6h1M240.5 199.1h1M238.2 201.7h1M258.1 200.3h1M226.7 201.3h1M213.7 214.8h1M250.8 195.7h1M230.4 205.3h1M232.2 191.9h1M243.7 195.8h1M244.3 203.9h1M220.5 204.8h1M237.4 200.1h1M249.8 197.6h1M222.8 204.1h1M243.6 198.3h1M254.5 200.7h1M225.0 201.7h1M245.5 210.0h1M246.8 200.6h1M210.5 204.1h1M251.8 192.4h1M225.3 201.7h1M247.3 210.8h1M248.8 199.5h1M249.4 196.9h1M252.4 200.3h1M246.1 200.5h1M241.3 199.3h1M209.8 205.3h1M210.4 203.7h1M211.3 192.9h1M208.8 205.6h1M227.9 212.5h1M243.1 199.1h1M246.7 200.0h1M247.8 201.5h1M217.0 202.0h1M249.2 200.4h1M219.4 201.4h1M236.9 197.9h1M223.6 211.9h1M236.3 205.6h1M244.6 195.5h1M228.1 198.3h1M248.7 198.5h1M249.2 204.4h1M243.7 198.2h1M243.3 202.2h1M235.1 200.4h1M222.1 203.9h1M215.1 192.5h1M250.5 206.9h1M255.1 199.0h1M228.0 191.4h1M216.0 199.4h1M237.7 202.2h1M220.0 204.5h1M208.0 201.3h1M253.8 196.0h1M252.3 206.0h1M217.7 201.7h1M232.3 199.7h1M221.8 196.9h1M206.6 210.2h1M211.3 197.9h1M220.8 206.0h1M234.5 200.6h1M241.1 192.3h1M252.6 206.6h1M235.4 194.7h1M250.4 199.2h1M209.1 198.9h1M214.4 193.5h1M240.6 200.0h1M219.8 205.4h1M221.5 193.7h1M247.6 189.6h1M232.7 200.4h1M225.7 209.8h1M239.3 200.0h1M246.7 200.6h1M218.2 191.5h1M229.3 200.4h1M245.2 206.7h1M254.1 203.7h1M212.8 210.2h1M253.2 200.6h1M218.2 212.5h1M252.1 193.8h1M224.8 203.9h1M218.7 205.3h1M223.2 201.7h1M240.7 201.3h1M211.5 204.8h1M246.1 196.2h1M227.7 211.6h1M238.6 192.5h1M218.5 201.5h1M250.2 181.2h1M244.5 199.1h1M239.0 196.6h1M208.7 196.8h1M213.9 193.9h1M208.8 206.0h1M210.6 206.3h1M251.9 199.9h1M246.0 204.6h1M214.4 202.4h1M225.5 194.6h1M232.5 198.1h1M221.9 202.8h1M235.6 200.1h1M252.8 191.4h1M227.8 203.9h1M207.7 215.8h1M209.4 204.6h1M227.0 196.1h1M218.7 193.2h1M210.5 197.2h1M234.2 187.3h1M251.7 207.8h1M244.9 202.5h1M210.3 212.6h1M232.4 205.1h1M240.2 202.7h1M226.3 201.0h1M236.2 204.5h1M213.6 205.6h1M231.5 206.4h1M210.8 197.8h1M253.3 211.4h1M240.2 197.3h1M223.3 196.1h1M251.8 196.8h1M215.9 205.5h1M247.1 199.8h1M220.4 199.9h1M239.2 203.6h1M231.4 204.8h1M250.1 196.7h1M246.9 198.7h1M235.0 199.6h1M213.8 190.9h1M220.3 188.9h1M235.6 203.0h1M237.3 208.0h1M231.9 200.0h1M213.2 194.0h1M217.3 204.4h1M243.8 207.9h1M225.2 193.1h1M216.8 201.3h1M254.8 190.4h1M243.0 195.4h1M218.0 189.3h1M244.5 200.8h1M248.9 195.7h1M217.5 198.2h1M231.3 188.4h1M228.3 201.5h1M223.0 195.0h1M243.3 195.7h1M239.3 200.9h1M240.6 197.1h1M224.4 203.4h1M250.4 189.6h1M243.0 203.9h1M250.5 203.1h1M242.4 198.2h1M237.2 199.5h1M232.2 200.7h1M240.1 199.3h1M214.8 199.9h1M229.7 215.5h1M246.1 200.7h1M251.6 186.0h1M253.2 196.7h1M255.8 202.3h1M216.9 198.8h1M233.3 207.1h1M217.2 203.6h1M240.6 203.7h1M218.4 203.4h1M225.1 204.0h1M240.6 200.0h1M247.4 201.5h1M235.2 190.0h1M218.0 204.8h1M246.7 199.5h1M218.0 210.4h1M244.6 213.7h1M230.8 189.6h1M232.8 195.1h1M219.3 206.3h1M215.3 198.3h1M248.6 192.3h1M227.9 205.8h1M235.8 191.2h1M231.5 207.6h1M211.7 203.2h1M219.3 199.8h1M237.4 199.4h1M214.3 206.0h1M220.0 199.1h1M215.4 198.3h1M222.4 211.9h1M219.9 195.4h1M247.9 198.3h1M218.7 199.1h1M243.4 197.3h1M249.4 206.0h1M223.6 198.5h1M214.6 211.4h1M232.6 207.9h1M241.7 196.6h1M258.6 194.6h1M204.7 206.3h1M218.6 206.9h1M248.3 195.4h1M217.1 201.7h1M209.6 195.2h1M217.9 201.5h1M211.7 196.0h1M232.2 190.5h1M218.5 203.9h1M233.4 192.9h1M212.1 205.2h1M224.0 203.9h1M241.7 204.5h1M235.6 195.8h1M207.5 214.6h1M215.9 198.8h1M213.2 207.1h1M243.9 192.3h1M218.5 201.6h1M218.5 203.9h1M250.7 191.7h1M210.3 201.8h1M232.7 196.3h1M247.4 193.6h1M240.8 205.9h1M207.3 212.0h1M221.4 205.3h1M248.4 200.5h1M240.7 200.4h1M228.3 196.3h1M227.9 205.4h1M245.0 185.4h1M218.6 203.9h1M231.3 198.4h1M217.5 209.6h1M218.1 199.6h1M232.8 200.4h1M207.7 204.2h1M227.2 202.4h1M246.0 204.5h1M247.2 201.2h1M255.6 196.8h1M227.1 209.0h1M223.6 208.3h1M217.9 195.8h1M223.6 208.5h1M239.1 201.0h1M235.1 205.6h1M224.5 196.7h1M229.5 193.0h1M250.4 196.2h1M252.7 197.6h1M220.0 203.2h1M210.9 196.3h1M246.9 192.7h1M244.1 198.8h1M222.1 197.5h1M250.9 190.1h1M249.0 195.3h1M254.5 211.3h1M248.8 193.0h1M256.7 189.4h1M247.6 201.4h1M206.5 205.9h1M248.6 193.8h1M230.0 204.9h1M250.3 194.9h1M221.1 206.4h1M252.6 198.2h1M247.9 199.0h1M229.9 199.1h1M254.7 195.2h1M228.7 209.0h1M248.9 198.4h1M250.0 206.2h1M252.4 205.5h1M226.2 210.3h1M237.7 201.6h1M219.5 201.2h1M244.3 201.3h1M214.1 205.4h1M246.7 200.1h1M253.1 190.6h1M223.7 211.0h1M255.4 195.5h1M230.8 204.9h1M235.9 202.0h1M253.3 190.0h1M213.2 199.0h1M228.8 193.8h1M227.6 203.8h1M223.2 210.5h1M238.6 198.6h1M247.7 195.3h1M237.3 200.9h1M242.7 184.2h1M248.5 194.2h1M259.1 189.8h1M256.6 192.4h1M241.8 188.2h1M243.4 201.5h1M238.0 196.5h1M249.0 195.0h1M246.8 196.8h1M249.0 199.9h1M244.5 191.6h1M234.4 198.9h1M209.4 201.0h1M241.1 197.2h1M254.4 200.2h1M237.6 183.6h1M236.5 204.1h1M228.2 212.9h1M244.6 207.1h1M255.5 193.8h1M203.1 193.6h1M216.3 198.2h1M238.2 196.0h1M239.3 203.5h1M255.9 203.2h1M230.1 201.7h1M234.5 190.7h1M236.2 199.7h1M226.4 206.6h1M233.4 193.2h1M205.6 210.2h1M212.3 206.0h1M230.8 206.7h1M255.1 193.5h1M231.9 206.6h1M247.4 197.5h1M216.7 202.2h1M216.1 197.1h1M219.0 198.3h1M218.8 207.1h1M247.3 202.6h1M230.6 192.7h1M229.4 206.8h1M250.9 194.9h1M239.7 204.3h1M220.7 197.0h1M256.5 198.1h1M255.6 214.6h1M251.8 197.5h1M234.0 194.9h1M238.0 196.1h1M213.7 210.5h1M222.2 202.4h1M231.0 202.6h1M234.1 193.4h1M249.6 204.0h1M248.0 197.2h1M230.7 198.9h1M248.1 194.7h1M250.9 203.0h1M221.8 211.0h1M226.8 188.0h1M230.2 205.2h1M246.6 203.6h1M251.2 200.2h1M239.3 211.5h1M212.0 204.5h1M209.2 209.4h1M249.1 199.7h1M230.5 202.0h1M231.4 200.8h1M244.0 197.6h1M236.5 199.0h1M251.9 192.4h1M212.0 194.7h1M233.6 189.2h1M241.4 189.5h1M255.1 194.3h1M254.6 197.0h1M206.2 206.6h1M213.7 210.5h1M217.6 207.9h1M225.4 195.9h1M253.0 197.7h1M232.0 195.4h1M234.4 190.4h1M239.1 198.4h1M225.2 199.8h1M252.1 193.4h1M233.9 198.1h1M248.8 182.0h1M250.9 212.8h1M220.0 200.9h1M229.6 195.8h1M249.2 202.9h1M236.5 198.3h1M211.0 205.0h1M219.1 213.1h1M248.0 195.5h1M227.7 204.8h1M250.1 204.9h1M252.9 203.0h1M225.8 212.3h1M220.6 194.6h1M236.5 203.4h1M216.4 198.6h1M258.5 194.2h1M225.7 201.8h1M227.6 200.1h1M244.1 200.3h1M211.6 198.5h1M241.9 197.0h1M235.6 195.2h1M245.8 206.6h1M211.6 208.1h1M247.6 195.9h1M236.8 195.1h1M218.2 210.3h1M211.8 209.2h1M235.4 200.3h1M207.7 212.9h1M229.1 190.7h1M252.8 197.8h1M235.6 203.5h1M212.6 204.1h1M237.6 197.2h1M242.3 196.4h1M234.3 203.7h1M253.8 183.0h1M235.3 196.0h1M208.8 205.0h1M213.3 217.0h1M231.1 209.6h1M206.6 201.8h1M239.0 196.3h1M207.9 194.1h1M228.7 204.0h1M215.4 208.5h1M246.1 203.8h1M214.4 204.0h1M237.0 208.6h1M231.4 203.8h1M244.7 191.5h1M221.7 212.3h1M211.1 210.7h1M217.9 196.3h1M230.9 203.1h1M226.2 200.1h1M236.2 201.0h1M252.3 200.5h1M219.2 208.6h1M225.0 203.6h1M218.5 209.4h1M247.3 204.2h1M218.2 203.4h1M237.2 201.0h1M209.4 199.4h1M209.9 192.6h1M220.1 199.4h1M231.1 206.4h1M224.5 205.4h1M211.5 212.1h1M256.1 201.6h1M244.7 201.5h1M239.9 201.3h1M252.9 204.7h1M245.4 193.2h1M241.5 200.7h1M218.9 195.8h1M209.5 209.1h1M233.9 192.0h1M225.1 201.2h1M242.7 198.4h1M222.6 209.5h1M250.6 193.5h1M213.3 204.0h1M258.1 200.2h1M233.7 206.4h1M230.6 196.2h1M239.7 204.6h1M208.2 202.8h1M215.7 206.7h1M254.0 200.2h1M252.5 193.1h1M237.8 200.7h1M212.2 198.5h1M238.1 196.7h1M223.5 201.9h1M239.5 194.4h1M246.5 200.8h1M234.7 206.1h1M239.0 197.5h1M248.5 200.2h1M208.6 200.0h1M218.2 205.0h1M227.3 204.9h1M239.5 198.2h1M216.7 200.8h1M254.0 192.4h1M217.2 205.4h1M240.2 201.7h1M221.2 205.5h1M221.2 194.4h1M245.5 197.2h1M250.1 202.7h1M217.4 206.7h1M215.0 208.1h1M219.8 203.9h1M237.5 205.3h1M237.2 197.5h1M212.1 202.2h1M239.5 191.0h1M249.4 198.3h1M255.5 206.1h1M251.1 201.8h1M225.9 203.0h1M244.5 200.8h1M220.0 211.0h1M213.3 214.2h1M213.6 197.6h1M232.1 200.0h1M218.5 199.1h1M224.7 208.8h1M217.9 203.8h1M238.0 198.9h1M235.4 206.1h1M236.4 204.7h1M236.6 201.9h1M216.0 205.3h1M239.2 191.5h1M224.7 196.3h1M234.3 199.5h1M221.6 201.2h1M216.6 207.8h1M228.9 209.6h1M238.8 206.7h1M246.7 203.6h1M220.0 198.2h1M233.5 202.7h1M224.9 196.1h1M243.2 202.7h1M222.7 200.0h1M256.0 193.0h1M225.1 204.6h1M253.0 198.7h1M256.8 195.8h1M242.0 197.0h1M216.1 203.1h1M224.3 205.9h1M217.0 194.0h1M245.9 197.9h1M219.7 200.8h1M218.2 197.7h1M227.9 197.3h1M243.8 198.6h1M226.3 204.7h1M251.9 205.2h1M237.2 197.1h1M222.6 205.6h1M237.9 208.5h1M244.8 197.6h1M223.6 202.0h1M235.4 200.4h1M210.1 208.1h1M229.6 204.1h1M229.8 202.0h1M251.8 198.6h1M239.8 201.4h1M232.7 199.2h1M248.1 195.2h1M248.3 197.3h1M254.0 197.3h1M252.5 202.2h1M231.0 189.7h1M257.0 180.1h1M251.9 203.3h1M249.9 192.7h1M235.7 202.0h1M235.2 216.4h1M233.3 197.1h1M259.9 198.4h1M238.8 194.3h1M257.6 195.2h1M252.7 209.6h1M250.4 219.6h1M233.7 197.4h1M243.5 194.3h1M233.9 191.5h1M238.9 195.6h1M238.0 207.2h1M221.9 193.4h1M252.8 206.6h1M247.6 191.5h1M227.5 195.5h1M240.5 192.9h1M256.4 205.5h1M254.0 210.3h1M234.7 208.0h1M233.2 199.5h1M231.3 195.7h1M235.8 185.8h1M240.6 208.2h1M254.8 191.6h1M246.2 188.6h1M247.5 195.0h1M255.0 188.9h1M231.0 197.6h1M226.4 198.8h1M235.3 209.5h1M256.1 195.8h1M234.9 201.1h1M225.3 199.0h1M233.8 205.9h1M243.7 190.6h1M247.7 209.0h1M229.6 210.2h1M231.4 202.6h1M233.5 205.9h1M248.2 199.5h1M250.5 198.2h1M250.6 201.3h1M255.5 198.7h1M228.6 205.5h1M226.6 211.6h1M255.3 205.4h1M225.3 210.7h1M244.7 199.3h1M245.5 196.4h1M229.3 212.0h1M253.6 199.3h1M249.8 203.0h1M230.7 204.6h1M242.3 200.5h1M242.1 188.4h1M247.8 194.5h1M232.9 189.5h1M250.1 205.4h1M233.3 210.1h1M230.8 190.5h1M225.0 201.7h1M249.1 196.8h1M234.3 180.3h1M230.1 198.5h1M230.3 200.6h1M241.5 190.2h1M238.9 210.0h1M258.0 193.3h1M246.5 196.7h1M240.8 204.8h1M248.6 198.5h1M248.0 193.0h1M233.5 208.3h1M230.9 208.1h1M227.8 200.9h1M237.4 190.7h1M247.6 199.9h1M247.0 208.7h1M238.9 199.2h1M229.5 195.2h1M223.0 202.4h1M242.0 193.0h1M246.6 196.3h1M252.9 200.5h1M237.2 208.2h1M247.9 205.4h1M253.6 196.8h1M238.8 212.2h1M253.9 194.4h1M242.7 204.8h1M252.2 204.7h1M244.1 213.7h1M226.8 220.8h1M228.2 200.6h1M257.5 200.9h1M252.3 195.4h1M249.4 200.5h1M258.7 195.2h1M231.5 203.9h1M242.8 196.4h1M231.2 197.7h1M251.6 195.4h1M231.7 193.8h1M253.3 198.3h1M225.0 198.1h1M249.2 182.7h1M244.3 214.5h1M231.0 204.4h1M238.4 206.7h1M245.1 209.3h1M244.8 201.5h1M232.5 192.6h1M260.5 211.7h1M240.4 205.4h1M255.8 192.9h1M231.3 206.5h1M241.8 202.2h1M229.0 205.1h1M250.9 200.7h1M249.0 202.1h1M241.1 196.2h1M243.9 205.3h1M255.0 213.9h1M239.5 197.1h1M239.9 210.4h1M235.5 214.6h1M255.8 193.3h1M232.4 193.7h1M230.0 206.3h1M226.1 195.6h1M233.4 206.9h1M245.4 203.1h1M222.3 192.5h1M242.5 207.4h1M233.2 213.9h1M240.4 202.2h1M249.4 205.0h1M252.9 211.4h1M232.8 205.5h1M245.1 208.9h1M236.8 196.8h1M239.0 208.0h1M254.1 198.0h1M247.6 201.3h1M251.7 199.0h1M246.2 200.1h1M237.1 203.7h1M243.5 196.7h1M243.3 208.8h1M231.7 199.4h1M238.4 198.2h1M256.5 187.9h1M246.8 191.3h1M228.4 202.7h1M253.7 212.1h1M236.9 203.3h1M232.8 207.2h1M247.6 198.5h1M223.0 203.5h1M256.6 187.3h1M225.9 198.3h1M252.3 199.3h1M245.4 193.5h1M244.1 196.5h1M224.7 200.7h1M248.8 196.3h1M233.0 199.2h1M231.7 190.7h1M252.2 201.0h1M229.7 210.9h1M235.6 205.1h1M244.3 200.3h1M254.9 199.1h1M225.5 206.4h1M238.4 216.1h1M236.0 213.0h1M254.1 201.9h1M241.5 207.3h1M250.6 201.7h1M237.3 187.9h1M231.9 190.5h1M241.1 198.4h1M244.9 192.5h1M239.1 189.6h1M227.4 186.4h1M251.6 194.6h1M249.0 196.7h1M248.3 215.2h1M234.2 188.5h1M252.8 206.0h1M249.0 215.3h1M239.0 213.5h1M257.8 199.5h1M257.0 205.0h1M237.1 198.2h1M251.3 193.3h1M248.2 183.2h1M227.8 198.9h1M227.2 191.5h1M230.8 201.3h1M256.6 210.0h1M250.9 191.2h1M256.1 205.6h1M259.8 192.9h1M244.9 194.5h1M236.9 203.5h1M256.6 220.8h1M234.3 206.8h1M239.8 203.3h1M249.4 193.3h1M255.8 190.7h1M234.1 197.2h1M240.6 206.9h1M246.1 184.8h1M233.7 188.0h1M223.8 207.1h1M253.5 193.3h1M246.7 196.1h1M234.9 202.5h1M245.6 186.2h1M231.2 209.5h1M248.5 191.8h1M248.4 192.7h1M233.9 210.3h1M258.7 207.1h1M247.4 191.9h1M237.8 186.6h1M246.5 190.5h1M240.6 190.9h1M239.6 206.6h1M231.6 201.4h1M234.2 210.4h1M247.2 186.8h1M236.9 190.4h1M246.0 207.4h1M261.2 205.4h1M236.8 203.6h1M226.0 199.3h1M236.7 208.0h1M251.4 192.7h1M230.4 214.1h1M235.4 205.9h1M239.2 210.1h1M229.0 197.3h1M249.4 206.5h1M230.9 186.7h1M234.5 194.4h1M228.4 213.5h1M242.7 204.7h1M225.8 206.5h1M240.2 208.2h1M232.6 206.9h1M253.2 209.9h1M254.2 199.4h1M236.8 194.8h1M250.1 210.2h1M232.9 207.9h1M241.5 182.7h1M221.1 196.9h1M241.5 206.9h1M229.7 190.8h1M245.2 195.0h1M253.0 204.0h1M245.7 190.6h1M231.9 197.4h1M243.1 203.9h1M241.1 207.0h1M249.1 195.3h1M248.8 201.1h1M230.8 192.3h1M243.5 212.7h1M243.3 204.9h1M241.3 202.6h1M230.3 218.0h1M252.1 204.0h1M250.5 204.5h1M256.4 194.5h1M235.9 202.8h1M235.3 200.1h1M227.7 191.9h1M242.6 196.3h1M225.2 202.9h1M248.4 191.7h1M242.4 210.6h1M229.5 188.7h1M236.6 194.7h1M223.6 205.9h1M238.3 193.2h1M260.3 193.8h1M230.8 189.4h1M243.2 202.2h1M228.8 190.3h1M241.2 196.6h1M246.8 205.4h1M246.2 189.3h1M232.9 200.9h1M236.6 192.0h1M248.1 192.5h1M230.4 200.3h1M236.7 197.7h1M252.6 195.9h1M247.0 199.2h1M229.1 198.4h1M246.9 189.4h1M240.7 192.5h1M255.6 199.8h1M232.0 198.0h1M242.2 206.0h1M232.6 192.5h1M239.6 191.8h1M233.2 179.0h1M223.7 184.1h1M233.5 197.9h1M255.7 196.1h1M230.2 200.0h1M228.2 199.8h1M248.6 201.3h1M238.1 200.1h1M229.1 201.5h1M224.9 205.2h1M238.6 204.4h1M225.6 197.9h1M256.0 198.1h1M245.5 201.1h1M231.5 193.4h1M240.4 211.5h1M225.5 211.5h1M259.4 188.3h1M254.3 208.3h1M238.0 194.7h1M251.6 191.5h1M239.5 202.3h1M233.2 200.5h1M248.3 196.2h1M242.8 195.5h1M233.3 204.5h1M256.8 202.3h1M244.2 215.8h1M226.4 205.5h1M229.5 204.5h1M234.6 206.0h1M247.1 195.9h1M240.3 198.3h1M227.9 196.3h1M232.5 212.4h1M231.6 198.8h1M228.0 214.8h1M255.5 203.1h1M236.5 199.8h1M257.9 218.4h1M251.5 216.8h1M248.7 206.3h1M257.2 188.6h1M256.7 186.8h1M235.7 204.2h1M246.3 190.2h1M233.2 203.7h1M241.6 210.8h1M236.3 198.6h1M246.4 199.1h1M252.3 196.5h1M222.0 192.4h1M250.4 201.9h1M237.0 197.9h1M237.4 205.3h1M235.8 202.8h1M233.2 200.9h1M242.6 201.9h1M245.2 195.7h1M243.2 213.7h1M226.0 197.7h1M225.9 189.2h1M231.7 192.0h1M244.2 204.3h1M245.6 205.6h1M241.8 191.7h1M238.1 187.7h1M253.1 188.9h1M232.8 198.7h1M227.3 203.8h1M236.1 201.1h1M231.3 192.8h1M254.3 191.7h1M242.7 200.2h1M251.8 210.7h1M256.3 211.1h1M257.3 200.8h1M255.0 184.1h1M232.1 207.1h1M238.7 198.3h1M243.3 198.4h1M245.4 196.0h1M231.6 194.1h1M238.4 201.0h1M251.1 197.7h1M256.5 209.2h1M238.7 200.9h1M238.9 197.9h1M237.8 202.0h1M249.5 204.1h1M234.6 188.1h1M228.6 191.4h1M242.6 186.2h1M230.6 206.8h1M236.1 205.2h1M233.1 193.2h1M248.6 190.9h1M222.6 214.2h1M231.9 214.7h1M233.6 200.5h1M252.2 209.1h1M246.7 207.9h1M229.6 202.6h1M236.0 200.3h1M251.0 187.4h1M252.3 199.4h1M237.2 201.6h1M244.1 189.2h1M227.8 208.0h1M250.8 194.3h1M234.6 193.0h1M251.2 194.3h1M237.2 207.0h1M254.8 203.0h1M245.7 204.3h1M230.8 206.8h1M236.6 193.7h1M248.7 201.3h1M239.2 194.9h1M256.5 204.3h1M246.7 204.1h1M247.3 196.3h1M246.3 199.7h1M255.4 196.4h1M227.2 199.8h1M256.1 193.0h1M237.8 186.0h1M242.5 201.8h1M247.6 194.0h1M226.6 200.3h1M234.0 191.4h1M229.5 225.1h1M227.8 205.8h1M229.7 200.4h1M252.0 204.3h1M253.0 202.0h1M241.5 201.6h1M244.1 182.5h1M230.6 193.6h1M245.4 211.1h1M250.9 203.3h1M241.3 200.5h1M248.4 190.9h1M230.8 193.9h1M240.6 192.4h1M241.2 189.2h1M259.6 191.0h1M233.6 205.8h1M244.3 195.8h1M245.5 204.6h1M227.7 200.0h1M230.4 200.4h1M232.0 206.9h1M229.0 211.9h1M237.8 214.0h1M238.4 212.3h1M254.9 202.0h1M251.8 195.0h1M252.6 188.1h1M226.0 196.1h1M240.3 197.4h1M241.6 209.1h1M245.1 206.6h1M245.1 200.8h1M235.1 205.9h1M236.9 210.0h1M228.3 195.9h1M231.5 201.2h1M235.3 207.9h1M227.4 201.5h1M227.8 204.9h1M224.2 196.1h1M232.5 203.7h1M256.7 191.0h1M227.0 200.2h1M241.9 194.2h1M254.1 190.9h1M256.1 194.2h1M248.2 182.1h1M255.6 203.9h1M232.1 208.7h1M234.0 212.6h1M228.8 215.2h1M241.5 192.3h1M239.0 209.1h1M237.1 200.8h1M254.8 194.8h1M253.7 197.3h1M252.7 195.8h1M245.7 204.1h1M259.7 196.2h1M243.3 201.8h1M247.2 212.5h1M229.2 199.1h1M226.5 198.8h1M258.4 187.8h1M257.2 197.3h1M235.4 189.1h1M238.4 200.7h1M249.5 196.5h1M240.7 198.7h1M241.4 196.1h1M243.8 186.0h1M241.3 182.7h1M242.1 196.6h1M224.3 203.5h1M252.6 211.4h1M248.0 193.3h1M231.0 197.4h1M251.4 202.0h1M256.0 204.5h1M235.3 211.5h1M246.4 189.4h1M229.9 204.4h1M253.7 198.3h1M244.9 189.6h1M251.0 208.5h1M251.4 193.4h1M255.8 193.0h1M244.5 209.2h1M230.0 206.0h1M242.2 184.2h1M238.0 185.1h1M236.6 198.7h1M230.8 213.8h1M244.4 196.7h1M251.6 199.6h1M238.6 203.1h1M251.7 204.6h1M231.0 216.6h1M241.3 212.0h1M225.8 199.4h1M236.3 199.8h1M237.0 206.3h1M258.0 195.2h1M227.5 195.9h1M243.5 199.9h1M247.0 197.5h1M224.7 213.4h1M225.2 189.1h1M251.7 198.7h1M235.7 223.6h1M249.1 185.5h1M228.8 193.3h1M251.6 211.3h1M242.2 198.3h1M232.8 199.1h1M225.1 203.7h1M234.8 186.9h1M257.0 187.9h1M247.2 205.5h1M240.1 201.1h1M251.4 190.5h1M238.1 214.2h1M231.8 192.0h1M231.2 201.1h1M234.1 211.6h1M228.5 204.0h1M232.8 205.5h1M245.0 209.6h1M239.2 194.5h1M237.2 202.9h1M251.6 197.4h1M247.6 204.3h1M250.3 183.9h1M225.5 210.7h1M252.5 204.4h1M242.3 194.3h1M254.1 194.7h1M249.5 200.4h1M234.7 210.9h1M221.7 207.5h1M253.3 199.6h1M255.7 201.4h1M240.5 197.8h1M228.3 198.9h1M253.8 183.7h1M252.1 229.7h1M256.6 221.8h1M237.2 231.7h1M241.8 246.7h1M245.2 237.1h1M249.4 226.5h1M250.9 244.0h1M226.2 235.9h1M257.1 211.6h1M230.0 225.1h1M252.8 229.0h1M227.3 234.5h1M238.5 252.9h1M237.4 229.7h1M238.9 228.7h1M256.8 244.3h1M243.2 235.2h1M253.6 240.8h1M248.3 244.3h1M234.8 220.9h1M230.1 231.3h1M227.1 221.9h1M251.5 232.2h1M227.5 224.6h1M223.7 228.7h1M246.2 231.2h1M229.8 235.9h1M243.8 227.1h1M250.7 235.1h1M225.4 234.7h1M232.8 210.7h1M255.4 225.9h1M231.9 244.3h1M247.5 219.1h1M239.0 261.2h1M233.9 238.0h1M254.4 241.0h1M234.9 213.9h1M229.9 217.4h1M234.7 243.7h1M234.1 208.1h1M248.8 220.5h1M248.4 227.6h1M232.2 232.2h1M248.3 227.1h1M228.4 205.9h1M234.3 213.0h1M243.7 225.2h1M228.9 220.9h1M226.1 224.7h1M250.4 234.9h1M240.0 248.8h1M255.9 239.3h1M235.1 251.7h1M243.9 236.1h1M243.8 222.7h1M230.1 237.8h1M240.2 255.2h1M238.6 237.0h1M225.1 212.3h1M235.3 250.4h1M253.5 218.3h1M232.2 230.7h1M230.3 234.6h1M233.0 243.7h1M246.5 229.1h1M224.9 225.5h1M251.6 227.6h1M227.8 237.2h1M233.1 229.6h1M249.4 229.3h1M244.4 243.5h1M264.4 215.9h1M235.4 249.6h1M236.7 221.7h1M239.2 230.5h1M243.3 210.0h1M231.4 233.0h1M240.0 222.8h1M238.1 212.9h1M244.7 246.8h1M237.5 225.1h1M229.7 213.6h1M230.1 227.9h1M235.8 236.6h1M230.1 253.0h1M247.6 241.3h1M234.7 257.5h1M240.4 227.1h1M255.4 224.7h1M224.1 219.8h1M243.5 236.3h1M243.4 247.3h1M257.0 241.4h1M239.8 219.3h1M233.7 220.9h1M259.7 246.9h1M244.2 243.9h1M223.5 230.9h1M229.4 234.7h1M242.2 229.8h1M239.6 213.7h1M238.2 224.8h1M227.6 234.2h1M244.8 240.2h1M243.4 236.8h1M234.2 240.1h1M232.7 240.4h1M243.3 235.6h1M245.4 245.0h1M243.8 242.7h1M240.5 232.8h1M238.3 236.5h1M239.7 223.0h1M239.5 230.0h1M239.0 217.0h1M232.7 239.2h1M238.7 240.2h1M253.4 233.3h1M251.5 211.9h1M257.9 217.2h1M244.2 235.3h1M243.4 197.9h1M252.3 248.5h1M239.7 224.7h1M233.6 251.4h1M249.2 228.2h1M237.5 219.8h1M228.8 207.8h1M238.8 233.8h1M244.2 227.4h1M245.5 230.8h1M233.8 235.6h1M225.9 244.9h1M256.6 235.5h1M238.3 240.8h1M233.2 218.6h1M246.4 238.7h1M245.6 214.8h1M245.0 235.2h1M249.7 243.5h1M255.5 226.1h1M235.2 237.9h1M224.7 230.3h1M243.2 227.6h1M255.1 230.1h1M224.6 220.8h1M249.2 236.1h1M257.0 231.7h1M253.5 235.9h1M255.1 232.1h1M232.6 236.5h1M251.9 218.3h1M249.5 251.1h1M247.6 217.2h1M255.8 214.3h1M246.8 218.7h1M254.9 238.8h1M236.4 219.6h1M236.2 258.0h1M231.8 233.6h1M234.6 252.0h1M249.6 221.0h1M259.9 238.2h1M251.6 237.2h1M244.6 226.5h1M227.9 226.1h1M232.0 220.5h1M236.8 220.3h1M256.1 222.8h1M229.7 239.3h1M242.5 225.2h1M254.7 227.2h1M251.4 251.5h1M231.9 242.8h1M246.1 238.5h1M244.5 211.5h1M227.4 231.4h1M239.3 261.7h1M232.7 222.1h1M252.1 222.7h1M245.9 226.4h1M232.4 236.8h1M252.8 225.7h1M228.7 235.2h1M231.2 235.0h1M252.8 227.8h1M241.4 207.1h1M230.9 234.1h1M240.5 229.9h1M251.4 226.0h1M251.3 246.0h1M223.5 230.9h1M243.7 233.0h1M256.3 225.6h1M241.5 224.7h1M228.9 242.5h1M252.1 230.0h1M251.9 238.1h1M230.7 248.9h1M257.4 245.2h1M228.7 234.8h1M243.7 257.2h1M245.5 221.0h1M243.1 223.6h1M241.5 214.9h1M261.3 221.5h1M227.1 236.1h1M232.7 229.5h1M233.1 239.2h1M233.3 224.1h1M235.8 242.6h1M249.4 211.2h1M235.7 212.8h1M244.8 231.7h1M231.7 244.2h1M246.3 228.6h1M231.1 239.8h1M239.3 248.2h1M254.1 204.4h1M233.6 240.9h1M235.1 228.3h1M232.7 220.4h1M247.9 236.0h1M235.3 240.2h1M257.7 220.2h1M226.5 247.2h1M249.7 232.0h1M241.1 234.7h1M234.5 235.3h1M231.8 218.2h1M236.1 236.5h1M260.4 237.6h1M239.2 243.5h1M235.6 227.8h1M260.3 233.9h1M244.6 229.2h1M247.6 240.0h1M261.9 224.6h1M251.0 224.1h1M244.6 242.3h1M245.8 233.8h1M234.0 219.5h1M251.1 218.1h1M230.6 236.5h1M237.0 239.9h1M236.3 226.8h1M238.0 246.2h1M226.8 252.2h1M246.9 225.1h1M231.1 226.2h1M237.1 229.9h1M260.6 233.9h1M251.9 252.6h1M248.2 229.2h1M245.5 204.1h1M236.4 241.0h1M252.6 235.6h1M242.2 247.3h1M243.9 224.0h1M250.7 249.6h1M251.5 229.3h1M238.1 224.9h1M249.0 250.7h1M241.0 237.0h1M226.5 239.1h1M248.7 228.0h1M234.0 236.8h1M228.6 237.7h1M250.4 212.0h1M237.2 230.6h1M222.8 257.2h1M245.3 224.2h1M235.6 220.9h1M235.7 252.8h1M235.6 236.5h1M240.7 231.0h1M250.8 242.9h1M254.2 231.1h1M237.0 246.8h1M236.2 202.2h1M236.6 208.0h1M233.4 232.7h1M227.5 223.6h1M245.9 246.4h1M248.8 229.0h1M237.2 223.9h1M233.4 238.3h1M250.4 237.9h1M246.7 231.7h1M254.1 260.3h1M237.1 219.6h1M226.4 238.1h1M229.2 217.9h1M236.7 238.4h1M246.8 229.7h1M243.2 225.4h1M257.9 240.8h1M228.1 237.2h1M238.7 230.6h1M229.8 250.4h1M234.9 255.7h1M256.9 228.5h1M227.4 219.1h1M247.6 240.6h1M245.8 230.1h1M237.8 229.9h1M239.7 231.7h1M240.5 215.7h1M225.9 224.4h1M241.1 213.6h1M246.5 221.0h1M243.6 219.6h1M230.9 225.9h1M253.6 240.6h1M249.2 246.0h1M238.0 258.1h1M238.9 226.2h1M223.1 226.7h1M251.9 218.8h1M228.3 226.5h1M234.0 254.0h1M255.2 217.8h1M251.2 223.2h1M237.9 233.5h1M232.4 226.0h1M230.0 231.0h1M228.2 230.7h1M240.4 227.1h1M233.2 253.0h1M250.2 204.2h1M251.0 223.2h1M243.7 213.9h1M259.7 221.1h1M236.9 251.1h1M239.2 224.9h1M245.8 218.1h1M229.9 241.4h1M241.0 219.7h1M235.9 247.7h1M238.7 222.0h1M234.2 239.0h1M245.3 242.1h1M252.6 230.9h1M233.2 236.3h1M231.5 238.4h1M228.0 214.9h1M258.3 217.0h1M249.0 242.6h1M251.3 238.4h1M231.1 226.6h1M227.6 237.9h1M224.7 219.6h1M247.2 242.3h1M247.0 235.4h1M232.0 228.7h1M225.1 197.8h1M242.1 225.3h1M244.5 222.6h1M253.4 229.6h1M246.7 239.8h1M254.5 227.7h1M235.3 237.3h1M224.8 228.1h1M242.6 242.2h1M237.9 223.1h1M245.4 229.7h1M252.3 220.6h1M245.8 247.4h1M232.5 238.4h1M224.5 234.4h1M253.8 229.5h1M242.5 218.7h1M242.1 231.2h1M244.6 218.7h1M238.3 231.5h1M237.2 235.4h1M240.3 231.8h1M235.0 249.0h1M252.6 225.2h1M227.0 233.4h1M239.7 220.0h1M263.3 216.5h1M250.6 200.5h1M243.1 214.4h1M239.4 244.4h1M236.4 222.5h1M248.0 219.2h1M236.5 251.6h1M229.9 224.2h1M226.1 245.7h1M239.9 238.2h1M236.7 241.8h1M244.9 220.0h1M231.3 227.9h1M249.9 229.6h1M253.9 231.2h1M242.8 242.4h1M246.7 222.9h1M233.7 224.8h1M223.5 229.2h1M248.2 226.7h1M233.3 230.6h1M247.0 239.5h1M248.0 240.4h1M251.9 239.0h1M242.6 225.1h1M232.9 244.3h1M241.4 234.4h1M232.5 225.7h1M236.5 229.8h1M230.1 245.5h1M250.6 213.1h1M254.0 237.8h1M247.0 229.0h1M252.9 232.5h1M235.4 223.0h1M233.2 227.1h1M232.3 229.1h1M250.9 227.4h1M248.6 222.5h1M233.7 220.5h1M237.3 226.2h1M242.0 221.5h1M247.5 209.2h1M254.1 232.3h1M237.5 231.9h1M250.9 255.5h1M253.3 233.2h1M227.1 235.0h1M240.4 245.6h1M245.4 228.3h1M238.2 234.1h1M227.1 230.2h1M240.5 229.2h1M234.4 228.6h1M236.9 237.2h1M224.8 228.8h1M250.9 222.5h1M232.3 232.5h1M239.2 221.2h1M253.3 208.7h1M247.3 241.1h1M237.6 217.8h1M245.2 224.3h1M243.6 232.4h1M244.1 225.0h1M235.0 219.5h1M242.5 232.0h1M247.8 238.5h1M229.6 222.2h1M248.1 231.0h1M247.2 237.6h1M242.7 230.0h1M226.6 228.4h1M248.2 243.7h1M236.4 248.8h1M252.2 235.7h1M243.3 232.9h1M244.0 231.4h1M256.6 199.0h1M243.6 231.4h1M256.2 253.9h1M243.8 240.8h1M235.4 219.6h1M231.1 254.6h1M235.3 230.8h1M227.3 243.2h1M244.7 217.0h1M249.3 254.1h1M243.5 232.2h1M245.5 239.5h1M242.8 222.7h1M231.2 247.1h1M234.7 230.6h1M230.3 250.4h1M227.7 238.0h1M245.0 233.9h1M246.9 233.4h1M222.3 232.2h1M253.0 223.6h1M253.2 234.5h1M250.6 220.7h1M240.6 234.9h1M235.3 236.0h1M237.1 232.3h1M223.4 223.8h1M243.2 219.5h1M235.9 218.6h1M250.4 218.7h1M230.0 217.7h1M235.0 224.4h1M234.8 256.7h1M243.8 234.9h1M235.9 233.8h1M225.6 228.0h1M245.2 220.0h1M251.6 217.9h1M235.3 256.5h1M236.5 239.5h1M247.1 227.4h1M233.5 215.5h1M246.7 224.4h1M240.6 243.3h1M253.2 252.7h1M232.2 216.4h1M254.3 248.8h1M244.8 232.2h1M232.8 236.2h1M232.3 226.7h1M235.0 225.6h1M228.3 227.8h1M253.4 243.4h1M255.5 253.4h1M245.2 243.8h1M241.3 243.5h1M235.1 232.4h1M250.2 222.8h1M244.1 227.7h1M245.5 219.8h1M250.6 241.0h1M240.3 250.9h1M254.5 261.6h1M239.3 245.6h1M247.3 236.0h1M237.6 231.1h1M245.9 219.7h1M253.8 228.4h1M256.8 223.6h1M255.2 237.4h1M241.0 228.9h1M230.7 228.8h1M229.5 244.4h1M240.8 241.0h1M237.4 219.4h1M221.7 217.0h1M241.2 232.6h1M244.0 237.0h1M250.1 228.1h1M237.1 227.7h1M237.5 228.0h1M229.0 247.0h1M234.6 240.8h1M251.3 222.1h1M249.6 222.2h1M238.7 215.6h1M241.9 215.7h1M244.9 227.0h1M240.9 220.9h1M256.1 236.9h1M239.5 225.3h1M231.3 222.1h1M241.1 240.1h1M229.0 227.4h1M231.5 240.0h1M243.3 235.3h1M239.2 246.8h1M251.0 241.8h1M230.1 243.1h1M250.3 231.2h1M235.9 219.0h1M240.8 225.9h1M241.9 239.9h1M238.5 199.1h1M228.2 219.4h1M253.0 226.5h1M233.6 232.8h1M260.5 231.3h1M244.8 231.6h1M255.7 229.0h1M236.5 236.0h1M228.2 232.8h1M225.9 232.0h1M243.2 236.0h1M243.1 238.4h1M250.8 234.3h1M234.3 221.1h1M242.0 228.2h1M246.0 242.4h1M255.4 232.0h1M234.9 244.5h1M231.5 225.9h1M242.4 221.6h1M242.5 222.3h1M249.3 256.2h1M243.9 214.6h1M250.6 227.5h1M248.0 210.4h1M233.3 224.4h1M230.8 224.6h1M249.9 223.3h1M243.6 259.7h1M235.5 254.6h1M255.4 239.7h1M237.1 216.4h1M239.1 224.4h1M255.6 244.1h1M231.0 226.1h1M227.2 212.5h1M243.6 230.5h1M233.8 227.0h1M250.0 259.9h1M224.0 245.9h1M243.0 223.9h1M256.0 240.1h1M252.9 249.9h1M235.5 216.2h1M239.1 220.5h1M223.7 238.3h1M230.2 233.2h1M232.1 227.6h1M234.6 217.3h1M231.7 251.8h1M254.7 239.1h1M234.9 243.4h1M236.7 235.3h1M239.9 260.3h1M246.3 249.4h1M237.2 216.8h1M247.4 243.6h1M246.8 231.1h1M230.7 218.0h1M246.2 252.9h1M228.6 216.8h1M230.4 215.7h1M237.4 230.8h1M228.8 231.1h1M257.4 208.4h1M240.3 242.2h1M257.7 228.1h1M232.4 215.7h1M230.0 232.3h1M248.6 221.9h1M245.5 235.0h1M247.2 240.4h1M227.2 239.6h1M250.3 228.3h1M233.0 217.8h1M229.2 238.6h1M233.8 225.4h1M233.0 223.2h1M251.1 229.5h1M237.2 217.2h1M245.4 225.2h1M257.7 230.4h1M238.6 237.8h1M232.8 217.7h1M245.8 238.2h1M252.3 242.9h1M245.8 224.4h1M231.2 221.9h1M230.6 251.7h1M233.4 229.9h1M237.7 241.2h1M230.9 233.1h1M232.5 234.8h1M260.0 256.5h1M252.9 236.1h1M235.7 220.5h1M238.5 243.1h1M231.2 249.4h1M236.4 237.8h1M253.1 249.6h1M255.8 236.7h1M249.6 212.7h1M241.6 230.9h1M233.1 224.2h1M226.1 223.2h1M246.1 262.3h1M244.8 242.6h1M251.7 233.6h1M232.4 225.9h1M234.9 246.9h1M238.2 244.3h1M229.5 208.2h1M258.4 218.9h1M236.2 246.1h1M232.3 225.7h1M238.5 235.2h1M239.2 240.2h1M231.5 204.3h1M235.4 218.2h1M245.9 219.7h1M251.6 257.5h1M237.8 240.6h1M250.6 245.0h1M243.5 239.6h1M249.7 256.8h1M243.6 217.6h1M242.3 222.0h1M222.3 237.4h1M228.0 244.6h1M254.9 214.9h1M231.0 232.9h1M236.4 241.2h1M239.0 222.3h1M237.7 233.1h1M227.5 221.5h1M250.1 226.9h1M248.5 231.7h1M230.3 218.2h1M237.3 226.3h1M244.9 234.5h1M257.5 236.3h1M257.3 226.8h1M249.3 234.8h1M245.4 219.7h1M241.1 227.1h1M228.1 230.4h1M240.8 234.8h1M240.2 249.2h1M229.3 215.4h1M242.8 211.7h1M232.6 229.8h1M248.2 246.9h1M226.1 233.1h1M249.1 245.1h1M245.6 211.0h1M241.9 242.9h1M250.4 225.5h1M252.8 233.3h1M232.2 236.0h1M244.0 236.7h1M240.2 213.7h1M227.4 225.9h1M245.7 230.4h1M253.7 225.9h1M249.6 250.1h1M244.9 239.4h1M228.4 233.1h1M233.2 236.3h1M241.0 228.5h1M244.1 234.9h1M236.0 221.1h1M234.2 205.5h1M240.3 233.9h1M249.3 251.0h1M232.1 229.7h1M257.4 238.2h1M234.7 228.7h1M248.4 234.2h1M238.9 207.6h1M248.8 222.7h1M241.4 232.2h1M236.5 231.3h1M231.6 237.4h1M231.9 228.7h1M256.0 248.3h1M246.5 246.5h1M242.6 240.6h1M239.8 246.4h1M229.9 233.2h1M230.7 242.9h1M246.5 212.2h1M234.5 230.2h1M247.0 221.9h1M243.0 238.1h1M246.6 242.9h1M228.1 220.2h1M239.9 228.6h1M250.9 209.5h1M248.0 241.1h1M247.7 229.3h1M239.2 246.8h1M243.3 229.8h1M244.0 226.1h1M260.0 236.2h1M244.5 236.7h1M260.4 217.9h1M222.5 231.3h1M254.0 233.2h1M245.6 227.2h1M248.2 250.5h1M239.8 235.0h1M225.6 231.0h1M235.3 241.7h1M235.7 235.3h1M245.4 248.2h1M229.1 222.2h1M228.6 239.8h1M238.8 231.7h1M238.4 224.4h1M233.7 231.5h1M234.3 226.6h1M225.9 255.5h1M241.9 230.6h1M229.6 237.9h1M238.2 237.9h1M238.1 225.9h1M235.3 236.2h1M234.9 226.9h1M251.0 233.6h1M228.1 215.9h1M248.9 233.0h1M240.8 203.3h1M228.9 236.7h1M249.8 223.6h1M258.7 232.1h1M235.4 249.4h1M247.3 248.3h1M247.0 235.1h1M246.1 226.8h1M245.8 234.9h1M249.4 240.2h1M239.1 216.4h1M235.0 241.4h1M228.5 222.1h1M241.7 234.1h1M243.1 231.7h1M247.5 218.4h1M235.0 218.3h1M242.5 215.0h1M231.3 244.7h1M256.9 216.8h1M249.7 237.3h1M236.3 236.9h1M244.0 232.7h1M224.2 218.7h1M234.0 219.0h1M232.8 226.7h1M237.9 207.0h1M241.5 237.1h1M237.3 228.0h1M247.2 234.1h1M252.2 232.1h1M250.3 224.2h1M229.3 247.2h1M237.4 240.9h1M239.6 238.4h1M235.4 224.1h1M256.4 233.3h1M250.4 240.5h1M236.8 217.2h1M249.6 222.1h1M253.7 216.8h1M227.6 239.5h1M240.3 236.2h1M239.4 233.0h1M234.4 222.3h1M254.9 226.2h1M236.9 234.6h1M256.9 227.8h1M239.9 246.3h1M236.3 250.8h1M250.6 234.6h1M252.2 251.4h1M241.2 241.8h1M244.2 250.3h1M239.3 231.0h1M248.9 248.2h1M256.4 235.1h1M248.1 237.0h1M244.4 226.6h1M235.4 219.8h1M257.9 240.7h1M237.3 235.4h1M250.5 227.6h1M243.8 237.6h1M235.1 235.2h1M232.1 233.2h1M256.5 219.7h1M257.8 227.6h1M234.8 245.7h1M233.4 221.4h1M254.8 237.9h1M247.2 236.4h1M249.1 245.7h1M230.4 241.0h1M250.6 224.9h1M242.5 227.3h1M256.5 234.5h1M231.6 230.3h1M233.4 226.3h1M239.1 230.8h1M255.7 227.7h1M246.0 223.1h1M234.0 224.7h1M227.3 244.7h1M260.4 260.1h1M243.6 227.6h1M235.0 245.9h1M230.2 229.6h1M229.3 236.6h1M239.4 245.2h1M229.6 252.7h1M246.1 237.3h1M248.8 221.9h1M246.5 235.9h1M228.3 233.2h1M237.4 245.0h1M231.4 227.3h1M256.1 211.8h1M222.9 227.2h1M246.3 258.3h1M253.8 230.8h1M233.2 225.9h1M228.6 209.9h1M237.8 220.6h1M237.3 221.1h1M235.1 223.2h1M210.4 220.6h1M204.3 233.9h1M225.8 197.9h1M200.9 234.4h1M207.1 218.7h1M223.2 231.6h1M232.5 209.4h1M219.5 232.7h1M215.7 234.9h1M222.3 246.0h1M228.6 208.5h1M231.8 240.0h1M216.4 223.7h1M224.9 214.7h1M206.6 241.5h1M206.7 224.8h1M219.5 251.1h1M214.1 220.1h1M238.7 218.8h1M226.6 211.1h1M216.1 224.6h1M215.7 206.5h1M229.1 195.3h1M203.7 222.6h1M221.3 204.9h1M181.8 215.4h1M199.3 217.5h1M206.4 220.0h1M206.5 211.1h1M233.4 189.1h1M222.6 236.4h1M210.6 234.1h1M227.3 233.6h1M239.5 248.4h1M229.9 227.1h1M232.5 229.6h1M218.3 220.9h1M219.4 223.1h1M223.8 234.0h1M231.0 244.1h1M214.4 219.8h1M205.9 200.3h1M245.6 217.9h1M229.9 227.2h1M218.1 207.1h1M217.9 213.1h1M188.2 220.0h1M226.5 210.5h1M218.7 229.5h1M204.3 214.4h1M226.6 217.1h1M235.7 217.9h1M203.0 225.9h1M205.8 190.0h1M196.5 231.3h1M212.4 213.3h1M221.4 209.4h1M236.5 209.3h1M217.9 220.4h1M208.5 217.8h1M215.4 245.9h1M215.1 217.4h1M195.3 219.7h1M220.3 223.6h1M237.3 205.5h1M214.9 215.5h1M210.9 218.2h1M221.3 222.6h1M216.9 233.2h1M228.5 229.6h1M240.2 217.0h1M209.4 215.6h1M230.6 214.4h1M201.1 231.6h1M233.5 221.5h1M223.9 227.3h1M214.3 217.2h1M215.9 232.2h1M205.2 238.4h1M228.1 234.4h1M212.5 244.1h1M223.1 208.5h1M212.5 215.3h1M211.0 205.8h1M226.4 215.3h1M228.2 204.3h1M211.8 245.0h1M222.2 222.6h1M205.9 212.1h1M221.0 225.6h1M209.1 236.2h1M209.0 209.3h1M212.5 213.0h1M218.4 222.0h1M203.3 246.5h1M218.1 209.6h1M206.8 225.5h1M214.4 198.1h1M221.4 232.7h1M192.4 218.4h1M219.2 216.9h1M229.1 212.7h1M247.2 220.8h1M215.4 228.8h1M224.0 200.7h1M242.9 218.0h1M226.6 206.0h1M211.2 226.1h1M222.1 214.4h1M237.3 219.2h1M219.5 209.4h1M199.1 212.7h1M202.3 240.1h1M208.3 217.9h1M222.4 238.1h1M218.5 231.6h1M220.4 214.0h1M205.4 208.7h1M225.2 220.7h1M231.5 226.2h1M216.1 223.5h1M212.7 208.2h1M201.4 209.0h1M206.5 221.5h1M225.7 223.6h1M201.7 245.7h1M217.0 211.9h1M221.8 248.0h1M225.8 233.9h1M206.1 210.3h1M217.6 232.2h1M212.6 224.2h1M244.0 220.1h1M201.7 222.6h1M227.7 247.3h1M217.6 209.8h1M220.0 234.9h1M226.1 235.5h1M227.1 228.3h1M214.3 235.9h1M216.2 233.3h1M210.5 204.4h1M238.5 237.9h1M208.7 225.3h1M211.5 223.5h1M223.5 216.9h1M203.3 209.2h1M212.2 225.2h1M213.3 218.9h1M194.2 224.3h1M215.4 217.9h1M203.6 216.3h1M208.9 199.3h1M208.1 214.9h1M207.9 216.2h1M238.9 248.3h1M216.1 215.6h1M229.4 215.7h1M235.7 210.0h1M206.5 217.8h1M216.2 226.3h1M220.2 230.4h1M209.6 215.9h1M207.4 203.2h1M216.4 205.5h1M210.2 209.8h1M237.5 217.9h1M244.2 234.2h1M206.1 214.8h1M233.8 210.8h1M207.3 221.7h1M231.1 231.7h1M200.9 222.3h1M214.0 210.0h1M224.7 236.9h1M228.5 235.9h1M221.1 225.1h1M208.3 222.4h1M210.2 241.9h1M210.0 211.6h1M208.7 224.8h1M243.8 201.6h1M203.5 215.6h1M227.0 191.3h1M207.5 224.0h1M229.0 228.8h1M219.5 231.3h1M242.4 243.1h1M241.9 237.0h1M210.7 225.6h1M234.7 220.9h1M211.3 238.6h1M207.1 216.9h1M217.3 225.7h1M221.1 237.0h1M244.6 215.1h1M202.9 234.5h1M225.4 214.1h1M207.0 209.3h1M209.8 204.6h1M227.2 209.4h1M258.5 212.0h1M209.8 221.1h1M237.0 218.7h1M215.5 198.5h1M188.4 220.9h1M218.7 221.6h1M202.6 222.3h1M220.4 217.5h1M227.6 205.5h1M230.7 217.4h1M212.7 226.9h1M216.4 211.1h1M213.0 195.8h1M223.2 251.3h1M204.0 224.6h1M216.4 235.3h1M205.5 254.1h1M199.2 215.4h1M237.8 215.2h1M207.8 211.1h1M232.9 222.6h1M219.8 220.0h1M198.2 235.9h1M227.8 241.4h1M206.6 227.8h1M213.8 225.6h1M218.3 212.1h1M219.5 234.2h1M214.3 220.8h1M223.7 249.8h1M249.4 200.0h1M221.5 233.7h1M222.0 212.5h1M219.5 225.7h1M208.5 230.1h1M243.6 227.0h1M202.5 233.1h1M212.4 214.4h1M218.9 212.3h1M201.2 234.5h1M237.0 225.8h1M226.8 235.3h1M244.2 202.5h1M196.5 233.4h1M215.9 228.0h1M212.3 234.1h1M218.5 215.2h1M238.5 221.5h1M224.7 224.4h1M228.0 233.4h1M213.6 224.1h1M217.8 205.4h1M224.9 241.2h1M223.7 222.0h1M219.6 233.0h1M221.4 188.1h1M213.1 211.9h1M232.6 208.9h1M194.8 222.1h1M203.2 216.7h1M222.9 225.0h1M221.6 225.1h1M226.2 227.5h1M249.2 228.5h1M212.7 195.1h1M199.6 260.1h1M209.1 210.1h1M214.6 235.2h1M221.8 216.4h1M222.1 220.1h1M240.0 212.5h1M203.6 220.4h1M226.7 215.7h1M226.3 233.9h1M218.7 211.5h1M213.1 214.1h1M212.4 244.5h1M210.7 233.8h1M219.0 203.5h1M194.4 215.7h1M216.4 231.6h1M221.8 190.8h1M224.8 217.1h1M225.8 241.4h1M243.6 201.2h1M191.9 242.7h1M204.5 208.1h1M198.2 245.7h1M198.1 237.6h1M229.0 222.9h1M214.8 249.6h1M227.5 240.9h1M201.6 215.5h1M210.9 219.2h1M212.6 221.5h1M213.5 238.0h1M223.6 230.7h1M206.6 239.7h1M219.2 234.9h1M213.2 212.3h1M235.7 226.9h1M216.2 213.4h1M220.0 230.1h1M222.2 213.6h1M212.7 221.4h1M218.2 225.5h1M222.5 229.1h1M218.2 227.5h1M212.2 237.5h1M221.2 228.6h1M224.7 230.4h1M225.1 235.8h1M218.3 227.0h1M228.2 204.9h1M234.0 233.4h1M200.6 207.9h1M207.4 236.5h1M209.6 205.3h1M194.5 232.0h1M212.7 224.9h1M238.3 197.5h1M209.4 238.0h1M210.5 229.1h1M213.7 218.1h1M234.0 230.5h1M210.5 215.8h1M200.3 224.6h1M239.6 231.5h1M236.1 240.8h1M227.9 222.7h1M210.0 225.1h1M226.9 218.9h1M206.2 197.6h1M206.2 216.2h1M198.1 230.9h1M221.5 229.4h1M227.1 230.2h1M207.4 206.7h1M214.7 209.2h1M205.6 225.6h1M219.3 227.7h1M189.3 231.5h1M230.4 228.5h1M203.9 241.1h1M221.4 234.8h1M223.4 209.1h1M207.1 239.0h1M224.0 219.6h1M217.0 215.3h1M225.4 211.8h1M221.9 201.4h1M231.4 213.3h1M207.6 246.9h1M218.8 229.1h1M229.1 229.6h1M211.2 215.0h1M211.1 242.8h1M203.1 228.5h1M216.5 218.6h1M208.7 211.2h1M231.9 206.1h1M224.7 220.8h1M250.9 219.8h1M227.6 206.1h1M222.3 238.7h1M216.8 218.6h1M220.8 211.8h1M203.8 216.6h1M221.2 225.7h1M233.1 205.8h1M240.8 234.3h1M207.0 244.7h1M198.3 231.9h1M203.4 239.3h1M209.8 204.7h1M186.4 212.8h1M201.0 211.5h1M208.1 224.4h1M208.9 227.6h1M223.6 237.7h1M225.3 198.5h1M219.5 236.3h1M224.0 212.2h1M214.5 220.3h1M208.5 252.5h1M204.7 207.3h1M223.6 229.5h1M200.1 212.3h1M205.5 207.7h1M220.5 228.1h1M210.1 207.6h1M205.1 210.9h1M225.2 222.9h1M244.1 217.9h1M222.1 236.1h1M226.9 223.4h1M238.1 217.2h1M226.0 225.3h1M208.1 209.7h1M200.8 232.3h1M242.5 229.6h1M213.2 233.1h1M222.9 224.9h1M214.1 187.0h1M213.6 226.1h1M230.6 240.6h1M210.2 235.9h1M199.2 227.1h1M209.5 218.9h1M219.8 215.9h1M220.5 243.2h1M227.6 232.0h1M219.6 229.3h1M218.3 206.3h1M204.1 209.2h1M253.5 210.2h1M208.8 209.8h1M205.8 231.8h1M224.0 235.6h1M219.4 229.6h1M227.8 236.3h1M224.4 226.8h1M223.9 209.5h1M192.9 230.2h1M197.2 208.0h1M224.3 215.1h1M207.1 214.6h1M212.3 222.8h1M226.5 228.2h1M200.0 212.5h1M222.2 217.3h1M212.7 219.4h1M215.2 218.8h1M225.0 201.0h1M215.8 204.2h1M232.2 235.7h1M224.0 205.5h1M223.0 230.0h1M211.5 215.8h1M211.2 223.2h1M194.0 212.1h1M218.7 256.4h1M231.3 214.2h1M213.5 216.5h1M231.6 225.9h1M229.2 215.5h1M217.2 202.9h1M219.8 220.4h1M233.3 227.6h1M228.9 194.1h1M228.0 232.1h1M217.7 220.0h1M213.8 217.9h1M209.0 229.5h1M219.0 218.2h1M207.3 235.3h1M226.1 233.6h1M192.6 202.3h1M219.3 220.0h1M220.1 212.6h1M244.6 239.9h1M208.6 230.5h1M211.9 230.3h1M224.3 227.7h1M198.4 233.2h1M230.8 206.1h1M228.2 230.5h1M243.7 220.7h1M213.0 231.9h1M217.6 216.0h1M212.3 237.5h1M202.3 215.2h1M199.2 216.1h1M224.6 236.4h1M215.5 230.3h1M225.1 222.4h1M231.0 220.9h1M199.1 215.6h1M207.7 237.8h1M221.9 217.5h1M223.5 232.5h1M233.8 244.8h1M230.6 212.5h1M225.6 225.1h1M208.2 246.7h1M199.7 224.2h1M223.2 237.4h1M220.4 225.3h1M218.1 225.9h1M210.4 205.5h1M242.1 193.4h1M209.3 200.3h1M231.9 213.3h1M219.8 210.7h1M201.9 227.7h1M202.1 227.4h1M222.9 219.3h1M219.8 207.8h1M212.4 229.8h1M236.5 208.7h1M224.1 241.4h1M221.0 240.7h1M215.2 196.9h1M209.3 214.5h1M200.3 213.3h1M224.3 233.3h1M216.3 217.4h1M222.2 228.4h1M224.5 215.6h1M219.0 208.3h1M199.6 229.8h1M189.8 226.6h1M223.3 201.2h1M216.1 224.6h1M223.1 196.5h1M225.0 220.3h1M218.8 212.1h1M196.1 208.8h1M208.4 217.8h1M200.8 195.4h1M224.8 242.3h1M208.0 235.5h1M197.7 225.1h1M225.0 214.1h1M199.2 223.5h1M213.0 251.6h1M215.3 241.4h1M236.9 220.9h1M217.5 215.0h1M225.1 212.5h1M229.0 227.8h1M202.7 234.4h1M225.8 231.9h1M208.0 221.1h1M218.1 211.9h1M211.0 224.8h1M220.5 217.9h1M192.1 209.9h1M229.0 228.4h1M220.7 237.6h1M224.8 232.2h1M224.5 226.7h1M227.3 200.2h1M208.2 207.4h1M220.2 220.8h1M202.3 220.8h1M228.2 213.6h1M215.4 231.3h1M230.5 216.8h1M213.9 227.1h1M230.8 239.1h1M198.2 225.7h1M185.9 239.0h1M241.5 199.5h1M216.3 218.1h1M227.7 204.5h1M231.2 223.2h1M213.1 218.6h1M212.1 224.1h1M213.7 248.1h1M196.7 209.0h1M214.4 228.4h1M219.8 230.2h1M200.0 203.6h1M215.5 216.8h1M204.4 214.3h1M217.7 213.6h1M202.6 225.1h1M212.0 232.3h1M206.1 213.7h1M212.6 214.1h1M219.6 239.2h1M243.5 204.7h1M217.8 211.5h1M194.5 224.5h1M206.7 233.9h1M208.1 236.4h1M212.0 217.6h1M224.3 220.7h1M219.2 234.1h1M217.5 223.3h1M224.4 233.9h1M221.3 214.8h1M241.4 232.8h1M214.1 226.6h1M212.3 227.5h1M220.8 227.9h1M230.8 211.2h1M209.6 228.0h1M229.5 232.2h1M227.5 247.7h1M219.3 211.8h1M232.3 198.2h1M219.5 208.2h1M208.5 200.3h1M231.2 220.3h1M214.4 254.8h1M219.7 188.2h1M228.9 199.2h1M226.7 204.8h1M209.0 229.4h1M210.9 228.3h1M231.4 227.1h1M217.5 229.8h1M214.8 232.7h1M213.5 232.2h1M195.7 219.2h1M219.3 239.0h1M201.0 199.3h1M230.2 198.8h1M227.0 227.8h1M214.9 224.7h1M225.0 211.9h1M199.4 205.1h1M206.3 229.3h1M224.9 211.7h1M226.4 231.9h1M196.6 247.2h1M209.4 224.7h1M210.2 242.9h1M201.4 229.3h1M243.5 221.6h1M204.3 218.5h1M205.9 222.0h1M235.9 231.5h1M228.9 221.3h1M237.2 219.3h1M220.2 244.7h1M231.6 228.1h1M214.2 225.2h1M233.8 226.2h1M216.0 236.9h1M207.9 218.1h1M223.1 223.0h1M228.9 228.2h1M211.8 230.3h1M247.4 221.4h1M220.4 229.9h1M229.3 217.5h1M232.5 226.6h1M239.1 208.7h1M210.4 228.1h1M220.0 235.8h1M229.4 224.9h1M223.7 234.4h1M225.1 218.0h1M223.1 231.0h1M219.6 211.2h1M211.2 216.0h1M216.5 228.4h1M230.0 220.4h1M226.5 228.9h1M197.3 218.6h1M231.5 222.7h1M217.8 229.4h1M231.4 222.9h1M231.4 220.5h1M212.9 202.9h1M212.5 212.8h1M229.3 225.1h1M213.6 206.0h1M218.7 222.1h1M220.4 215.2h1M208.7 242.7h1M220.0 226.0h1M224.5 214.3h1M219.3 213.0h1M196.8 235.3h1M214.1 222.1h1M236.8 212.1h1M195.3 230.9h1M229.2 229.2h1M227.2 217.4h1M234.4 216.1h1M207.6 218.4h1M232.9 211.4h1M230.8 194.8h1M235.3 212.8h1M207.3 225.8h1M232.8 207.6h1M234.8 235.7h1M220.2 213.0h1M210.2 219.0h1M223.7 234.3h1M199.7 223.1h1M200.4 211.9h1M248.0 224.7h1M216.1 215.4h1M208.8 234.7h1M227.1 230.7h1M202.3 237.9h1M216.4 201.2h1M233.6 219.3h1M233.2 240.5h1M177.7 262.4h1M262.5 262.1h1M207.7 261.7h1M217.5 262.5h1M215.4 262.2h1M216.8 261.9h1M237.8 262.1h1M207.6 262.4h1M206.1 262.6h1M190.0 261.8h1M204.6 262.5h1M189.9 261.9h1M171.4 261.4h1M231.4 262.3h1M264.7 262.0h1M212.7 261.7h1M204.0 261.5h1M207.8 262.6h1M222.2 261.6h1M234.3 261.5h1M194.5 261.9h1M177.6 262.3h1M212.6 262.2h1M234.7 262.0h1M175.0 262.3h1M187.3 262.0h1M173.9 262.5h1M253.7 262.0h1M203.1 262.2h1M233.1 261.9h1M222.2 261.9h1M218.4 261.8h1M256.6 262.4h1M242.6 261.6h1M184.6 262.3h1M236.4 262.3h1M198.1 262.4h1M231.4 261.5h1M195.6 262.1h1M224.3 261.7h1M256.3 262.0h1M189.2 261.9h1M189.4 261.7h1M184.3 262.2h1M197.5 261.5h1M241.9 261.4h1M194.7 262.3h1M227.8 262.6h1M240.5 262.0h1M189.3 261.9h1M246.7 262.3h1M219.1 262.2h1M254.3 262.5h1M242.8 261.4h1M249.3 262.0h1M257.8 262.4h1M170.9 261.9h1M233.8 261.9h1M181.6 262.5h1M224.3 262.4h1M232.6 261.8h1M251.2 261.5h1M197.7 262.2h1M184.8 261.5h1M233.6 261.5h1M258.6 262.2h1M242.2 261.9h1M213.7 262.5h1M251.3 261.9h1M225.8 262.1h1M181.0 261.5h1M220.2 261.7h1M221.3 261.8h1M221.8 262.0h1M173.1 261.6h1M178.1 261.6h1M175.3 242.1h1M186.3 215.8h1M184.4 260.1h1M194.7 224.0h1M229.6 214.9h1M252.5 252.6h1M223.6 204.8h1M246.6 219.4h1M209.8 227.6h1M257.6 225.9h1M236.5 205.6h1M234.8 250.9h1M256.6 245.4h1M180.5 222.2h1M243.1 261.5h1M180.9 258.1h1M208.8 202.2h1M178.6 258.0h1M212.1 200.1h1M255.6 231.0h1M205.1 242.9h1M198.9 229.8h1M199.8 237.3h1M171.4 262.3h1M249.6 229.7h1M258.5 241.1h1M246.4 219.5h1M245.7 257.7h1M236.1 261.8h1M188.5 207.9h1M187.8 234.1h1M198.4 241.2h1M202.1 228.3h1M172.0 239.8h1M243.3 222.0h1M237.3 238.4h1M177.1 250.5h1M174.6 243.7h1M178.5 225.3h1M207.4 200.6h1M235.3 227.5h1M219.2 203.5h1M180.6 247.0h1M248.1 221.8h1M238.3 219.8h1M171.1 260.5h1M185.6 255.1h1M223.6 260.7h1M238.2 245.8h1M201.2 256.5h1M192.9 216.3h1M175.0 218.6h1M204.4 240.2h1M240.0 234.2h1M249.1 220.1h1M185.7 229.0h1M222.7 228.7h1M208.3 241.7h1M194.3 235.8h1M201.8 243.6h1M211.5 255.7h1M206.5 237.2h1M240.7 213.7h1M198.4 253.8h1M200.1 239.6h1M197.1 243.6h1M223.5 211.2h1M224.7 251.5h1M204.9 245.5h1M235.2 218.9h1M212.1 217.9h1M197.0 205.0h1M186.9 253.4h1M227.5 219.5h1M191.8 257.9h1M195.7 255.4h1M241.4 247.9h1M180.5 213.6h1M213.6 230.2h1M199.0 234.5h1M170.3 255.1h1M201.2 224.2h1M258.3 201.0h1M192.0 242.3h1M216.5 256.1h1M218.8 229.6h1M250.2 229.3h1M188.1 228.9h1M208.8 224.0h1M203.3 219.9h1M235.1 210.1h1M214.8 256.2h1M176.5 210.7h1M203.7 241.9h1M175.9 232.3h1M191.5 237.5h1M229.5 261.8h1M211.4 208.1h1M237.2 226.1h1M184.3 262.2h1M240.1 218.4h1M198.5 232.8h1M252.2 252.2h1M247.1 230.3h1M207.2 233.6h1M181.9 241.8h1M234.9 236.2h1M211.9 204.4h1M240.7 261.1h1M173.4 201.3h1M230.9 247.3h1M190.2 244.5h1M178.9 208.9h1M238.2 230.8h1M200.4 214.3h1M209.1 260.7h1M187.4 216.5h1M190.2 221.3h1M186.5 220.4h1M222.6 261.3h1M255.3 229.1h1M241.7 227.9h1M176.6 236.5h1M214.7 214.2h1M183.2 215.0h1M171.3 256.2h1M202.3 238.2h1M209.9 257.9h1M228.9 201.4h1M231.8 200.7h1M233.9 202.2h1M239.1 226.8h1M233.8 250.2h1M240.7 262.2h1M256.3 220.1h1M174.1 211.9h1M176.5 248.6h1M229.1 220.5h1M235.8 258.3h1M188.8 202.2h1M213.1 203.3h1M216.5 206.9h1M230.4 232.1h1M193.8 200.1h1M196.7 216.3h1M184.4 237.4h1M218.9 242.4h1M241.1 222.4h1M259.6 242.9h1M259.9 243.5h1M170.7 255.9h1M210.9 209.1h1M245.6 210.1h1M214.6 236.8h1M207.3 235.2h1M250.7 235.4h1M202.9 262.6h1M201.2 217.5h1M241.3 248.1h1M204.1 253.4h1M216.8 237.3h1M196.6 234.3h1M179.4 231.1h1M240.1 244.1h1M204.0 233.8h1M240.7 253.8h1M202.1 249.0h1M231.5 253.3h1M230.1 243.7h1M214.3 261.5h1M213.0 255.6h1M243.5 261.7h1M204.5 228.0h1M210.0 222.6h1M203.7 254.7h1M177.5 260.6h1M218.5 246.4h1M233.9 249.4h1M256.9 253.1h1M192.7 254.8h1M247.4 251.7h1M217.3 228.8h1M203.2 220.6h1M187.0 210.2h1M188.2 201.5h1M224.4 224.5h1M254.4 227.6h1M174.3 249.0h1M226.9 240.2h1M202.5 253.3h1M174.5 254.4h1M176.9 227.5h1M237.3 232.0h1M208.1 237.2h1M199.1 206.7h1M257.5 222.3h1M255.1 207.6h1M174.9 243.8h1M209.5 202.8h1M185.9 245.2h1M178.9 203.0h1M170.5 238.3h1M251.6 201.8h1M212.4 214.3h1M233.9 229.5h1M234.2 218.5h1M251.5 206.4h1M229.9 207.6h1M241.0 213.8h1M217.7 203.3h1M222.8 205.2h1M204.4 254.2h1M206.7 240.1h1M203.5 261.8h1M188.3 215.2h1M201.0 237.5h1M188.9 216.6h1M256.6 234.0h1M201.8 217.9h1M252.9 227.1h1M204.5 228.7h1M248.7 246.0h1M207.6 233.4h1M200.4 244.4h1M255.7 211.9h1M242.6 227.9h1M186.2 225.2h1M187.3 247.4h1M232.7 244.8h1M216.6 248.6h1M195.5 213.4h1M217.5 214.1h1M185.8 219.3h1M199.8 236.7h1M195.9 204.9h1M192.0 205.0h1M234.3 232.0h1M190.1 202.8h1M258.5 240.4h1M234.8 241.5h1M211.9 259.6h1M233.7 250.6h1M251.7 256.0h1M175.8 232.2h1M176.4 231.3h1M248.9 203.8h1M250.3 250.9h1M173.9 233.6h1M250.2 255.1h1M238.7 229.8h1M212.9 237.8h1M243.9 216.5h1M219.9 244.1h1M216.9 212.4h1M247.7 228.5h1M257.1 237.8h1M223.5 236.9h1M192.6 231.0h1M231.7 237.4h1M229.4 247.3h1M235.5 223.0h1M243.3 225.4h1M227.2 234.0h1M239.5 213.6h1M202.6 246.6h1M235.5 241.5h1M260.0 214.5h1M250.8 230.8h1M255.2 248.0h1M220.0 225.0h1M172.2 203.7h1M233.2 213.5h1M184.8 245.4h1M229.4 203.5h1M170.7 244.4h1M171.7 244.7h1M173.6 250.6h1M170.9 249.7h1M172.3 233.5h1M171.1 259.6h1M171.1 247.7h1M173.9 251.2h1M172.1 241.9h1M170.7 241.4h1M170.6 245.0h1M174.2 262.2h1M170.2 243.5h1M172.7 259.9h1M171.4 247.4h1M171.8 247.4h1M170.2 229.7h1M170.5 233.3h1M172.5 254.5h1M171.5 236.4h1M170.7 241.9h1M173.6 256.5h1M171.6 253.6h1M170.4 248.9h1M170.6 244.6h1M171.0 233.6h1M171.5 231.3h1M171.3 245.7h1M172.0 248.1h1M170.9 248.4h1M171.9 245.8h1" stroke="#000" stroke-width="1.0" stroke-opacity="0.7" fill="none"/>
<ellipse cx="194.5" cy="242.5" rx="12.5" ry="5.8" fill="#cccccc" opacity="0.92" filter="url(#bl)" transform="rotate(-35 194.5 242.5)"/>
<ellipse cx="243" cy="201.5" rx="11" ry="4.2" fill="#cccccc" opacity="0.9" filter="url(#bl)" transform="rotate(-7 243 201.5)"/>
</g>
<path d="M169 217.4H221.8V263.6" fill="none" stroke="#111" stroke-width="1.4"/>
<text transform="translate(167.8,275.6) scale(0.72,1)" font-size="6.6" text-anchor="middle" class="ss" font-style="italic" fill="#222">10<tspan font-size="4.4" dy="-2.6">0</tspan></text>
<text transform="translate(164.5,269.5) scale(0.72,1)" font-size="6.6" text-anchor="end" class="ss" font-style="italic" fill="#222">10<tspan font-size="4.4" dy="-2.6">0</tspan></text>
<text transform="translate(193.0,275.6) scale(0.72,1)" font-size="6.6" text-anchor="middle" class="ss" font-style="italic" fill="#222">10<tspan font-size="4.4" dy="-2.6">1</tspan></text>
<text transform="translate(164.5,247.2) scale(0.72,1)" font-size="6.6" text-anchor="end" class="ss" font-style="italic" fill="#222">10<tspan font-size="4.4" dy="-2.6">1</tspan></text>
<text transform="translate(218.1,275.6) scale(0.72,1)" font-size="6.6" text-anchor="middle" class="ss" font-style="italic" fill="#222">10<tspan font-size="4.4" dy="-2.6">2</tspan></text>
<text transform="translate(164.5,225.0) scale(0.72,1)" font-size="6.6" text-anchor="end" class="ss" font-style="italic" fill="#222">10<tspan font-size="4.4" dy="-2.6">2</tspan></text>
<text transform="translate(243.3,275.6) scale(0.72,1)" font-size="6.6" text-anchor="middle" class="ss" font-style="italic" fill="#222">10<tspan font-size="4.4" dy="-2.6">3</tspan></text>
<text transform="translate(164.5,202.7) scale(0.72,1)" font-size="6.6" text-anchor="end" class="ss" font-style="italic" fill="#222">10<tspan font-size="4.4" dy="-2.6">3</tspan></text>
<text transform="translate(268.4,275.6) scale(0.72,1)" font-size="6.6" text-anchor="middle" class="ss" font-style="italic" fill="#222">10<tspan font-size="4.4" dy="-2.6">4</tspan></text>
<text transform="translate(164.5,180.4) scale(0.72,1)" font-size="6.6" text-anchor="end" class="ss" font-style="italic" fill="#222">10<tspan font-size="4.4" dy="-2.6">4</tspan></text>
<text x="173.2" y="214.5" font-size="12.5" text-anchor="start" class="sf" font-weight="bold" >64%</text>
<path d="M341.4 45.79999999999998V287.4M337.4 287.4H512.5" stroke="#777" stroke-width="1.2" fill="none"/>
<path d="M337.4 287.4H341.4" stroke="#777" stroke-width="1.2"/>
<text x="327.5" y="292.0" font-size="12.5" text-anchor="end" class="sf" font-weight="bold" >0</text>
<path d="M337.4 226.99999999999997H341.4" stroke="#777" stroke-width="1.2"/>
<text x="327.5" y="231.59999999999997" font-size="12.5" text-anchor="end" class="sf" font-weight="bold" >20</text>
<path d="M337.4 166.59999999999997H341.4" stroke="#777" stroke-width="1.2"/>
<text x="327.5" y="171.19999999999996" font-size="12.5" text-anchor="end" class="sf" font-weight="bold" >40</text>
<path d="M337.4 106.19999999999999H341.4" stroke="#777" stroke-width="1.2"/>
<text x="327.5" y="110.79999999999998" font-size="12.5" text-anchor="end" class="sf" font-weight="bold" >60</text>
<path d="M337.4 45.79999999999998H341.4" stroke="#777" stroke-width="1.2"/>
<text x="327.5" y="50.399999999999984" font-size="12.5" text-anchor="end" class="sf" font-weight="bold" >80</text>
<path d="M341.4 287.4v4" stroke="#777" stroke-width="1.2"/>
<path d="M398.7 287.4v4" stroke="#777" stroke-width="1.2"/>
<path d="M456 287.4v4" stroke="#777" stroke-width="1.2"/>
<path d="M512.3 287.4v4" stroke="#777" stroke-width="1.2"/>
<path d="M370.25 214.31599999999997V204.652M366.25 204.652h8" stroke="#000" stroke-width="1.6" fill="none"/>
<rect x="352.7" y="214.31599999999997" width="35.1" height="73.084" fill="#fff" stroke="#000" stroke-width="1.5"/>
<path d="M428.1 130.66199999999998V120.99799999999996M424.1 120.99799999999996h8" stroke="#000" stroke-width="1.6" fill="none"/>
<rect x="409.6" y="129.962" width="37.0" height="157.438" fill="#000"/>
<path d="M485.7 107.70999999999998V98.64999999999998M481.7 98.64999999999998h8" stroke="#000" stroke-width="1.6" fill="none"/>
<rect x="467" y="107.00999999999998" width="37.39999999999998" height="180.39" fill="#6e6e6e"/>
<text x="428" y="123.3" font-size="21" text-anchor="middle" class="ss" font-weight="normal" >*</text>
<text x="486.3" y="100.5" font-size="21" text-anchor="middle" class="ss" font-weight="normal" >*</text>
<text x="370.7" y="302" font-size="13" text-anchor="middle" class="sf" font-weight="bold" >Control</text>
<text x="401.2" y="302" font-size="13" text-anchor="start" class="sf" font-weight="bold">N-Ras<tspan font-size="8" dy="-4.6">G12D</tspan></text>
<text x="464.5" y="302" font-size="13" text-anchor="start" class="sf" font-weight="bold">H-Ras<tspan font-size="8" dy="-4.6">G12V</tspan></text>
<text transform="translate(306,166.6) rotate(-90)" font-size="12.6" text-anchor="middle" class="sf" font-weight="bold">Mean % Viable Cells</text>
<text x="3.3" y="329.8" font-size="18.5" text-anchor="start" class="ss" font-weight="bold" >B</text>
<path d="M59.3 326.20000000000005V497H270.2" stroke="#777" stroke-width="1.3" fill="none"/>
<path d="M55.8 497.0H59.3" stroke="#777" stroke-width="1.3"/>
<text x="46.3" y="501.2" font-size="12" text-anchor="end" class="sf" font-weight="bold" >0</text>
<path d="M55.8 472.6H59.3" stroke="#777" stroke-width="1.3"/>
<text x="46.3" y="476.8" font-size="12" text-anchor="end" class="sf" font-weight="bold" >10</text>
<path d="M55.8 448.2H59.3" stroke="#777" stroke-width="1.3"/>
<text x="46.3" y="452.4" font-size="12" text-anchor="end" class="sf" font-weight="bold" >20</text>
<path d="M55.8 423.8H59.3" stroke="#777" stroke-width="1.3"/>
<text x="46.3" y="428.0" font-size="12" text-anchor="end" class="sf" font-weight="bold" >30</text>
<path d="M55.8 399.4H59.3" stroke="#777" stroke-width="1.3"/>
<text x="46.3" y="403.59999999999997" font-size="12" text-anchor="end" class="sf" font-weight="bold" >40</text>
<path d="M55.8 375.0H59.3" stroke="#777" stroke-width="1.3"/>
<text x="46.3" y="379.2" font-size="12" text-anchor="end" class="sf" font-weight="bold" >50</text>
<path d="M55.8 350.6H59.3" stroke="#777" stroke-width="1.3"/>
<text x="46.3" y="354.8" font-size="12" text-anchor="end" class="sf" font-weight="bold" >60</text>
<path d="M55.8 326.20000000000005H59.3" stroke="#777" stroke-width="1.3"/>
<text x="46.3" y="330.40000000000003" font-size="12" text-anchor="end" class="sf" font-weight="bold" >70</text>
<path d="M59.3 497v4" stroke="#777" stroke-width="1.3"/>
<path d="M112 497v4" stroke="#777" stroke-width="1.3"/>
<path d="M164.7 497v4" stroke="#777" stroke-width="1.3"/>
<path d="M217.4 497v4" stroke="#777" stroke-width="1.3"/>
<path d="M269.6 497v4" stroke="#777" stroke-width="1.3"/>
<polyline points="86.3,353.8 138.8,365.5 191.3,388.8 243.8,405" fill="none" stroke="#000" stroke-width="2.1"/>
<polyline points="86.3,434.3 138.8,435.8 191.3,445.8 243.8,452.5" fill="none" stroke="#000" stroke-width="2.1"/>
<path d="M86.3 345.8V361.3M82.5 345.8h7.6M82.5 361.3h7.6" stroke="#000" stroke-width="1.4" fill="none"/>
<path d="M138.8 361.3V370M135.0 361.3h7.6M135.0 370h7.6" stroke="#000" stroke-width="1.4" fill="none"/>
<path d="M191.3 381.3V395.8M187.5 381.3h7.6M187.5 395.8h7.6" stroke="#000" stroke-width="1.4" fill="none"/>
<path d="M243.8 403V407M240.0 403h7.6M240.0 407h7.6" stroke="#000" stroke-width="1.4" fill="none"/>
<path d="M86.3 425V443.8M82.5 425h7.6M82.5 443.8h7.6" stroke="#000" stroke-width="1.4" fill="none"/>
<path d="M138.8 427V444.3M135.0 427h7.6M135.0 444.3h7.6" stroke="#000" stroke-width="1.4" fill="none"/>
<path d="M191.3 435.8V453.8M187.5 435.8h7.6M187.5 453.8h7.6" stroke="#000" stroke-width="1.4" fill="none"/>
<path d="M243.8 443.3V461.3M240.0 443.3h7.6M240.0 461.3h7.6" stroke="#000" stroke-width="1.4" fill="none"/>
<rect x="82.89999999999999" y="350.40000000000003" width="6.8" height="6.8" fill="#777"/>
<rect x="135.4" y="362.1" width="6.8" height="6.8" fill="#777"/>
<rect x="187.9" y="385.40000000000003" width="6.8" height="6.8" fill="#777"/>
<rect x="240.4" y="401.6" width="6.8" height="6.8" fill="#777"/>
<path d="M86.3 430.3L89.89999999999999 437.5H82.7Z" fill="#fff" stroke="#000" stroke-width="1.3"/>
<path d="M138.8 431.8L142.4 439.0H135.20000000000002Z" fill="#fff" stroke="#000" stroke-width="1.3"/>
<path d="M191.3 441.8L194.9 449.0H187.70000000000002Z" fill="#fff" stroke="#000" stroke-width="1.3"/>
<path d="M243.8 448.5L247.4 455.7H240.20000000000002Z" fill="#fff" stroke="#000" stroke-width="1.3"/>
<text x="191.6" y="383.8" font-size="20" text-anchor="middle" class="ss" font-weight="normal" >*</text>
<text x="244.4" y="405.5" font-size="20" text-anchor="middle" class="ss" font-weight="normal" >*</text>
<text x="86.3" y="517.6" font-size="12" text-anchor="middle" class="sf" font-weight="bold" >300</text>
<text x="138.8" y="517.6" font-size="12" text-anchor="middle" class="sf" font-weight="bold" >200</text>
<text x="191.3" y="517.6" font-size="12" text-anchor="middle" class="sf" font-weight="bold" >100</text>
<text x="243.8" y="517.6" font-size="12" text-anchor="middle" class="sf" font-weight="bold" >50</text>
<text x="158.7" y="540.3" font-size="12.6" text-anchor="middle" class="sf" font-weight="bold">Cell density (x10<tspan font-size="8" dy="-4">3</tspan><tspan dy="4"> cells/mL)</tspan></text>
<text transform="translate(21,410) rotate(-90)" font-size="12.5" text-anchor="middle" class="sf" font-weight="bold">Mean viable cells (%)</text>
<polyline points="91.4,485.5 122.2,485.5" fill="none" stroke="#000" stroke-width="2.1"/>
<path d="M107 482.70000000000005L109.61 487.92H104.39Z" fill="#fff" stroke="#000" stroke-width="1.3"/>
<text x="125" y="488.3" font-size="9.4" text-anchor="start" class="sf" font-weight="bold" >Control</text>
<polyline points="164.8,485.5 196,485.5" fill="none" stroke="#000" stroke-width="2.1"/>
<rect x="177.6" y="482.7" width="5.6" height="5.6" fill="#777"/>
<text x="200.2" y="483.8" font-size="7" text-anchor="start" class="sf" font-weight="bold" >†</text>
<text x="204.6" y="488.3" font-size="9.4" text-anchor="start" class="sf" font-weight="bold" >H-Ras</text>
<text x="228.8" y="484.3" font-size="6.4" text-anchor="start" class="sf" font-weight="bold" >G12V</text>
<text x="264" y="334.5" font-size="18.5" text-anchor="start" class="ss" font-weight="bold" >C</text>
<path d="M325.5 326.25V495H511.6" stroke="#777" stroke-width="1.3" fill="none"/>
<path d="M322.0 495.0H325.5" stroke="#777" stroke-width="1.3"/>
<text x="311" y="499.2" font-size="12" text-anchor="end" class="sf" font-weight="bold" >0</text>
<path d="M322.0 461.25H325.5" stroke="#777" stroke-width="1.3"/>
<text x="311" y="465.45" font-size="12" text-anchor="end" class="sf" font-weight="bold" >10</text>
<path d="M322.0 427.5H325.5" stroke="#777" stroke-width="1.3"/>
<text x="311" y="431.7" font-size="12" text-anchor="end" class="sf" font-weight="bold" >20</text>
<path d="M322.0 393.75H325.5" stroke="#777" stroke-width="1.3"/>
<text x="311" y="397.95" font-size="12" text-anchor="end" class="sf" font-weight="bold" >30</text>
<path d="M322.0 360.0H325.5" stroke="#777" stroke-width="1.3"/>
<text x="311" y="364.2" font-size="12" text-anchor="end" class="sf" font-weight="bold" >40</text>
<path d="M322.0 326.25H325.5" stroke="#777" stroke-width="1.3"/>
<text x="311" y="330.45" font-size="12" text-anchor="end" class="sf" font-weight="bold" >50</text>
<path d="M325.5 495v4" stroke="#777" stroke-width="1.3"/>
<path d="M362.6 495v4" stroke="#777" stroke-width="1.3"/>
<path d="M399.7 495v4" stroke="#777" stroke-width="1.3"/>
<path d="M436.8 495v4" stroke="#777" stroke-width="1.3"/>
<path d="M473.9 495v4" stroke="#777" stroke-width="1.3"/>
<path d="M511.0 495v4" stroke="#777" stroke-width="1.3"/>
<polyline points="343.8,427.5 380.8,377.5 418,376.3 455.5,360.8" fill="none" stroke="#000" stroke-width="2.1"/>
<polyline points="343.8,427.5 380.8,417.5 418,393.8 455.5,383 492.5,371.3" fill="none" stroke="#000" stroke-width="2.1"/>
<path d="M343.8 417V449.3M340.0 417h7.6M340.0 449.3h7.6" stroke="#000" stroke-width="1.4" fill="none"/>
<path d="M380.8 347.5V377.5M377.0 347.5h7.6" stroke="#000" stroke-width="1.4" fill="none"/>
<path d="M418 365V376.3M414.2 365h7.6" stroke="#000" stroke-width="1.4" fill="none"/>
<path d="M380.8 417.5V425.5M377.0 425.5h7.6" stroke="#000" stroke-width="1.4" fill="none"/>
<path d="M418 393.8V408M414.2 408h7.6" stroke="#000" stroke-width="1.4" fill="none"/>
<path d="M455.5 383V387M451.7 387h7.6" stroke="#000" stroke-width="1.4" fill="none"/>
<path d="M492.5 371.3V375.5M488.7 375.5h7.6" stroke="#000" stroke-width="1.4" fill="none"/>
<path d="M343.8 423.4L347.04 429.88H340.56Z" fill="#fff" stroke="#000" stroke-width="1.3"/>
<path d="M380.8 373.4L384.04 379.88H377.56Z" fill="#fff" stroke="#000" stroke-width="1.3"/>
<path d="M418 372.2L421.24 378.68H414.76Z" fill="#fff" stroke="#000" stroke-width="1.3"/>
<path d="M455.5 356.7L458.74 363.18H452.26Z" fill="#fff" stroke="#000" stroke-width="1.3"/>
<path d="M343.8 423.4L347.04 429.88H340.56Z" fill="#fff" stroke="#000" stroke-width="1.3"/>
<path d="M380.8 413.4L384.04 419.88H377.56Z" fill="#fff" stroke="#000" stroke-width="1.3"/>
<path d="M418 389.7L421.24 396.18H414.76Z" fill="#fff" stroke="#000" stroke-width="1.3"/>
<path d="M455.5 378.9L458.74 385.38H452.26Z" fill="#fff" stroke="#000" stroke-width="1.3"/>
<path d="M492.5 367.2L495.74 373.68H489.26Z" fill="#fff" stroke="#000" stroke-width="1.3"/>
<text x="455.5" y="406.6" font-size="20" text-anchor="middle" class="ss" font-weight="normal" >*</text>
<text x="492.5" y="394.3" font-size="20" text-anchor="middle" class="ss" font-weight="normal" >*</text>
<text x="343.8" y="518.6" font-size="10.7" text-anchor="middle" class="sf" font-weight="bold" >0:100</text>
<text x="380.8" y="518.6" font-size="10.7" text-anchor="middle" class="sf" font-weight="bold" >10:90</text>
<text x="418" y="518.6" font-size="10.7" text-anchor="middle" class="sf" font-weight="bold" >30:70</text>
<text x="455.5" y="518.6" font-size="10.7" text-anchor="middle" class="sf" font-weight="bold" >50:50</text>
<text x="492.5" y="518.6" font-size="10.7" text-anchor="middle" class="sf" font-weight="bold" >70:30</text>
<text x="425.5" y="539.4" font-size="12.65" text-anchor="middle" class="sf" font-weight="bold" >Ratio of Ras cells to Control</text>
<text transform="translate(290.2,410.3) rotate(-90)" font-size="12.7" text-anchor="middle" class="sf" font-weight="bold">Mean viable cells (%)</text>
<polyline points="369,463.5 399,463.5" fill="none" stroke="#000" stroke-width="2.0"/>
<path d="M384 460.5L386.61 465.71999999999997H381.39Z" fill="#fff" stroke="#000" stroke-width="1.3"/>
<text x="403.5" y="466.6" font-size="9.3" text-anchor="start" class="sf" font-weight="bold" >**Control</text>
<polyline points="369,481.5 399,481.5" fill="none" stroke="#000" stroke-width="2.0"/>
<path d="M384 478.5L386.61 483.71999999999997H381.39Z" fill="#fff" stroke="#000" stroke-width="1.3"/>
<text x="403.5" y="484.6" font-size="9.4" text-anchor="start" class="sf" font-weight="bold" >Control + Catalase</text>
<text x="4" y="566.3" font-size="18.5" text-anchor="start" class="ss" font-weight="bold" >D</text>
<path d="M61.2 567.6V726H269.2" stroke="#777" stroke-width="1.3" fill="none"/>
<path d="M57.7 726.0H61.2" stroke="#777" stroke-width="1.3"/>
<text x="48.6" y="730.2" font-size="12" text-anchor="end" class="sf" font-weight="bold" >0</text>
<path d="M57.7 699.6H61.2" stroke="#777" stroke-width="1.3"/>
<text x="48.6" y="703.8000000000001" font-size="12" text-anchor="end" class="sf" font-weight="bold" >10</text>
<path d="M57.7 673.2H61.2" stroke="#777" stroke-width="1.3"/>
<text x="48.6" y="677.4000000000001" font-size="12" text-anchor="end" class="sf" font-weight="bold" >20</text>
<path d="M57.7 646.8H61.2" stroke="#777" stroke-width="1.3"/>
<text x="48.6" y="651.0" font-size="12" text-anchor="end" class="sf" font-weight="bold" >30</text>
<path d="M57.7 620.4H61.2" stroke="#777" stroke-width="1.3"/>
<text x="48.6" y="624.6" font-size="12" text-anchor="end" class="sf" font-weight="bold" >40</text>
<path d="M57.7 594.0H61.2" stroke="#777" stroke-width="1.3"/>
<text x="48.6" y="598.2" font-size="12" text-anchor="end" class="sf" font-weight="bold" >50</text>
<path d="M57.7 567.6H61.2" stroke="#777" stroke-width="1.3"/>
<text x="48.6" y="571.8000000000001" font-size="12" text-anchor="end" class="sf" font-weight="bold" >60</text>
<path d="M61.2 726v4" stroke="#777" stroke-width="1.3"/>
<path d="M130.4 726v4" stroke="#777" stroke-width="1.3"/>
<path d="M199.3 726v4" stroke="#777" stroke-width="1.3"/>
<path d="M268.6 726v4" stroke="#777" stroke-width="1.3"/>
<polyline points="96.8,635.5 165.5,616.3 234.5,595.5" fill="none" stroke="#000" stroke-width="2.1"/>
<polyline points="96.8,679.5 165.5,672.5 234.5,672.5" fill="none" stroke="#000" stroke-width="2.1"/>
<path d="M96.8 630V640.8M93.0 630h7.6M93.0 640.8h7.6" stroke="#000" stroke-width="1.4" fill="none"/>
<path d="M165.5 606.3V625.8M161.7 606.3h7.6M161.7 625.8h7.6" stroke="#000" stroke-width="1.4" fill="none"/>
<path d="M234.5 592V599M230.7 592h7.6M230.7 599h7.6" stroke="#000" stroke-width="1.4" fill="none"/>
<path d="M96.8 673V685.8M93.0 673h7.6M93.0 685.8h7.6" stroke="#000" stroke-width="1.4" fill="none"/>
<path d="M165.5 665.5V679.5M161.7 665.5h7.6M161.7 679.5h7.6" stroke="#000" stroke-width="1.4" fill="none"/>
<path d="M234.5 662.5V681.8M230.7 662.5h7.6M230.7 681.8h7.6" stroke="#000" stroke-width="1.4" fill="none"/>
<rect x="93.39999999999999" y="632.1" width="6.8" height="6.8" fill="#777"/>
<rect x="162.1" y="612.9" width="6.8" height="6.8" fill="#777"/>
<rect x="231.1" y="592.1" width="6.8" height="6.8" fill="#777"/>
<path d="M96.8 675.5L100.39999999999999 682.7H93.2Z" fill="#fff" stroke="#000" stroke-width="1.3"/>
<path d="M165.5 668.5L169.1 675.7H161.9Z" fill="#fff" stroke="#000" stroke-width="1.3"/>
<path d="M234.5 668.5L238.1 675.7H230.9Z" fill="#fff" stroke="#000" stroke-width="1.3"/>
<text x="234.5" y="594.8" font-size="20" text-anchor="middle" class="ss" font-weight="normal" >*</text>
<text x="96.5" y="747.5" font-size="12" text-anchor="middle" class="sf" font-weight="bold" >0</text>
<text x="165.8" y="747.5" font-size="12" text-anchor="middle" class="sf" font-weight="bold" >50</text>
<text x="235" y="747.5" font-size="12" text-anchor="middle" class="sf" font-weight="bold" >100</text>
<text x="165.8" y="763.7" font-size="12.6" text-anchor="middle" class="sf" font-weight="bold" >Catalase (μg/mL)</text>
<text transform="translate(21,643.3) rotate(-90)" font-size="12.6" text-anchor="middle" class="sf" font-weight="bold">Mean viable cells (%)</text>
<polyline points="97.6,711 128.8,711" fill="none" stroke="#000" stroke-width="2.1"/>
<path d="M113.2 708.3000000000001L115.81 713.5200000000001H110.59Z" fill="#fff" stroke="#000" stroke-width="1.3"/>
<text x="131.5" y="714" font-size="9.4" text-anchor="start" class="sf" font-weight="bold" >Control</text>
<polyline points="174.8,711 207.7,711" fill="none" stroke="#000" stroke-width="2.1"/>
<rect x="188.2" y="708.2" width="5.6" height="5.6" fill="#777"/>
<text x="210.8" y="710.5" font-size="8" text-anchor="start" class="sf" font-weight="bold" >**</text>
<text x="218.8" y="714" font-size="9.4" text-anchor="start" class="sf" font-weight="bold" >H-Ras</text>
<text x="243.3" y="710" font-size="6.8" text-anchor="start" class="sf" font-weight="bold" >G12V</text>
<text x="287" y="567" font-size="18.5" text-anchor="start" class="ss" font-weight="bold" >E</text>
<text x="373" y="595.3" font-size="12.3" text-anchor="start" class="sf" font-weight="bold" >Cont.</text>
<text x="424" y="595.3" font-size="12.2" text-anchor="start" class="sf" font-weight="bold" >H-Ras</text>
<text x="457.2" y="590.6" font-size="8.2" text-anchor="start" class="sf" font-weight="bold" >G12V</text>
<text x="359.3" y="617.1" font-size="12.4" text-anchor="end" class="sf" font-weight="bold" >DPI</text>
<path d="M386.3 612.6h5.2M423.2 612.6h5.6" stroke="#111" stroke-width="2"/>
<path d="M458 611.7h9.2M462.6 607v9.4" stroke="#111" stroke-width="1.2"/>
<text x="360" y="639.2" font-size="12.4" text-anchor="end" class="sf" font-weight="bold" >p-Akt(S473)</text>
<text x="359.3" y="661.2" font-size="12.4" text-anchor="end" class="sf" font-weight="bold" >Total Akt</text>
<text x="359.3" y="681.5" font-size="12.4" text-anchor="end" class="sf" font-weight="bold" >GAPDH</text>
<rect x="367.5" y="625" width="112" height="20" fill="#efefef"/>
<rect x="367.5" y="648.3" width="112" height="19.8" fill="#e6e6e6"/>
<rect x="367.5" y="671.3" width="112" height="14.6" fill="#ececec"/>
<clipPath id="cpe1"><rect x="367.5" y="625" width="112" height="20"/></clipPath>
<clipPath id="cpe2"><rect x="367.5" y="648.3" width="112" height="19.8"/></clipPath>
<clipPath id="cpe3"><rect x="367.5" y="671.3" width="112" height="14.6"/></clipPath>
<g clip-path="url(#cpe1)">
<rect x="410" y="631.3" width="28" height="6" rx="3.0" fill="#555" opacity="0.9" filter="url(#bl4)"/>
<rect x="447" y="632.4" width="31.5" height="6.8" rx="3.4" fill="#606060" opacity="0.85" filter="url(#bl4)"/>
</g><g clip-path="url(#cpe2)">
<rect x="368" y="652.0" width="34.5" height="12" rx="6.0" fill="#777" opacity="0.6" filter="url(#bl4)"/>
<rect x="369" y="653.3" width="32.5" height="9.4" rx="4.7" fill="#000" opacity="1" filter="url(#bl2)"/>
<rect x="371" y="655.0" width="28.5" height="6" rx="3.0" fill="#000" opacity="1" filter="url(#bl3)"/>
<rect x="407.5" y="652.0" width="32.5" height="12" rx="6.0" fill="#777" opacity="0.6" filter="url(#bl4)"/>
<rect x="408.5" y="653.3" width="30.5" height="9.4" rx="4.7" fill="#000" opacity="1" filter="url(#bl2)"/>
<rect x="410.5" y="655.0" width="26.5" height="6" rx="3.0" fill="#000" opacity="1" filter="url(#bl3)"/>
<rect x="445" y="652.0" width="36" height="12" rx="6.0" fill="#777" opacity="0.6" filter="url(#bl4)"/>
<rect x="446" y="653.3" width="34" height="9.4" rx="4.7" fill="#000" opacity="1" filter="url(#bl2)"/>
<rect x="448" y="655.0" width="30" height="6" rx="3.0" fill="#000" opacity="1" filter="url(#bl3)"/>
</g><g clip-path="url(#cpe3)">
<rect x="369.5" y="675.5" width="31.5" height="5.4" rx="2.7" fill="#000" opacity="1" filter="url(#bl2)"/>
<rect x="371.5" y="676.5" width="27.5" height="3.4" rx="1.7" fill="#000" opacity="1" filter="url(#bl3)"/>
<rect x="409" y="675.5" width="29.5" height="5.4" rx="2.7" fill="#000" opacity="1" filter="url(#bl2)"/>
<rect x="411" y="676.5" width="25.5" height="3.4" rx="1.7" fill="#000" opacity="1" filter="url(#bl3)"/>
<rect x="446.5" y="675.5" width="33.0" height="5.4" rx="2.7" fill="#000" opacity="1" filter="url(#bl2)"/>
<rect x="448.5" y="676.5" width="29.0" height="3.4" rx="1.7" fill="#000" opacity="1" filter="url(#bl3)"/>
</g>
</svg></body></html>
